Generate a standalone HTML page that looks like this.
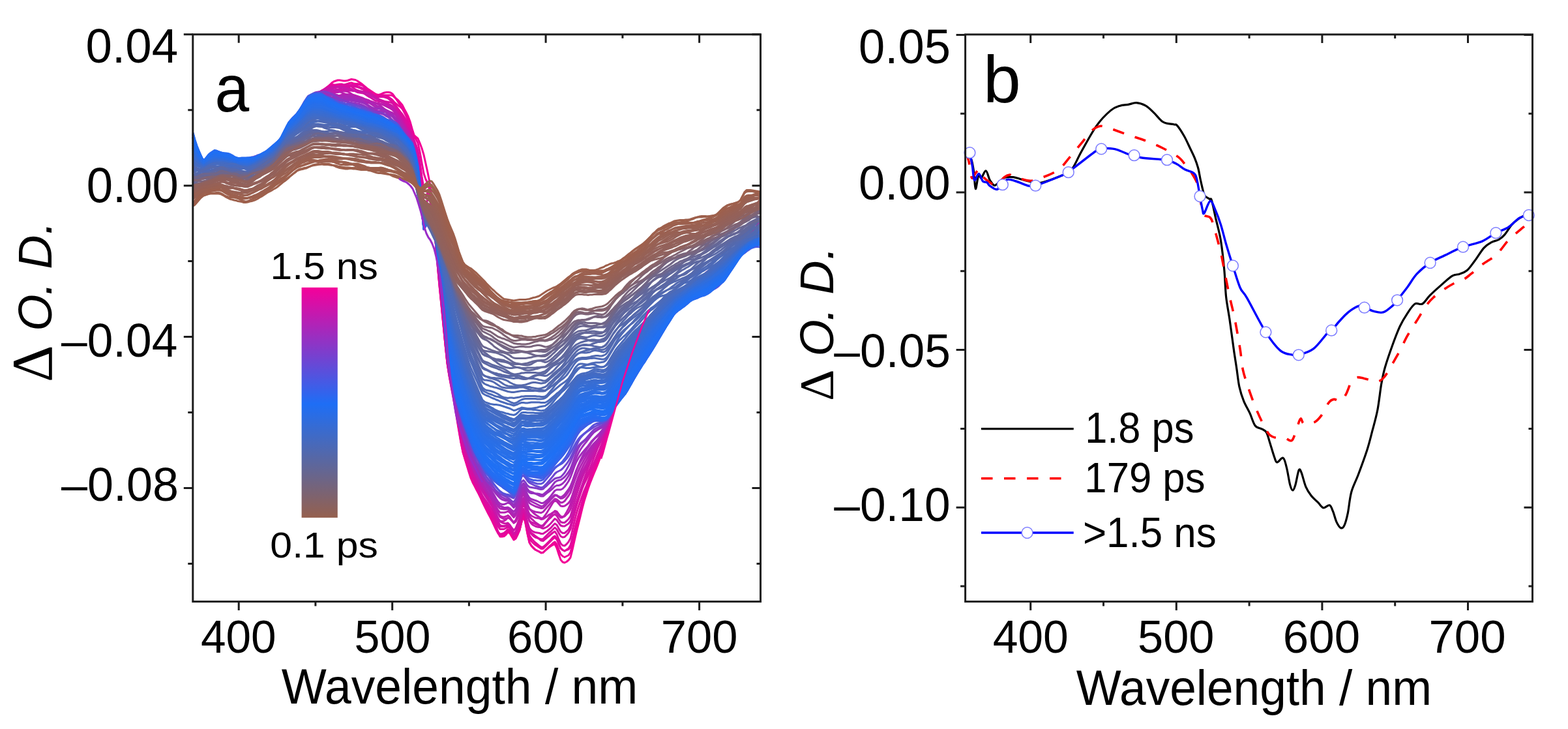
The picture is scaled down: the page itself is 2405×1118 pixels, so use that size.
<!DOCTYPE html><html><head><meta charset="utf-8"><style>html,body{margin:0;padding:0;background:#fff;overflow:hidden}</style></head><body><svg width="2405" height="1118" viewBox="0 0 2405 1118" style="font-family:'Liberation Sans',sans-serif;display:block">
<rect width="100%" height="100%" fill="#fff"/>
<defs><linearGradient id="cb" x1="0" y1="0" x2="0" y2="1"><stop offset="0" stop-color="#f5009a"/><stop offset="0.506" stop-color="#1e6ef5"/><stop offset="1" stop-color="#95604e"/></linearGradient></defs>
<g><g fill="none" stroke-width="3" stroke-linejoin="round"><path d="M476 152l3-1 3-0.5 3-0.5 3-1 3-1.5 3-2.5 3-3 3-3.5 3-4.5 3-4 3-3 3-2 3-1 3-1 3 0 3 0.5 3 0.5 3 0 3-0.5 3-1 3-1 3 0.5 3 0.5 3 1.5 3 2 3 2 3 2.5 3 2.5 3 2.5 3 2 3 2 3 2 3 2 3 1.5 3 0.5 3 0.5 3 0 3 0 3 0 3 0 3 0 3 0.5 3 2.5 3 2.5 3 2.5 3 3.5 3 3.5 3 6 3 5.5 3 6 3 8 3 11 3 9.5 3 3 3 2.5 3 7 3 8 3 10 3 13.5 3 13.5 3 15 3 22 3 28.5 3 36.5 3 38.5 3 33.5 3 30 3 30.5 3 29.5 3 27.5 3 18 3 15.5 3 15.5 3 17 3 19 3 18.5 3 18.5 3 15 3 10 3 9.5 3 9 3 9 3 7 3 5.5 3 6.5 3 6.5 3 6.5 3 7 3 5.5 3 5.5 3 4.5 3 4.5 3 5 3 7.5 3 7.5 3 8 3 5.5 3 0 3-0.5 3-2.5 3-4 3 2 3 5 3 5 3-2 3-6 3-7 3-13 3-10 3 12 3 16.5 3 13.5 3 5 3 3 3 3 3 1.5 3 1.5 3 1.5 3 0 3-3 3-2.5 3-2.5 3-2 3-2 3-1 3 6 3 9.5 3 8.5 3 3.5 3 1 3-1.5 3-2.5 3-4 3-12 3-13.5 3-13 3-12 3-12 3-12.5 3-11.5 3-9.5 3-9.5 3-8.5 3-7.5 3-7.5 3-7 3-7.5 3-8 3-9.5 3-11 3-12.5 3-12.5 3-12 3-10 3-10 3-9 3-9.5 3-8.5 3-9 3-8 3-8 3-8 3-9 3-9 3-9 3-8.5 3-8 3-7.5 3-7 3-7 3-6 3-5.5 3-1.5 3-1 3-2 3-3 3-3 3-3.5 3-3 3-2.5 3-2.5 3-2.5 3-2.5 3-2.5 3-1.5 3-1 3-1 3-1 3-1 3-2 3-2 3-2.5 3-2.5 3-2.5 3-2.5 3-2.5 3-3 3-3.5 3-3 3-3.5 3-3 3-3 3-2.5 3-2 3-1.5 3-1.5 3-1.5 3-1.5 3-2.5 3-3.5 3-3 3-3.5 3-3.5 3-3 3-3 3-4 3-3.5 3-4 3-3.5 3-3.5 3-2 3-1.5 3-1.5 3-1 3-2 3-2 3-2.5 3-3 3-3 3-3 1-0.5" stroke="#f30096"/>
<path d="M476 151.5l3-2.5 3-2 3-2 3-2 3-1.5 3-2 3-2.5 3-2 3-2.5 3-2 3-1 3 0.5 3 0.5 3 1 3 0 3 0 3-1 3-1 3-1 3-1 3-0.5 3 1 3 0.5 3 0 3 0.5 3 1 3 1.5 3 3 3 3 3 3 3 3 3 2 3 1 3 0.5 3-1.5 3-1 3-1.5 3-1 3-0.5 3 0 3 0.5 3 2 3 4 3 4.5 3 4.5 3 4.5 3 4.5 3 5.5 3 5.5 3 5 3 7 3 9.5 3 10 3 5 3 6 3 13.5 3 17 3 16 3 9 3 6 3 10.5 3 19 3 25.5 3 33.5 3 36 3 32 3 29.5 3 30.5 3 30.5 3 29 3 19 3 17 3 16 3 17 3 18 3 18 3 17 3 14.5 3 10 3 10 3 10 3 9.5 3 7 3 5.5 3 6 3 5.5 3 6 3 6.5 3 6.5 3 6 3 6 3 5.5 3 6 3 6.5 3 6.5 3 5.5 3 3 3-1.5 3-1.5 3-2 3-3 3 2.5 3 6 3 5 3-1.5 3-6 3-6.5 3-12.5 3-9.5 3 12 3 16 3 13.5 3 5 3 3.5 3 2.5 3 1.5 3 1.5 3 2 3-0.5 3-3 3-3 3-3 3-2.5 3-3 3-2 3 4 3 8 3 7 3 3 3 1.5 3-1.5 3-1.5 3-4.5 3-11.5 3-13.5 3-13 3-11.5 3-11 3-11.5 3-10 3-9 3-8.5 3-8 3-8.5 3-8 3-8.5 3-8 3-7.5 3-8 3-9 3-10 3-10.5 3-11.5 3-10 3-10.5 3-9.5 3-9.5 3-9.5 3-9 3-8.5 3-8 3-8 3-8.5 3-9 3-8.5 3-8 3-8 3-7 3-7 3-7 3-7.5 3-7 3-3 3-2 3-2 3-1.5 3-1.5 3-2 3-2 3-3 3-2.5 3-3.5 3-2.5 3-3 3-2 3-2.5 3-2.5 3-2.5 3-2 3-2 3-1.5 3-1.5 3-1.5 3-1.5 3-2 3-2 3-1.5 3-2 3-2 3-3 3-3 3-3 3-3 3-2.5 3-2.5 3-2.5 3-2.5 3-3 3-3.5 3-4 3-4 3-3 3-3 3-2.5 3-1.5 3-1.5 3-1.5 3-1.5 3-2 3-2.5 3-3.5 3-4 3-4 3-4 3-3.5 3-3.5 3-3.5 3-3.5 3-4 3-3.5 1-1" stroke="#ed0398"/>
<path d="M476 156.5l3-4 3-3 3-3.5 3-2.5 3-2.5 3-2 3-1.5 3-1.5 3-1.5 3-1.5 3-1 3-1 3-1 3-0.5 3-0.5 3 0 3 1 3 0.5 3 1 3 0 3-0.5 3 0 3-0.5 3-0.5 3 0 3 0.5 3 1 3 2.5 3 2.5 3 3 3 3 3 2.5 3 2 3 0.5 3-0.5 3-0.5 3-0.5 3 0.5 3 0.5 3 2 3 2 3 2.5 3 3.5 3 2.5 3 2.5 3 2 3 3 3 5 3 6 3 6.5 3 8.5 3 10.5 3 11 3 7.5 3 9 3 17.5 3 22 3 18.5 3 4 3-1 3 6.5 3 16 3 23.5 3 31.5 3 35 3 31.5 3 30 3 31 3 31.5 3 29 3 19 3 15.5 3 15.5 3 16.5 3 17.5 3 17 3 17 3 13.5 3 8.5 3 8.5 3 9 3 9 3 7 3 6.5 3 6 3 6 3 6.5 3 6 3 5.5 3 6 3 5.5 3 6 3 6.5 3 8 3 8.5 3 8.5 3 5 3 0 3-0.5 3-3 3-4.5 3 1.5 3 4.5 3 5.5 3-1.5 3-5 3-6 3-12 3-10 3 10 3 14 3 11.5 3 4 3 3 3 2.5 3 2 3 2 3 2 3 0 3-3 3-3 3-3 3-3 3-3 3-2.5 3 3.5 3 7 3 6.5 3 2.5 3 1.5 3-1.5 3-1 3-3.5 3-11 3-12 3-11.5 3-10.5 3-11 3-11 3-11 3-9 3-9.5 3-8.5 3-8 3-8 3-7.5 3-7.5 3-7.5 3-8.5 3-9.5 3-11 3-11 3-11 3-10.5 3-10 3-9.5 3-9.5 3-9.5 3-8.5 3-8 3-6.5 3-7 3-7 3-7.5 3-7.5 3-7.5 3-7 3-7 3-6.5 3-6.5 3-7.5 3-7 3-4 3-3 3-2.5 3-2 3-2 3-2 3-2.5 3-2.5 3-3 3-2.5 3-2 3-1.5 3-1 3-1 3-1 3-1.5 3-2.5 3-3 3-3.5 3-3 3-3.5 3-3 3-2.5 3-1.5 3-1.5 3-2 3-1.5 3-2.5 3-3 3-3 3-2.5 3-2.5 3-2 3-1.5 3-2 3-2 3-2 3-2 3-2 3-2 3-2.5 3-2.5 3-3 3-3.5 3-3.5 3-3.5 3-4 3-4 3-4 3-4 3-3.5 3-3.5 3-3 3-3 3-3 3-3.5 3-4.5 3-5 1-1" stroke="#e8069b"/>
<path d="M476 152.5l3-3 3-2 3-2.5 3-2 3-2.5 3-2 3-1.5 3-2 3-2 3-1.5 3-1 3 0 3 0 3 0.5 3 0.5 3 0.5 3 0.5 3 0.5 3 0 3-0.5 3-0.5 3 0.5 3 0.5 3 0.5 3 1 3 1.5 3 1 3 2 3 1 3 1.5 3 1.5 3 2 3 2 3 1.5 3 0 3-0.5 3 0 3-0.5 3 0.5 3 1.5 3 2 3 3 3 4.5 3 4.5 3 4 3 4 3 3.5 3 4.5 3 4.5 3 4.5 3 6 3 9.5 3 11 3 9 3 12 3 21 3 26 3 20.5 3-0.5 3-8 3 2.5 3 13.5 3 21.5 3 30 3 33.5 3 32 3 31 3 31.5 3 32 3 29.5 3 19.5 3 16 3 15.5 3 16 3 18 3 17.5 3 17.5 3 14.5 3 10 3 9.5 3 9.5 3 9.5 3 8 3 6.5 3 6.5 3 6.5 3 7 3 6.5 3 6.5 3 5.5 3 5 3 5 3 5.5 3 7 3 7.5 3 7.5 3 4 3-1 3-1 3-2.5 3-3.5 3 2 3 5.5 3 4.5 3-2.5 3-6.5 3-7.5 3-12.5 3-9.5 3 10 3 14 3 12 3 4.5 3 3.5 3 3 3 2.5 3 2.5 3 2 3 0 3-2.5 3-3 3-3 3-3 3-3.5 3-2 3 4 3 7.5 3 7 3 3 3 1.5 3-2 3-2 3-5 3-11 3-12.5 3-11.5 3-10.5 3-10.5 3-11 3-10.5 3-9.5 3-9.5 3-9.5 3-9 3-8.5 3-8 3-8 3-7.5 3-7.5 3-8.5 3-9.5 3-9.5 3-10 3-8.5 3-9 3-9 3-8.5 3-8.5 3-8.5 3-8.5 3-8 3-7.5 3-8 3-8 3-7.5 3-8 3-8 3-8 3-7.5 3-7 3-7 3-6.5 3-2.5 3-1.5 3-2 3-2.5 3-2 3-2 3-2 3-1.5 3-1 3-2 3-1.5 3-2.5 3-2 3-2.5 3-2.5 3-2 3-2.5 3-2 3-2 3-2.5 3-2.5 3-2.5 3-2.5 3-3 3-3 3-3.5 3-3 3-3 3-2.5 3-2 3-1.5 3-1.5 3-1.5 3-1.5 3-2.5 3-2.5 3-3 3-2.5 3-3 3-3 3-2.5 3-3.5 3-3 3-3.5 3-3.5 3-3.5 3-3 3-2.5 3-1.5 3-2 3-2.5 3-3 3-3.5 3-4.5 3-5 3-5.5 3-6.5 3-6 1-1.5" stroke="#e2099d"/>
<path d="M476 155.5l3-3 3-2.5 3-2 3-2.5 3-2 3-1.5 3-1.5 3-1.5 3-1 3-0.5 3 0 3 1 3 0.5 3 0.5 3-0.5 3-1 3-1.5 3-2 3-2 3-1.5 3-1 3 0.5 3 1 3 1 3 1 3 1 3 1 3 2 3 2 3 2 3 2 3 2 3 2 3 1 3 0 3 0 3 0 3 0.5 3 1 3 1.5 3 2.5 3 3 3 4 3 3.5 3 4 3 4 3 4 3 5 3 5.5 3 5.5 3 6.5 3 9.5 3 11 3 10 3 12.5 3 23.5 3 29 3 22.5 3-2 3-10.5 3 1.5 3 13 3 21 3 28.5 3 33 3 31 3 30.5 3 31.5 3 32 3 29 3 20 3 15 3 15 3 15.5 3 16 3 16 3 16 3 13.5 3 9.5 3 9.5 3 10 3 10 3 8 3 6.5 3 6.5 3 6 3 6 3 6 3 5.5 3 6 3 5.5 3 5 3 5.5 3 7 3 6.5 3 6 3 4 3 0 3 0 3-1.5 3-2.5 3 2.5 3 5.5 3 4.5 3-2 3-6.5 3-7.5 3-12.5 3-9.5 3 9 3 12.5 3 10.5 3 3.5 3 2 3 2.5 3 2 3 2.5 3 2.5 3 0.5 3-2.5 3-2.5 3-2.5 3-2.5 3-2.5 3-2 3 4.5 3 7.5 3 6.5 3 3 3 0.5 3-2.5 3-3.5 3-5.5 3-12.5 3-13 3-12 3-10 3-9 3-8.5 3-8 3-7 3-7.5 3-7.5 3-7.5 3-7.5 3-7.5 3-7.5 3-7.5 3-7.5 3-9 3-9 3-9.5 3-10 3-9 3-9 3-9.5 3-9.5 3-9.5 3-9 3-9 3-8 3-8.5 3-8 3-7 3-7 3-6 3-6 3-6 3-6.5 3-6 3-7 3-6.5 3-4 3-3 3-3 3-3.5 3-3 3-2.5 3-3 3-2.5 3-2.5 3-2.5 3-3 3-2.5 3-3.5 3-3.5 3-3.5 3-3 3-3 3-2.5 3-2 3-2 3-2 3-1.5 3-1.5 3-0.5 3-1 3-1.5 3-1.5 3-1.5 3-2.5 3-3 3-3 3-3 3-3 3-2.5 3-2 3-1.5 3-2 3-1.5 3-2 3-2 3-3 3-3 3-3 3-3 3-3.5 3-3.5 3-3.5 3-4.5 3-4 3-4 3-3.5 3-3.5 3-2 3-2 3-1 3-1.5 3-1 3-1.5 1 0" stroke="#dd0ca0"/>
<path d="M476 149.5l3-2.5 3-1 3-1 3-0.5 3-1 3-1 3-0.5 3-1.5 3-1.5 3-1.5 3-1.5 3-1 3-0.5 3-1 3-1 3-1 3-1 3-0.5 3 0 3 1 3 1.5 3 2.5 3 2 3 1.5 3 1 3 0.5 3 0.5 3 0.5 3 0.5 3 1 3 1 3 2.5 3 2.5 3 2 3 1.5 3 1.5 3 1 3 1 3 0.5 3 0.5 3 0.5 3 1.5 3 3 3 3.5 3 5 3 5 3 5 3 6.5 3 5.5 3 5.5 3 5.5 3 6.5 3 9 3 9 3 12 3 24.5 3 31.5 3 24.5 3-2.5 3-13 3 0.5 3 11.5 3 19 3 26.5 3 31.5 3 31 3 31 3 32.5 3 32.5 3 30 3 21.5 3 16 3 15.5 3 16 3 16.5 3 16 3 16.5 3 14.5 3 10.5 3 10.5 3 10.5 3 10 3 8 3 6.5 3 5.5 3 6 3 5 3 5 3 4.5 3 4 3 4 3 4.5 3 5 3 7 3 7 3 6.5 3 4.5 3 0 3 0 3-1 3-1.5 3 3 3 5.5 3 4.5 3-2.5 3-6.5 3-7.5 3-11.5 3-8 3 9.5 3 13 3 10.5 3 4 3 3 3 2 3 1 3 1 3 1 3-0.5 3-3 3-3 3-3 3-2.5 3-3 3-3 3 3 3 5.5 3 5 3 1.5 3-0.5 3-3 3-3.5 3-5.5 3-11.5 3-12 3-11.5 3-9.5 3-9 3-8.5 3-7.5 3-6 3-6.5 3-6.5 3-6.5 3-6.5 3-7 3-7.5 3-7 3-7.5 3-8.5 3-9 3-9.5 3-9.5 3-9 3-9.5 3-9 3-9 3-9 3-8 3-7 3-5.5 3-5.5 3-6 3-5.5 3-6.5 3-6.5 3-7 3-7.5 3-8 3-8.5 3-8.5 3-7.5 3-3.5 3-3 3-2 3-2 3-1.5 3-2 3-2.5 3-3 3-3.5 3-3.5 3-3.5 3-3 3-2.5 3-2 3-1.5 3-1.5 3-2.5 3-2.5 3-3 3-3.5 3-3 3-3 3-2.5 3-1.5 3-2 3-2.5 3-2.5 3-3 3-2 3-1.5 3-0.5 3-0.5 3-1 3-1.5 3-1.5 3-2.5 3-2.5 3-2.5 3-2.5 3-3.5 3-3.5 3-4 3-4 3-3.5 3-3.5 3-3 3-3 3-3 3-2.5 3-2.5 3-2.5 3-2.5 3-2.5 3-2.5 3-2.5 3-3.5 3-3 3-3 1-0.5" stroke="#d70ea2"/>
<path d="M476 152.5l3-2 3-2 3-2 3-2 3-2.5 3-2.5 3-1.5 3-2 3-1 3-1.5 3-0.5 3 0 3 0.5 3 0 3 0.5 3 0 3 0 3 0 3 0.5 3 0.5 3 1.5 3 2 3 1.5 3 1.5 3 0.5 3 0.5 3 0.5 3 1.5 3 2 3 2 3 1.5 3 2 3 2 3 1 3 0.5 3 0.5 3 1 3 0.5 3 1 3 1.5 3 1 3 2.5 3 3 3 3.5 3 4 3 4 3 4.5 3 5.5 3 6 3 5.5 3 5.5 3 7 3 9.5 3 10.5 3 13.5 3 26 3 34 3 26.5 3-3.5 3-14 3-1.5 3 10 3 16.5 3 24 3 28.5 3 29.5 3 30.5 3 33 3 34 3 31.5 3 22.5 3 16.5 3 15 3 15 3 15.5 3 14.5 3 14.5 3 13 3 9.5 3 9.5 3 10 3 9.5 3 8.5 3 7 3 6.5 3 6 3 5.5 3 5 3 4.5 3 4 3 3.5 3 4.5 3 5.5 3 7.5 3 8 3 8.5 3 5.5 3 1 3 0 3-0.5 3-1.5 3 3 3 6 3 5.5 3-2 3-6.5 3-8 3-13 3-9 3 8 3 12 3 9.5 3 3.5 3 2 3 1 3 0.5 3 0.5 3 1 3 0 3-2 3-2 3-2.5 3-2.5 3-3.5 3-3 3 2 3 5.5 3 5 3 2 3 0 3-2.5 3-3 3-5.5 3-11 3-12 3-11.5 3-10 3-9.5 3-8 3-7 3-6 3-6.5 3-7 3-8 3-8 3-8 3-7.5 3-6.5 3-6.5 3-7 3-8 3-7.5 3-8.5 3-8 3-7.5 3-8 3-8 3-7.5 3-8 3-7 3-6.5 3-7 3-7 3-7.5 3-7 3-7.5 3-7.5 3-7 3-7 3-7 3-6.5 3-6 3-3 3-2 3-2.5 3-2.5 3-3 3-3 3-3 3-4 3-3.5 3-4 3-3.5 3-3 3-3 3-2.5 3-2 3-2.5 3-2 3-2 3-2 3-1.5 3-1.5 3-1.5 3-1.5 3-1.5 3-1.5 3-1.5 3-1.5 3-1 3-1.5 3-2 3-2 3-3 3-3 3-3 3-2.5 3-2 3-2.5 3-2.5 3-3 3-3 3-4 3-4 3-4 3-3.5 3-3.5 3-3.5 3-3.5 3-4 3-3 3-3 3-3 3-2.5 3-2.5 3-2 3-2.5 3-3 3-3.5 3-3 1-0.5" stroke="#d211a5"/>
<path d="M476 149l3-3 3-2 3-1.5 3-1 3-1 3-0.5 3-0.5 3 0 3-0.5 3-0.5 3-0.5 3 0 3-0.5 3-0.5 3-0.5 3 0 3 1 3 0.5 3 1 3 0 3 0 3 0.5 3 0 3 0.5 3 0 3 0.5 3 0 3 1 3 0.5 3 1 3 2 3 1.5 3 2.5 3 2 3 1 3 1.5 3 1.5 3 1.5 3 1.5 3 1.5 3 1.5 3 1.5 3 3 3 3 3 5 3 5.5 3 6.5 3 7 3 6.5 3 6 3 5.5 3 6.5 3 9.5 3 10 3 13.5 3 26 3 33.5 3 26 3-4 3-15 3 0 3 11.5 3 18 3 24.5 3 28.5 3 28.5 3 30 3 31.5 3 32 3 30 3 21 3 15 3 14.5 3 15 3 15.5 3 15 3 15 3 12.5 3 9.5 3 9.5 3 9 3 10 3 8 3 6.5 3 6 3 5.5 3 5.5 3 5 3 4.5 3 5 3 5 3 5 3 5.5 3 7 3 7 3 7 3 5 3 1.5 3 1 3 0.5 3-1 3 3 3 4.5 3 4 3-3.5 3-7.5 3-8.5 3-12.5 3-8.5 3 7.5 3 10 3 8 3 2.5 3 1 3 1.5 3 1 3 2 3 3 3 1 3-1 3-1.5 3-2.5 3-3 3-3.5 3-3.5 3 2 3 4.5 3 4 3 1 3 0 3-2 3-2 3-4 3-9 3-10 3-9.5 3-9 3-9 3-9 3-9 3-8.5 3-8.5 3-8 3-7.5 3-7 3-6.5 3-5.5 3-6 3-6 3-7 3-7.5 3-7.5 3-8 3-7 3-7 3-7 3-7.5 3-7.5 3-7.5 3-7.5 3-7 3-7 3-8 3-7.5 3-8.5 3-7.5 3-7.5 3-7 3-6 3-6 3-6 3-5.5 3-3.5 3-3 3-3 3-3 3-3.5 3-2.5 3-2.5 3-2.5 3-2.5 3-2.5 3-2.5 3-2.5 3-3 3-3 3-2.5 3-3 3-2.5 3-2.5 3-2.5 3-2 3-2.5 3-2.5 3-2 3-2 3-1.5 3-1.5 3-1.5 3-1.5 3-2.5 3-2.5 3-3 3-4 3-3 3-3 3-2 3-1.5 3-1 3-1.5 3-1.5 3-2.5 3-4 3-4.5 3-4.5 3-4.5 3-4.5 3-3.5 3-3.5 3-3 3-2.5 3-2 3-2.5 3-2 3-2 3-2.5 3-3 3-3 3-3 3-2.5 1-0.5" stroke="#cc14a7"/>
<path d="M476 148.5l3-2 3-1 3-1.5 3-1.5 3-2 3-1.5 3-1 3-1 3-1 3-1 3-0.5 3-0.5 3-0.5 3-0.5 3 0 3 0.5 3 1 3 1 3 1 3 1 3 0.5 3 1 3 0.5 3 0.5 3 0.5 3 0.5 3 1 3 1.5 3 1.5 3 1 3 1.5 3 1 3 2 3 1.5 3 1.5 3 1.5 3 2 3 2 3 1 3 1.5 3 1 3 2.5 3 3.5 3 4 3 4.5 3 5 3 4.5 3 5 3 5 3 5 3 5.5 3 7 3 11 3 12.5 3 15.5 3 27.5 3 34.5 3 26 3-6 3-17.5 3-2.5 3 9.5 3 16 3 22 3 27 3 28 3 29.5 3 32 3 33 3 30 3 22.5 3 16 3 16 3 16.5 3 16.5 3 15 3 15 3 12.5 3 9 3 8.5 3 9.5 3 9.5 3 8.5 3 8 3 7.5 3 7 3 7 3 6.5 3 5.5 3 5 3 4.5 3 4.5 3 4.5 3 6 3 6.5 3 6 3 3.5 3 0.5 3-0.5 3-2 3-3 3 1 3 3.5 3 3.5 3-2.5 3-6 3-7.5 3-10.5 3-6 3 8.5 3 12 3 9 3 4 3 2.5 3 1.5 3 1 3 0.5 3 0 3-1.5 3-4 3-3.5 3-3.5 3-2.5 3-3 3-2 3 2.5 3 5 3 4.5 3 1 3 0 3-2.5 3-3 3-4.5 3-10 3-11 3-10.5 3-9.5 3-9 3-8.5 3-7.5 3-6.5 3-6 3-5.5 3-5 3-5.5 3-6 3-6 3-6.5 3-7 3-8 3-8 3-7.5 3-8 3-7.5 3-6.5 3-7 3-7 3-7 3-7.5 3-7 3-6.5 3-6.5 3-6.5 3-6 3-6.5 3-6 3-6 3-6.5 3-7 3-7 3-8 3-7 3-4 3-3 3-2.5 3-3 3-2.5 3-3 3-3.5 3-3.5 3-4 3-4 3-4 3-3.5 3-3 3-3 3-2 3-1.5 3-1.5 3-2 3-1.5 3-2.5 3-2.5 3-3 3-3.5 3-3 3-2.5 3-1.5 3-1.5 3-0.5 3-0.5 3-1 3-1 3-1.5 3-2 3-2.5 3-3 3-3.5 3-4.5 3-4 3-3 3-3.5 3-3 3-3 3-3 3-3.5 3-3.5 3-3 3-2.5 3-2.5 3-2 3-2 3-2 3-2 3-2.5 3-2.5 3-3 3-3.5 3-4 3-4 1-0.5" stroke="#c717aa"/>
<path d="M476 150l3-2 3-1 3-0.5 3-0.5 3 0 3-0.5 3-0.5 3-1 3-1 3-1.5 3-0.5 3 0.5 3 0 3 0 3-0.5 3-0.5 3-0.5 3 0 3 0.5 3 1.5 3 2 3 2.5 3 3 3 2 3 2 3 1.5 3 0.5 3 0.5 3 0 3 0 3 0 3 0.5 3 1 3 1 3 0 3 1 3 1 3 1.5 3 1.5 3 1.5 3 1.5 3 2 3 3 3 3.5 3 4 3 5 3 5.5 3 5.5 3 5.5 3 5 3 5.5 3 6.5 3 10.5 3 12 3 15.5 3 28 3 35.5 3 28 3-5 3-16.5 3-1.5 3 10 3 15.5 3 21.5 3 25.5 3 27 3 29.5 3 31.5 3 33 3 30.5 3 22.5 3 15.5 3 14.5 3 15 3 15.5 3 15 3 14.5 3 13.5 3 10 3 9 3 8.5 3 8.5 3 7.5 3 6 3 6 3 5.5 3 5.5 3 5.5 3 4.5 3 4 3 4 3 4 3 5 3 6 3 7 3 6.5 3 4.5 3 1 3 0.5 3-1 3-1.5 3 2.5 3 4.5 3 4.5 3-2 3-6 3-7.5 3-12 3-7 3 6.5 3 10 3 8 3 3.5 3 2.5 3 3 3 2 3 2 3 1.5 3-1 3-3.5 3-3.5 3-4 3-4 3-4 3-3 3 1 3 4 3 3.5 3 0.5 3-0.5 3-3 3-3 3-5 3-9.5 3-10.5 3-9.5 3-9 3-8 3-7 3-6 3-5.5 3-5.5 3-6.5 3-6.5 3-6.5 3-6 3-5 3-5 3-4.5 3-6 3-6.5 3-7 3-8.5 3-8 3-8 3-8 3-8.5 3-8 3-8 3-7 3-6.5 3-6 3-6.5 3-6 3-6 3-6 3-6.5 3-7 3-7.5 3-7 3-7 3-6.5 3-3.5 3-3 3-3 3-3 3-3 3-2.5 3-1.5 3-1 3-1 3-2 3-3 3-4 3-4.5 3-5.5 3-4 3-3.5 3-3 3-2.5 3-2 3-2 3-1.5 3-1.5 3-1 3-1.5 3-1.5 3-1.5 3-1.5 3-1.5 3-1.5 3-2 3-2.5 3-3.5 3-3 3-3 3-2.5 3-1.5 3-1.5 3-1.5 3-2 3-3 3-4.5 3-4.5 3-4.5 3-5 3-4.5 3-4.5 3-4.5 3-3.5 3-3 3-3 3-2.5 3-2.5 3-2 3-2 3-1.5 3-1.5 3-1 3-1 1 0" stroke="#c11aac"/>
<path d="M476 153.5l3-3 3-2.5 3-2 3-2.5 3-1.5 3-1 3-1 3 0 3-0.5 3-1 3 0 3-0.5 3 0.5 3 0.5 3 1.5 3 1.5 3 1.5 3 1 3 0.5 3 0 3 0 3 0.5 3 1 3 1 3 1 3 1 3 1 3 1.5 3 1 3 1 3 1.5 3 1 3 1.5 3 0.5 3 0.5 3 0.5 3 0.5 3 1 3 1 3 1.5 3 1 3 2 3 3 3 4 3 4.5 3 5.5 3 6 3 5.5 3 5.5 3 5.5 3 5 3 5.5 3 9.5 3 12.5 3 15 3 27.5 3 36 3 28 3-4.5 3-16.5 3-1 3 10 3 14.5 3 20 3 23.5 3 26 3 29 3 32.5 3 33.5 3 31 3 23 3 15 3 14 3 14.5 3 14.5 3 14.5 3 15 3 14 3 11.5 3 10.5 3 10.5 3 9 3 7.5 3 5.5 3 5 3 5 3 5.5 3 6 3 5.5 3 5.5 3 4.5 3 4.5 3 5 3 6.5 3 6.5 3 6.5 3 5 3 1.5 3 1.5 3-0.5 3-1.5 3 1.5 3 3 3 2.5 3-3.5 3-8 3-8.5 3-11 3-6.5 3 7.5 3 10 3 7.5 3 2.5 3 1.5 3 1.5 3 0.5 3 0.5 3 1.5 3-0.5 3-2 3-2 3-2.5 3-1.5 3-2 3-1.5 3 2.5 3 4 3 3 3-0.5 3-3 3-5 3-5.5 3-6.5 3-10.5 3-10.5 3-9 3-7.5 3-6.5 3-6 3-5.5 3-5.5 3-6 3-6.5 3-6 3-6 3-5.5 3-5.5 3-5.5 3-5.5 3-6.5 3-6 3-6.5 3-7.5 3-6.5 3-6.5 3-7 3-6.5 3-6.5 3-6.5 3-6 3-6 3-6 3-6 3-6 3-6 3-6 3-7 3-7 3-8 3-7.5 3-7 3-6 3-4 3-3 3-3.5 3-4 3-3.5 3-4 3-3.5 3-3.5 3-2.5 3-3 3-2.5 3-3 3-3 3-3.5 3-3 3-2.5 3-2.5 3-1.5 3-2 3-2 3-2 3-3 3-2.5 3-2 3-1.5 3-1 3-1 3-1 3-1 3-1.5 3-1.5 3-2 3-2 3-2.5 3-2.5 3-2.5 3-3 3-2.5 3-3.5 3-3.5 3-4.5 3-4.5 3-4.5 3-4 3-3 3-3 3-2.5 3-2 3-2 3-2.5 3-2.5 3-2.5 3-2 3-2.5 3-2.5 3-2.5 3-3 3-2.5 1-0.5" stroke="#bc1daf"/>
<path d="M476 152l3-1.5 3-1 3 0 3-1 3-1 3-1.5 3-1.5 3-1 3-1 3 0 3 0.5 3 1.5 3 1.5 3 0.5 3 0 3-1 3-0.5 3 0 3 0 3 0 3 0 3 1.5 3 1.5 3 2 3 2 3 2 3 1.5 3 1.5 3 0.5 3 0.5 3-0.5 3 0.5 3 0 3 1 3 1.5 3 2 3 2.5 3 2.5 3 2 3 1.5 3 1 3 1 3 2 3 3 3 4.5 3 6 3 6.5 3 6.5 3 5.5 3 5 3 4 3 4 3 8.5 3 10.5 3 14 3 27.5 3 35.5 3 28 3-4.5 3-17 3-1 3 9.5 3 15 3 19 3 23 3 25.5 3 28.5 3 31.5 3 33 3 30.5 3 24 3 16.5 3 16 3 16.5 3 16.5 3 15.5 3 14.5 3 13 3 10.5 3 9.5 3 10 3 9.5 3 8 3 7 3 6 3 5 3 5.5 3 5 3 4.5 3 4 3 4 3 4 3 4.5 3 5.5 3 5.5 3 5 3 3.5 3 0 3 0 3-0.5 3-1.5 3 2 3 4 3 3.5 3-3.5 3-7.5 3-8.5 3-11.5 3-6 3 7 3 9.5 3 7.5 3 3 3 3 3 2.5 3 2 3 2 3 2 3-0.5 3-4 3-4.5 3-5 3-5 3-5 3-3.5 3 1.5 3 3.5 3 3.5 3 0.5 3-0.5 3-2 3-2.5 3-4 3-8.5 3-9.5 3-9.5 3-8.5 3-7.5 3-6.5 3-6 3-5.5 3-5.5 3-5.5 3-5.5 3-5.5 3-5 3-5 3-4.5 3-4.5 3-5.5 3-6.5 3-7 3-7.5 3-7.5 3-6.5 3-6 3-5 3-5 3-5.5 3-5.5 3-6 3-7 3-7.5 3-7.5 3-7.5 3-7.5 3-7.5 3-7.5 3-7 3-7 3-6 3-5.5 3-3 3-2.5 3-2.5 3-3 3-3 3-3 3-3 3-3 3-2.5 3-3 3-3 3-3.5 3-4 3-4 3-4 3-3 3-2.5 3-2.5 3-2 3-1 3-1.5 3-1.5 3-1.5 3-2.5 3-2 3-2.5 3-1.5 3-1 3-0.5 3-0.5 3-0.5 3-1.5 3-2.5 3-3 3-4 3-4.5 3-4.5 3-4 3-3.5 3-4 3-3.5 3-3.5 3-3 3-2.5 3-3 3-3 3-3.5 3-3.5 3-3.5 3-3.5 3-3.5 3-3.5 3-3 3-3 3-2.5 3-3.5 3-3 3-3 1-1" stroke="#b620b1"/>
<path d="M476 152l3-2.5 3-1.5 3-2 3-1.5 3-1 3-1 3 0 3-0.5 3 0 3-0.5 3 1 3 1 3 1.5 3 1 3 1.5 3 0.5 3 0 3 0.5 3 0 3 0.5 3 0 3 0.5 3 0.5 3 0 3 0.5 3 0.5 3 0.5 3 1.5 3 2 3 2 3 2.5 3 2 3 2 3 1.5 3 0.5 3 0.5 3 1 3 1 3 1.5 3 2 3 2 3 2.5 3 3 3 2.5 3 3.5 3 4 3 4 3 5.5 3 5 3 5.5 3 6 3 6 3 10.5 3 12.5 3 15 3 27.5 3 35 3 27 3-6 3-18.5 3-2 3 8.5 3 14 3 18.5 3 22.5 3 26 3 30 3 33.5 3 35 3 32 3 24 3 16 3 15 3 15 3 15.5 3 14 3 13.5 3 12.5 3 10 3 9 3 9 3 8.5 3 7.5 3 6.5 3 6 3 5.5 3 5.5 3 5.5 3 5.5 3 5 3 4.5 3 4 3 4 3 4.5 3 4.5 3 4.5 3 3 3 0.5 3 0.5 3 0 3-0.5 3 2.5 3 4 3 3.5 3-2.5 3-7 3-8 3-10.5 3-4.5 3 7 3 8.5 3 7 3 2 3 1.5 3 1 3 0.5 3 0.5 3 0.5 3-1.5 3-3.5 3-3.5 3-3.5 3-3.5 3-3 3-3 3 1 3 2.5 3 2.5 3-0.5 3-2 3-4 3-4 3-5 3-8.5 3-9 3-8 3-7.5 3-6.5 3-5.5 3-5.5 3-5 3-5 3-4.5 3-4.5 3-4 3-3.5 3-4 3-4.5 3-5 3-6.5 3-6.5 3-7.5 3-7.5 3-7 3-6.5 3-6.5 3-6.5 3-6 3-6.5 3-5.5 3-5.5 3-5.5 3-6 3-6 3-6.5 3-7 3-7 3-7.5 3-7 3-7 3-6 3-5 3-3 3-2 3-2.5 3-2.5 3-2.5 3-3 3-3.5 3-3.5 3-4 3-4 3-4.5 3-4 3-4 3-3.5 3-2.5 3-2.5 3-2 3-2 3-1.5 3-2 3-1.5 3-1.5 3-1 3-1 3-0.5 3-1.5 3-1 3-2 3-2 3-2.5 3-3 3-4 3-3.5 3-3 3-3 3-2.5 3-2.5 3-2.5 3-2.5 3-2.5 3-3.5 3-3.5 3-3.5 3-4 3-4 3-4.5 3-4.5 3-4 3-3.5 3-3 3-2.5 3-2 3-1 3-1.5 3-1.5 3-2 3-3 3-2.5 1-1" stroke="#b123b3"/>
<path d="M476 148.5l3-0.5 3 0.5 3 1 3 0.5 3 0 3-0.5 3-0.5 3-1.5 3-1 3-1.5 3 0 3 0.5 3 0.5 3 1 3 0.5 3 0 3-0.5 3 0 3 0 3 0 3 0.5 3 1 3 1 3 1 3 1 3 0.5 3 0.5 3 1 3 1 3 1 3 1.5 3 1.5 3 2 3 2 3 1 3 1 3 1.5 3 1.5 3 1.5 3 2 3 2.5 3 3 3 3.5 3 3.5 3 4.5 3 4.5 3 4.5 3 5 3 4 3 4 3 3.5 3 4.5 3 9 3 12 3 15 3 28 3 36.5 3 28 3-5 3-17.5 3-1.5 3 9 3 14 3 18 3 22 3 26 3 30 3 34 3 35.5 3 32.5 3 25 3 16 3 14.5 3 14.5 3 14 3 13 3 12.5 3 11.5 3 9 3 9 3 8 3 8 3 7 3 5.5 3 4.5 3 5 3 5 3 5.5 3 6 3 6 3 5.5 3 5 3 5 3 5.5 3 4.5 3 4.5 3 3 3 1 3 1.5 3 0.5 3 0 3 2.5 3 4 3 3.5 3-3 3-7.5 3-8.5 3-11 3-5.5 3 5.5 3 7 3 5.5 3 2 3 1.5 3 1.5 3 1 3 1 3 1 3-0.5 3-3 3-3.5 3-3 3-3.5 3-3 3-3 3 0 3 2.5 3 2 3-0.5 3-2 3-3.5 3-4.5 3-5.5 3-9 3-9.5 3-8.5 3-7 3-5.5 3-5 3-4.5 3-4 3-4 3-4 3-4 3-3.5 3-3 3-3 3-3.5 3-4.5 3-5.5 3-6 3-6 3-7.5 3-7 3-7 3-6.5 3-6.5 3-6 3-5.5 3-5.5 3-5 3-6.5 3-6.5 3-7.5 3-7 3-6.5 3-6.5 3-5.5 3-5 3-5.5 3-5.5 3-5 3-4 3-4 3-4 3-3.5 3-4 3-3.5 3-3.5 3-3 3-3.5 3-3.5 3-4 3-4 3-4 3-4 3-3 3-2 3-2 3-2.5 3-2.5 3-2.5 3-2.5 3-2.5 3-2 3-1.5 3-1.5 3-1.5 3-2 3-1.5 3-1.5 3-1.5 3-2 3-2 3-2.5 3-2 3-2.5 3-2 3-2.5 3-2.5 3-3.5 3-4 3-5 3-5 3-5 3-5 3-4 3-4 3-3.5 3-2.5 3-1.5 3-2 3-1.5 3-2.5 3-1.5 3-2 3-2.5 3-3 3-3.5 3-3 1-1" stroke="#ab26b6"/>
<path d="M476 152l3-1.5 3-1 3-1.5 3-1 3-1.5 3-1 3 0 3-0.5 3 0 3-0.5 3 0.5 3 1 3 1 3 1.5 3 1 3 0.5 3 0.5 3 0 3 0.5 3 0 3 1 3 0.5 3 1 3 0.5 3 0.5 3 1 3 1.5 3 2 3 2 3 2 3 2 3 2 3 2 3 1.5 3 0.5 3-0.5 3 0 3-0.5 3 0.5 3 1 3 2 3 3 3 4 3 4.5 3 5.5 3 5.5 3 5.5 3 5 3 4 3 4 3 3.5 3 4 3 9.5 3 12.5 3 15.5 3 28.5 3 36.5 3 28.5 3-5 3-17 3-1.5 3 9.5 3 13.5 3 16.5 3 19.5 3 23.5 3 28 3 32.5 3 34.5 3 32 3 25.5 3 16.5 3 15.5 3 15.5 3 14.5 3 13 3 13 3 11 3 9.5 3 9 3 9 3 9 3 7.5 3 6.5 3 5.5 3 5.5 3 5.5 3 6 3 5.5 3 5.5 3 4.5 3 4.5 3 4.5 3 4.5 3 5 3 4 3 3 3 1 3 1 3 0 3-0.5 3 1.5 3 3 3 2.5 3-3.5 3-8 3-8.5 3-10.5 3-4.5 3 5.5 3 6.5 3 5 3 2 3 1.5 3 1.5 3 1.5 3 1.5 3 1.5 3-0.5 3-3 3-3 3-3 3-2.5 3-3 3-2.5 3 0.5 3 2 3 1 3-1.5 3-2.5 3-4 3-4 3-5 3-7.5 3-8.5 3-8.5 3-7.5 3-7 3-6 3-5.5 3-4.5 3-4.5 3-4 3-4.5 3-3.5 3-3 3-2.5 3-3 3-3.5 3-4 3-5 3-6 3-7 3-6.5 3-6.5 3-6.5 3-6 3-6 3-6 3-5 3-5 3-5.5 3-6.5 3-6.5 3-7 3-7 3-7.5 3-7.5 3-7 3-6.5 3-6.5 3-5 3-3 3-2.5 3-3 3-3 3-3 3-3.5 3-3.5 3-4 3-3.5 3-4 3-4 3-3.5 3-4 3-3.5 3-2 3-1.5 3-1.5 3-2 3-2.5 3-2.5 3-3 3-3 3-3 3-2.5 3-2.5 3-2 3-1.5 3-1.5 3-1.5 3-1 3-1 3-1.5 3-1.5 3-2.5 3-2.5 3-2.5 3-3 3-3 3-3 3-3.5 3-4.5 3-4 3-4.5 3-3.5 3-4 3-3 3-3.5 3-3 3-2 3-2.5 3-2.5 3-2 3-2 3-1.5 3-2 3-1.5 3-1 3-0.5 1 0" stroke="#a629b8"/>
<path d="M476 151l3-2 3-0.5 3-0.5 3-0.5 3-0.5 3-1 3-0.5 3-0.5 3 0 3 0 3 1 3 1 3 1.5 3 1 3 1.5 3 0.5 3 0.5 3 0.5 3 0 3 0 3 0 3 0.5 3 0.5 3 0 3 0.5 3 0.5 3 1.5 3 2.5 3 2.5 3 3 3 2.5 3 2.5 3 1.5 3 1 3 0 3 0 3 0 3 0 3 1 3 1.5 3 2.5 3 2.5 3 3.5 3 3 3 4 3 4 3 4.5 3 4 3 4 3 4.5 3 4 3 4.5 3 9.5 3 12 3 14.5 3 27.5 3 35.5 3 27.5 3-5.5 3-17 3 0 3 11 3 15.5 3 18 3 21 3 24 3 29 3 32.5 3 34.5 3 32 3 25.5 3 16 3 14.5 3 14.5 3 14 3 12.5 3 12 3 11 3 8.5 3 8 3 8 3 8.5 3 7.5 3 7 3 6 3 5.5 3 6 3 5.5 3 5 3 5 3 4 3 4.5 3 5 3 5 3 5.5 3 4.5 3 3 3 1 3 0 3-1 3-1.5 3 1 3 3 3 3.5 3-3 3-7 3-8.5 3-10 3-3.5 3 5.5 3 6.5 3 5 3 2 3 1 3 1 3 1 3 1.5 3 1.5 3 0 3-2 3-2.5 3-3 3-3.5 3-4 3-4 3-1.5 3 0 3 0 3-1.5 3-3 3-4 3-4.5 3-6 3-8 3-8.5 3-7 3-5.5 3-4.5 3-4 3-3.5 3-3.5 3-3.5 3-4 3-4 3-3 3-3 3-3 3-3 3-3.5 3-4 3-5 3-5 3-7 3-6.5 3-6.5 3-6 3-5.5 3-5.5 3-5 3-4.5 3-4.5 3-5.5 3-6.5 3-6.5 3-7 3-7 3-6.5 3-6.5 3-6.5 3-6.5 3-6 3-5.5 3-4 3-3.5 3-4 3-3.5 3-3.5 3-3.5 3-3 3-3 3-3.5 3-3.5 3-4 3-4.5 3-4.5 3-4.5 3-4 3-2.5 3-2.5 3-2.5 3-2.5 3-2.5 3-3 3-2.5 3-2 3-1 3-1 3-0.5 3-0.5 3-1 3-1 3-1 3-1 3-2 3-2.5 3-2 3-2.5 3-2.5 3-2 3-2 3-2 3-3 3-4 3-4 3-4 3-4.5 3-4 3-4.5 3-4 3-4 3-3.5 3-3 3-4 3-3 3-2.5 3-1.5 3-1.5 3-1 3-1 3-0.5 1 0" stroke="#a02bbb"/>
<path d="M476 148l3-2.5 3-1 3-0.5 3 0 3 0 3 1 3 1.5 3 1 3 0.5 3 0.5 3 0.5 3 0.5 3 0.5 3 1 3 1.5 3 0.5 3 0.5 3 0.5 3 0 3 0 3 0.5 3 0.5 3 0.5 3 0.5 3 0.5 3 0.5 3 1 3 1.5 3 1.5 3 2 3 1.5 3 1 3 0.5 3 0.5 3 0 3 0 3 1.5 3 2 3 3.5 3 3.5 3 4 3 3.5 3 3.5 3 3 3 4 3 4 3 4.5 3 4 3 4 3 4 3 3 3 3.5 3 8 3 11 3 14 3 27.5 3 35.5 3 28.5 3-5 3-17 3-0.5 3 10.5 3 15 3 17 3 20.5 3 24.5 3 29.5 3 34 3 35 3 32 3 25 3 15 3 13.5 3 13.5 3 13 3 12 3 12 3 11.5 3 10 3 9 3 9 3 9 3 8 3 7 3 5.5 3 5 3 5 3 5 3 5 3 4.5 3 4 3 3 3 3.5 3 3.5 3 4 3 3.5 3 3 3 2 3 1 3 1 3 0 3 2 3 3.5 3 3 3-3.5 3-7.5 3-9.5 3-10.5 3-4.5 3 3.5 3 5.5 3 3.5 3 1 3 1 3 1.5 3 1.5 3 1.5 3 1 3 0 3-2.5 3-2.5 3-2 3-2.5 3-2.5 3-3 3-1.5 3 0 3-1 3-2 3-3 3-4 3-4.5 3-5.5 3-7.5 3-7.5 3-7.5 3-6.5 3-5.5 3-4.5 3-4 3-3.5 3-4 3-4 3-4 3-3.5 3-2 3-2 3-2 3-2 3-2.5 3-3.5 3-4 3-5.5 3-6 3-6 3-6.5 3-6 3-6 3-5.5 3-4.5 3-4.5 3-5.5 3-6 3-5.5 3-6 3-5.5 3-6 3-6 3-6 3-6.5 3-6.5 3-6.5 3-4.5 3-4 3-4 3-3.5 3-3.5 3-3.5 3-3.5 3-4 3-3.5 3-4 3-3 3-3 3-3.5 3-3 3-2.5 3-2.5 3-2 3-2.5 3-2.5 3-2.5 3-2 3-2.5 3-2 3-2 3-2 3-1.5 3-2.5 3-2 3-2 3-2 3-2 3-2 3-2 3-2 3-2 3-2.5 3-3 3-2.5 3-3 3-4 3-4 3-4.5 3-4 3-3.5 3-4 3-3.5 3-4 3-4 3-3 3-3 3-2.5 3-2.5 3-1 3-1.5 3-0.5 3-1 3 0 3 1 1 0.5" stroke="#9b2ebd"/>
<path d="M476 147.5l3-3 3-2 3-1 3-0.5 3 0 3 1 3 2 3 1.5 3 1.5 3 1 3 1.5 3 1.5 3 1.5 3 1 3 0.5 3 0.5 3 0.5 3 0.5 3 0.5 3 1 3 0.5 3 0.5 3 0.5 3 0.5 3 0.5 3 1 3 1 3 1.5 3 2 3 2 3 2 3 1.5 3 1.5 3 1 3 0.5 3 0.5 3 1 3 1.5 3 2 3 1.5 3 2 3 2.5 3 2 3 3 3 4 3 4.5 3 4.5 3 5 3 4.5 3 4 3 4 3 4.5 3 9.5 3 12 3 14.5 3 27.5 3 35 3 28 3-5.5 3-17 3-1.5 3 10 3 14 3 16 3 19 3 23 3 28.5 3 33 3 35.5 3 32 3 26.5 3 16 3 14 3 14.5 3 13.5 3 11.5 3 11 3 10 3 9 3 8.5 3 9 3 8.5 3 8 3 7 3 4.5 3 4 3 4 3 4.5 3 4.5 3 5 3 4 3 4.5 3 4.5 3 4.5 3 4.5 3 4 3 3 3 2 3 1.5 3 1.5 3 0.5 3 2.5 3 3 3 2.5 3-3.5 3-7 3-8.5 3-9.5 3-2.5 3 4.5 3 5 3 3 3 1 3 0 3 0.5 3 0 3 0.5 3 1 3 0 3-2.5 3-2.5 3-3 3-3 3-4 3-4 3-2 3-1 3-0.5 3-2 3-2.5 3-3.5 3-4 3-5 3-8 3-8.5 3-8 3-7 3-5 3-3.5 3-2.5 3-2 3-2.5 3-3 3-3 3-3 3-2 3-2 3-1.5 3-1.5 3-3 3-3.5 3-4.5 3-6.5 3-6 3-6 3-5.5 3-5.5 3-5 3-4.5 3-5 3-4.5 3-5.5 3-6 3-6 3-6 3-6 3-5.5 3-5.5 3-5.5 3-5 3-4.5 3-5 3-4.5 3-4 3-4.5 3-4.5 3-4 3-4.5 3-4 3-4 3-3.5 3-4 3-4 3-3.5 3-3.5 3-3.5 3-2.5 3-2.5 3-3 3-3.5 3-4 3-3.5 3-3 3-2.5 3-2 3-1 3-1 3-1.5 3-1.5 3-1.5 3-1.5 3-1 3-0.5 3-1 3-1 3-1 3-1.5 3-2 3-2 3-3 3-3.5 3-4.5 3-5.5 3-5.5 3-5.5 3-5 3-5 3-4 3-4 3-3.5 3-3 3-3 3-3.5 3-3 3-2 3-1.5 3-1 3-1 3-0.5 3-0.5 1 0.5" stroke="#9531c0"/>
<path d="M476 148l3-2 3-1 3-1 3-1.5 3-1.5 3-0.5 3 0 3 0.5 3 1 3 1 3 1.5 3 2 3 2 3 2 3 1.5 3 1.5 3 1 3 1 3 1 3 1 3 1 3 1 3 1 3 1 3 0.5 3 0.5 3 1 3 1 3 1.5 3 1 3 1.5 3 1 3 1.5 3 0.5 3 0.5 3 0.5 3 1 3 1.5 3 2 3 2.5 3 2.5 3 2.5 3 2.5 3 2 3 3.5 3 4 3 4 3 4 3 3.5 3 3.5 3 3.5 3 4 3 8.5 3 12 3 14.5 3 27.5 3 36 3 28 3-4.5 3-16.5 3-0.5 3 10.5 3 14.5 3 15.5 3 18 3 22.5 3 28 3 33.5 3 35.5 3 32.5 3 26.5 3 15.5 3 14 3 14.5 3 13 3 11.5 3 11.5 3 10.5 3 9 3 8.5 3 8.5 3 8.5 3 8.5 3 8 3 6.5 3 6 3 6 3 5.5 3 5.5 3 4.5 3 3.5 3 3 3 3 3 3 3 3.5 3 2.5 3 2.5 3 1.5 3 1.5 3 1.5 3 1.5 3 2 3 3 3 1.5 3-4.5 3-8 3-9 3-9.5 3-2.5 3 3.5 3 4.5 3 2.5 3 0.5 3 0.5 3 0.5 3 0.5 3 1 3 0.5 3-0.5 3-3 3-2.5 3-3 3-2.5 3-2.5 3-2.5 3-1 3-0.5 3-1 3-3 3-3.5 3-5 3-5.5 3-6 3-7 3-7 3-5.5 3-5 3-3.5 3-2.5 3-2.5 3-3 3-3.5 3-3.5 3-3.5 3-3 3-2 3-1.5 3-1.5 3-1.5 3-2 3-3 3-3 3-5.5 3-5 3-5.5 3-5 3-5.5 3-5 3-5.5 3-4.5 3-4.5 3-5 3-5 3-5 3-5 3-5 3-5.5 3-5.5 3-6 3-6.5 3-6 3-5.5 3-5 3-4.5 3-4.5 3-4 3-4.5 3-4 3-4 3-4.5 3-4.5 3-4.5 3-4 3-4 3-4 3-4 3-3 3-2.5 3-2 3-2 3-2 3-2.5 3-2 3-2.5 3-2.5 3-2 3-1.5 3-2 3-1 3-1.5 3-1.5 3-1.5 3-2 3-2.5 3-3 3-3 3-2.5 3-2.5 3-3 3-2.5 3-2.5 3-3 3-4 3-4 3-4 3-4.5 3-4.5 3-4 3-4.5 3-3.5 3-3.5 3-2.5 3-3 3-2.5 3-1.5 3-1.5 3-1.5 3-2 3-3 3-3 1-1" stroke="#823bc8"/>
<path d="M476 147l3-1 3 0.5 3 0.5 3 0.5 3 0 3-0.5 3 0.5 3 0.5 3 0.5 3 1 3 1.5 3 2 3 2 3 2 3 1.5 3 0.5 3 0.5 3 0 3 0 3 0 3 0.5 3 0.5 3 1 3 1 3 1 3 1 3 1 3 1 3 1.5 3 1.5 3 1.5 3 1.5 3 1.5 3 1 3 1 3 1.5 3 1.5 3 2 3 2 3 3 3 2.5 3 3 3 2.5 3 2 3 2.5 3 3 3 3 3 3.5 3 4 3 4 3 4 3 4 3 9 3 12 3 15 3 28 3 35.5 3 28 3-5 3-17.5 3-1 3 10 3 14.5 3 15.5 3 18 3 22.5 3 28 3 33 3 36 3 32.5 3 27 3 15 3 13 3 13 3 12 3 10.5 3 10.5 3 10 3 9 3 8.5 3 8.5 3 8 3 7.5 3 7 3 5.5 3 5.5 3 5.5 3 6 3 6 3 5.5 3 3.5 3 3 3 3 3 3 3 3 3 3.5 3 3 3 2.5 3 2.5 3 1.5 3 0.5 3 1 3 1.5 3 1 3-5.5 3-8.5 3-9.5 3-9.5 3-2 3 4 3 4.5 3 3 3 1.5 3 1.5 3 1.5 3 1 3 1 3 1 3-1 3-3 3-3 3-3.5 3-3.5 3-3.5 3-4 3-2.5 3-1.5 3-1.5 3-2.5 3-3.5 3-3.5 3-4.5 3-5 3-6 3-6.5 3-6 3-6.5 3-5 3-3.5 3-3 3-2.5 3-2 3-2 3-2 3-2 3-1.5 3-1.5 3-1 3-1.5 3-2.5 3-3 3-4 3-6 3-5.5 3-5.5 3-5 3-4 3-3.5 3-3.5 3-3.5 3-3.5 3-4.5 3-5.5 3-6 3-6 3-5.5 3-6 3-5.5 3-5.5 3-5.5 3-5.5 3-5.5 3-5 3-5.5 3-5 3-5 3-4 3-3.5 3-3.5 3-3 3-3.5 3-4 3-4 3-5 3-4.5 3-5 3-4 3-3 3-3 3-2 3-2.5 3-1.5 3-2 3-1.5 3-1 3-0.5 3-0.5 3-1 3-1 3-2 3-1.5 3-1.5 3-1.5 3-2 3-1.5 3-1 3-1.5 3-2 3-2.5 3-3 3-4 3-4.5 3-6 3-6 3-5 3-5 3-4.5 3-4.5 3-4.5 3-3.5 3-3.5 3-2.5 3-3 3-3 3-1.5 3-1.5 3-1.5 3-1.5 3-1.5 3-2 1-0.5" stroke="#6f46d1"/>
<path d="M296 210l3 9 3 8 3 6 3 6.5 3 6 3 0 3-3.5 3-3.5 3-2 3-1.5 3-1.5 3 1 3 1.5 3 1.5 3 1 3 0.5 3 0.5 3 0.5 3 0.5 3 1.5 3 1 3 1.5 3 0.5 3 0 3 0 3-0.5 3-1 3-0.5 3-1 3-1 3-0.5 3-1 3-1.5 3-0.5 3-1 3-0.5 3-1 3-0.5 3-2 3-2.5 3-2.5 3-3 3-3.5 3-4 3-4.5 3-6.5 3-6 3-5.5 3-5 3-3.5 3-3 3-3 3-3.5 3-5 3-5 3-5.5 3-5.5 3-4.5 3-4 3-1.5 3-1 3 0 3 0.5 3 0.5 3 0.5 3 0.5 3 1.5 3 1 3 1 3 1 3 0.5 3 1 3 1.5 3 1 3 1.5 3 0.5 3 1 3 1 3 0.5 3 1 3 1 3 1.5 3 1 3 1.5 3 1 3 0.5 3 1 3 0.5 3 1.5 3 1 3 1.5 3 2 3 2 3 1.5 3 1.5 3 1.5 3 1 3 0.5 3 1 3 1 3 1 3 2 3 2.5 3 2 3 3.5 3 4 3 3 3 3 3 3 3 3 3 3.5 3 4 3 9 3 12 3 15 3 28 3 36 3 28 3-4.5 3-16.5 3-0.5 3 11 3 14.5 3 16.5 3 18 3 22 3 28 3 33 3 35 3 32.5 3 26.5 3 15 3 13.5 3 14 3 12.5 3 11 3 10.5 3 9 3 8 3 7 3 7 3 7 3 6.5 3 7 3 5.5 3 5.5 3 5.5 3 6 3 6 3 5.5 3 5 3 4.5 3 4.5 3 4.5 3 4 3 3.5 3 3 3 2 3 1.5 3 1 3 0.5 3 1 3 1.5 3 1.5 3-5 3-8.5 3-9.5 3-9 3-1.5 3 3 3 3.5 3 2.5 3 1 3 1 3 1 3 1 3 0 3 0 3-1.5 3-3.5 3-3.5 3-3.5 3-3.5 3-4.5 3-4 3-2.5 3-2 3-1.5 3-2 3-3 3-3.5 3-4 3-5 3-5.5 3-5.5 3-5.5 3-4.5 3-3.5 3-2.5 3-2.5 3-2.5 3-2.5 3-3 3-3 3-2.5 3-1.5 3-1 3-0.5 3-0.5 3-1 3-1.5 3-3 3-4.5 3-5.5 3-5.5 3-5.5 3-5 3-4.5 3-4.5 3-4 3-4 3-5 3-5.5 3-5 3-5.5 3-5.5 3-6 3-6 3-5.5 3-5.5 3-5.5 3-5 3-4 3-4.5 3-4.5 3-4.5 3-4 3-4 3-4 3-4 3-4.5 3-4.5 3-4.5 3-5 3-4.5 3-4.5 3-3 3-3 3-2.5 3-3 3-2.5 3-3 3-3 3-2.5 3-2 3-1.5 3-0.5 3-1 3-1 3-0.5 3-1 3-0.5 3-0.5 3-1 3-2 3-1.5 3-2 3-2 3-2.5 3-3 3-3 3-4.5 3-5 3-5 3-4.5 3-4.5 3-4.5 3-4.5 3-4 3-4 3-3.5 3-3.5 3-3.5 3-3.5 3-2 3-2 3-2.5 3-2.5 3-3.5 3-3.5 1-1" stroke="#5b50da"/>
<path d="M296 205.5l3 11 3 9.5 3 7 3 7.5 3 6.5 3 0.5 3-3.5 3-3.5 3-2.5 3-2 3-2 3 0.5 3 1.5 3 1 3 1 3 0.5 3 0.5 3 0 3 0.5 3 1 3 1 3 1.5 3 0.5 3 0 3 0 3 0 3 0 3-0.5 3-0.5 3-0.5 3-0.5 3-1 3-1.5 3-1.5 3-1 3-1.5 3-1.5 3-1.5 3-3 3-2.5 3-3 3-2.5 3-2 3-2.5 3-3 3-5 3-5.5 3-5.5 3-5.5 3-4 3-3 3-3 3-3.5 3-4 3-5.5 3-5.5 3-5 3-5.5 3-4.5 3-2.5 3-2 3-1 3-0.5 3 0 3 0.5 3 1 3 2 3 2 3 1.5 3 1.5 3 2 3 1.5 3 1.5 3 1.5 3 1.5 3 0.5 3 1 3 1 3 1 3 1 3 0.5 3 1 3 1 3 1 3 1.5 3 1 3 0.5 3 0.5 3 1 3 0.5 3 1.5 3 1.5 3 1.5 3 1.5 3 1.5 3 1 3 1 3 1 3 1 3 0.5 3 1 3 0.5 3 1.5 3 2 3 3 3 4.5 3 4 3 4.5 3 4 3 4 3 4 3 4 3 10 3 13 3 15.5 3 28 3 36 3 28 3-5 3-17.5 3-0.5 3 10 3 14.5 3 15.5 3 17.5 3 21.5 3 27 3 33 3 35.5 3 32.5 3 28 3 15.5 3 13.5 3 13.5 3 11.5 3 9.5 3 9.5 3 9 3 8 3 8 3 8 3 8 3 8 3 7.5 3 6 3 5.5 3 6 3 5.5 3 5.5 3 4.5 3 3.5 3 2.5 3 2.5 3 3 3 2.5 3 2.5 3 2 3 2 3 2.5 3 2 3 2 3 2.5 3 2.5 3 2 3-5 3-9 3-9.5 3-9.5 3-1.5 3 3.5 3 3.5 3 2 3 1 3 1 3 0 3 0.5 3 0 3 0 3-1.5 3-3.5 3-3 3-3 3-2.5 3-3 3-3 3-2.5 3-2 3-2.5 3-3 3-4 3-4.5 3-5 3-6 3-6.5 3-6 3-6 3-5 3-4 3-2.5 3-2.5 3-2.5 3-3 3-2.5 3-2.5 3-1.5 3 0 3 0.5 3 0.5 3 0.5 3-0.5 3-1 3-2 3-5 3-5 3-5 3-5 3-4.5 3-4.5 3-4 3-4.5 3-4 3-5 3-5.5 3-5.5 3-5.5 3-5.5 3-6 3-6 3-6 3-5 3-4.5 3-4.5 3-4.5 3-4.5 3-4.5 3-5 3-5 3-4.5 3-4.5 3-3.5 3-3.5 3-3.5 3-3.5 3-4 3-4.5 3-4 3-3 3-2.5 3-2 3-2.5 3-2 3-2.5 3-2.5 3-3.5 3-2.5 3-2.5 3-2 3-2 3-1.5 3-1 3-1 3-1.5 3-1 3-2.5 3-2.5 3-2 3-2.5 3-1.5 3-1.5 3-2 3-1.5 3-3 3-4.5 3-5 3-5 3-5 3-4.5 3-4.5 3-4 3-3 3-2 3-2 3-2.5 3-2 3-2 3-1.5 3-1 3-0.5 3 0 3 0.5 1 1" stroke="#485ae2"/>
<path d="M296 206l3 10.5 3 8.5 3 7 3 7 3 6 3 0 3-3.5 3-3.5 3-2.5 3-2.5 3-1.5 3 0 3 1 3 1.5 3 1.5 3 0.5 3 1 3 1 3 1 3 1 3 1.5 3 1.5 3 0.5 3 0.5 3 0 3-0.5 3 0 3-0.5 3-0.5 3-0.5 3 0 3-1 3-1.5 3-1.5 3-1.5 3-1.5 3-1.5 3-2 3-2.5 3-3 3-2.5 3-3 3-2.5 3-3 3-3.5 3-5.5 3-6 3-5.5 3-5.5 3-4 3-3 3-3 3-3 3-4 3-4.5 3-4.5 3-4.5 3-4.5 3-3.5 3-2 3-1.5 3-1 3 0 3 0 3 0 3 1 3 1.5 3 1.5 3 2 3 1.5 3 1.5 3 1.5 3 1.5 3 1.5 3 1 3 1 3 0.5 3 0.5 3 0.5 3 1 3 1 3 1 3 1 3 0.5 3 1 3 0.5 3 0.5 3 1 3 1 3 1 3 1 3 1.5 3 1 3 1.5 3 1 3 1.5 3 1.5 3 2 3 1.5 3 2 3 2 3 2 3 2 3 2 3 3 3 3.5 3 3.5 3 3.5 3 3.5 3 3 3 3.5 3 3.5 3 9 3 12 3 15 3 28 3 35.5 3 28 3-5 3-17.5 3-1 3 10 3 14 3 15.5 3 17 3 21.5 3 27 3 33.5 3 35.5 3 33 3 28 3 15.5 3 13.5 3 13.5 3 12 3 9.5 3 10 3 9 3 9 3 8 3 8 3 8 3 8 3 7.5 3 5.5 3 5 3 5 3 5.5 3 5 3 5 3 3.5 3 3 3 2.5 3 3.5 3 2.5 3 2.5 3 2.5 3 2 3 2.5 3 2 3 1.5 3 1.5 3 2 3 1.5 3-4.5 3-8.5 3-9 3-9 3-1 3 2.5 3 2.5 3 1 3 0.5 3 0.5 3 0.5 3 0.5 3 0.5 3 0.5 3-1 3-3 3-3 3-3 3-3.5 3-3.5 3-4 3-3.5 3-3.5 3-3.5 3-3.5 3-4 3-4.5 3-4.5 3-4.5 3-5.5 3-5 3-5 3-4.5 3-3.5 3-2 3-1.5 3-1 3-2 3-1.5 3-2 3-1.5 3-0.5 3 0 3 0 3-0.5 3-1 3-1.5 3-2.5 3-5 3-5 3-5 3-4.5 3-4 3-4 3-4 3-3.5 3-3 3-4.5 3-5 3-5.5 3-5 3-5.5 3-5.5 3-5.5 3-5.5 3-5.5 3-4.5 3-5 3-4.5 3-4 3-4.5 3-4.5 3-4.5 3-5 3-5 3-5 3-4.5 3-5 3-4.5 3-4 3-4.5 3-4 3-3 3-2.5 3-2.5 3-2 3-2.5 3-2.5 3-2.5 3-2.5 3-2.5 3-1.5 3-1 3-1.5 3-1 3-1 3-1 3-1 3-1 3-2.5 3-2.5 3-2.5 3-2.5 3-2.5 3-2.5 3-2.5 3-2.5 3-3.5 3-4.5 3-4.5 3-4.5 3-4.5 3-4.5 3-4.5 3-4.5 3-4 3-3 3-3 3-3 3-3 3-1.5 3-1 3-0.5 3-1.5 3-1 3-1 1 0" stroke="#3d60e7"/>
<path d="M296 209.5l3 9.5 3 8 3 6 3 6 3 6 3 0 3-3.5 3-3.5 3-2 3-2.5 3-2 3 0.5 3 1 3 1 3 1 3 1 3 1 3 0.5 3 1.5 3 1.5 3 2 3 1.5 3 0.5 3 0 3 0 3 0 3-0.5 3 0 3-0.5 3-0.5 3-0.5 3-1 3-1.5 3-2 3-1.5 3-1.5 3-1.5 3-1.5 3-2.5 3-3 3-2.5 3-3 3-3 3-3 3-4 3-6 3-6 3-6 3-5.5 3-3.5 3-3.5 3-3 3-3 3-4 3-4.5 3-4.5 3-4.5 3-4 3-3.5 3-1.5 3-1 3-0.5 3 0.5 3 0 3 0.5 3 0 3 1.5 3 1 3 1.5 3 1.5 3 1.5 3 1.5 3 2 3 1.5 3 1.5 3 1 3 0.5 3 0.5 3 1 3 0.5 3 0.5 3 1 3 1 3 1 3 0.5 3 1 3 1 3 1 3 1 3 1 3 1 3 1 3 1 3 1 3 1 3 1 3 1 3 1.5 3 1.5 3 2 3 1.5 3 2 3 2 3 2.5 3 3 3 4 3 3.5 3 3.5 3 3 3 3.5 3 3 3 3.5 3 8.5 3 12 3 15 3 28 3 36 3 28 3-4.5 3-17.5 3-0.5 3 10.5 3 14.5 3 15.5 3 17 3 21.5 3 27 3 33 3 35.5 3 33 3 28 3 15.5 3 13.5 3 13.5 3 12 3 9.5 3 9.5 3 9.5 3 8.5 3 8.5 3 8 3 8 3 8 3 7.5 3 5.5 3 5 3 5 3 5 3 5.5 3 4.5 3 3.5 3 3 3 3.5 3 3 3 3 3 2.5 3 2.5 3 2 3 2.5 3 1.5 3 1.5 3 1.5 3 1.5 3 1.5 3-4.5 3-8 3-9 3-9 3-1 3 2.5 3 2 3 1 3 0 3 0 3 0 3 0 3 0.5 3 0 3-0.5 3-3 3-3 3-3 3-3.5 3-3.5 3-3.5 3-3 3-3 3-2.5 3-3.5 3-4 3-4 3-4.5 3-5 3-5.5 3-5 3-5.5 3-5 3-3.5 3-2 3-1.5 3-1.5 3-1.5 3-2 3-1.5 3-1 3-0.5 3 0 3 0.5 3 0 3-1 3-1 3-2.5 3-5 3-5 3-5 3-5 3-4 3-4 3-3 3-3.5 3-3.5 3-4.5 3-5 3-5 3-5 3-5.5 3-5 3-5.5 3-5.5 3-5.5 3-5 3-5 3-4.5 3-5 3-4.5 3-4.5 3-4.5 3-4.5 3-5 3-4.5 3-5 3-4.5 3-4.5 3-5 3-4.5 3-5 3-3.5 3-2.5 3-2.5 3-2.5 3-2.5 3-2.5 3-2.5 3-2 3-2 3-1 3-1 3-0.5 3-1 3-1 3-1.5 3-1.5 3-1.5 3-2 3-2.5 3-2.5 3-2.5 3-2.5 3-2.5 3-2.5 3-2 3-3.5 3-4.5 3-4 3-4.5 3-4.5 3-4.5 3-4.5 3-4.5 3-4 3-3 3-3 3-2.5 3-3 3-1.5 3-1.5 3-1.5 3-1.5 3-1 3-1.5 1 0" stroke="#3962e9"/>
<path d="M296 210.5l3 9 3 8 3 6 3 6.5 3 6 3 0 3-4 3-3.5 3-2.5 3-2.5 3-1.5 3 0.5 3 1 3 1.5 3 1 3 0.5 3 0.5 3 0.5 3 0.5 3 1.5 3 1.5 3 1.5 3 0.5 3 0 3 0 3 0 3-0.5 3-0.5 3 0 3-0.5 3 0 3-0.5 3-1 3-1.5 3-1.5 3-2 3-1.5 3-2 3-2.5 3-2.5 3-2 3-2.5 3-2.5 3-2 3-4 3-6 3-5.5 3-6 3-6 3-3.5 3-3 3-3 3-3.5 3-4 3-4.5 3-4.5 3-4.5 3-4.5 3-4 3-2 3-2 3-0.5 3-0.5 3 0 3-0.5 3 0.5 3 1.5 3 1 3 1.5 3 1.5 3 1.5 3 2 3 2 3 2 3 2 3 1 3 1 3 1 3 0.5 3 1 3 0.5 3 1 3 1 3 1 3 1 3 1 3 1 3 1 3 1 3 0.5 3 1 3 1 3 1 3 1 3 1 3 1 3 1.5 3 1.5 3 2 3 2 3 1.5 3 1.5 3 1.5 3 1.5 3 2.5 3 3.5 3 3.5 3 4 3 3.5 3 4 3 3.5 3 4 3 9 3 11.5 3 15 3 27.5 3 36 3 28 3-4.5 3-17 3-1 3 10.5 3 14 3 15.5 3 17.5 3 21 3 27 3 32.5 3 35.5 3 32.5 3 28 3 15 3 13.5 3 13 3 12 3 9.5 3 9.5 3 9.5 3 8.5 3 8.5 3 8 3 8.5 3 8.5 3 7.5 3 5.5 3 5 3 5 3 4.5 3 5 3 4 3 3.5 3 3 3 3 3 3 3 3 3 2 3 2.5 3 2 3 1.5 3 2 3 2 3 2 3 3 3 2 3-3.5 3-8 3-9.5 3-8.5 3-1.5 3 2 3 2 3 0.5 3 0.5 3 0 3 0 3 0 3-0.5 3 0 3-1.5 3-3 3-3 3-2.5 3-2.5 3-3.5 3-3 3-3 3-3 3-3.5 3-3.5 3-4.5 3-4.5 3-5 3-5.5 3-5.5 3-5.5 3-5 3-5 3-3 3-2 3-1 3-1.5 3-1.5 3-1.5 3-1.5 3-1 3 0 3 0 3 0 3 0 3 0 3-1 3-2 3-4 3-5 3-4.5 3-4.5 3-4 3-4 3-3.5 3-3.5 3-3.5 3-5 3-5 3-5.5 3-6 3-5.5 3-5.5 3-5 3-5 3-5 3-5 3-5 3-4.5 3-5 3-4.5 3-4.5 3-4.5 3-4.5 3-4.5 3-4.5 3-5 3-5 3-4.5 3-5 3-4.5 3-4.5 3-3 3-2.5 3-2.5 3-2.5 3-2.5 3-2 3-2.5 3-2 3-2 3-1 3-1 3-1 3-1.5 3-1.5 3-1 3-1.5 3-1.5 3-2 3-3 3-2.5 3-3 3-2.5 3-3 3-2.5 3-2 3-3.5 3-4 3-4.5 3-4 3-4.5 3-4.5 3-4.5 3-4.5 3-4 3-3 3-3 3-3 3-2.5 3-1.5 3-1.5 3-1 3-1 3-1 3-0.5 1 0" stroke="#3564eb"/>
<path d="M296 206.5l3 10.5 3 9 3 7 3 6.5 3 6.5 3 0 3-3.5 3-3.5 3-2.5 3-2.5 3-2 3 0 3 1 3 1 3 1.5 3 1 3 1 3 1 3 1 3 1.5 3 1 3 1.5 3 0 3 0 3-0.5 3 0 3 0 3 0 3 0 3 0 3-0.5 3-1 3-2 3-1.5 3-2 3-1.5 3-1.5 3-1.5 3-2.5 3-2.5 3-2.5 3-3 3-2.5 3-3 3-4 3-6 3-6 3-6 3-5.5 3-3.5 3-3 3-3 3-3 3-4.5 3-4.5 3-4.5 3-4.5 3-4.5 3-4 3-1.5 3-1.5 3-1 3 0 3 0 3-0.5 3 1 3 1.5 3 2 3 2 3 2 3 1.5 3 2 3 1.5 3 2 3 1 3 1 3 1 3 0.5 3 0.5 3 0.5 3 1 3 0.5 3 1 3 1 3 1 3 1 3 1.5 3 1 3 1.5 3 1 3 1.5 3 1 3 1 3 1 3 1 3 1 3 1.5 3 1.5 3 2 3 1 3 1.5 3 1 3 1.5 3 1.5 3 2.5 3 3.5 3 3.5 3 4 3 3.5 3 4 3 4 3 4 3 9.5 3 12 3 15 3 27.5 3 36 3 28 3-5 3-17 3-1 3 10.5 3 14 3 15 3 17 3 21 3 27 3 32.5 3 35.5 3 32.5 3 27.5 3 15.5 3 13 3 13.5 3 12.5 3 10 3 9.5 3 9.5 3 8.5 3 8 3 8 3 8.5 3 8 3 7.5 3 5.5 3 5 3 5.5 3 4.5 3 5 3 4.5 3 3 3 3 3 3 3 3 3 3.5 3 2.5 3 3 3 2.5 3 2.5 3 2 3 1.5 3 2 3 2 3 2 3-4.5 3-8.5 3-9.5 3-9 3-1 3 2 3 1.5 3 0.5 3 0 3-0.5 3 0 3 0 3-0.5 3 0 3-1.5 3-3 3-3 3-3 3-3 3-3 3-3.5 3-3.5 3-3 3-3 3-3.5 3-4 3-4.5 3-4.5 3-5 3-5.5 3-5 3-5 3-4.5 3-3.5 3-2 3-1.5 3-1.5 3-1.5 3-1.5 3-1 3-0.5 3 0.5 3 0.5 3 0.5 3 0 3-0.5 3-1 3-2.5 3-4 3-4.5 3-4.5 3-5 3-4 3-4.5 3-4 3-4 3-3.5 3-4.5 3-5.5 3-5 3-5 3-4.5 3-5 3-5 3-5 3-5 3-4.5 3-5 3-4.5 3-5 3-5.5 3-5 3-5 3-4.5 3-5 3-5 3-4.5 3-5 3-4.5 3-4.5 3-5 3-4.5 3-3.5 3-2.5 3-2.5 3-2.5 3-3 3-2 3-2 3-2 3-2 3-1 3-1 3-1.5 3-1.5 3-1.5 3-1 3-1.5 3-1.5 3-2 3-2 3-2.5 3-2 3-2.5 3-2.5 3-2 3-2.5 3-4 3-4.5 3-4.5 3-5 3-4.5 3-5 3-4.5 3-4.5 3-4 3-3 3-3 3-3 3-2.5 3-2 3-1.5 3-1 3-1.5 3-1.5 3-1 1-0.5" stroke="#3166ec"/>
<path d="M296 203.5l3 11 3 9 3 7.5 3 7.5 3 6.5 3 0.5 3-3 3-3.5 3-2.5 3-2 3-2 3 0 3 1.5 3 1 3 1 3 1 3 0.5 3 0.5 3 0.5 3 1.5 3 1 3 1 3 0.5 3 0 3 0 3 0 3 0 3 0 3 0 3 0 3 0 3-1.5 3-1.5 3-2 3-1.5 3-2 3-1.5 3-2 3-2.5 3-2.5 3-2.5 3-2.5 3-2.5 3-3 3-3.5 3-6 3-5.5 3-6 3-5.5 3-3.5 3-3 3-3 3-3 3-4 3-5 3-5 3-5 3-4.5 3-3.5 3-2 3-1 3-0.5 3 0 3 0 3 0.5 3 0.5 3 2 3 1.5 3 1.5 3 2 3 1.5 3 1.5 3 1.5 3 1.5 3 1 3 1.5 3 1 3 1 3 1 3 1 3 1 3 0.5 3 0.5 3 0.5 3 0.5 3 1 3 0.5 3 1 3 1 3 0.5 3 1 3 1 3 0.5 3 1 3 1 3 1 3 1.5 3 2 3 2 3 2.5 3 2 3 1.5 3 2 3 1.5 3 3 3 3 3 3.5 3 3.5 3 3 3 3.5 3 4 3 3.5 3 9.5 3 12 3 14.5 3 28 3 35.5 3 28.5 3-5 3-17 3-0.5 3 10.5 3 14.5 3 15.5 3 17 3 21 3 27.5 3 32.5 3 35.5 3 32.5 3 28 3 15 3 13.5 3 13 3 11.5 3 9.5 3 9.5 3 9.5 3 8.5 3 8 3 8.5 3 8 3 8 3 7.5 3 5.5 3 5 3 5 3 5 3 5 3 4.5 3 3.5 3 3 3 3 3 3.5 3 3 3 2.5 3 2.5 3 2.5 3 2.5 3 2.5 3 1.5 3 2 3 2 3 1.5 3-5 3-8.5 3-9.5 3-9 3-1 3 2.5 3 1.5 3 0.5 3 0 3 0 3 0 3 0 3 0.5 3 0 3-1 3-2.5 3-3 3-2.5 3-3 3-3 3-4 3-3.5 3-3.5 3-3.5 3-4.5 3-4 3-5 3-4.5 3-5.5 3-5.5 3-5 3-5.5 3-4.5 3-3 3-1.5 3-1.5 3-1.5 3-1.5 3-2 3-1.5 3-1 3 0 3 0.5 3 0.5 3 1 3 0 3-0.5 3-2 3-4 3-4.5 3-5 3-4 3-4.5 3-4 3-3.5 3-3.5 3-3.5 3-4.5 3-5.5 3-5 3-5.5 3-5.5 3-5 3-5 3-5 3-5 3-4 3-4.5 3-4.5 3-4.5 3-4.5 3-5 3-5 3-5.5 3-5 3-5.5 3-5 3-5 3-5 3-4.5 3-5 3-4.5 3-3 3-2.5 3-2.5 3-2 3-2.5 3-2.5 3-2.5 3-2.5 3-2 3-1.5 3-1 3-1 3-1 3-1 3-0.5 3-1.5 3-1.5 3-2.5 3-2.5 3-3 3-2.5 3-2.5 3-2.5 3-2 3-2.5 3-3 3-4 3-4 3-4 3-4 3-4.5 3-4.5 3-4.5 3-4 3-3.5 3-3 3-3 3-3 3-1.5 3-1.5 3-2 3-2 3-2 3-1.5 1 0" stroke="#2e68ee"/>
<path d="M296 207.5l3 10 3 8.5 3 6.5 3 6.5 3 6 3-0.5 3-3.5 3-4 3-2.5 3-2 3-2 3 0.5 3 1.5 3 1 3 1 3 0.5 3 0.5 3 1 3 1 3 2 3 1.5 3 1.5 3 0.5 3-0.5 3-0.5 3 0 3 0 3 0 3 0.5 3 0.5 3 0.5 3-1 3-1.5 3-1.5 3-2 3-2 3-1.5 3-2 3-2.5 3-2.5 3-3 3-2.5 3-3 3-2.5 3-4 3-5.5 3-6 3-5.5 3-5.5 3-3.5 3-3.5 3-3 3-3.5 3-4 3-5 3-4.5 3-4.5 3-4.5 3-3.5 3-1.5 3-1.5 3-0.5 3-0.5 3 0 3 0 3 0.5 3 1.5 3 2 3 2 3 2 3 2 3 2 3 1.5 3 1.5 3 1.5 3 1 3 0.5 3 1 3 1 3 0.5 3 1 3 1 3 1 3 1 3 1 3 0.5 3 1 3 0.5 3 0.5 3 0.5 3 0.5 3 1 3 0.5 3 1 3 0.5 3 1 3 2 3 2 3 2 3 2.5 3 1.5 3 2 3 1.5 3 1 3 3 3 3 3 3.5 3 3.5 3 4 3 4 3 3.5 3 4.5 3 9 3 11.5 3 15 3 28 3 36 3 28.5 3-4.5 3-17 3-1 3 10 3 13.5 3 15 3 17 3 20.5 3 27 3 32.5 3 35.5 3 33 3 27.5 3 15.5 3 13 3 13 3 11.5 3 9.5 3 9 3 9.5 3 8.5 3 8 3 8.5 3 8.5 3 8.5 3 8 3 6 3 5.5 3 5 3 4.5 3 4.5 3 4 3 2.5 3 3 3 3 3 3 3 3.5 3 2.5 3 2.5 3 2.5 3 3 3 2 3 2 3 2 3 2 3 1.5 3-5 3-9 3-10 3-9 3-0.5 3 2 3 2 3 0.5 3 0.5 3 0 3 0 3 0 3 0 3 0 3-1.5 3-3 3-3 3-3 3-2.5 3-2.5 3-3.5 3-3 3-4 3-3.5 3-4.5 3-4 3-4.5 3-5 3-4.5 3-5.5 3-5 3-5 3-4.5 3-3.5 3-1.5 3-1 3-1.5 3-1 3-1.5 3-1 3-1 3 0 3 0.5 3 0 3 0.5 3-0.5 3-1 3-2 3-4.5 3-4.5 3-4.5 3-4.5 3-4 3-3.5 3-3.5 3-3.5 3-3.5 3-4.5 3-5.5 3-5.5 3-5.5 3-5.5 3-5.5 3-5 3-4.5 3-5 3-4.5 3-4.5 3-4 3-4.5 3-5 3-4.5 3-5 3-5 3-5 3-5 3-5 3-5 3-5 3-5 3-5 3-4.5 3-3.5 3-2 3-2 3-2.5 3-2 3-2 3-2.5 3-2.5 3-2 3-1.5 3-1 3-1 3-1.5 3-1 3-0.5 3-1 3-1.5 3-2 3-2.5 3-2.5 3-2.5 3-2.5 3-2 3-2.5 3-2 3-3.5 3-4.5 3-5 3-4.5 3-5 3-5 3-5 3-4.5 3-4.5 3-3 3-2.5 3-2.5 3-2 3-1.5 3-1 3-1.5 3-1.5 3-1.5 3-1 1 0" stroke="#2a6af0"/>
<path d="M296 205l3 10.5 3 9.5 3 7 3 6.5 3 6.5 3 0 3-3 3-3.5 3-2 3-2.5 3-2 3 0.5 3 0.5 3 1 3 0.5 3 0.5 3 0 3 0.5 3 1 3 1.5 3 2 3 1.5 3 1 3 0.5 3 0 3 0.5 3 0 3 0 3 0 3 0 3 0 3-1 3-2 3-2 3-2 3-1.5 3-1.5 3-2 3-2.5 3-2.5 3-3 3-2.5 3-2.5 3-2.5 3-3.5 3-6 3-6 3-6 3-6 3-3.5 3-3.5 3-3 3-3 3-4 3-4.5 3-4.5 3-4.5 3-5 3-3.5 3-2 3-1.5 3-0.5 3-0.5 3 0 3 0 3 1 3 2 3 2 3 2 3 2 3 2 3 1.5 3 1.5 3 1.5 3 1.5 3 1 3 1 3 1 3 1 3 1 3 0.5 3 0.5 3 1 3 0.5 3 0.5 3 1 3 1 3 1 3 1 3 1 3 1.5 3 1 3 1 3 1 3 1 3 0.5 3 1 3 1.5 3 1 3 1.5 3 1.5 3 2 3 1.5 3 2 3 3.5 3 3.5 3 3.5 3 3.5 3 3.5 3 3.5 3 3.5 3 4 3 9 3 12 3 14.5 3 27.5 3 36 3 28 3-4.5 3-17 3-0.5 3 10.5 3 14.5 3 15 3 17 3 21 3 27 3 32.5 3 35 3 32.5 3 28 3 15 3 13.5 3 13 3 12 3 9.5 3 9 3 9 3 8.5 3 8 3 7.5 3 8 3 8 3 7.5 3 5.5 3 5 3 5 3 5 3 5.5 3 5 3 4 3 3.5 3 3.5 3 3.5 3 2.5 3 2 3 2 3 2 3 2.5 3 2 3 2 3 2 3 1.5 3 1.5 3-4.5 3-8.5 3-9.5 3-8.5 3-1 3 2 3 1.5 3 0 3 0 3 0 3 0 3 0 3 0 3-0.5 3-1 3-3 3-3 3-3 3-3 3-3 3-4 3-3.5 3-3.5 3-3.5 3-4 3-4 3-4.5 3-4.5 3-5 3-4.5 3-5 3-5 3-4.5 3-3.5 3-1.5 3-2 3-1.5 3-1.5 3-1.5 3-1.5 3-1 3 0.5 3 0 3 1 3 0.5 3 0.5 3 0 3-1 3-3.5 3-4.5 3-4.5 3-4.5 3-4 3-4 3-4 3-4 3-3.5 3-5 3-5.5 3-5 3-5.5 3-5 3-5 3-4.5 3-4.5 3-5 3-4 3-5 3-4.5 3-5 3-5 3-5 3-5 3-5 3-5 3-5 3-5 3-5.5 3-5 3-5 3-4.5 3-4.5 3-3 3-2 3-2 3-2.5 3-2 3-2.5 3-2.5 3-2.5 3-2 3-1 3-1.5 3-1.5 3-1 3-1.5 3-1 3-1 3-1.5 3-2.5 3-2.5 3-2.5 3-2 3-2.5 3-2 3-2 3-2 3-3.5 3-4.5 3-4 3-4.5 3-4.5 3-4.5 3-4.5 3-5 3-4.5 3-3 3-3 3-3 3-2 3-1.5 3-1 3-2 3-1.5 3-2.5 3-2 1-0.5" stroke="#266cf1"/>
<path d="M296 211l3 9.5 3 8.5 3 6.5 3 6.5 3 5.5 3-0.5 3-4 3-4 3-3 3-2.5 3-1.5 3 0 3 1.5 3 1 3 0.5 3 0.5 3 0.5 3 0.5 3 1 3 1.5 3 1.5 3 2 3 0.5 3 0 3-0.5 3 0 3 0 3 0 3-0.5 3 0 3 0 3-1 3-1.5 3-1.5 3-1.5 3-1.5 3-1 3-2 3-2.5 3-3 3-2.5 3-3 3-2.5 3-3 3-3.5 3-6 3-6 3-5.5 3-6 3-3.5 3-3.5 3-2.5 3-3 3-4 3-4.5 3-4.5 3-4.5 3-4.5 3-3.5 3-1.5 3-1.5 3-0.5 3 0.5 3 0 3 0 3 0.5 3 2 3 1.5 3 1.5 3 1.5 3 1.5 3 1 3 1 3 1.5 3 1 3 1 3 1 3 1 3 1.5 3 1.5 3 1 3 1 3 1 3 1 3 1 3 1 3 1 3 1 3 0.5 3 1 3 0.5 3 1 3 1 3 1 3 1 3 1 3 1.5 3 2 3 1.5 3 1.5 3 1.5 3 1.5 3 1.5 3 2 3 3 3 3.5 3 3.5 3 3.5 3 3.5 3 3.5 3 3.5 3 3.5 3 9 3 12 3 14.5 3 27.5 3 36 3 27.5 3-4.5 3-16.5 3-0.5 3 10.5 3 14 3 15.5 3 17 3 21 3 26.5 3 32.5 3 35 3 32.5 3 27.5 3 15.5 3 13 3 13 3 11 3 9 3 9 3 8.5 3 8.5 3 8.5 3 8 3 8.5 3 8 3 8 3 5.5 3 5 3 5 3 5.5 3 5 3 4.5 3 3 3 3 3 3 3 3 3 2.5 3 2 3 2.5 3 2.5 3 2 3 2 3 2 3 2 3 2 3 1.5 3-5 3-8.5 3-9.5 3-8.5 3-0.5 3 2 3 2 3 0.5 3 0.5 3 0 3 0 3 0 3-0.5 3 0 3-1.5 3-3 3-3 3-3.5 3-3 3-3.5 3-4 3-3.5 3-3.5 3-3.5 3-3.5 3-4 3-4 3-4.5 3-4.5 3-5.5 3-5 3-5 3-4.5 3-3 3-1 3-1 3-1 3-1.5 3-2 3-2 3-1 3 0 3 0.5 3 0.5 3 1 3 0.5 3-1 3-1.5 3-4 3-5 3-5 3-4.5 3-4 3-4 3-3.5 3-3.5 3-3.5 3-4.5 3-5 3-5 3-5 3-5.5 3-5 3-5 3-5.5 3-4.5 3-4.5 3-4.5 3-4.5 3-5 3-5 3-5 3-4.5 3-5 3-4.5 3-5 3-4.5 3-4.5 3-4 3-4.5 3-5 3-5 3-3.5 3-2.5 3-3 3-2.5 3-2 3-2.5 3-2.5 3-2 3-2 3-1.5 3-1 3-1 3-1 3-1 3-1 3-1 3-1.5 3-2 3-2.5 3-2.5 3-2.5 3-2.5 3-2.5 3-2.5 3-2.5 3-3.5 3-4.5 3-4.5 3-4.5 3-4.5 3-4.5 3-4.5 3-4.5 3-4 3-3 3-3 3-3 3-3 3-1.5 3-1.5 3-2 3-1.5 3-2.5 3-2.5 1-0.5" stroke="#256cf2"/>
<path d="M296 211.5l3 9 3 8 3 6 3 6 3 6 3 0 3-4 3-3.5 3-2.5 3-2 3-2 3 0.5 3 1.5 3 1 3 1 3 1 3 0.5 3 0.5 3 1 3 1.5 3 1 3 1.5 3 0 3 0 3-0.5 3 0 3-0.5 3 0 3 0 3-0.5 3 0 3-1 3-2 3-1.5 3-1.5 3-1 3-1.5 3-1 3-2.5 3-2.5 3-2.5 3-3 3-2.5 3-2.5 3-3.5 3-5.5 3-5.5 3-6 3-6 3-3.5 3-3 3-3 3-3 3-4 3-4.5 3-4.5 3-5 3-4.5 3-3.5 3-2 3-1.5 3-0.5 3 0 3-0.5 3 0 3 0.5 3 1 3 1.5 3 1.5 3 2 3 1.5 3 2 3 1.5 3 2 3 1.5 3 1 3 0.5 3 1 3 1 3 0.5 3 1 3 1 3 1 3 0.5 3 0.5 3 1 3 1 3 1 3 1.5 3 1 3 1.5 3 1 3 1 3 1 3 1 3 1 3 1 3 1.5 3 1.5 3 1.5 3 1.5 3 1.5 3 1.5 3 2 3 2.5 3 4 3 3.5 3 3.5 3 4 3 4 3 4 3 4 3 9.5 3 12 3 15 3 27 3 34.5 3 27.5 3-5 3-16.5 3-1 3 10 3 13.5 3 15 3 16.5 3 20.5 3 26.5 3 32 3 35 3 32 3 27 3 15 3 13 3 13 3 11.5 3 9.5 3 9.5 3 9 3 9 3 8 3 8 3 8.5 3 8 3 8 3 6 3 5 3 5.5 3 5 3 5 3 4.5 3 3 3 3 3 3 3 2.5 3 3 3 2 3 2 3 2.5 3 2 3 2 3 2 3 2 3 1.5 3 1.5 3-4.5 3-8.5 3-9 3-8.5 3-0.5 3 2 3 2 3 0 3 0 3-0.5 3 0.5 3 0 3 0 3 0 3-1 3-2.5 3-3 3-3 3-2.5 3-3.5 3-3.5 3-3.5 3-3.5 3-4 3-4.5 3-4.5 3-4.5 3-5 3-4.5 3-5 3-4.5 3-4.5 3-4.5 3-3 3-1.5 3-1 3-1 3-1.5 3-1 3-1 3-1 3 0.5 3 1 3 0.5 3 0.5 3-0.5 3-0.5 3-2 3-4.5 3-5 3-4.5 3-4.5 3-4.5 3-4 3-4 3-3.5 3-3.5 3-4.5 3-5 3-5 3-5 3-5 3-5.5 3-5 3-5 3-5 3-5 3-5 3-4.5 3-5 3-4.5 3-4.5 3-4 3-4.5 3-4.5 3-4.5 3-4.5 3-5 3-4.5 3-5 3-4.5 3-4.5 3-3 3-2 3-2 3-2 3-2 3-2.5 3-2.5 3-2.5 3-2 3-2 3-1.5 3-1.5 3-1.5 3-1.5 3-1 3-1.5 3-1 3-2 3-2.5 3-2.5 3-2.5 3-2 3-2.5 3-2 3-2.5 3-4 3-4.5 3-5 3-5 3-4.5 3-5 3-4.5 3-4 3-4 3-3 3-2.5 3-2.5 3-2.5 3-1 3-1 3-1 3-0.5 3-1 3-1 1 0" stroke="#246df2"/>
<path d="M296 209.5l3 10 3 9 3 6.5 3 6.5 3 6 3-0.5 3-3.5 3-3.5 3-2.5 3-2.5 3-2 3 0 3 1.5 3 1 3 1.5 3 1 3 1 3 0.5 3 1.5 3 1.5 3 1 3 1.5 3 0 3 0 3-0.5 3 0 3 0 3 0 3-0.5 3 0 3-0.5 3-1.5 3-1.5 3-1.5 3-1.5 3-1.5 3-1.5 3-1.5 3-2.5 3-3 3-3 3-2.5 3-3 3-3 3-4 3-6 3-6 3-5.5 3-5.5 3-3 3-2.5 3-3 3-2.5 3-4 3-4.5 3-4.5 3-4.5 3-4.5 3-3 3-1.5 3-1.5 3-0.5 3 0 3 0 3 0 3 0.5 3 1.5 3 1.5 3 1.5 3 1.5 3 1.5 3 1.5 3 1.5 3 1.5 3 1.5 3 1 3 1 3 1 3 0.5 3 1 3 0.5 3 1 3 0.5 3 1 3 1 3 1 3 1 3 1 3 1 3 1 3 1.5 3 1 3 1 3 1.5 3 1 3 0.5 3 1 3 1.5 3 1.5 3 1.5 3 1.5 3 1.5 3 1.5 3 1.5 3 3 3 3.5 3 4 3 3.5 3 4 3 3 3 3.5 3 4 3 8.5 3 12 3 14.5 3 27 3 34.5 3 27 3-4.5 3-15.5 3-0.5 3 10 3 14 3 15.5 3 16.5 3 20.5 3 26 3 31.5 3 33.5 3 31.5 3 26.5 3 14.5 3 13.5 3 13 3 12 3 10 3 9.5 3 9.5 3 8.5 3 8 3 8.5 3 8 3 8 3 7.5 3 5.5 3 5.5 3 5 3 5 3 5 3 5 3 3.5 3 3.5 3 3.5 3 3 3 3 3 2 3 1.5 3 2 3 1.5 3 1.5 3 1.5 3 1.5 3 1.5 3 1.5 3-4.5 3-8 3-9.5 3-8 3-0.5 3 2 3 2 3 0 3 0.5 3 0 3 0 3 0 3 0.5 3 0 3-1 3-2 3-2.5 3-3 3-3 3-3 3-4 3-3.5 3-3.5 3-4 3-3.5 3-4 3-4.5 3-4.5 3-5 3-5.5 3-5 3-5.5 3-4.5 3-3.5 3-1.5 3-1 3-1 3-1 3-1.5 3-1 3-1 3 0 3 0 3 0.5 3 0.5 3 0 3-1 3-1.5 3-4 3-5 3-4.5 3-4 3-4 3-3.5 3-3.5 3-3.5 3-3.5 3-4.5 3-5 3-4.5 3-5 3-5 3-5 3-5 3-5 3-5 3-5 3-5 3-5 3-5 3-5 3-4.5 3-5 3-4.5 3-5 3-4.5 3-4.5 3-4.5 3-4.5 3-4.5 3-4.5 3-4 3-3 3-2.5 3-2 3-3 3-2.5 3-2.5 3-2.5 3-2 3-1.5 3-1 3-1 3-1.5 3-1 3-1 3-1 3-1 3-1.5 3-2.5 3-2.5 3-2.5 3-3 3-3 3-2.5 3-2.5 3-2.5 3-3 3-4 3-4 3-4.5 3-4 3-4 3-4.5 3-4.5 3-4.5 3-3.5 3-3.5 3-3 3-3 3-1.5 3-1 3-1 3-1 3-1 3-0.5 1 0" stroke="#236ef3"/>
<path d="M296 212l3 9.5 3 8 3 6.5 3 6 3 5.5 3 0 3-3.5 3-3.5 3-2.5 3-2.5 3-2 3 0 3 1 3 1.5 3 1 3 0.5 3 1 3 0.5 3 1 3 1.5 3 1.5 3 1 3 0.5 3 0 3-0.5 3-0.5 3 0 3-0.5 3 0 3-0.5 3-0.5 3-0.5 3-1.5 3-1.5 3-1.5 3-1.5 3-2 3-1.5 3-3 3-2.5 3-2.5 3-3 3-2.5 3-2.5 3-3.5 3-5.5 3-5.5 3-5.5 3-5.5 3-3.5 3-3.5 3-3.5 3-3 3-4.5 3-4.5 3-4.5 3-4 3-4 3-3 3-1.5 3-1 3-0.5 3 0 3 0 3 0 3 0.5 3 2 3 2 3 2 3 2 3 1.5 3 2 3 1.5 3 1.5 3 1 3 0 3 0.5 3 0.5 3 0.5 3 1 3 1 3 1 3 1 3 1 3 1 3 1 3 1.5 3 1 3 1 3 1 3 0.5 3 1 3 0.5 3 1 3 0.5 3 1 3 1 3 1.5 3 1.5 3 2 3 1.5 3 1.5 3 1.5 3 1.5 3 3 3 3 3 3.5 3 3.5 3 3.5 3 4 3 4 3 4.5 3 9 3 12 3 14.5 3 26.5 3 34 3 27 3-4 3-15 3 0 3 10.5 3 14 3 14.5 3 16.5 3 20 3 25 3 31 3 33 3 31 3 26.5 3 14.5 3 13.5 3 13 3 12 3 10 3 9.5 3 10 3 9 3 8 3 8 3 7.5 3 7.5 3 6.5 3 5.5 3 4.5 3 5 3 5 3 5 3 4.5 3 4 3 3.5 3 3.5 3 3.5 3 3.5 3 2.5 3 2 3 2.5 3 2 3 1.5 3 1 3 1.5 3 1.5 3 1.5 3-4.5 3-8 3-8.5 3-8 3-0.5 3 2 3 1.5 3 0.5 3 0 3 0.5 3 0 3 0 3 0 3 0 3-1.5 3-3 3-3 3-3.5 3-3 3-3.5 3-4 3-3.5 3-3 3-4 3-4 3-4 3-4.5 3-5 3-5 3-5 3-5 3-4.5 3-4.5 3-3 3-1.5 3-1 3-1 3-1 3-1 3-1 3-0.5 3 0.5 3 0.5 3 1 3 0.5 3 0 3-1 3-2 3-4 3-5 3-4.5 3-4.5 3-4 3-3.5 3-3.5 3-3.5 3-3.5 3-4.5 3-5 3-5 3-4.5 3-5 3-5.5 3-5 3-5 3-5 3-4.5 3-5 3-4.5 3-5 3-4.5 3-4.5 3-4.5 3-4.5 3-4.5 3-5 3-4.5 3-5 3-4.5 3-5 3-4.5 3-4 3-3 3-2 3-2 3-2.5 3-2.5 3-2.5 3-2.5 3-3 3-2 3-1.5 3-1.5 3-1 3-1 3-1 3-1.5 3-1 3-2 3-2.5 3-2.5 3-2 3-2.5 3-2 3-2 3-2 3-2 3-3.5 3-4.5 3-4.5 3-5 3-4.5 3-4.5 3-4 3-4.5 3-3.5 3-3 3-3 3-2.5 3-2.5 3-1.5 3-1 3-1 3-0.5 3 0 3 0 1 0" stroke="#216ef3"/>
<path d="M296 214.5l3 8.5 3 7.5 3 5.5 3 6 3 5.5 3 0 3-3.5 3-3 3-2.5 3-2.5 3-2 3 0 3 1 3 1 3 1 3 0.5 3 1 3 0.5 3 0.5 3 1.5 3 1 3 1.5 3 0.5 3 0 3 0 3 0 3 0 3 0 3 0 3 0 3 0 3-1 3-1.5 3-1.5 3-1.5 3-1.5 3-1.5 3-2.5 3-2.5 3-3 3-3 3-2.5 3-3 3-3 3-4 3-6 3-5.5 3-6 3-5 3-3.5 3-3 3-2.5 3-3 3-4 3-4.5 3-4 3-4.5 3-4 3-3 3-2 3-1 3-0.5 3 0 3 0 3 0 3 0.5 3 1.5 3 1.5 3 1.5 3 1.5 3 2 3 1.5 3 2 3 1.5 3 1.5 3 1 3 0.5 3 1 3 0.5 3 0.5 3 0.5 3 1 3 1 3 1 3 1 3 1 3 1 3 1 3 0.5 3 1 3 1 3 0.5 3 1 3 1 3 1 3 1 3 1.5 3 2 3 2 3 1.5 3 2 3 2 3 1.5 3 2 3 2.5 3 3.5 3 3.5 3 3 3 3.5 3 3.5 3 3.5 3 4.5 3 9.5 3 12.5 3 15 3 26 3 34 3 26 3-4 3-15.5 3 0 3 10 3 13.5 3 15 3 16 3 20 3 26 3 30.5 3 33.5 3 30.5 3 26 3 14.5 3 13 3 12.5 3 11.5 3 9.5 3 9.5 3 9.5 3 8.5 3 8.5 3 8 3 8 3 8 3 7.5 3 5.5 3 5 3 5.5 3 5 3 5 3 4.5 3 3 3 3 3 3 3 3.5 3 2.5 3 2.5 3 2 3 2.5 3 2 3 2 3 1.5 3 2 3 1.5 3 1.5 3-4.5 3-8 3-8.5 3-8 3-0.5 3 1.5 3 1.5 3 0.5 3 0 3 0 3 0.5 3 0 3 0.5 3 0 3-0.5 3-2.5 3-3 3-3 3-3 3-3.5 3-4 3-3.5 3-4 3-4 3-4 3-4.5 3-4.5 3-5 3-5 3-5.5 3-5.5 3-5 3-4.5 3-3.5 3-1 3-1 3-0.5 3-1 3-0.5 3-1 3 0 3 0.5 3 0.5 3 0.5 3 0.5 3 0 3-0.5 3-2 3-4 3-5 3-4.5 3-4.5 3-4 3-3.5 3-3.5 3-3.5 3-4 3-5 3-5 3-5.5 3-5 3-5 3-5 3-4.5 3-5 3-4.5 3-4 3-4.5 3-4.5 3-4.5 3-4.5 3-5 3-4.5 3-4.5 3-4.5 3-4.5 3-4.5 3-4.5 3-4.5 3-4.5 3-5 3-4.5 3-3.5 3-2.5 3-2.5 3-2.5 3-2 3-2 3-2.5 3-2.5 3-2.5 3-1.5 3-1.5 3-1 3-1.5 3-1 3-1.5 3-1.5 3-1.5 3-2 3-2.5 3-2 3-2 3-2 3-2 3-2.5 3-2.5 3-3.5 3-4 3-4 3-4 3-4 3-4 3-4 3-4 3-4 3-3.5 3-3 3-3.5 3-3 3-2 3-1.5 3-1 3-0.5 3-0.5 3 0.5 1 0" stroke="#206ff4"/>
<path d="M296 210l3 10 3 8.5 3 7 3 6 3 6 3 0 3-3.5 3-3.5 3-2.5 3-2 3-1.5 3 0 3 1 3 1 3 0.5 3 1 3 0.5 3 1 3 1 3 1.5 3 1 3 1.5 3 0.5 3 0 3-0.5 3 0 3 0.5 3-0.5 3 0 3-0.5 3-0.5 3-1.5 3-1.5 3-2 3-1.5 3-2 3-1.5 3-1.5 3-2.5 3-2.5 3-2.5 3-2.5 3-2.5 3-2.5 3-3.5 3-6 3-5.5 3-6 3-5 3-3.5 3-3 3-2.5 3-3 3-3.5 3-4.5 3-4.5 3-4.5 3-4 3-3 3-1.5 3-1.5 3 0 3 0 3 0.5 3 0 3 0.5 3 1 3 1.5 3 1 3 1 3 1 3 1.5 3 1.5 3 1.5 3 2 3 1 3 1 3 1.5 3 0.5 3 1 3 1 3 1 3 1 3 1 3 1 3 0.5 3 1 3 1 3 0.5 3 1 3 1 3 1 3 1 3 1 3 0.5 3 1 3 1 3 1.5 3 1.5 3 1.5 3 1.5 3 1.5 3 1.5 3 2 3 2.5 3 3.5 3 4 3 3.5 3 4 3 3.5 3 4.5 3 4.5 3 9.5 3 12.5 3 15 3 26 3 33 3 26 3-3.5 3-15 3-0.5 3 10 3 13.5 3 14.5 3 16 3 20 3 25 3 30.5 3 32.5 3 30 3 25.5 3 14 3 13 3 12.5 3 12 3 9.5 3 9.5 3 10 3 8.5 3 8.5 3 7.5 3 8 3 7.5 3 7.5 3 5.5 3 5.5 3 5.5 3 5 3 5 3 4 3 3 3 3 3 2.5 3 3 3 3 3 2.5 3 2 3 2.5 3 2 3 2 3 1.5 3 1.5 3 1.5 3 1 3-4 3-7.5 3-8 3-7.5 3-0.5 3 2 3 1.5 3 0 3 0 3-0.5 3 0 3 0 3 0 3 0 3-1 3-3 3-2.5 3-3 3-3 3-3.5 3-4 3-3.5 3-3.5 3-3.5 3-4 3-4 3-4 3-5 3-5 3-5 3-5.5 3-4.5 3-4.5 3-2.5 3-1 3-1 3-0.5 3-1 3-1 3-1.5 3-0.5 3 0 3 0.5 3 0.5 3 0.5 3 0 3-0.5 3-2 3-4 3-4.5 3-4.5 3-4 3-4 3-3.5 3-4 3-3.5 3-3.5 3-5 3-5 3-5 3-5 3-4.5 3-5 3-4.5 3-5.5 3-5 3-4.5 3-5 3-4.5 3-4.5 3-4.5 3-4.5 3-4.5 3-4.5 3-4 3-4.5 3-4.5 3-4.5 3-5 3-5 3-4.5 3-4.5 3-3.5 3-2.5 3-2.5 3-2.5 3-2 3-2.5 3-2.5 3-2 3-1.5 3-1 3-0.5 3-1 3-1 3-1.5 3-1.5 3-1 3-1.5 3-2 3-2 3-2 3-2.5 3-2.5 3-2.5 3-3 3-2.5 3-4 3-4.5 3-4.5 3-4 3-4.5 3-4.5 3-4 3-4.5 3-4 3-3 3-2.5 3-2.5 3-2.5 3-1.5 3-1 3-1.5 3-1.5 3-1.5 3-1 1-0.5" stroke="#1f70f5"/>
<path d="M296 216l3 8.5 3 7 3 5.5 3 5 3 5 3-0.5 3-3.5 3-3 3-2 3-2 3-1.5 3 0 3 1 3 1 3 0.5 3 1 3 1 3 0.5 3 1.5 3 1.5 3 2 3 1.5 3 0.5 3 0 3 0 3 0 3 0 3 0 3-0.5 3-0.5 3-0.5 3-1.5 3-2 3-2 3-2 3-2 3-2 3-2 3-2 3-3 3-2 3-2.5 3-3 3-2.5 3-3.5 3-5.5 3-5.5 3-5.5 3-5.5 3-3.5 3-3.5 3-3 3-3.5 3-4 3-4 3-4 3-3.5 3-3.5 3-2.5 3-1 3-1.5 3-0.5 3-0.5 3-0.5 3-0.5 3 0.5 3 1 3 1.5 3 1.5 3 1.5 3 2 3 1.5 3 2 3 1.5 3 1.5 3 1 3 1 3 1 3 1 3 1 3 0.5 3 1 3 0.5 3 1 3 0.5 3 1 3 1 3 0.5 3 1 3 0.5 3 1 3 0.5 3 1 3 0.5 3 1 3 1 3 1 3 1 3 1.5 3 1.5 3 2 3 1.5 3 2 3 2 3 3.5 3 3.5 3 3.5 3 3.5 3 3.5 3 3.5 3 3.5 3 4.5 3 9 3 13 3 14.5 3 26 3 32.5 3 25.5 3-3.5 3-14.5 3 0 3 10 3 13.5 3 14.5 3 16 3 19.5 3 25.5 3 30 3 32.5 3 30 3 25.5 3 15 3 13 3 13 3 11.5 3 9.5 3 9.5 3 9 3 8.5 3 8 3 8.5 3 8 3 8 3 8 3 5.5 3 5.5 3 5.5 3 5 3 4.5 3 4 3 3 3 3 3 3.5 3 3 3 3 3 2.5 3 2 3 2 3 2 3 2 3 1 3 1.5 3 1.5 3 1 3-4 3-8 3-8.5 3-8 3 0 3 2 3 1.5 3 0.5 3 0 3 0 3 0 3 0 3 0 3 0 3-1 3-2.5 3-2.5 3-2.5 3-3 3-3 3-3.5 3-4 3-4 3-3.5 3-4.5 3-4 3-4.5 3-5 3-5 3-5 3-5 3-4.5 3-3.5 3-3 3-1 3-0.5 3-1 3-1 3-1 3-1.5 3-1.5 3 0 3 0.5 3 0 3 0.5 3 0 3-1 3-2 3-4 3-4.5 3-4.5 3-4 3-4 3-3.5 3-3.5 3-3.5 3-3.5 3-4.5 3-5.5 3-5.5 3-5.5 3-5.5 3-5 3-5 3-4.5 3-4.5 3-4.5 3-4.5 3-4 3-4.5 3-4 3-4 3-4.5 3-4 3-4.5 3-4.5 3-4.5 3-4.5 3-4.5 3-4.5 3-4.5 3-4.5 3-3.5 3-2 3-2.5 3-2 3-2.5 3-2.5 3-2.5 3-2.5 3-1.5 3-1.5 3-1 3-1.5 3-1 3-1.5 3-1.5 3-1 3-1.5 3-2 3-2.5 3-2 3-2.5 3-2.5 3-2.5 3-2.5 3-2.5 3-3.5 3-4 3-4.5 3-4 3-4 3-4.5 3-4 3-4 3-3.5 3-3 3-2.5 3-3 3-3 3-2 3-2 3-2 3-2 3-1.5 3-1.5 1 0" stroke="#1e70f5"/>
<path d="M296 212.5l3 9 3 7.5 3 6.5 3 6 3 6 3 0.5 3-3 3-3 3-2.5 3-2 3-1.5 3 0 3 0.5 3 1 3 0.5 3 0 3 0.5 3 0.5 3 0.5 3 1.5 3 1.5 3 1 3 1 3 0 3 0 3 0 3 0 3 0 3-0.5 3-0.5 3 0 3-1.5 3-1.5 3-1 3-1.5 3-1 3-1.5 3-1.5 3-2.5 3-3 3-3 3-2.5 3-3 3-2.5 3-3.5 3-5.5 3-5 3-5.5 3-5 3-3.5 3-3 3-3 3-3 3-4 3-4.5 3-4 3-4.5 3-4 3-3.5 3-1.5 3-1 3-0.5 3 0 3 0 3 0 3 0.5 3 1 3 1 3 1.5 3 1.5 3 1 3 1.5 3 1.5 3 1 3 1.5 3 1 3 1 3 1 3 1.5 3 1 3 1 3 1.5 3 1 3 1 3 0.5 3 1 3 0.5 3 1 3 1 3 1 3 1 3 1 3 1 3 0.5 3 0.5 3 0.5 3 1.5 3 1.5 3 1.5 3 1 3 1.5 3 1.5 3 1.5 3 1.5 3 3 3 3.5 3 4 3 3.5 3 3.5 3 3.5 3 4 3 4.5 3 9.5 3 12.5 3 15 3 26 3 32 3 25.5 3-3 3-14 3 0 3 10 3 13 3 14 3 15.5 3 19 3 24 3 29.5 3 31.5 3 30 3 25.5 3 14.5 3 13 3 13 3 12 3 9.5 3 9 3 9.5 3 8.5 3 8.5 3 8 3 8 3 8 3 7.5 3 6 3 5.5 3 6 3 5.5 3 5 3 4.5 3 3.5 3 3 3 2.5 3 3 3 2.5 3 2 3 2 3 2 3 2 3 1.5 3 1.5 3 1.5 3 1.5 3 1 3-4 3-7 3-8.5 3-7 3-0.5 3 2 3 2 3 0.5 3 0 3 0.5 3 0 3-0.5 3 0 3-0.5 3-1 3-2.5 3-3 3-3 3-3 3-3 3-3.5 3-3.5 3-4 3-3.5 3-4.5 3-4 3-4.5 3-5 3-4.5 3-4.5 3-5 3-4 3-4.5 3-3 3-2 3-1.5 3-1 3-1.5 3-1 3-0.5 3-0.5 3 1 3 0.5 3 1 3 0 3 0 3-1.5 3-2 3-4.5 3-5.5 3-4.5 3-4.5 3-4 3-3 3-3 3-3 3-3 3-4.5 3-5 3-5.5 3-5 3-5.5 3-5.5 3-5 3-4.5 3-4.5 3-4.5 3-4 3-4.5 3-4 3-4 3-4.5 3-4.5 3-4.5 3-4.5 3-4.5 3-4 3-4.5 3-3.5 3-4 3-4 3-4.5 3-3.5 3-2.5 3-2.5 3-2.5 3-2.5 3-3 3-2.5 3-2.5 3-2.5 3-2 3-1.5 3-1.5 3-1 3-1 3-1 3-0.5 3-1 3-2 3-2.5 3-2.5 3-2.5 3-2.5 3-3 3-2.5 3-2.5 3-3 3-4 3-4 3-4 3-3.5 3-4.5 3-4 3-4.5 3-4 3-3.5 3-3.5 3-3 3-3 3-1.5 3-1.5 3-1 3-1 3-1.5 3-1.5 1 0" stroke="#1f70f4"/>
<path d="M296 219l3 8 3 6.5 3 5 3 5 3 5.5 3 0 3-3 3-3 3-2 3-2 3-2 3-0.5 3 0.5 3 0.5 3 0.5 3 0.5 3 0.5 3 1 3 1 3 1 3 1.5 3 1.5 3 0.5 3 0 3 0 3 0 3-0.5 3 0 3-0.5 3-0.5 3-0.5 3-1.5 3-1.5 3-1.5 3-1.5 3-1.5 3-1.5 3-1.5 3-2.5 3-2.5 3-2.5 3-2.5 3-3 3-2.5 3-4 3-5.5 3-6 3-5.5 3-5 3-3.5 3-3 3-2.5 3-3 3-3.5 3-4.5 3-4 3-4.5 3-4 3-3 3-1 3-1.5 3 0 3 0.5 3 0 3 0.5 3 0.5 3 1.5 3 1 3 1.5 3 1 3 1.5 3 1 3 1.5 3 1.5 3 1 3 1 3 1 3 1 3 1 3 1 3 1 3 1.5 3 1 3 1 3 0.5 3 1 3 0.5 3 1 3 0.5 3 1 3 0.5 3 1 3 1 3 1 3 1 3 1 3 1.5 3 1.5 3 1.5 3 1 3 1.5 3 1.5 3 1.5 3 2 3 3.5 3 3.5 3 3.5 3 3.5 3 3.5 3 4 3 4 3 4.5 3 9.5 3 12.5 3 14 3 24.5 3 31.5 3 25 3-3 3-13.5 3 1 3 10 3 13 3 14.5 3 15.5 3 18.5 3 24 3 29 3 31 3 29 3 24.5 3 14 3 12.5 3 13 3 12 3 9.5 3 10 3 10 3 9 3 9 3 8.5 3 8 3 8 3 8 3 5.5 3 5.5 3 5 3 5.5 3 4.5 3 4 3 3 3 3 3 2.5 3 3 3 2.5 3 2 3 2.5 3 2.5 3 2 3 2 3 1.5 3 2 3 1.5 3 1 3-4 3-7 3-8.5 3-7.5 3-0.5 3 1 3 1 3 0 3 0 3 0 3 0 3 0 3 0.5 3 0 3-1 3-2 3-3 3-3 3-3 3-3 3-3 3-3.5 3-3 3-4 3-4 3-4.5 3-4.5 3-5 3-5 3-5 3-4.5 3-4.5 3-4 3-3 3-1 3-1 3-1.5 3-1 3-1.5 3-1.5 3-1 3 0 3 0.5 3 0.5 3 0.5 3 0 3-1 3-2.5 3-4 3-4.5 3-4.5 3-4.5 3-3.5 3-3.5 3-3.5 3-3 3-3.5 3-4 3-4.5 3-4.5 3-5 3-4.5 3-5 3-5 3-5 3-4.5 3-4.5 3-4.5 3-4.5 3-4.5 3-4 3-4.5 3-5 3-4.5 3-5 3-5 3-4.5 3-4.5 3-4.5 3-4 3-4.5 3-4 3-3 3-2 3-2.5 3-2 3-2.5 3-2 3-2.5 3-2 3-1.5 3-1 3-1 3-1.5 3-1 3-1 3-1.5 3-1 3-1.5 3-2 3-2.5 3-2.5 3-2.5 3-2.5 3-3 3-2 3-2.5 3-3.5 3-4 3-4 3-4.5 3-4 3-4.5 3-4 3-4.5 3-4 3-3.5 3-2.5 3-3 3-2.5 3-1.5 3-1.5 3-1.5 3-1 3-1.5 3-1 1 0" stroke="#2070f3"/>
<path d="M296 218.5l3 8 3 6.5 3 5 3 5 3 5 3-0.5 3-3 3-3 3-2 3-2 3-1.5 3 0 3 1 3 1 3 0.5 3 0.5 3 0.5 3 1 3 1 3 1.5 3 1.5 3 1.5 3 0.5 3 0 3 0 3 0 3-0.5 3 0 3-0.5 3-0.5 3-0.5 3-1 3-1 3-1 3-1.5 3-1 3-1.5 3-2 3-2.5 3-3 3-2.5 3-3.5 3-3 3-3 3-4.5 3-5.5 3-5.5 3-5.5 3-5.5 3-3 3-3 3-2.5 3-3 3-3.5 3-4 3-4 3-4 3-3.5 3-3 3-1.5 3-2 3-0.5 3 0 3 0 3-0.5 3 0.5 3 1.5 3 1.5 3 1.5 3 1.5 3 1.5 3 1.5 3 1.5 3 1.5 3 1.5 3 1.5 3 1.5 3 1 3 1.5 3 1 3 0.5 3 1 3 0 3 0.5 3 0.5 3 0.5 3 0.5 3 1 3 1 3 0.5 3 1 3 0.5 3 1 3 1 3 0.5 3 1 3 1 3 1.5 3 1.5 3 1.5 3 2 3 1.5 3 2 3 2 3 3 3 3.5 3 4 3 3.5 3 3.5 3 3.5 3 4.5 3 4 3 10 3 12.5 3 15 3 25 3 32 3 25 3-2.5 3-13.5 3 0.5 3 9.5 3 12.5 3 14 3 15 3 19 3 23.5 3 28.5 3 31 3 28.5 3 24.5 3 14 3 12.5 3 12.5 3 11.5 3 9.5 3 9.5 3 9.5 3 9 3 8.5 3 8.5 3 8 3 8 3 7.5 3 5.5 3 5.5 3 5.5 3 5 3 4.5 3 4 3 3 3 2.5 3 3 3 3 3 3 3 2.5 3 2.5 3 2 3 2 3 2 3 1.5 3 1.5 3 1.5 3 1 3-3.5 3-7.5 3-8 3-7.5 3-0.5 3 1.5 3 1.5 3 1 3 0.5 3 0.5 3 0.5 3 0 3 0 3 0 3-1.5 3-2.5 3-3 3-2.5 3-3 3-3.5 3-3.5 3-4 3-3.5 3-3.5 3-4 3-4 3-4.5 3-4.5 3-5 3-5 3-5 3-4.5 3-4 3-2.5 3-1.5 3-1 3-0.5 3-1.5 3-1 3-1 3-1 3 0.5 3 0 3 1 3 0 3-0.5 3-1 3-2 3-4.5 3-4.5 3-5 3-4 3-3.5 3-3.5 3-3.5 3-3 3-3 3-4 3-5 3-4.5 3-5 3-4.5 3-5 3-5 3-4.5 3-5 3-4.5 3-5 3-4.5 3-4.5 3-4.5 3-4.5 3-4.5 3-4 3-4.5 3-4.5 3-4.5 3-4.5 3-4.5 3-4 3-4.5 3-4.5 3-3 3-2 3-2.5 3-2 3-2 3-2 3-2.5 3-2.5 3-2 3-1.5 3-1.5 3-1 3-1.5 3-1.5 3-1 3-1.5 3-1.5 3-2.5 3-3 3-2.5 3-2.5 3-2.5 3-2.5 3-2 3-2 3-3 3-3.5 3-4 3-3.5 3-3.5 3-4 3-4 3-4 3-4 3-3 3-3.5 3-3 3-2.5 3-2 3-1.5 3-1 3-1.5 3-1 3-0.5 1 0" stroke="#2070f2"/>
<path d="M296 218.5l3 8.5 3 7 3 5.5 3 5.5 3 4.5 3-0.5 3-3.5 3-3 3-2.5 3-1.5 3-1.5 3 0 3 1 3 1.5 3 0.5 3 1 3 0 3 0.5 3 0.5 3 0.5 3 1 3 1 3 0.5 3 0 3 0 3 0.5 3 0 3 0 3 0 3-0.5 3-0.5 3-1.5 3-1.5 3-2 3-1.5 3-1.5 3-1.5 3-1.5 3-2 3-2 3-1.5 3-2.5 3-2.5 3-3 3-4 3-6 3-6 3-6 3-5 3-3.5 3-3 3-2.5 3-3 3-3.5 3-4 3-4 3-4 3-4 3-3.5 3-1.5 3-1.5 3-0.5 3 0 3 0 3 0 3 0.5 3 1.5 3 1.5 3 2 3 1.5 3 2 3 1.5 3 1.5 3 1.5 3 1.5 3 0.5 3 1 3 0.5 3 1 3 0.5 3 1 3 0.5 3 0.5 3 0 3 1 3 0.5 3 1 3 1 3 1 3 1.5 3 1 3 1 3 0.5 3 1 3 1 3 0.5 3 1.5 3 1.5 3 1.5 3 2 3 1.5 3 1.5 3 1.5 3 1.5 3 2.5 3 3 3 3.5 3 3.5 3 3.5 3 3.5 3 4.5 3 5 3 10 3 13 3 15.5 3 24.5 3 31.5 3 24.5 3-3 3-13 3 0.5 3 9 3 12.5 3 14 3 15 3 18.5 3 23 3 28 3 30.5 3 28 3 24.5 3 14 3 12.5 3 13 3 11.5 3 9.5 3 10 3 10 3 9 3 9 3 9.5 3 8.5 3 8.5 3 7.5 3 5.5 3 5 3 4.5 3 4.5 3 4 3 4 3 2.5 3 2.5 3 3 3 3 3 2.5 3 2.5 3 2 3 2.5 3 2 3 2.5 3 1.5 3 2 3 2 3 1.5 3-3.5 3-6.5 3-7.5 3-7 3-1 3 1.5 3 1 3 0 3-0.5 3 0 3-0.5 3-0.5 3 0 3-0.5 3-1 3-2.5 3-2.5 3-2.5 3-2.5 3-3 3-3.5 3-3 3-4 3-4 3-4.5 3-4.5 3-4.5 3-5 3-4.5 3-5 3-4.5 3-4 3-4 3-2.5 3-1 3-1 3-1 3-1 3-1 3-1 3-0.5 3 0.5 3 1 3 0.5 3 0.5 3-0.5 3-1.5 3-2.5 3-4.5 3-5.5 3-4.5 3-4.5 3-4 3-4 3-3 3-3 3-3.5 3-4 3-5 3-5 3-5 3-4.5 3-5 3-4.5 3-4.5 3-4.5 3-4.5 3-4.5 3-4.5 3-4.5 3-4.5 3-4.5 3-4 3-4.5 3-4 3-4 3-4 3-4 3-4 3-4 3-4.5 3-4 3-3 3-2.5 3-2 3-2.5 3-2 3-2.5 3-2.5 3-3 3-2 3-2 3-1.5 3-1.5 3-1.5 3-1.5 3-1 3-1 3-1 3-2 3-2.5 3-2.5 3-2 3-2.5 3-2.5 3-2 3-2.5 3-3 3-3.5 3-4 3-3.5 3-4 3-4 3-4.5 3-4.5 3-4 3-3 3-3 3-2.5 3-2.5 3-1.5 3-1 3-1.5 3-1 3-1.5 3-1 1 0" stroke="#2170f1"/>
<path d="M296 218.5l3 9 3 7 3 5.5 3 5 3 4.5 3-0.5 3-3.5 3-3 3-2 3-2 3-2 3 0 3 0.5 3 1 3 0.5 3 1 3 0.5 3 1 3 1 3 1.5 3 1.5 3 1.5 3 0.5 3 0 3 0 3 0 3 0 3 0 3 0 3 0 3-0.5 3-1 3-2 3-1.5 3-2 3-2 3-2 3-2 3-2.5 3-2.5 3-2.5 3-2.5 3-2.5 3-2.5 3-4 3-5.5 3-6 3-5.5 3-5 3-3.5 3-2.5 3-2 3-2.5 3-3.5 3-3.5 3-3.5 3-4 3-4 3-3 3-2 3-2 3-1 3 0.5 3 0 3 0.5 3 0.5 3 1.5 3 1 3 1.5 3 1 3 0.5 3 1 3 1.5 3 1 3 1 3 1 3 0.5 3 1 3 1 3 1 3 1.5 3 1.5 3 1.5 3 1 3 1 3 1 3 0.5 3 0.5 3 0.5 3 0.5 3 1 3 0.5 3 1 3 1 3 1 3 1 3 1 3 1.5 3 1.5 3 1 3 1.5 3 1.5 3 1.5 3 1.5 3 2.5 3 4 3 3.5 3 4 3 4 3 4 3 4.5 3 5 3 9.5 3 12.5 3 15 3 24 3 30 3 24 3-3 3-13 3 0 3 9.5 3 12.5 3 14 3 15 3 19 3 23 3 28 3 30 3 28 3 24 3 14.5 3 13 3 13 3 12 3 9.5 3 10 3 9.5 3 9 3 8.5 3 8.5 3 7.5 3 7.5 3 7.5 3 5.5 3 6 3 5.5 3 6 3 4.5 3 4 3 3.5 3 2.5 3 2.5 3 3 3 2.5 3 2 3 2 3 2 3 2 3 1.5 3 1.5 3 1 3 2 3 1 3-3.5 3-6.5 3-7.5 3-6.5 3-0.5 3 1.5 3 1 3 0 3 0 3 0 3 0 3 0 3 0 3 0 3-1.5 3-2.5 3-3.5 3-3 3-3 3-3 3-3.5 3-3 3-3.5 3-3.5 3-4 3-4.5 3-4 3-4.5 3-4.5 3-4.5 3-4.5 3-4.5 3-3.5 3-2.5 3-1.5 3-0.5 3-1 3-0.5 3-1.5 3-1 3-1 3 0 3 0 3 0.5 3 0.5 3-0.5 3-1 3-2.5 3-4.5 3-5.5 3-5 3-4.5 3-4 3-4 3-3.5 3-3 3-3 3-4 3-4.5 3-4.5 3-4 3-4.5 3-4.5 3-5 3-4.5 3-5 3-4 3-4.5 3-4 3-4.5 3-4 3-4 3-4.5 3-4 3-4.5 3-4.5 3-4.5 3-4.5 3-4 3-4 3-4 3-4 3-3 3-3 3-2.5 3-2.5 3-2.5 3-2 3-2.5 3-2 3-2 3-1.5 3-2 3-1.5 3-1.5 3-1.5 3-1.5 3-1.5 3-1 3-2 3-2 3-2.5 3-2.5 3-2.5 3-2.5 3-2 3-2 3-3 3-3.5 3-4 3-3.5 3-4 3-4.5 3-4 3-4.5 3-4 3-3 3-3 3-3 3-2.5 3-1.5 3-1 3-1 3-1 3-1 3-1 1-0.5" stroke="#2270f0"/>
<path d="M296 222l3 7.5 3 6 3 4.5 3 4.5 3 4.5 3 0 3-3 3-3 3-2 3-2 3-1 3 0 3 1 3 1 3 1 3 0.5 3 0.5 3 1 3 0.5 3 1.5 3 1 3 1 3 0 3 0 3 0 3 0 3 0.5 3 0 3 0 3-0.5 3 0 3-1.5 3-1.5 3-1.5 3-2 3-1.5 3-2 3-2 3-2.5 3-2.5 3-2.5 3-2.5 3-3 3-3 3-3.5 3-5.5 3-5.5 3-5.5 3-4.5 3-3.5 3-2.5 3-3 3-3 3-3.5 3-4 3-4 3-4 3-4 3-3 3-1.5 3-1 3-0.5 3 0 3 0 3 0 3 0.5 3 1.5 3 1.5 3 1.5 3 1.5 3 1.5 3 1 3 1.5 3 1 3 1.5 3 0.5 3 1 3 0.5 3 1 3 1 3 1 3 0.5 3 1 3 1 3 1 3 1 3 1 3 1 3 1 3 1 3 0.5 3 1 3 0.5 3 1 3 1 3 1 3 1.5 3 2 3 1.5 3 1.5 3 1.5 3 1 3 1.5 3 1.5 3 2.5 3 3.5 3 3 3 3.5 3 3.5 3 4 3 4.5 3 5 3 10 3 13 3 15 3 24 3 30.5 3 24 3-2.5 3-12.5 3 1 3 9 3 12.5 3 13.5 3 15 3 18 3 22.5 3 27 3 29.5 3 27 3 23.5 3 14.5 3 12.5 3 13 3 11.5 3 9.5 3 9.5 3 9.5 3 9.5 3 8.5 3 8.5 3 8.5 3 8 3 7.5 3 5.5 3 5.5 3 5.5 3 5.5 3 4 3 4.5 3 3 3 2.5 3 2.5 3 2.5 3 2 3 1.5 3 2 3 2 3 1.5 3 2 3 2 3 2 3 2 3 1.5 3-3.5 3-6.5 3-7.5 3-7 3-1 3 1.5 3 1 3 0 3 0 3 0 3 0.5 3 0 3 0.5 3 0 3-0.5 3-2.5 3-3 3-3 3-3 3-3.5 3-3.5 3-3.5 3-3.5 3-3.5 3-4 3-4 3-4 3-4.5 3-4.5 3-4.5 3-4.5 3-4 3-3.5 3-2.5 3-1.5 3-1 3-1.5 3-1 3-1.5 3-1.5 3-1 3 0.5 3 0.5 3 0.5 3 0.5 3 0 3-0.5 3-2.5 3-4.5 3-5 3-5 3-5 3-4.5 3-4 3-4 3-3.5 3-3.5 3-4.5 3-4.5 3-5 3-4 3-4.5 3-4 3-4.5 3-4 3-4.5 3-4 3-4.5 3-4.5 3-4.5 3-4.5 3-4.5 3-4.5 3-4 3-4.5 3-4 3-4 3-4 3-4 3-4 3-4 3-4 3-3 3-2.5 3-2 3-2.5 3-2 3-2 3-2.5 3-2 3-2 3-1.5 3-1.5 3-1.5 3-2 3-2 3-1.5 3-1.5 3-1.5 3-2 3-2 3-2 3-2 3-2 3-2 3-2 3-2.5 3-3 3-4 3-4.5 3-4 3-4 3-4 3-4 3-4 3-4 3-2.5 3-3 3-3 3-2.5 3-1 3-1 3-1 3-0.5 3-0.5 3-0.5 1 0.5" stroke="#236fef"/>
<path d="M296 222l3 7.5 3 6 3 4.5 3 4.5 3 4.5 3-0.5 3-3 3-3 3-2 3-2 3-2 3 0.5 3 1 3 1.5 3 1 3 1.5 3 1 3 0.5 3 1 3 1.5 3 1 3 0.5 3 0 3-0.5 3 0 3-0.5 3 0 3 0 3 0 3-0.5 3-0.5 3-1.5 3-1.5 3-2 3-2 3-2 3-2 3-1.5 3-2.5 3-2 3-2.5 3-2 3-2.5 3-2.5 3-3.5 3-5 3-5.5 3-5 3-5 3-3 3-2.5 3-2 3-3 3-3.5 3-4 3-4 3-4.5 3-4 3-3.5 3-1.5 3-1.5 3-0.5 3 0 3 0 3 0 3 0.5 3 1 3 1.5 3 1.5 3 1.5 3 1.5 3 1 3 1 3 1 3 1 3 1 3 1 3 1 3 1.5 3 1 3 1 3 1 3 1 3 1 3 1 3 0.5 3 0.5 3 0.5 3 0.5 3 0.5 3 1 3 0.5 3 1.5 3 1 3 1 3 1 3 1.5 3 1.5 3 1.5 3 1.5 3 1.5 3 1.5 3 1.5 3 1.5 3 2.5 3 3.5 3 3.5 3 3.5 3 3.5 3 4 3 4.5 3 5 3 10 3 12.5 3 14.5 3 23.5 3 29.5 3 24 3-2 3-11.5 3 1.5 3 9.5 3 12.5 3 13.5 3 14.5 3 17.5 3 22 3 27 3 28.5 3 27 3 23 3 14.5 3 13 3 13 3 12 3 10 3 9.5 3 9.5 3 9 3 8.5 3 8.5 3 7.5 3 8 3 7.5 3 6 3 5.5 3 6 3 5 3 4.5 3 3.5 3 2.5 3 2.5 3 2 3 3 3 2.5 3 2 3 2.5 3 2 3 2 3 1.5 3 1.5 3 1.5 3 1.5 3 1 3-3.5 3-6 3-7 3-6.5 3 0 3 1.5 3 1.5 3 0.5 3 0 3 0.5 3 0 3 0.5 3 0 3 0 3-1 3-3 3-3 3-3 3-3.5 3-3.5 3-3.5 3-4 3-3 3-3.5 3-3.5 3-4 3-4 3-4 3-4.5 3-4.5 3-5 3-4 3-3.5 3-2.5 3-1.5 3-1 3-1 3-1.5 3-1.5 3-1.5 3-1.5 3 0 3 0 3 0.5 3 0.5 3 0.5 3-0.5 3-2 3-4 3-5 3-5 3-4.5 3-4.5 3-3.5 3-3.5 3-3 3-3.5 3-4 3-4.5 3-5 3-5 3-4.5 3-5 3-4.5 3-5 3-4.5 3-4 3-4.5 3-4.5 3-4 3-4.5 3-4 3-3.5 3-4 3-4 3-3.5 3-4 3-4.5 3-4.5 3-4.5 3-4.5 3-4.5 3-3 3-2 3-2 3-2.5 3-2 3-2.5 3-2 3-2.5 3-2 3-1 3-1.5 3-1.5 3-1.5 3-1.5 3-1.5 3-1.5 3-2 3-2 3-2 3-2 3-1.5 3-2 3-2 3-2.5 3-2 3-3.5 3-4 3-4.5 3-4 3-4 3-4 3-4 3-4 3-3.5 3-3 3-2.5 3-2.5 3-2.5 3-1.5 3-1.5 3-1 3-1 3-1 3-0.5 1 0" stroke="#236fee"/>
<path d="M296 227l3 6 3 4.5 3 3.5 3 4 3 3.5 3-0.5 3-3 3-2.5 3-1.5 3-1.5 3-1 3 0.5 3 1 3 1 3 1 3 0.5 3 1 3 0.5 3 0.5 3 1.5 3 1 3 1 3 0 3 0 3 0 3 0 3 0 3 0.5 3-0.5 3 0 3-0.5 3-1.5 3-1.5 3-2 3-2 3-2 3-2 3-2 3-2.5 3-2.5 3-2.5 3-2.5 3-3 3-2.5 3-3.5 3-5 3-5.5 3-5 3-5 3-3.5 3-2.5 3-2.5 3-2.5 3-3.5 3-3.5 3-3.5 3-4 3-4 3-3.5 3-1.5 3-1.5 3-0.5 3 0.5 3 0.5 3 0 3 1 3 1 3 1 3 1.5 3 1 3 1 3 1 3 1.5 3 1 3 1.5 3 1 3 1 3 0.5 3 0.5 3 0.5 3 0.5 3 1 3 1 3 1 3 1 3 1 3 1 3 0.5 3 0.5 3 0.5 3 0.5 3 0.5 3 1 3 1 3 1 3 1.5 3 1.5 3 1.5 3 1.5 3 1.5 3 1 3 1 3 1.5 3 1 3 3 3 3 3 4 3 3.5 3 4 3 4 3 4.5 3 5 3 10 3 13 3 15 3 23.5 3 29.5 3 24 3-2 3-11 3 1 3 9 3 12 3 13 3 14.5 3 17.5 3 22 3 26.5 3 28.5 3 26.5 3 23 3 14 3 12.5 3 13 3 11 3 9.5 3 9.5 3 9.5 3 9.5 3 8.5 3 9 3 8.5 3 8.5 3 7.5 3 6.5 3 5.5 3 6 3 5 3 4.5 3 3.5 3 2.5 3 2.5 3 2.5 3 2.5 3 2.5 3 2 3 2 3 2 3 2 3 2.5 3 2 3 1.5 3 2 3 1.5 3-3.5 3-6.5 3-7.5 3-6.5 3-1 3 1 3 0.5 3 0 3-0.5 3 0 3 0.5 3 0.5 3 0 3 0.5 3-0.5 3-2 3-2.5 3-3 3-3 3-3.5 3-4 3-3.5 3-3.5 3-3.5 3-4 3-4 3-4 3-4.5 3-5 3-4.5 3-5 3-4 3-3.5 3-2.5 3-1 3-1 3-1 3-1.5 3-1.5 3-1.5 3-1 3 0 3 0 3 0.5 3 0.5 3 0 3-0.5 3-2 3-4 3-5 3-4.5 3-4.5 3-4 3-4 3-3.5 3-3 3-3.5 3-4 3-5 3-4.5 3-4.5 3-4.5 3-4.5 3-4.5 3-5 3-5 3-5 3-4.5 3-4.5 3-4.5 3-4 3-4 3-3.5 3-3.5 3-4 3-4 3-4 3-4 3-4 3-4 3-4 3-3.5 3-2.5 3-2.5 3-2 3-2.5 3-2.5 3-2.5 3-2.5 3-2.5 3-2 3-1.5 3-1.5 3-1 3-1.5 3-1 3-1.5 3-1.5 3-1.5 3-2.5 3-2 3-2.5 3-2.5 3-2.5 3-2 3-2.5 3-2 3-3 3-4 3-4 3-4 3-4 3-4 3-4 3-4 3-3.5 3-2.5 3-3 3-2.5 3-2.5 3-1.5 3-1.5 3-1.5 3-1.5 3-1.5 3-1.5 1 0" stroke="#246fed"/>
<path d="M296 223.5l3 7 3 5.5 3 4.5 3 4.5 3 4.5 3 0 3-3 3-2 3-2 3-1.5 3-1.5 3 0 3 1 3 0.5 3 0.5 3 0.5 3 0.5 3 0.5 3 1 3 1 3 1 3 1 3 0.5 3 0.5 3 0.5 3 0.5 3 0 3 0 3-0.5 3-0.5 3-0.5 3-1.5 3-1.5 3-1.5 3-1.5 3-2 3-2 3-2.5 3-2.5 3-2.5 3-2.5 3-2.5 3-3 3-2.5 3-4 3-5 3-5.5 3-5 3-4.5 3-3 3-2.5 3-2 3-3 3-3 3-4 3-3.5 3-4 3-4 3-3 3-1.5 3-1.5 3-1 3 0 3 0 3 0 3 0.5 3 1 3 1.5 3 1.5 3 1.5 3 1.5 3 1 3 1.5 3 1 3 1 3 1 3 0.5 3 1 3 0.5 3 1 3 0.5 3 1 3 1 3 1.5 3 1 3 0.5 3 1 3 1 3 0.5 3 0.5 3 0.5 3 0.5 3 1 3 1 3 1 3 1 3 2 3 1.5 3 2 3 1.5 3 1.5 3 1 3 1.5 3 1.5 3 3 3 3.5 3 3.5 3 3.5 3 3.5 3 4 3 5 3 5.5 3 10.5 3 13 3 15 3 23 3 29 3 22.5 3-2.5 3-11 3 0.5 3 9 3 12 3 13 3 14 3 17.5 3 22 3 26 3 28.5 3 26.5 3 22.5 3 14 3 13 3 13 3 11.5 3 10 3 9.5 3 9 3 9 3 8.5 3 8.5 3 8 3 7.5 3 7 3 5.5 3 5.5 3 5.5 3 5 3 4.5 3 3.5 3 3 3 3 3 2.5 3 3 3 3 3 2.5 3 2 3 2.5 3 2 3 2 3 1.5 3 2 3 1.5 3 1 3-3.5 3-6.5 3-7.5 3-7 3-0.5 3 1 3 1 3 0 3 0 3 0.5 3 0.5 3 0 3 0 3 0 3-1 3-2 3-3 3-2.5 3-3 3-3.5 3-3.5 3-3.5 3-3 3-3.5 3-3.5 3-4 3-4 3-4 3-5 3-4.5 3-5 3-4.5 3-4 3-2.5 3-1.5 3-1 3-1 3-1 3-1 3-1 3-1 3 0 3 0 3 0.5 3 0 3-0.5 3-1 3-2.5 3-4 3-5 3-4.5 3-4.5 3-4 3-3.5 3-3 3-3 3-3 3-4 3-4.5 3-5 3-4.5 3-4.5 3-4.5 3-4.5 3-4 3-4.5 3-4.5 3-4.5 3-4 3-4.5 3-4 3-4 3-4 3-4 3-4 3-4 3-4 3-4 3-4.5 3-4.5 3-4.5 3-4 3-3 3-2 3-2 3-2 3-2 3-2 3-2 3-2.5 3-2 3-1.5 3-1.5 3-2 3-1.5 3-1.5 3-1.5 3-1.5 3-1.5 3-2 3-2.5 3-2.5 3-2.5 3-2.5 3-2 3-2 3-2.5 3-3 3-4 3-4 3-4 3-4 3-4 3-3.5 3-3.5 3-3.5 3-2.5 3-2.5 3-2.5 3-2.5 3-1.5 3-2 3-1.5 3-2 3-2 3-1.5 1-0.5" stroke="#256fec"/>
<path d="M296 226.5l3 6.5 3 5.5 3 4.5 3 4 3 4 3-0.5 3-2.5 3-3 3-1.5 3-2 3-1.5 3 0 3 0.5 3 1 3 0.5 3 0.5 3 0.5 3 0.5 3 1 3 1 3 1 3 1 3 0.5 3 0 3 0 3-0.5 3 0 3 0 3-0.5 3-0.5 3-1 3-1 3-2 3-1.5 3-2 3-1.5 3-2 3-1.5 3-2 3-2.5 3-2 3-2 3-3 3-2.5 3-3.5 3-5.5 3-5 3-5.5 3-4.5 3-3.5 3-2.5 3-2.5 3-2.5 3-3.5 3-3.5 3-3.5 3-3.5 3-3.5 3-3.5 3-1.5 3-2 3-0.5 3 0 3 0.5 3 0 3 1 3 1 3 1.5 3 1 3 1.5 3 1 3 1 3 1 3 1.5 3 1 3 1 3 0.5 3 1 3 1 3 0.5 3 0.5 3 1 3 0.5 3 1 3 1.5 3 1 3 1 3 1 3 0.5 3 1 3 1 3 0.5 3 1 3 1 3 1 3 1 3 1 3 1.5 3 1 3 1.5 3 1 3 1.5 3 1.5 3 1.5 3 3 3 3.5 3 4 3 3.5 3 3.5 3 4.5 3 4.5 3 5 3 10 3 12.5 3 15 3 22.5 3 28.5 3 23 3-1.5 3-10.5 3 1 3 9.5 3 12 3 13 3 14 3 17.5 3 21.5 3 26 3 28 3 26 3 22.5 3 13.5 3 12.5 3 12 3 11.5 3 9.5 3 9.5 3 10 3 9 3 9 3 9 3 8 3 8 3 7.5 3 6 3 5.5 3 6 3 5 3 4 3 3 3 2.5 3 2 3 2.5 3 2 3 2.5 3 2 3 2 3 2 3 2 3 2 3 1.5 3 2 3 1.5 3 1.5 3-3 3-6.5 3-7 3-6.5 3-1 3 1 3 1 3 0 3 0 3 0 3 0 3 0 3 0 3 0 3-0.5 3-1.5 3-2.5 3-2.5 3-3 3-3 3-3.5 3-3.5 3-3 3-3.5 3-3.5 3-4 3-4.5 3-4.5 3-5 3-5 3-5 3-4 3-3.5 3-2 3-1 3-0.5 3-1 3-1 3-1.5 3-1.5 3-1.5 3 0 3 0.5 3 0.5 3 0.5 3 0.5 3-1 3-2 3-4 3-4.5 3-5 3-4.5 3-4.5 3-3.5 3-4 3-3 3-3.5 3-4 3-4.5 3-5 3-4.5 3-4.5 3-5 3-4.5 3-4.5 3-4.5 3-4 3-4 3-4 3-4.5 3-3.5 3-4 3-3.5 3-4 3-4 3-4 3-4 3-4.5 3-4 3-4 3-4 3-4 3-3 3-2.5 3-2.5 3-2 3-2 3-2.5 3-2.5 3-2.5 3-2 3-2 3-1.5 3-1 3-1.5 3-1 3-1 3-1.5 3-1 3-2.5 3-2.5 3-2 3-2.5 3-2 3-2 3-2 3-2 3-3 3-4 3-3.5 3-4 3-4 3-3.5 3-4 3-3.5 3-3.5 3-3 3-3 3-2.5 3-3 3-1.5 3-2 3-1.5 3-1.5 3-1.5 3-1.5 1 0" stroke="#266feb"/>
<path d="M296 226l3 6.5 3 6 3 4.5 3 4.5 3 4 3 0 3-3 3-2.5 3-2 3-1.5 3-1.5 3 0 3 0.5 3 1 3 0.5 3 0.5 3 0.5 3 0.5 3 0.5 3 1 3 1 3 1 3 0.5 3 0 3 0 3 0 3 0 3 0.5 3-0.5 3 0 3-0.5 3-1 3-1.5 3-1.5 3-2 3-1.5 3-2 3-1.5 3-2.5 3-2 3-2.5 3-2.5 3-3 3-3 3-4 3-5.5 3-5 3-5.5 3-4.5 3-3 3-3 3-2.5 3-2.5 3-3.5 3-3.5 3-4 3-3.5 3-3.5 3-3 3-2 3-2 3-1 3 0.5 3 0 3 0.5 3 0.5 3 1.5 3 1 3 1.5 3 1.5 3 1.5 3 1.5 3 1 3 1.5 3 1 3 0.5 3 0.5 3 1 3 0.5 3 1 3 0.5 3 0.5 3 1 3 0.5 3 0.5 3 1 3 1 3 1.5 3 1 3 1 3 1 3 0.5 3 1 3 0 3 0.5 3 1 3 1 3 1.5 3 1.5 3 1.5 3 2 3 1.5 3 1.5 3 1.5 3 3 3 3 3 3.5 3 3 3 3.5 3 4 3 4.5 3 5.5 3 10.5 3 13.5 3 15 3 22.5 3 28 3 22.5 3-1.5 3-10 3 1 3 9 3 12 3 12.5 3 14 3 17 3 21 3 25.5 3 27.5 3 25.5 3 22 3 13.5 3 12 3 12.5 3 11 3 9.5 3 10 3 9.5 3 9.5 3 9 3 8.5 3 8.5 3 7.5 3 7.5 3 6 3 5.5 3 6 3 5.5 3 4 3 4 3 2.5 3 3 3 2.5 3 3 3 2 3 2 3 2 3 2 3 1.5 3 1.5 3 1 3 1.5 3 1 3 1 3-3.5 3-6 3-6.5 3-6 3-0.5 3 2 3 1 3 0.5 3 0.5 3 0 3 0 3 0 3 0 3 0 3-0.5 3-2 3-3 3-2.5 3-3 3-3 3-3.5 3-3 3-3.5 3-3.5 3-3.5 3-4.5 3-4 3-5 3-5 3-5 3-5 3-4 3-4 3-2 3-1 3-0.5 3-0.5 3-0.5 3-1 3-1.5 3-0.5 3 0 3 0.5 3 0 3 0.5 3 0 3-1.5 3-2 3-4 3-5 3-4.5 3-4.5 3-4 3-4 3-4 3-3.5 3-3.5 3-4 3-4.5 3-4 3-4 3-4.5 3-4.5 3-4.5 3-4.5 3-4.5 3-4 3-4 3-4 3-4 3-4.5 3-3.5 3-4 3-4 3-4 3-4 3-4 3-4 3-4.5 3-4 3-4 3-4.5 3-2.5 3-2.5 3-2 3-2 3-2 3-2.5 3-2 3-2.5 3-1.5 3-1.5 3-1 3-1 3-1 3-1.5 3-1.5 3-1.5 3-1.5 3-2.5 3-2.5 3-2.5 3-2.5 3-2 3-2.5 3-2 3-2.5 3-2.5 3-4 3-3.5 3-3.5 3-4 3-3.5 3-4 3-3.5 3-3.5 3-3 3-3 3-3 3-2.5 3-2 3-1.5 3-1.5 3-1.5 3-1.5 3-1 1-0.5" stroke="#276fea"/>
<path d="M296 223l3 7.5 3 6.5 3 5 3 5 3 4.5 3 0.5 3-2.5 3-2.5 3-2 3-2 3-2 3 0 3 0 3 0.5 3 0.5 3 0.5 3 0.5 3 0.5 3 1.5 3 1 3 2 3 1.5 3 0.5 3 0 3 0 3 0 3 0 3-0.5 3-1 3-1 3-1 3-1.5 3-2 3-1.5 3-2 3-1 3-1.5 3-1.5 3-2 3-2 3-2.5 3-2.5 3-3 3-3.5 3-3.5 3-5.5 3-5 3-5 3-4 3-3 3-2.5 3-3 3-2.5 3-3.5 3-3.5 3-4 3-3.5 3-3.5 3-2.5 3-1.5 3-1.5 3-0.5 3 0.5 3 0.5 3 0 3 1 3 1 3 1.5 3 1 3 1.5 3 1 3 1.5 3 1 3 1 3 1 3 0 3 0 3 0.5 3 0.5 3 1 3 1 3 1 3 1.5 3 1 3 1 3 1 3 0.5 3 1 3 0.5 3 1 3 1 3 1 3 1 3 1 3 1 3 0.5 3 1 3 1.5 3 1.5 3 1.5 3 1.5 3 2 3 1.5 3 2 3 2.5 3 3.5 3 3.5 3 3.5 3 3.5 3 3.5 3 4.5 3 4.5 3 9.5 3 13 3 14.5 3 22 3 28 3 22 3-1 3-9.5 3 2 3 9 3 12 3 13 3 14 3 16.5 3 21 3 25 3 27 3 25 3 21.5 3 13.5 3 12.5 3 12 3 11.5 3 9.5 3 10 3 9.5 3 9.5 3 8.5 3 9 3 8 3 8 3 8 3 6 3 5.5 3 5.5 3 5 3 3.5 3 3.5 3 2.5 3 2.5 3 2.5 3 3 3 2.5 3 2 3 1.5 3 2 3 1.5 3 1.5 3 1.5 3 1.5 3 2 3 1 3-3 3-6 3-6.5 3-5.5 3-0.5 3 1.5 3 1.5 3 0.5 3 0 3 0 3 0 3 0 3-0.5 3 0 3-1 3-2 3-2.5 3-2.5 3-2.5 3-3 3-3 3-3.5 3-3.5 3-4 3-3.5 3-4 3-4 3-4.5 3-4.5 3-5 3-5 3-4 3-4 3-3 3-1.5 3-1.5 3-0.5 3-1 3-0.5 3-0.5 3-0.5 3 0.5 3 0.5 3 0.5 3 0 3 0 3-1.5 3-2.5 3-5 3-5 3-5 3-4.5 3-4 3-4 3-3 3-3.5 3-3.5 3-4.5 3-4.5 3-4.5 3-4.5 3-4.5 3-4 3-4 3-4 3-3.5 3-4 3-4 3-4 3-4.5 3-4 3-4.5 3-3.5 3-4 3-4 3-3.5 3-4 3-3.5 3-4 3-4 3-3.5 3-4 3-3 3-2.5 3-2.5 3-3 3-2 3-2.5 3-2 3-2 3-1.5 3-1 3-1 3-1.5 3-2 3-1.5 3-1.5 3-2 3-1.5 3-2.5 3-2 3-2.5 3-2 3-2 3-2.5 3-2.5 3-2.5 3-3 3-4 3-4 3-3.5 3-4 3-4 3-3.5 3-3.5 3-3.5 3-2.5 3-2.5 3-3 3-2.5 3-2 3-2 3-2 3-2 3-1.5 3-1.5 1 0" stroke="#276fe9"/>
<path d="M296 227.5l3 6 3 5 3 3.5 3 4 3 4 3 0 3-2.5 3-2 3-1.5 3-1.5 3-1 3 0 3 1 3 0.5 3 0.5 3 0.5 3 1 3 0.5 3 1 3 1 3 1.5 3 1.5 3 0.5 3 0.5 3 0 3 0 3-0.5 3-0.5 3-1 3-0.5 3-1 3-1.5 3-1 3-1.5 3-1.5 3-1.5 3-2 3-2 3-2.5 3-2.5 3-2.5 3-3 3-3 3-3.5 3-3.5 3-5 3-5 3-5 3-4.5 3-3 3-2.5 3-3 3-3 3-3.5 3-4 3-4 3-4 3-3.5 3-2.5 3-1.5 3-1 3 0.5 3 0.5 3 0.5 3 0.5 3 1 3 1 3 1.5 3 1 3 1.5 3 1 3 1.5 3 1 3 1 3 1 3 0.5 3 0.5 3 0 3 0.5 3 0.5 3 0.5 3 0.5 3 1 3 1 3 1 3 1.5 3 1 3 1 3 1 3 1 3 1 3 1 3 1 3 1 3 1 3 1 3 1 3 1 3 1.5 3 1 3 1.5 3 1 3 2 3 1.5 3 3 3 4 3 3.5 3 3.5 3 3 3 4 3 4.5 3 5.5 3 10 3 13.5 3 14.5 3 22 3 27 3 21.5 3-1 3-9 3 1.5 3 9 3 12 3 12 3 14 3 16.5 3 21 3 24 3 26.5 3 24.5 3 21 3 13 3 12.5 3 12.5 3 11.5 3 10 3 10 3 10 3 9.5 3 8.5 3 9 3 8 3 7.5 3 7.5 3 6 3 6 3 5.5 3 5.5 3 4 3 3.5 3 2 3 2 3 2 3 2.5 3 2 3 2 3 2 3 2.5 3 2.5 3 2 3 2 3 1.5 3 1.5 3 1 3-3 3-5.5 3-6.5 3-5.5 3-0.5 3 1 3 1 3-0.5 3 0 3 0 3 0 3 0 3 0 3 0 3-0.5 3-2 3-2.5 3-2.5 3-2.5 3-3 3-3.5 3-3 3-3.5 3-3.5 3-4 3-4 3-4 3-4.5 3-5 3-4.5 3-4.5 3-4 3-3.5 3-3 3-1 3-1.5 3-1 3-1 3-1 3-1 3-0.5 3 0 3 1 3 0.5 3 0.5 3-0.5 3-1 3-2.5 3-4 3-5 3-5 3-4.5 3-4 3-3.5 3-4 3-3 3-3.5 3-4 3-4.5 3-5 3-4.5 3-4.5 3-4.5 3-5 3-4 3-4 3-3.5 3-4 3-3.5 3-4 3-3.5 3-4 3-4 3-4 3-4 3-4 3-3.5 3-4 3-3.5 3-4 3-3.5 3-4 3-3 3-2.5 3-2.5 3-2.5 3-2.5 3-2.5 3-2.5 3-2 3-2 3-1.5 3-1 3-2 3-1.5 3-1.5 3-1.5 3-1.5 3-1.5 3-2 3-2.5 3-2 3-2.5 3-2 3-2.5 3-2.5 3-2.5 3-3 3-3.5 3-3.5 3-3.5 3-3.5 3-3.5 3-3.5 3-3.5 3-3.5 3-2.5 3-3 3-2.5 3-2.5 3-1.5 3-1.5 3-2 3-2.5 3-2 3-2 1 0" stroke="#286fe8"/>
<path d="M296 225.5l3 7 3 6 3 4.5 3 4.5 3 4 3 0 3-2.5 3-2.5 3-1.5 3-1.5 3-1.5 3 0.5 3 0.5 3 0.5 3 0.5 3 0.5 3 0.5 3 0 3 0.5 3 1 3 1 3 1 3 1 3 0 3 0.5 3 0.5 3 0 3 0 3-0.5 3-1 3-1 3-1.5 3-2 3-2 3-2 3-2 3-1.5 3-2 3-2 3-2.5 3-2 3-3 3-2.5 3-3 3-3.5 3-5 3-5 3-5 3-4.5 3-3 3-2.5 3-2.5 3-2.5 3-3 3-3.5 3-3.5 3-3.5 3-3.5 3-2.5 3-1.5 3-1.5 3-1 3 0 3 0 3 0 3 0.5 3 1 3 1.5 3 1 3 1 3 1.5 3 1 3 0.5 3 1.5 3 1 3 1 3 1 3 1 3 1 3 0.5 3 0.5 3 1 3 0.5 3 0.5 3 1 3 1 3 1 3 1 3 1.5 3 1.5 3 1 3 1 3 1 3 1 3 0.5 3 1 3 1.5 3 1.5 3 1.5 3 1 3 1.5 3 1 3 1 3 1.5 3 2.5 3 3 3 3 3 3 3 3.5 3 4 3 4.5 3 5.5 3 10.5 3 13 3 15 3 22 3 27 3 21.5 3-1 3-8.5 3 1.5 3 9 3 11.5 3 12 3 13.5 3 16.5 3 20.5 3 24 3 26.5 3 24.5 3 21 3 13.5 3 12.5 3 12.5 3 11 3 10 3 9.5 3 10 3 9.5 3 9 3 9 3 8 3 8 3 7 3 6 3 6 3 5.5 3 6 3 3.5 3 3.5 3 2.5 3 2 3 2.5 3 2.5 3 2.5 3 2.5 3 2 3 1.5 3 2 3 1.5 3 1.5 3 1 3 1.5 3 1 3-3 3-6 3-6 3-6 3 0 3 1.5 3 1.5 3 0.5 3 0.5 3 0 3-0.5 3-0.5 3 0 3 0 3-1 3-2 3-2.5 3-2.5 3-3 3-3.5 3-3.5 3-3.5 3-3 3-3.5 3-3.5 3-3.5 3-4 3-4 3-5 3-5 3-4.5 3-4.5 3-4 3-2.5 3-1 3-0.5 3-0.5 3-1 3-1 3-1 3-0.5 3 0 3 0.5 3 0.5 3 0 3 0 3-1 3-2.5 3-4.5 3-5 3-5 3-4.5 3-4 3-4 3-3.5 3-3.5 3-3.5 3-4 3-4.5 3-4 3-4 3-4 3-4.5 3-4 3-4.5 3-4.5 3-4.5 3-4 3-4.5 3-4 3-4 3-3.5 3-3.5 3-3.5 3-3 3-3.5 3-3.5 3-4 3-3.5 3-4 3-4 3-4 3-3 3-2.5 3-2.5 3-2.5 3-2.5 3-2.5 3-2 3-2.5 3-1.5 3-1.5 3-1.5 3-1.5 3-1.5 3-1.5 3-1.5 3-1.5 3-1.5 3-2 3-2.5 3-2.5 3-2.5 3-2.5 3-2 3-2.5 3-2.5 3-3 3-4 3-3.5 3-4 3-3.5 3-4 3-3.5 3-3.5 3-3 3-2.5 3-2 3-2 3-2.5 3-1.5 3-1.5 3-1 3-1 3-1 3-0.5 1 0" stroke="#296fe7"/>
<path d="M296 229.5l3 6 3 4.5 3 3.5 3 4 3 3.5 3-0.5 3-2.5 3-2.5 3-1.5 3-1.5 3-1 3 0.5 3 0.5 3 0.5 3 0.5 3 0.5 3 0.5 3 0.5 3 1 3 1 3 1 3 1 3 0.5 3-0.5 3 0 3 0 3 0 3 0.5 3-0.5 3-0.5 3 0 3-1.5 3-1 3-1.5 3-1.5 3-2 3-1.5 3-2 3-2.5 3-2.5 3-2.5 3-3 3-3 3-3 3-3.5 3-5 3-5 3-4.5 3-4.5 3-3.5 3-2.5 3-3 3-3 3-3 3-3 3-3.5 3-3 3-3 3-2.5 3-1.5 3-2 3-0.5 3 0 3-0.5 3 0 3 0 3 0.5 3 1 3 1 3 1.5 3 1 3 1.5 3 1.5 3 1 3 1.5 3 1 3 1 3 1 3 0.5 3 1 3 1 3 0.5 3 1 3 1 3 1 3 0.5 3 1 3 0.5 3 1 3 0.5 3 1 3 1 3 1 3 1 3 1 3 0.5 3 1.5 3 1 3 1.5 3 2 3 1.5 3 1.5 3 2 3 1.5 3 2.5 3 3 3 3 3 3.5 3 3 3 4 3 5 3 5.5 3 10.5 3 13.5 3 14.5 3 21.5 3 26 3 21.5 3-0.5 3-8.5 3 2.5 3 9 3 11.5 3 12 3 13.5 3 16 3 19.5 3 23.5 3 25 3 23.5 3 20.5 3 13 3 12.5 3 12 3 11.5 3 10 3 10 3 10 3 9 3 9 3 9 3 8.5 3 8 3 7.5 3 6.5 3 6 3 6 3 5.5 3 3.5 3 3 3 2 3 2 3 2.5 3 2.5 3 2 3 2.5 3 2 3 2 3 2 3 2 3 1.5 3 1 3 1.5 3 1 3-3 3-5.5 3-6 3-5.5 3 0 3 1 3 1 3 0.5 3 0 3 0 3 0.5 3 0 3 0.5 3 0 3-0.5 3-2 3-2.5 3-3 3-3 3-3.5 3-3 3-3.5 3-3 3-3.5 3-4 3-4 3-4 3-5 3-4.5 3-5.5 3-4.5 3-4.5 3-3.5 3-2 3-1 3-1 3-0.5 3-1.5 3-1.5 3-1.5 3-1 3-0.5 3 0.5 3 0.5 3 0.5 3 0 3-1 3-2 3-4 3-4.5 3-4.5 3-4 3-4 3-4 3-3.5 3-3.5 3-3 3-4 3-4.5 3-4 3-4 3-4.5 3-4.5 3-4.5 3-4.5 3-4.5 3-4 3-4 3-4 3-4 3-4 3-3.5 3-4 3-4 3-4.5 3-4 3-4.5 3-4 3-3.5 3-4 3-3.5 3-3.5 3-2.5 3-2 3-1.5 3-2 3-2.5 3-2 3-2.5 3-2 3-2 3-1.5 3-1 3-1.5 3-1.5 3-1.5 3-1 3-1.5 3-1.5 3-2 3-2.5 3-2.5 3-2.5 3-2.5 3-2.5 3-2.5 3-2.5 3-3.5 3-3.5 3-3.5 3-3.5 3-3.5 3-4 3-3.5 3-3.5 3-3.5 3-2.5 3-2.5 3-2.5 3-2 3-2 3-1.5 3-1.5 3-2 3-2 3-1.5 1-0.5" stroke="#2a6fe6"/>
<path d="M296 230.5l3 6 3 5 3 4 3 3.5 3 4 3 0 3-2.5 3-2.5 3-2 3-1.5 3-2 3 0 3 0 3 0.5 3 0.5 3 0 3 0.5 3 0.5 3 1 3 1.5 3 1 3 1.5 3 1 3 0 3 0 3 0.5 3-0.5 3 0 3-0.5 3-1 3-1 3-1 3-1.5 3-1.5 3-1 3-1.5 3-1.5 3-1.5 3-2.5 3-2.5 3-2.5 3-3 3-3.5 3-3 3-4 3-5 3-4.5 3-5 3-4 3-3 3-2 3-2.5 3-2.5 3-3 3-3 3-3.5 3-3.5 3-3.5 3-2.5 3-2 3-1.5 3-1 3 0 3 0 3 0 3 0.5 3 1 3 1 3 1.5 3 1 3 1 3 0.5 3 1 3 1 3 0.5 3 1 3 1 3 1 3 1 3 1.5 3 1.5 3 1 3 1 3 1 3 0.5 3 0.5 3 1 3 0.5 3 0.5 3 1 3 0.5 3 0.5 3 1 3 1 3 0.5 3 1.5 3 1 3 1.5 3 2 3 1.5 3 1.5 3 1.5 3 2 3 1.5 3 2.5 3 3 3 3 3 3.5 3 3 3 4 3 5 3 5.5 3 10.5 3 14 3 15 3 21 3 26 3 21 3-0.5 3-8 3 1.5 3 8.5 3 11 3 11.5 3 13 3 16 3 19.5 3 23 3 25 3 23.5 3 20.5 3 13 3 12.5 3 12 3 11.5 3 10 3 10 3 10 3 9.5 3 9 3 9 3 8 3 8 3 7.5 3 6 3 6 3 6 3 5.5 3 4 3 3 3 2 3 2.5 3 2 3 2 3 2.5 3 2 3 2 3 2 3 2 3 2 3 1.5 3 1.5 3 1.5 3 1.5 3-3 3-5.5 3-6 3-6 3-0.5 3 0.5 3 0.5 3 0 3 0 3 0 3 0.5 3 0.5 3 0.5 3 0 3-0.5 3-1.5 3-2.5 3-3 3-3 3-3.5 3-4 3-3.5 3-3.5 3-3.5 3-3.5 3-4 3-4 3-4 3-4.5 3-5 3-4.5 3-4 3-3 3-2.5 3-1 3-0.5 3-0.5 3-1 3-1 3-1 3-1 3 0 3 0.5 3 0 3 0.5 3-0.5 3-1 3-2 3-4.5 3-4.5 3-5 3-4.5 3-4 3-4 3-3 3-3.5 3-3.5 3-4 3-4.5 3-4.5 3-4 3-4.5 3-4 3-4.5 3-4 3-4 3-4 3-4 3-4 3-4.5 3-3.5 3-4 3-3.5 3-3.5 3-4 3-4 3-3.5 3-4 3-3.5 3-3.5 3-3.5 3-3.5 3-2.5 3-2.5 3-2 3-2.5 3-2.5 3-2 3-2.5 3-2 3-2 3-1.5 3-1.5 3-1.5 3-1.5 3-1.5 3-1.5 3-1.5 3-1.5 3-2 3-2.5 3-2 3-2 3-2.5 3-2.5 3-2.5 3-2.5 3-3 3-3.5 3-3.5 3-3.5 3-3 3-3.5 3-3 3-3.5 3-3 3-2.5 3-3 3-2.5 3-3 3-1.5 3-1.5 3-1.5 3-1 3-0.5 3 0 1 0" stroke="#2a6ee5"/>
<path d="M296 232l3 5 3 5 3 3.5 3 3.5 3 3.5 3-0.5 3-2 3-2.5 3-1.5 3-1.5 3-1.5 3 0 3 0.5 3 0.5 3 1 3 0.5 3 1 3 1 3 1 3 1 3 1.5 3 0.5 3 0.5 3 0 3 0 3 0 3 0 3 0 3-0.5 3-1 3-0.5 3-1.5 3-1.5 3-1.5 3-2 3-1.5 3-2 3-1.5 3-2.5 3-2.5 3-2.5 3-3 3-3 3-3 3-4 3-5.5 3-5 3-5 3-4.5 3-2.5 3-2.5 3-2.5 3-2.5 3-2.5 3-3.5 3-3 3-3 3-3 3-2.5 3-1.5 3-1.5 3-0.5 3 0 3 0 3 0 3 0.5 3 1 3 1 3 1 3 1.5 3 1 3 1 3 1 3 1 3 1 3 1 3 0.5 3 1 3 1 3 1.5 3 1 3 1 3 0.5 3 0.5 3 1 3 0.5 3 0.5 3 0.5 3 1 3 0.5 3 0.5 3 0.5 3 0.5 3 0.5 3 1 3 0.5 3 1.5 3 1.5 3 1.5 3 1.5 3 1.5 3 2 3 1.5 3 2 3 2.5 3 3.5 3 3.5 3 3.5 3 3.5 3 4 3 5 3 5.5 3 10.5 3 13.5 3 14 3 21 3 25 3 20.5 3-0.5 3-7.5 3 1.5 3 8.5 3 11 3 11.5 3 13 3 16 3 19.5 3 23 3 24.5 3 23 3 20 3 13 3 12.5 3 12 3 11.5 3 10 3 10 3 9.5 3 9.5 3 9 3 9 3 8.5 3 8 3 8 3 6.5 3 6 3 6 3 5.5 3 4 3 3.5 3 2.5 3 2 3 2.5 3 2 3 1.5 3 1.5 3 1.5 3 1 3 2 3 1.5 3 2 3 1.5 3 1.5 3 1.5 3-3 3-5.5 3-5.5 3-5.5 3 0 3 1 3 1.5 3 0 3 0.5 3 0 3 0 3 0.5 3 0 3 0 3-0.5 3-1.5 3-2.5 3-3 3-3 3-3.5 3-3.5 3-3.5 3-3.5 3-3.5 3-3.5 3-4 3-4.5 3-4.5 3-4.5 3-5 3-4.5 3-3.5 3-3.5 3-2 3-1 3-0.5 3-1 3-1 3-1 3-1 3-0.5 3 0 3 0.5 3 1 3 0 3 0 3-1 3-2.5 3-4.5 3-5.5 3-5 3-4.5 3-4.5 3-4 3-3.5 3-3 3-3.5 3-4 3-4 3-4.5 3-4.5 3-4.5 3-4 3-4.5 3-4 3-4.5 3-4 3-3.5 3-4 3-4 3-3.5 3-3.5 3-3.5 3-3.5 3-3.5 3-3.5 3-3 3-3.5 3-3.5 3-3.5 3-4 3-3.5 3-3 3-2.5 3-2.5 3-2 3-2.5 3-2 3-2.5 3-2 3-2 3-1 3-1.5 3-1.5 3-1 3-1.5 3-2 3-1.5 3-1.5 3-2.5 3-2.5 3-2.5 3-2 3-2 3-2.5 3-2 3-2.5 3-3 3-3.5 3-3.5 3-4 3-4 3-3.5 3-3.5 3-4 3-3 3-2.5 3-2.5 3-2.5 3-2.5 3-1.5 3-1.5 3-1.5 3-1 3-1.5 3-1 1 0" stroke="#2b6ee4"/>
<path d="M296 236l3 4.5 3 3.5 3 3.5 3 3.5 3 3 3 0 3-2 3-2.5 3-2 3-2 3-1.5 3 0 3 0.5 3 0.5 3 0.5 3 1 3 0.5 3 0.5 3 0.5 3 1 3 0.5 3 1 3 0.5 3 0 3 0 3 0 3 0.5 3 0 3-0.5 3-0.5 3-0.5 3-1 3-1.5 3-2 3-2 3-2.5 3-2 3-2 3-2 3-2 3-2 3-2.5 3-2.5 3-3 3-4 3-4.5 3-5 3-4.5 3-3.5 3-2.5 3-2.5 3-2 3-2.5 3-3 3-3.5 3-4 3-4 3-4 3-3 3-2.5 3-1.5 3-0.5 3 0.5 3 0.5 3 0 3 1 3 1 3 1 3 1 3 1.5 3 1 3 1 3 1 3 0.5 3 0.5 3 0.5 3 1 3 0.5 3 1 3 1 3 0.5 3 1 3 0.5 3 1 3 1 3 1 3 1 3 1 3 1 3 0.5 3 0.5 3 0.5 3 1 3 1 3 1 3 1 3 1.5 3 1.5 3 2 3 1.5 3 2 3 1.5 3 1.5 3 1.5 3 2.5 3 3 3 3 3 3 3 2.5 3 4 3 5 3 6 3 10.5 3 14 3 15 3 20.5 3 25 3 20 3 0 3-7 3 1.5 3 8.5 3 11 3 11.5 3 13 3 15.5 3 19 3 22.5 3 24.5 3 22.5 3 20 3 13 3 12 3 12 3 11.5 3 10 3 10 3 9.5 3 9.5 3 9.5 3 9 3 8.5 3 8 3 7.5 3 6.5 3 6.5 3 6.5 3 5.5 3 4 3 3 3 2 3 2 3 2 3 1.5 3 2 3 1 3 1.5 3 1.5 3 1.5 3 1.5 3 1.5 3 2 3 1.5 3 1 3-2.5 3-5 3-5.5 3-5 3-0.5 3 1 3 0.5 3 0 3 0 3 0 3 0 3 0 3 0.5 3 0.5 3-0.5 3-1.5 3-2 3-3 3-3 3-3.5 3-3.5 3-3.5 3-3 3-3.5 3-3 3-4 3-4 3-4.5 3-5 3-5 3-4.5 3-3.5 3-3 3-2 3-1 3-0.5 3-1 3-0.5 3-1 3-1 3-1 3 0 3 0.5 3 0.5 3 1 3-0.5 3-1 3-2.5 3-5 3-5.5 3-5.5 3-5 3-4.5 3-3.5 3-3.5 3-3 3-3 3-4 3-4 3-4.5 3-4 3-4 3-4 3-4 3-4 3-4 3-3.5 3-4 3-4 3-4 3-4 3-3.5 3-3.5 3-3.5 3-4 3-4 3-3.5 3-3.5 3-4 3-3.5 3-3.5 3-3.5 3-2.5 3-2 3-2 3-2.5 3-2 3-2.5 3-2 3-2.5 3-2 3-2 3-1.5 3-1.5 3-1.5 3-1.5 3-1.5 3-1.5 3-1.5 3-2 3-2.5 3-2 3-2 3-2 3-2 3-2 3-2.5 3-3 3-4 3-3.5 3-4 3-3.5 3-3.5 3-3.5 3-3.5 3-3 3-3 3-2.5 3-3 3-2.5 3-1.5 3-2 3-1.5 3-2 3-1.5 3-1 1 0" stroke="#2d6ee2"/>
<path d="M296 236l3 5 3 4 3 2.5 3 3 3 3 3-1 3-2.5 3-2 3-2 3-1.5 3-1 3 0 3 0.5 3 1 3 0.5 3 1 3 0.5 3 0.5 3 0.5 3 1 3 0.5 3 1 3 0 3 0.5 3 0 3 0.5 3 1 3 0 3 0 3-0.5 3-0.5 3-1.5 3-1.5 3-2 3-1.5 3-2 3-2 3-1.5 3-2.5 3-2 3-2.5 3-2.5 3-3 3-3 3-4 3-5 3-5.5 3-5 3-4.5 3-3 3-2.5 3-2 3-2 3-3 3-3 3-3.5 3-3 3-3 3-3 3-1.5 3-2 3-0.5 3 0 3 0 3 0 3 0.5 3 1 3 1 3 1 3 1 3 1 3 1 3 1 3 1.5 3 1 3 1.5 3 1 3 0.5 3 1 3 0.5 3 1 3 0.5 3 1 3 0.5 3 1 3 0.5 3 1 3 1 3 1 3 1 3 1 3 1 3 1 3 1 3 1 3 1 3 1 3 1 3 1.5 3 1 3 1 3 1 3 1.5 3 1 3 2.5 3 3 3 3 3 3 3 3.5 3 3.5 3 5.5 3 5.5 3 10.5 3 14 3 15 3 20.5 3 24.5 3 20 3 0.5 3-6.5 3 2 3 9 3 11 3 11.5 3 13 3 15 3 18.5 3 22 3 23.5 3 22.5 3 19 3 13 3 12 3 12 3 11 3 10 3 10 3 10 3 9.5 3 9 3 9 3 8.5 3 7.5 3 7.5 3 6.5 3 6 3 6.5 3 6 3 4 3 3 3 3 3 2.5 3 2 3 2.5 3 1.5 3 1.5 3 1.5 3 1 3 2 3 1.5 3 1.5 3 1.5 3 2 3 1 3-2.5 3-5.5 3-5.5 3-5.5 3-0.5 3 0.5 3 1 3 0 3 0 3 0 3 0 3 0 3 0.5 3 0 3-0.5 3-1.5 3-2 3-3 3-3 3-3 3-3 3-3 3-3.5 3-3 3-3 3-4 3-3.5 3-4.5 3-4.5 3-4.5 3-5 3-4 3-3.5 3-2.5 3-1 3-1 3-1 3-0.5 3-1 3-1.5 3-0.5 3-0.5 3 0 3 0 3 0 3 0 3-1 3-2.5 3-4 3-4.5 3-4.5 3-4.5 3-4 3-3.5 3-3.5 3-3 3-3.5 3-4 3-4 3-4.5 3-4.5 3-4.5 3-4.5 3-4.5 3-4.5 3-4 3-4 3-3.5 3-4 3-3.5 3-4 3-3.5 3-3 3-3.5 3-4 3-3.5 3-3.5 3-3 3-3.5 3-3.5 3-3.5 3-3 3-2.5 3-2.5 3-2 3-2.5 3-2.5 3-2.5 3-2 3-2.5 3-2 3-1.5 3-1.5 3-1.5 3-1 3-1.5 3-1.5 3-1.5 3-2 3-2.5 3-2.5 3-2.5 3-2 3-2 3-2.5 3-2 3-2 3-2.5 3-3.5 3-3.5 3-4 3-4 3-3.5 3-4 3-3.5 3-3 3-2.5 3-2.5 3-2 3-2.5 3-2 3-1.5 3-1.5 3-1.5 3-1.5 3-1 1 0" stroke="#2e6ee0"/>
<path d="M296 234l3 5 3 4 3 3.5 3 3.5 3 3 3 0 3-2.5 3-2 3-1.5 3-1 3-1.5 3-0.5 3 0.5 3 0 3 0 3 1 3 0.5 3 1 3 0.5 3 1.5 3 1 3 1 3 0.5 3 0 3 0.5 3 0.5 3 0 3 0 3-0.5 3-1 3-1.5 3-1.5 3-2 3-1.5 3-1.5 3-1.5 3-1.5 3-1 3-2 3-1.5 3-2.5 3-2.5 3-3.5 3-3 3-4 3-5 3-5 3-5 3-4.5 3-3 3-2.5 3-2.5 3-2 3-3 3-3 3-3 3-3.5 3-3 3-3 3-1.5 3-1.5 3-0.5 3 0 3 0 3 0.5 3 0 3 1 3 1 3 1 3 1 3 1 3 1 3 0.5 3 1 3 1 3 0.5 3 0.5 3 1 3 1 3 1 3 1.5 3 1 3 1 3 1 3 1 3 0.5 3 1 3 1 3 0.5 3 0.5 3 0.5 3 1 3 0.5 3 1 3 1 3 1 3 1.5 3 1 3 1.5 3 1 3 1.5 3 1.5 3 1.5 3 1.5 3 3 3 3.5 3 3 3 3.5 3 3 3 4 3 5.5 3 5.5 3 11 3 13.5 3 15 3 20.5 3 24 3 19.5 3 0 3-6.5 3 2 3 8.5 3 11 3 11.5 3 13 3 15 3 18 3 21 3 23 3 21.5 3 19 3 13 3 12.5 3 12.5 3 11.5 3 10.5 3 10 3 9.5 3 9.5 3 8.5 3 9 3 8 3 8 3 7.5 3 7 3 6 3 6.5 3 5.5 3 4 3 2.5 3 2.5 3 2 3 2 3 2 3 2.5 3 1.5 3 2 3 1.5 3 2 3 1.5 3 1.5 3 1.5 3 1.5 3 0.5 3-2.5 3-5 3-5.5 3-5.5 3-0.5 3 0.5 3 1 3 0 3 0 3 0 3 0.5 3 0.5 3 0 3 0.5 3-1 3-1.5 3-2.5 3-3 3-3 3-3 3-3 3-3 3-3 3-3 3-3.5 3-4 3-4 3-4.5 3-5 3-5.5 3-4.5 3-4.5 3-3.5 3-2.5 3-1 3-0.5 3-0.5 3-0.5 3-1 3-1 3-0.5 3 0 3 0.5 3 1 3 0.5 3-0.5 3-1 3-2 3-4.5 3-5 3-4.5 3-4.5 3-4 3-3.5 3-3.5 3-3.5 3-3 3-4 3-4 3-4 3-4 3-4.5 3-4.5 3-4 3-4.5 3-4 3-4 3-3.5 3-3.5 3-3.5 3-3.5 3-3 3-3.5 3-3.5 3-4 3-3.5 3-4 3-3.5 3-3.5 3-3.5 3-3.5 3-3.5 3-2.5 3-2.5 3-2.5 3-2 3-2.5 3-3 3-2.5 3-2.5 3-2 3-1.5 3-1.5 3-1 3-1.5 3-1.5 3-1 3-1.5 3-1.5 3-1.5 3-2 3-2 3-2 3-2 3-2.5 3-2.5 3-2.5 3-3 3-3.5 3-3.5 3-4 3-3.5 3-3.5 3-3.5 3-3.5 3-3.5 3-2.5 3-2.5 3-2.5 3-2.5 3-2 3-2 3-2.5 3-2.5 3-2.5 3-2.5 1-0.5" stroke="#2f6ede"/>
<path d="M296 232.5l3 6 3 5 3 4 3 3.5 3 3 3 0 3-2.5 3-2 3-1.5 3-1.5 3-1.5 3-0.5 3 0.5 3 0 3 0.5 3 0.5 3 0.5 3 1 3 1 3 1 3 1 3 1 3 0.5 3 0 3-0.5 3 0 3 0 3 0 3-0.5 3-1 3-0.5 3-1.5 3-1.5 3-1.5 3-1.5 3-1.5 3-2 3-2 3-2 3-2 3-2 3-2.5 3-2.5 3-3 3-3.5 3-5 3-5 3-5 3-4 3-3 3-2.5 3-2.5 3-2 3-2.5 3-3 3-3 3-3 3-3.5 3-2.5 3-2 3-2 3-0.5 3-0.5 3 0 3 0 3 0.5 3 1 3 1 3 1 3 1 3 1 3 1 3 1.5 3 1 3 1 3 1 3 0.5 3 1 3 0.5 3 1 3 0.5 3 0.5 3 0.5 3 1 3 0.5 3 1 3 1.5 3 1 3 1 3 1 3 0.5 3 0.5 3 0.5 3 0.5 3 1 3 0.5 3 1 3 1.5 3 1 3 1.5 3 1.5 3 1.5 3 1.5 3 1.5 3 3 3 3.5 3 3.5 3 3.5 3 3.5 3 4 3 5.5 3 5.5 3 11 3 13.5 3 15 3 20 3 24 3 19.5 3 1 3-6 3 2 3 8.5 3 10 3 11 3 11.5 3 14.5 3 17 3 21 3 22.5 3 21.5 3 19 3 13 3 12.5 3 12.5 3 11.5 3 10.5 3 10.5 3 10.5 3 10 3 9.5 3 9 3 8 3 7.5 3 7.5 3 6 3 6 3 6 3 6 3 4 3 3 3 2 3 2 3 1.5 3 2 3 1.5 3 1 3 1.5 3 1.5 3 1.5 3 1.5 3 2 3 2 3 1.5 3 2 3-2.5 3-4 3-5 3-4.5 3-0.5 3 1 3 0.5 3 0 3-0.5 3 0 3-0.5 3 0 3 0.5 3 0 3-1 3-1.5 3-2.5 3-3 3-3 3-3.5 3-3 3-3 3-3 3-3 3-3.5 3-3.5 3-4 3-4 3-4.5 3-5 3-4.5 3-4 3-3.5 3-2.5 3-1 3-0.5 3-0.5 3-1 3-1 3-1 3-1 3 0 3 0.5 3 0.5 3 0.5 3-0.5 3-1 3-2.5 3-4.5 3-5 3-5 3-5 3-4.5 3-3.5 3-4 3-3.5 3-3 3-3.5 3-4 3-4 3-3.5 3-4 3-4 3-4 3-4 3-4 3-4 3-4 3-3.5 3-4 3-3.5 3-3 3-3 3-3.5 3-3.5 3-4 3-4 3-3.5 3-4 3-3.5 3-3.5 3-3.5 3-3 3-2 3-2 3-1.5 3-1.5 3-2 3-1.5 3-2.5 3-2 3-2 3-1.5 3-2 3-1.5 3-2 3-1 3-1.5 3-1.5 3-2 3-2 3-2.5 3-2 3-2.5 3-2 3-2 3-2 3-3 3-3 3-3.5 3-3.5 3-3.5 3-4 3-4 3-4 3-4 3-3 3-2.5 3-2.5 3-2 3-1 3-1.5 3-1.5 3-2 3-2 3-2 1 0" stroke="#316edc"/>
<path d="M296 238l3 4.5 3 3.5 3 2.5 3 3 3 2.5 3-0.5 3-2 3-2 3-1.5 3-1.5 3-1 3-0.5 3 0.5 3 0 3 0.5 3 0 3 0.5 3 1 3 0.5 3 1 3 1.5 3 1 3 0.5 3 0.5 3 0 3 0 3 0.5 3 0 3-0.5 3-0.5 3-1 3-1.5 3-2 3-2 3-2 3-2 3-1.5 3-2 3-2 3-2 3-2 3-2.5 3-3 3-3 3-3.5 3-5 3-5 3-4.5 3-4.5 3-3 3-2.5 3-2.5 3-2 3-3 3-2.5 3-3 3-3 3-3 3-2 3-1.5 3-1.5 3-0.5 3 0 3 0 3 0 3 0.5 3 1 3 1 3 1 3 0.5 3 1 3 0.5 3 1 3 1 3 1 3 1 3 1 3 0.5 3 0.5 3 0.5 3 0.5 3 0.5 3 0.5 3 0.5 3 0.5 3 1 3 1 3 1 3 1 3 0.5 3 0.5 3 1 3 0.5 3 1 3 1 3 1 3 2 3 1.5 3 1.5 3 1.5 3 1 3 1 3 1 3 1 3 2.5 3 3.5 3 3 3 3.5 3 3.5 3 4.5 3 6 3 6 3 11 3 14 3 15 3 19.5 3 23.5 3 18.5 3 1 3-6 3 3 3 8 3 10.5 3 11 3 12 3 14 3 17.5 3 20.5 3 22.5 3 21.5 3 18.5 3 13.5 3 12 3 12.5 3 11.5 3 10 3 10 3 10 3 9.5 3 9.5 3 9 3 8.5 3 7.5 3 7.5 3 6.5 3 6 3 6 3 5.5 3 3.5 3 3 3 2 3 2 3 2 3 2 3 2 3 1.5 3 1.5 3 2 3 1.5 3 2 3 1 3 1.5 3 1 3 1 3-2 3-4.5 3-5 3-4.5 3 0 3 1 3 1 3 0.5 3 0 3 0 3 0 3 0 3 0 3-0.5 3-1 3-1.5 3-2.5 3-2.5 3-3 3-3 3-3 3-3 3-3 3-3 3-3.5 3-3.5 3-4.5 3-4.5 3-5 3-5 3-5 3-4 3-3 3-2.5 3-0.5 3-0.5 3-0.5 3-1 3-0.5 3-1 3 0 3 0.5 3 0.5 3 0.5 3 0.5 3-0.5 3-1.5 3-3 3-4.5 3-5.5 3-5 3-4.5 3-4 3-3.5 3-3 3-3 3-3 3-3.5 3-4 3-4 3-4.5 3-4 3-4.5 3-4.5 3-4 3-4 3-4 3-4 3-3.5 3-4 3-3.5 3-3 3-3.5 3-3 3-3.5 3-3 3-3.5 3-3.5 3-4 3-3.5 3-4 3-3.5 3-2.5 3-2.5 3-2 3-2 3-2 3-2 3-2 3-2 3-2 3-2 3-1.5 3-2 3-2 3-2 3-2 3-1.5 3-1.5 3-2 3-2 3-2.5 3-2 3-2.5 3-2 3-2.5 3-2.5 3-2.5 3-3.5 3-3.5 3-3.5 3-3 3-3.5 3-3 3-3.5 3-3 3-2.5 3-2.5 3-3 3-3 3-2 3-2 3-2 3-1.5 3-2 3-1.5 1-0.5" stroke="#326edb"/>
<path d="M296 235l3 5 3 4.5 3 3 3 3.5 3 3 3-0.5 3-1.5 3-2 3-1.5 3-1.5 3-1 3-0.5 3 0.5 3 0 3 0.5 3 1 3 0.5 3 0.5 3 1 3 0.5 3 1 3 1 3 0.5 3 0.5 3 0 3 0.5 3 0 3 0.5 3-0.5 3-1 3-1 3-1.5 3-2 3-2 3-2 3-2 3-1.5 3-2 3-2 3-2.5 3-2 3-3 3-3 3-3 3-3.5 3-4.5 3-4.5 3-4.5 3-3.5 3-2.5 3-2 3-2.5 3-2.5 3-3 3-3.5 3-3.5 3-3.5 3-3 3-2.5 3-1.5 3-1.5 3-0.5 3 0.5 3 0 3 0 3 0.5 3 1 3 0.5 3 1 3 1 3 1 3 1 3 1.5 3 1 3 1 3 0.5 3 0.5 3 0.5 3 0.5 3 0.5 3 1 3 1 3 1 3 1 3 1.5 3 1 3 1 3 0.5 3 1 3 1 3 1.5 3 1 3 1 3 1 3 0.5 3 1 3 0.5 3 1.5 3 1 3 1 3 1 3 1.5 3 1 3 1.5 3 2 3 3.5 3 3.5 3 3.5 3 3.5 3 4.5 3 5.5 3 5.5 3 10.5 3 13.5 3 14.5 3 19 3 23 3 19 3 1 3-5 3 2.5 3 8.5 3 10.5 3 11.5 3 12 3 14.5 3 17 3 20 3 21.5 3 20.5 3 18 3 12.5 3 12 3 12.5 3 11.5 3 10 3 10 3 9.5 3 9.5 3 9.5 3 9 3 8 3 7.5 3 8 3 6.5 3 6.5 3 6.5 3 6 3 3.5 3 3 3 2.5 3 2 3 2.5 3 2 3 1.5 3 1 3 1.5 3 1.5 3 1.5 3 1.5 3 1 3 1 3 1 3 1 3-2 3-4 3-4.5 3-4 3 0 3 1 3 1 3 0 3 0 3 0 3-0.5 3 0 3 0 3 0 3-0.5 3-1.5 3-2 3-3 3-3 3-3 3-3 3-3.5 3-3.5 3-3 3-3.5 3-3.5 3-3.5 3-4.5 3-4.5 3-5 3-5 3-4 3-3.5 3-2 3-1 3-0.5 3 0 3-0.5 3-0.5 3-0.5 3 0 3 0 3 0.5 3 0.5 3 0 3-0.5 3-2 3-3 3-4.5 3-5.5 3-5 3-5 3-4 3-4 3-3 3-3.5 3-3 3-3.5 3-4 3-4 3-3.5 3-4 3-4 3-4 3-4 3-4 3-4 3-4 3-4 3-3.5 3-3.5 3-3 3-3 3-3 3-3.5 3-3 3-3 3-3 3-3.5 3-3.5 3-3.5 3-3.5 3-3 3-2.5 3-2 3-2.5 3-2 3-2 3-2.5 3-3 3-2.5 3-2 3-2 3-2 3-1.5 3-1.5 3-1.5 3-1.5 3-1.5 3-2 3-2.5 3-2 3-2.5 3-2 3-2.5 3-2 3-2 3-3 3-3.5 3-3.5 3-3.5 3-3.5 3-3 3-3.5 3-3 3-3 3-2.5 3-2 3-2 3-2.5 3-1.5 3-2 3-2 3-2 3-2.5 3-2.5 1-0.5" stroke="#336dd9"/>
<path d="M296 238.5l3 4.5 3 3.5 3 2.5 3 2.5 3 2.5 3-0.5 3-2.5 3-2 3-1 3-1 3-1 3 0.5 3 0.5 3 0.5 3 0.5 3 0.5 3 0.5 3 0.5 3 0.5 3 0.5 3 1 3 1 3 0.5 3 1 3 1 3 0.5 3 0 3 0 3-1 3-1 3-1 3-1 3-2 3-1.5 3-2 3-2 3-2.5 3-2 3-2 3-2.5 3-2 3-2.5 3-3.5 3-3 3-3.5 3-4.5 3-4.5 3-4.5 3-3.5 3-2.5 3-2 3-2.5 3-2 3-3 3-3 3-3.5 3-3 3-3.5 3-3 3-1.5 3-2 3-0.5 3 0 3 0 3 0 3 0.5 3 0.5 3 1 3 1 3 1 3 1 3 1.5 3 1.5 3 1 3 1 3 0.5 3 0.5 3 0.5 3 0.5 3 1 3 0.5 3 1 3 0.5 3 1 3 0.5 3 1 3 0.5 3 1 3 0.5 3 0.5 3 0.5 3 1 3 1 3 1.5 3 1 3 1.5 3 1.5 3 1 3 1.5 3 1 3 1 3 1 3 1 3 1.5 3 2.5 3 3.5 3 3.5 3 3.5 3 3.5 3 4.5 3 6 3 6.5 3 11.5 3 14 3 14.5 3 18.5 3 22 3 18 3 0.5 3-5 3 3 3 8.5 3 10.5 3 11 3 12.5 3 14 3 17 3 19.5 3 21.5 3 20 3 17.5 3 12.5 3 12 3 12 3 11.5 3 9.5 3 10 3 9.5 3 9.5 3 9 3 9.5 3 8.5 3 7.5 3 7.5 3 6.5 3 6 3 6.5 3 5.5 3 3.5 3 2.5 3 2 3 2 3 2.5 3 2 3 2.5 3 2 3 2 3 2 3 2 3 2 3 1.5 3 1.5 3 1 3 1 3-2 3-4.5 3-5 3-4.5 3-0.5 3 1 3 0.5 3-0.5 3 0 3 0 3 0 3 0 3-0.5 3 0 3-1 3-1.5 3-2.5 3-3 3-3 3-3 3-2.5 3-3 3-2 3-3 3-3 3-3.5 3-4 3-4.5 3-4.5 3-5 3-4 3-4 3-3 3-2.5 3-1 3-0.5 3-1 3-1 3-1 3-1 3-0.5 3 0 3 0.5 3 1 3 0 3-0.5 3-1.5 3-3 3-4.5 3-5 3-5 3-4.5 3-4 3-3.5 3-3.5 3-3.5 3-4 3-4 3-4 3-3.5 3-3 3-3.5 3-3 3-4 3-4 3-4.5 3-4 3-4.5 3-4 3-4 3-3.5 3-3.5 3-3 3-3 3-3 3-3 3-3 3-3.5 3-3.5 3-3.5 3-3.5 3-3.5 3-2.5 3-2 3-2 3-2.5 3-2.5 3-2.5 3-2.5 3-2.5 3-2 3-1.5 3-1.5 3-1.5 3-1 3-2 3-1.5 3-2 3-2 3-2 3-2.5 3-2.5 3-2 3-2.5 3-1.5 3-2 3-2 3-2.5 3-3.5 3-3 3-3.5 3-3 3-3.5 3-3 3-3.5 3-3.5 3-3 3-2.5 3-3 3-2 3-2 3-1 3-1.5 3-1.5 3-1.5 3-1.5 1 0" stroke="#356dd7"/>
<path d="M296 236l3 5.5 3 5 3 3.5 3 3 3 3 3-0.5 3-2 3-2 3-2 3-1.5 3-1.5 3 0 3 0 3 0 3 0 3 1 3 0.5 3 0.5 3 1 3 1 3 1.5 3 1 3 0.5 3 0.5 3 0 3 0 3 0 3 0 3-0.5 3-1 3-1 3-1.5 3-2 3-1.5 3-1.5 3-1.5 3-1.5 3-1.5 3-2 3-2.5 3-2 3-3 3-3 3-3 3-4 3-4.5 3-5 3-5 3-4 3-2.5 3-2.5 3-2.5 3-2.5 3-2.5 3-3 3-2.5 3-3 3-3 3-2.5 3-2 3-1.5 3-1 3 0 3-0.5 3 0.5 3 0.5 3 1 3 1 3 1.5 3 1 3 1 3 1 3 1 3 1 3 1 3 1 3 0.5 3 1 3 1.5 3 1 3 1 3 1 3 0.5 3 0.5 3 0.5 3 0.5 3 0.5 3 1 3 0.5 3 0.5 3 1 3 0.5 3 1 3 1 3 0.5 3 1 3 1 3 1 3 1 3 1 3 1 3 1.5 3 1.5 3 2 3 3 3 3.5 3 3.5 3 3.5 3 3.5 3 4 3 6 3 6 3 11 3 14 3 14.5 3 19 3 21.5 3 18.5 3 1 3-4.5 3 3 3 8 3 9.5 3 10.5 3 11.5 3 13.5 3 16 3 19.5 3 20.5 3 20 3 18 3 12.5 3 12.5 3 12 3 11.5 3 10 3 10 3 10 3 9.5 3 9.5 3 9 3 8.5 3 8 3 7.5 3 6 3 6.5 3 6.5 3 5.5 3 4 3 3 3 2.5 3 2.5 3 2 3 2 3 2 3 1.5 3 1 3 1.5 3 1.5 3 1 3 1.5 3 2 3 1.5 3 1.5 3-2 3-4 3-4.5 3-4 3-0.5 3 1 3 0.5 3-0.5 3 0 3-0.5 3 0 3-0.5 3 0 3 0 3-0.5 3-1.5 3-2 3-3 3-2.5 3-3 3-2.5 3-3.5 3-3 3-3 3-4 3-3.5 3-4.5 3-4.5 3-5 3-5 3-4.5 3-4 3-3 3-2 3-0.5 3-0.5 3 0 3-0.5 3-0.5 3-1 3-1 3-0.5 3 0 3-0.5 3 0 3-0.5 3-1 3-2 3-4 3-4 3-4.5 3-4 3-4 3-4 3-3.5 3-3 3-3.5 3-3.5 3-4 3-4 3-4 3-4 3-4 3-4 3-4 3-4 3-4 3-3.5 3-4 3-3.5 3-3.5 3-3 3-3.5 3-3 3-3.5 3-3.5 3-4 3-3.5 3-3.5 3-3 3-3 3-3 3-2.5 3-2 3-2 3-2 3-2.5 3-2 3-2 3-2 3-1.5 3-1.5 3-2 3-1.5 3-2 3-2 3-2 3-2.5 3-2 3-2 3-2.5 3-2 3-2.5 3-2 3-2.5 3-2.5 3-2.5 3-3 3-3 3-3 3-3 3-3 3-3 3-3 3-3.5 3-3 3-2.5 3-3 3-2.5 3-2 3-1.5 3-1 3-1.5 3-1.5 3-2 3-1.5 1-0.5" stroke="#366dd5"/>
<path d="M296 240l3 4 3 3 3 2.5 3 2.5 3 2 3 0 3-2 3-2 3-1 3-1 3-0.5 3 0 3 0.5 3 0.5 3 0 3 0.5 3 0.5 3 0.5 3 0.5 3 1 3 1 3 1 3 0.5 3 0 3 0 3 0.5 3 0 3 0 3-1 3-1 3-1 3-1 3-1.5 3-1.5 3-1 3-1.5 3-1.5 3-1.5 3-2 3-2.5 3-2.5 3-3 3-3.5 3-3 3-4 3-4.5 3-4.5 3-4.5 3-4 3-2.5 3-2.5 3-2.5 3-2.5 3-2.5 3-3 3-3 3-3 3-2.5 3-2.5 3-1.5 3-1.5 3-0.5 3 0 3-0.5 3 0 3 0 3 1 3 0.5 3 1 3 1 3 1 3 1.5 3 1 3 1.5 3 1 3 1 3 0.5 3 0.5 3 0 3 0.5 3 0 3 1 3 1 3 1 3 1 3 1 3 1 3 1.5 3 1 3 0.5 3 1 3 1 3 0.5 3 1 3 0.5 3 1 3 1 3 1 3 1 3 1 3 1.5 3 1 3 1.5 3 2 3 3 3 3.5 3 3 3 3.5 3 3 3 4 3 6 3 6 3 11.5 3 14 3 15 3 18.5 3 21 3 17 3 1.5 3-4.5 3 2.5 3 8.5 3 10 3 10.5 3 11.5 3 13.5 3 16 3 19 3 21 3 19.5 3 17 3 12.5 3 11.5 3 12 3 11.5 3 10 3 10.5 3 10 3 10 3 9.5 3 9.5 3 8.5 3 8 3 7.5 3 6.5 3 6 3 6 3 5.5 3 3 3 2 3 2 3 1.5 3 2 3 2 3 2 3 2 3 2 3 2 3 2 3 2 3 1.5 3 1.5 3 1 3 0.5 3-2.5 3-4.5 3-5 3-4 3-0.5 3 0.5 3 1 3 0 3 0 3 0 3-0.5 3 0 3 0 3 0 3-0.5 3-1.5 3-2 3-2.5 3-3 3-2.5 3-3 3-2.5 3-2.5 3-3 3-3 3-3.5 3-4 3-4 3-4.5 3-5 3-4.5 3-4 3-3 3-2 3-1 3-0.5 3-0.5 3-1 3-1 3-1.5 3-1.5 3 0 3 0 3 0.5 3 0.5 3 0 3-1.5 3-2.5 3-4 3-4.5 3-4.5 3-4.5 3-3.5 3-3.5 3-3.5 3-3.5 3-3.5 3-4 3-4 3-4.5 3-4 3-3.5 3-4 3-4 3-4 3-3.5 3-4 3-3.5 3-3.5 3-4 3-3 3-3 3-3.5 3-3 3-3.5 3-3.5 3-3.5 3-3.5 3-3.5 3-3 3-2.5 3-3 3-2.5 3-2 3-2 3-2.5 3-2 3-2 3-2 3-2 3-2 3-1.5 3-2 3-2 3-1.5 3-2 3-2 3-1.5 3-1.5 3-2 3-2 3-2.5 3-2 3-2.5 3-2 3-2 3-2.5 3-2.5 3-3 3-3.5 3-3 3-3.5 3-3 3-3 3-3.5 3-3 3-2.5 3-2.5 3-3 3-2.5 3-1.5 3-2 3-2 3-1.5 3-2 3-1.5 1 0" stroke="#376dd3"/>
<path d="M296 236.5l3 5.5 3 4.5 3 3.5 3 3 3 2.5 3 0 3-2 3-2 3-1.5 3-1 3-0.5 3 0 3 0 3 0.5 3 0 3 0.5 3 0.5 3 0.5 3 0.5 3 1 3 0.5 3 1 3 0.5 3 0 3 0 3 0 3 0.5 3 0 3-1 3-0.5 3-1 3-1.5 3-2 3-1.5 3-2 3-1.5 3-1.5 3-1.5 3-2 3-1.5 3-2 3-3 3-3 3-3.5 3-3.5 3-5 3-5 3-4.5 3-3.5 3-2.5 3-2.5 3-2 3-2.5 3-3 3-3 3-3 3-3 3-3 3-2 3-1.5 3-1.5 3 0 3 0.5 3 0 3 0.5 3 0 3 1 3 1 3 0.5 3 1 3 0.5 3 1 3 0.5 3 1 3 1 3 0.5 3 1 3 1 3 1 3 1 3 1 3 0.5 3 1 3 0.5 3 0.5 3 0.5 3 0.5 3 1 3 0.5 3 1 3 1 3 0.5 3 1 3 0.5 3 1 3 0.5 3 1 3 1.5 3 1.5 3 1.5 3 1.5 3 1 3 1.5 3 1 3 2.5 3 3 3 3 3 3.5 3 3 3 4.5 3 5.5 3 6 3 11 3 14 3 15 3 18 3 21 3 17.5 3 2 3-4 3 3 3 8 3 9.5 3 10 3 11 3 13 3 16 3 18.5 3 20.5 3 19.5 3 17.5 3 12.5 3 12 3 12.5 3 11.5 3 10 3 10 3 10 3 9.5 3 9.5 3 9.5 3 8.5 3 8 3 7.5 3 7 3 6 3 6 3 5.5 3 3 3 2.5 3 2 3 2 3 2 3 2 3 2 3 2 3 1.5 3 2 3 1.5 3 1 3 1.5 3 1 3 1.5 3 1 3-2 3-3.5 3-4 3-3.5 3 0 3 1 3 0.5 3-0.5 3 0 3-0.5 3-0.5 3 0 3-0.5 3 0 3-0.5 3-1.5 3-2 3-3 3-3 3-3 3-3 3-3 3-3 3-3.5 3-3 3-3.5 3-4 3-4 3-4.5 3-4.5 3-4.5 3-3.5 3-3 3-2.5 3-0.5 3-1 3-0.5 3-0.5 3-1 3-1 3-0.5 3 0.5 3 0 3 1 3 0 3-0.5 3-1.5 3-2.5 3-4.5 3-5 3-4.5 3-4.5 3-4 3-3.5 3-3.5 3-3.5 3-3.5 3-3.5 3-4 3-4 3-3.5 3-4 3-3.5 3-4 3-3.5 3-4 3-4 3-3.5 3-4 3-3.5 3-3.5 3-3 3-3 3-2.5 3-3 3-2.5 3-3.5 3-3 3-3.5 3-3 3-3.5 3-3.5 3-2.5 3-2.5 3-1.5 3-2 3-2 3-2 3-2.5 3-2 3-2.5 3-1.5 3-2 3-2 3-1.5 3-2 3-1.5 3-2 3-1.5 3-2 3-2 3-2.5 3-2 3-2.5 3-3 3-2.5 3-2.5 3-3 3-3.5 3-3 3-3 3-3 3-3 3-2.5 3-3 3-2.5 3-2.5 3-2.5 3-2.5 3-2 3-2 3-2 3-2 3-2 3-2 3-2 1-0.5" stroke="#396dd2"/>
<path d="M296 243.5l3 3.5 3 3 3 2 3 2 3 2.5 3-0.5 3-2 3-1.5 3-1.5 3-1.5 3-1 3-0.5 3 0.5 3 0.5 3 0.5 3 0.5 3 1 3 0.5 3 1 3 1 3 0.5 3 1 3 0.5 3 0 3 0.5 3 0 3 0.5 3 0 3-1 3-1 3-1 3-1.5 3-1.5 3-2 3-1.5 3-2 3-2 3-1.5 3-2.5 3-2 3-2 3-2.5 3-3.5 3-3 3-3.5 3-4.5 3-5 3-4.5 3-4 3-3 3-2 3-2.5 3-2 3-2.5 3-3 3-2.5 3-3 3-2.5 3-2 3-2 3-1.5 3-0.5 3 0 3 0 3 0 3 0 3 0.5 3 0.5 3 1 3 1 3 1 3 1.5 3 1 3 1 3 1 3 1 3 1 3 0.5 3 0.5 3 0.5 3 0.5 3 0.5 3 1 3 0.5 3 1 3 1 3 0.5 3 1 3 0.5 3 1 3 0.5 3 0.5 3 0.5 3 1 3 0.5 3 0.5 3 1 3 1 3 1.5 3 1.5 3 1.5 3 1.5 3 1.5 3 2 3 2.5 3 3.5 3 3 3 3.5 3 3 3 4.5 3 6 3 6.5 3 11.5 3 14 3 15 3 18 3 20.5 3 17 3 2 3-4 3 3 3 8 3 9.5 3 10 3 11 3 13 3 15.5 3 18 3 19.5 3 19 3 16.5 3 12.5 3 12 3 11.5 3 11.5 3 10 3 10 3 10.5 3 10 3 9.5 3 9.5 3 8.5 3 7.5 3 7.5 3 6.5 3 6 3 6.5 3 5.5 3 3.5 3 2.5 3 2 3 2.5 3 2 3 2.5 3 2 3 1.5 3 1.5 3 1.5 3 1 3 1.5 3 0.5 3 1 3 1 3 1 3-2.5 3-3.5 3-3.5 3-3.5 3 0 3 1 3 1 3 0 3 0 3-0.5 3 0 3-0.5 3 0 3 0 3-0.5 3-1.5 3-2 3-2.5 3-2.5 3-2.5 3-2.5 3-2.5 3-3 3-3.5 3-3.5 3-4 3-4.5 3-4.5 3-4.5 3-5 3-4.5 3-4 3-3 3-2 3-1 3-0.5 3-0.5 3-0.5 3-0.5 3-1 3-0.5 3 0 3 0.5 3 0.5 3 1 3 0 3-1 3-3 3-4.5 3-5 3-5 3-4.5 3-4 3-4 3-3 3-3 3-3 3-3.5 3-3.5 3-4 3-4 3-4.5 3-4 3-4 3-4 3-3.5 3-4 3-3.5 3-4 3-4.5 3-3.5 3-3.5 3-3 3-3 3-3 3-3 3-3 3-3 3-3 3-3.5 3-3.5 3-3.5 3-3 3-2 3-2.5 3-2 3-2 3-1.5 3-2 3-2 3-2 3-1.5 3-2 3-1.5 3-2 3-1.5 3-1.5 3-1 3-1.5 3-2 3-2.5 3-2 3-2.5 3-2.5 3-2.5 3-2.5 3-2 3-3 3-3 3-3 3-3 3-3 3-3 3-3 3-3 3-3 3-2.5 3-2.5 3-3 3-2.5 3-2 3-2 3-1.5 3-1.5 3-1.5 3-1.5 1 0" stroke="#3a6cd0"/>
<path d="M296 243l3 3.5 3 3 3 2 3 2 3 2 3 0 3-2 3-1.5 3-1 3-1 3-0.5 3 0 3 0 3 0 3 0 3 0.5 3 0 3 0 3 0.5 3 1.5 3 1 3 1.5 3 0.5 3 1 3 0.5 3 0.5 3 0.5 3 0 3-1.5 3-1.5 3-1.5 3-2 3-2 3-2 3-2 3-2 3-1.5 3-1.5 3-2 3-2 3-1.5 3-3 3-3 3-3 3-4 3-4.5 3-4.5 3-4 3-3.5 3-3 3-2.5 3-2.5 3-2.5 3-3 3-3 3-2.5 3-3 3-2.5 3-2.5 3-1.5 3-1 3-0.5 3 0.5 3 0 3 0.5 3 0 3 0.5 3 1 3 0.5 3 1 3 1 3 1 3 1 3 1 3 1 3 0.5 3 0.5 3 1 3 0.5 3 0.5 3 1 3 0.5 3 1 3 1 3 0.5 3 0.5 3 1 3 0.5 3 0.5 3 0.5 3 0.5 3 0.5 3 1 3 0.5 3 1 3 0.5 3 1.5 3 1.5 3 1.5 3 1.5 3 1.5 3 2 3 1.5 3 1.5 3 2.5 3 3.5 3 3.5 3 3 3 3.5 3 4 3 6 3 6 3 11 3 14 3 15 3 17.5 3 20.5 3 17 3 2.5 3-3 3 3.5 3 8 3 9 3 9.5 3 10.5 3 12.5 3 15 3 17.5 3 19 3 18.5 3 16.5 3 12.5 3 12.5 3 12 3 11.5 3 10.5 3 10.5 3 10 3 10 3 9.5 3 9.5 3 8 3 8 3 7.5 3 6.5 3 7 3 6.5 3 6 3 3 3 2 3 1.5 3 1.5 3 1.5 3 1.5 3 2 3 1.5 3 1.5 3 1.5 3 2 3 1.5 3 1.5 3 1 3 1.5 3 1 3-1.5 3-3.5 3-3.5 3-3.5 3-0.5 3 1 3 0.5 3 0 3 0 3 0 3 0 3-0.5 3 0 3-0.5 3-0.5 3-1.5 3-2 3-3 3-3 3-3 3-3 3-3 3-3 3-3.5 3-3 3-4 3-3.5 3-4.5 3-5 3-4.5 3-4.5 3-3.5 3-3 3-1.5 3-0.5 3 0 3 0 3-0.5 3-0.5 3-1 3-0.5 3 0 3 0.5 3 0 3 0 3-0.5 3-1.5 3-3.5 3-4.5 3-5 3-5 3-4.5 3-4 3-3.5 3-3.5 3-3.5 3-3 3-4 3-3.5 3-4 3-4.5 3-4 3-4 3-4 3-3.5 3-3 3-3 3-3.5 3-3 3-3.5 3-3.5 3-3.5 3-3 3-3.5 3-3 3-3 3-3.5 3-3 3-2.5 3-3 3-2.5 3-3 3-2.5 3-2.5 3-2.5 3-2.5 3-2 3-2.5 3-2 3-2 3-1.5 3-2 3-1.5 3-2 3-2 3-2 3-2 3-1.5 3-1.5 3-2 3-2 3-2 3-2 3-2 3-2.5 3-2 3-2 3-2.5 3-3 3-3 3-3 3-3 3-3 3-3 3-3 3-3.5 3-2.5 3-3 3-2.5 3-2.5 3-2 3-1.5 3-2 3-2 3-2.5 3-2 1-0.5" stroke="#3b6cce"/>
<path d="M296 245.5l3 3 3 2.5 3 2 3 2 3 2 3-0.5 3-2 3-1.5 3-1.5 3-1 3-1.5 3-0.5 3 0 3 0 3 0 3 0.5 3 0.5 3 1 3 0.5 3 1 3 1 3 1 3 1 3 0.5 3 0 3 0.5 3 0 3-0.5 3-1 3-1.5 3-1 3-1.5 3-1.5 3-1.5 3-1.5 3-1.5 3-1.5 3-1.5 3-2 3-2 3-2.5 3-2.5 3-3.5 3-3 3-3.5 3-4.5 3-4.5 3-4.5 3-3 3-2.5 3-2 3-2 3-2.5 3-2.5 3-3 3-3.5 3-3 3-2.5 3-2.5 3-1.5 3-1.5 3-0.5 3 0 3 0.5 3 0.5 3 0.5 3 1 3 0.5 3 0.5 3 1 3 0.5 3 1 3 1 3 1 3 1 3 1 3 0.5 3 0.5 3 0.5 3 0.5 3 0.5 3 0.5 3 0.5 3 0.5 3 1 3 0.5 3 1.5 3 1 3 1.5 3 1 3 1 3 0.5 3 0.5 3 0.5 3 0.5 3 0.5 3 1 3 1.5 3 1 3 1.5 3 2 3 1.5 3 2 3 2 3 2.5 3 2.5 3 3 3 2.5 3 2.5 3 4 3 5.5 3 6.5 3 11 3 14.5 3 14.5 3 17 3 20 3 16.5 3 2.5 3-2.5 3 4 3 8 3 10 3 10 3 10.5 3 12.5 3 14.5 3 17 3 18.5 3 17.5 3 16.5 3 12 3 12.5 3 12.5 3 11.5 3 10.5 3 10.5 3 10.5 3 10 3 9.5 3 9.5 3 8 3 7.5 3 7 3 6.5 3 6 3 6.5 3 6 3 3 3 2.5 3 2 3 2 3 1.5 3 2 3 1.5 3 1.5 3 1.5 3 1.5 3 2 3 1.5 3 1 3 1.5 3 1.5 3 1 3-2 3-3 3-3.5 3-3.5 3-0.5 3 0.5 3 0.5 3 0 3-0.5 3-0.5 3-0.5 3 0 3-0.5 3 0 3-0.5 3-1 3-2 3-3 3-2.5 3-3 3-2.5 3-3 3-2.5 3-3 3-3 3-3 3-4 3-4 3-4 3-5 3-4 3-4 3-3.5 3-2.5 3-1 3-1 3-1 3-1 3-0.5 3-1 3-0.5 3 0 3 0.5 3 0.5 3 0.5 3-0.5 3-1.5 3-3 3-4 3-5 3-5 3-5 3-4.5 3-4 3-3.5 3-3.5 3-3 3-3.5 3-3.5 3-4 3-3.5 3-3.5 3-4 3-3.5 3-3.5 3-3.5 3-3.5 3-3.5 3-3.5 3-3.5 3-3 3-3.5 3-3 3-3 3-3 3-3 3-2.5 3-3 3-2.5 3-3 3-2.5 3-3 3-3 3-2 3-2.5 3-2 3-2.5 3-2 3-2 3-2 3-2 3-1.5 3-2 3-1.5 3-1.5 3-1.5 3-2 3-1.5 3-2 3-2 3-2 3-2 3-2.5 3-2.5 3-2.5 3-2.5 3-2.5 3-3 3-3 3-3 3-3 3-3 3-3 3-3 3-3 3-3 3-2.5 3-2.5 3-2 3-2.5 3-2 3-2 3-2 3-1.5 3-1.5 3-1 1 0" stroke="#3d6ccc"/>
<path d="M296 245.5l3 2.5 3 2.5 3 2 3 1.5 3 2 3 0 3-1.5 3-1.5 3-1 3-1 3-1 3 0 3 0.5 3 0 3 0.5 3 0 3 0.5 3 0.5 3 0.5 3 0.5 3 1 3 0.5 3 0.5 3 0.5 3 0.5 3 0.5 3 0 3 0 3-0.5 3-1.5 3-1 3-1.5 3-1.5 3-2 3-1.5 3-1.5 3-1.5 3-2 3-2 3-2 3-2 3-3.5 3-3.5 3-3.5 3-3.5 3-4 3-4.5 3-4 3-3 3-2.5 3-2 3-2 3-2.5 3-2.5 3-3 3-2.5 3-3 3-3 3-2.5 3-1.5 3-1.5 3-0.5 3 0.5 3 0.5 3 0 3 0.5 3 1 3 0.5 3 0.5 3 0.5 3 0.5 3 0.5 3 0.5 3 1 3 0.5 3 0.5 3 0.5 3 0.5 3 0.5 3 0.5 3 0.5 3 1 3 1 3 1 3 1 3 1 3 1.5 3 1 3 1 3 1 3 1 3 0.5 3 0.5 3 0.5 3 0 3 0.5 3 1 3 1 3 1.5 3 1.5 3 2 3 1.5 3 1.5 3 1.5 3 2.5 3 3 3 3.5 3 3 3 3.5 3 4.5 3 6.5 3 6.5 3 12 3 14.5 3 15 3 17 3 19.5 3 16 3 2.5 3-2.5 3 3.5 3 8 3 9 3 10 3 10.5 3 12.5 3 14.5 3 16.5 3 18 3 17 3 15.5 3 11.5 3 12 3 12 3 11.5 3 10.5 3 10.5 3 10.5 3 10 3 9 3 9.5 3 8.5 3 7.5 3 7.5 3 7 3 7 3 6.5 3 6 3 2.5 3 2 3 2 3 1.5 3 1.5 3 1.5 3 1.5 3 1.5 3 1 3 1.5 3 1 3 1 3 1.5 3 1 3 1.5 3 1 3-2 3-3 3-3.5 3-3 3 0 3 1 3 0.5 3 0.5 3 0 3 0 3 0 3 0.5 3 0 3 0.5 3-0.5 3-1 3-2 3-3 3-3 3-3 3-3 3-3 3-3 3-3 3-3.5 3-3.5 3-4 3-4.5 3-4.5 3-5 3-4.5 3-3.5 3-3 3-2 3-0.5 3-1 3-0.5 3-1 3-1 3-1 3-1 3 0 3 0.5 3 0.5 3 1 3 0 3-1 3-3 3-4.5 3-5 3-5 3-4.5 3-4.5 3-3.5 3-3.5 3-3.5 3-3 3-3.5 3-4 3-3.5 3-3.5 3-4 3-3.5 3-4 3-3.5 3-3.5 3-3.5 3-3.5 3-3 3-4 3-3.5 3-3 3-3 3-3 3-3 3-2.5 3-3 3-3 3-2.5 3-3 3-3 3-3 3-2.5 3-2 3-2.5 3-2 3-1.5 3-2 3-2 3-2 3-1.5 3-2 3-2.5 3-2 3-2.5 3-2 3-2.5 3-1.5 3-2 3-2 3-1.5 3-2 3-2 3-2 3-2.5 3-2 3-2.5 3-3 3-3 3-3 3-3 3-3.5 3-3 3-3 3-3 3-3 3-2.5 3-2 3-2.5 3-2 3-1.5 3-1.5 3-2 3-2.5 3-2.5 3-3 1-0.5" stroke="#3e6ccb"/>
<path d="M296 244.5l3 3 3 3 3 2 3 2 3 2 3 0 3-1.5 3-1.5 3-1 3-1 3-1 3 0 3 0 3 0 3 0.5 3 0.5 3 0.5 3 0.5 3 0 3 0.5 3 0.5 3 1 3 0.5 3 1 3 0.5 3 0.5 3 0.5 3 0 3-1 3-1.5 3-1 3-2 3-1.5 3-2 3-2 3-1.5 3-2 3-2 3-2 3-2 3-2 3-2.5 3-3 3-3 3-3.5 3-4 3-4.5 3-4.5 3-3 3-2.5 3-2 3-2 3-2 3-2 3-3 3-3 3-2.5 3-3 3-2.5 3-1.5 3-1.5 3-0.5 3 0.5 3 0.5 3 0 3 0.5 3 1 3 0.5 3 1 3 0.5 3 1 3 0.5 3 1 3 0.5 3 0.5 3 0 3 0 3 0.5 3 0 3 0.5 3 0.5 3 0.5 3 1 3 1 3 1.5 3 1 3 1 3 0.5 3 0.5 3 0.5 3 1 3 0.5 3 1 3 0.5 3 1 3 1 3 1.5 3 1.5 3 1.5 3 1.5 3 1.5 3 1 3 1.5 3 1.5 3 2.5 3 3.5 3 3 3 3.5 3 3.5 3 4 3 6.5 3 6.5 3 11.5 3 14.5 3 14.5 3 17 3 18.5 3 16 3 2.5 3-2 3 3.5 3 8 3 9 3 9 3 10.5 3 11.5 3 14 3 16 3 17.5 3 17 3 15.5 3 12 3 12.5 3 12 3 12 3 10.5 3 10.5 3 10 3 10 3 9.5 3 9.5 3 8 3 7.5 3 7 3 6.5 3 6.5 3 6.5 3 6.5 3 3 3 3 3 2 3 2 3 1.5 3 1.5 3 1.5 3 1 3 1.5 3 1.5 3 1.5 3 1.5 3 1.5 3 1 3 1.5 3 1 3-1.5 3-3 3-3.5 3-3.5 3-0.5 3 0.5 3 0.5 3-0.5 3 0 3 0 3 0 3 0.5 3 0 3 0 3-0.5 3-1 3-2.5 3-3 3-3 3-2.5 3-3 3-3 3-3 3-3 3-3 3-4 3-3.5 3-4.5 3-4 3-4.5 3-4.5 3-3.5 3-3 3-2 3-0.5 3-0.5 3-0.5 3-1 3-1 3-1 3-1 3 0 3 0.5 3 0.5 3 0.5 3 0 3-1 3-3 3-4.5 3-5.5 3-5 3-5 3-4 3-4 3-3.5 3-3 3-3.5 3-3.5 3-3.5 3-3.5 3-3.5 3-3 3-3.5 3-3.5 3-3.5 3-3 3-3.5 3-3.5 3-4 3-3.5 3-3 3-3 3-3 3-2.5 3-3 3-2.5 3-3 3-3.5 3-3 3-3.5 3-3 3-3.5 3-3 3-2.5 3-2 3-2.5 3-2.5 3-2 3-2 3-2 3-2 3-1.5 3-1.5 3-1.5 3-1.5 3-1.5 3-1.5 3-1 3-2 3-2 3-2.5 3-2.5 3-2.5 3-2 3-2.5 3-2 3-2.5 3-2.5 3-3 3-3.5 3-3 3-3 3-3 3-2.5 3-2.5 3-2.5 3-2 3-2 3-2.5 3-2 3-2.5 3-1.5 3-2 3-2 3-1.5 3-1.5 1 0" stroke="#406cc9"/>
<path d="M296 245l3 3.5 3 2.5 3 2.5 3 2 3 2 3 0 3-1.5 3-1 3-1 3-1 3-1 3-0.5 3-0.5 3 0 3 0 3 0.5 3 0.5 3 0.5 3 0.5 3 1 3 1 3 1 3 0.5 3 0.5 3 0 3 0 3 0 3-0.5 3-1 3-1.5 3-1 3-1.5 3-1.5 3-2 3-1.5 3-1.5 3-1.5 3-1.5 3-1.5 3-2 3-2 3-3 3-3.5 3-3.5 3-3.5 3-4.5 3-4.5 3-4 3-3 3-2 3-2 3-2 3-2 3-2.5 3-3 3-2.5 3-3 3-3 3-2 3-2 3-1.5 3-0.5 3 0 3 0 3 0 3 0.5 3 0.5 3 1 3 0.5 3 0.5 3 0.5 3 0.5 3 0.5 3 0.5 3 1 3 0.5 3 1 3 1 3 0.5 3 1 3 1 3 0.5 3 1 3 0.5 3 1 3 0.5 3 1 3 1 3 1 3 0.5 3 1 3 1 3 0.5 3 0.5 3 0.5 3 1 3 0.5 3 1.5 3 1 3 1.5 3 1.5 3 1.5 3 1.5 3 1.5 3 2.5 3 3 3 3.5 3 3 3 3 3 4.5 3 6 3 6.5 3 11.5 3 14.5 3 15 3 16.5 3 18.5 3 15.5 3 3 3-1.5 3 3.5 3 8 3 9 3 9.5 3 10 3 12 3 14 3 16 3 17.5 3 16.5 3 15.5 3 12 3 12 3 11.5 3 11 3 10 3 10.5 3 10 3 9.5 3 10 3 9.5 3 8 3 7.5 3 7.5 3 7 3 7 3 6.5 3 6.5 3 3 3 2.5 3 2 3 2 3 1.5 3 2 3 1.5 3 1.5 3 1.5 3 1.5 3 1.5 3 1.5 3 1.5 3 1 3 1 3 0.5 3-2 3-3 3-3 3-3.5 3-0.5 3 0.5 3 0.5 3 0 3-0.5 3 0.5 3 0 3 0 3 0 3 0 3-0.5 3-1 3-2 3-3 3-2.5 3-3 3-2.5 3-3 3-3 3-3 3-3.5 3-3.5 3-3.5 3-4.5 3-4.5 3-4.5 3-4.5 3-4 3-3 3-1.5 3-0.5 3-0.5 3 0 3-0.5 3-0.5 3-0.5 3-0.5 3 0.5 3 0.5 3 1 3 0 3-0.5 3-1.5 3-3 3-5 3-5 3-5 3-5 3-4 3-3.5 3-3.5 3-3.5 3-3.5 3-3.5 3-4 3-4 3-4 3-4.5 3-4 3-4 3-3.5 3-3.5 3-3 3-3 3-2.5 3-3 3-3 3-2.5 3-2.5 3-3 3-3 3-3 3-3 3-3 3-3 3-3 3-3 3-3 3-2.5 3-2 3-2.5 3-2 3-2 3-2 3-2 3-2.5 3-2 3-2 3-2 3-2 3-1.5 3-1.5 3-1.5 3-1.5 3-2 3-2.5 3-2.5 3-2.5 3-2 3-2.5 3-2.5 3-2.5 3-2.5 3-2.5 3-2.5 3-3 3-2.5 3-2.5 3-2.5 3-2.5 3-2.5 3-3 3-2 3-2.5 3-2 3-2 3-2 3-2 3-2 3-2 3-2.5 3-1.5 1-0.5" stroke="#416cc7"/>
<path d="M296 248.5l3 2.5 3 2.5 3 1.5 3 1.5 3 1.5 3-0.5 3-2 3-1.5 3-1 3-1.5 3-1 3-0.5 3-0.5 3 0 3 0 3 0.5 3 0.5 3 1 3 0.5 3 1 3 0.5 3 1 3 0 3 0 3 0.5 3 0.5 3 0.5 3 0.5 3-0.5 3-1 3-1 3-1.5 3-1.5 3-2 3-1.5 3-2 3-1.5 3-1.5 3-1.5 3-2 3-1.5 3-3 3-3 3-3.5 3-4 3-4 3-4 3-4 3-3.5 3-2.5 3-2 3-2.5 3-2.5 3-2.5 3-3 3-3 3-2.5 3-2 3-2 3-1.5 3-1 3-0.5 3 0 3 0 3-0.5 3 0.5 3 0.5 3 1 3 1 3 0.5 3 0.5 3 0.5 3 1 3 0.5 3 0.5 3 1 3 0.5 3 0.5 3 0.5 3 0.5 3 1 3 0.5 3 1 3 0.5 3 0.5 3 1 3 0.5 3 1 3 1 3 1 3 1 3 1 3 1 3 1 3 1 3 1 3 1 3 1.5 3 1 3 1 3 1 3 1 3 0.5 3 1.5 3 2 3 3.5 3 3 3 3.5 3 3.5 3 4 3 6.5 3 6.5 3 11.5 3 14.5 3 15 3 16 3 18.5 3 15.5 3 3.5 3-1 3 4.5 3 7.5 3 8.5 3 9.5 3 10 3 11.5 3 13.5 3 15.5 3 17 3 16 3 14.5 3 12 3 11.5 3 11.5 3 11 3 10 3 10 3 10 3 10 3 9.5 3 10 3 8 3 8 3 7.5 3 6.5 3 6.5 3 7 3 6 3 3 3 2.5 3 1.5 3 1.5 3 2 3 1.5 3 2 3 1.5 3 1.5 3 2 3 1.5 3 1 3 1.5 3 1 3 1.5 3 1.5 3-1.5 3-2.5 3-3 3-3 3-0.5 3 0 3 0 3 0 3-0.5 3 0 3 0 3 0 3 0 3 0 3 0 3-1 3-2 3-3 3-2.5 3-2.5 3-3 3-3 3-3 3-3.5 3-3.5 3-3.5 3-3.5 3-4 3-4.5 3-4.5 3-4.5 3-3.5 3-3 3-1.5 3-1 3-0.5 3 0 3-1 3-0.5 3-1 3-0.5 3 0 3 0.5 3 1 3 0.5 3-0.5 3-1.5 3-3 3-5 3-5 3-5 3-4.5 3-4.5 3-4 3-3.5 3-3.5 3-3 3-3.5 3-3.5 3-3 3-3.5 3-3 3-3.5 3-3.5 3-3.5 3-4 3-3.5 3-3.5 3-3 3-3.5 3-2.5 3-2.5 3-3 3-2.5 3-3 3-3 3-3.5 3-3 3-3.5 3-3 3-3 3-2.5 3-2.5 3-2 3-2 3-2 3-2 3-2.5 3-2.5 3-2.5 3-2.5 3-2 3-2 3-1.5 3-2 3-1.5 3-1.5 3-1.5 3-1.5 3-1.5 3-2.5 3-2.5 3-2.5 3-2.5 3-2.5 3-2.5 3-2.5 3-2.5 3-2.5 3-2.5 3-2.5 3-2.5 3-2.5 3-2.5 3-3 3-3 3-2.5 3-2.5 3-2.5 3-2 3-2 3-1.5 3-2.5 3-2 3-2.5 3-2.5 1-0.5" stroke="#426bc5"/>
<path d="M296 249l3 2.5 3 2.5 3 1.5 3 1 3 1.5 3-0.5 3-1.5 3-1 3-1 3-0.5 3-1 3-0.5 3 0 3-0.5 3 0 3 0 3 0.5 3 0.5 3 0.5 3 0.5 3 1 3 1 3 0.5 3 1 3 0.5 3 0.5 3 0.5 3 0.5 3-1 3-1.5 3-1 3-2 3-2 3-1.5 3-2 3-2 3-1.5 3-1.5 3-1.5 3-1.5 3-2 3-2.5 3-3.5 3-3 3-4 3-4.5 3-4.5 3-4 3-3.5 3-2.5 3-2 3-2.5 3-2.5 3-2.5 3-3 3-2 3-2.5 3-2.5 3-1.5 3-1.5 3-1.5 3-0.5 3 0 3 0 3 0 3 0 3 0.5 3 0.5 3 0.5 3 0.5 3 1 3 0.5 3 0.5 3 0.5 3 0.5 3 1 3 1 3 1.5 3 1 3 1 3 1 3 0.5 3 0.5 3 0.5 3 0 3 0.5 3 0.5 3 0.5 3 1 3 0.5 3 1 3 1 3 1 3 1 3 1 3 1.5 3 1 3 1.5 3 1 3 1 3 1 3 1 3 1.5 3 1 3 2 3 3 3 3 3 3 3 3.5 3 4.5 3 6 3 7 3 12 3 14.5 3 15 3 16 3 17.5 3 15 3 3 3-0.5 3 4 3 7.5 3 9 3 9 3 10.5 3 11.5 3 13.5 3 15.5 3 16.5 3 16 3 14.5 3 12 3 11.5 3 11.5 3 11 3 9.5 3 10 3 9.5 3 10 3 9.5 3 10 3 9 3 8 3 8 3 7.5 3 7 3 7 3 6 3 3 3 1.5 3 1.5 3 1.5 3 1 3 1 3 1.5 3 1.5 3 1.5 3 2 3 1.5 3 1.5 3 1 3 1 3 1 3 1 3-1.5 3-2.5 3-2.5 3-2 3 0 3 0.5 3 0.5 3 0 3-0.5 3 0 3 0 3 0 3-0.5 3-0.5 3-1 3-1.5 3-2.5 3-3 3-3 3-2.5 3-3 3-2.5 3-2.5 3-3 3-2.5 3-3.5 3-3.5 3-4 3-4.5 3-4.5 3-4.5 3-3.5 3-3 3-1.5 3-0.5 3-0.5 3-0.5 3-0.5 3-1 3-0.5 3-0.5 3 0 3 0.5 3 0.5 3 0.5 3 0 3-1 3-3 3-4.5 3-5.5 3-5 3-5 3-4.5 3-4 3-3.5 3-3.5 3-3.5 3-4 3-3.5 3-3.5 3-3.5 3-3.5 3-3.5 3-3.5 3-3.5 3-3.5 3-3.5 3-3.5 3-3 3-3 3-3 3-2.5 3-3 3-3 3-3 3-3 3-3 3-3 3-2.5 3-2.5 3-2.5 3-2 3-2 3-2 3-2 3-2 3-2.5 3-2.5 3-2.5 3-2.5 3-2 3-2 3-2 3-2 3-1.5 3-2 3-1.5 3-1.5 3-2 3-1.5 3-2 3-1.5 3-2.5 3-2 3-2.5 3-2.5 3-2 3-3 3-2.5 3-3 3-3 3-3 3-3 3-3 3-3 3-2.5 3-2.5 3-2 3-2.5 3-2.5 3-2 3-2 3-2 3-2 3-2 3-1.5 1-0.5" stroke="#446bc3"/>
<path d="M296 252.5l3 1 3 1 3 0.5 3 1 3 1.5 3-0.5 3-1 3-1 3-0.5 3-1 3-1 3-0.5 3-0.5 3 0 3 0 3 1 3 1 3 1 3 0.5 3 1 3 0.5 3 0.5 3 0.5 3 0 3-0.5 3 0 3 0 3 0 3-1 3-1 3-1 3-1 3-1.5 3-1.5 3-2 3-1.5 3-1.5 3-1.5 3-2 3-2 3-1.5 3-3 3-3.5 3-3.5 3-3.5 3-4.5 3-4 3-4 3-3 3-2.5 3-2 3-2.5 3-2 3-2 3-2.5 3-2.5 3-2.5 3-2.5 3-2.5 3-1.5 3-2 3-0.5 3 0.5 3 0 3 0.5 3 0.5 3 0.5 3 0.5 3 0.5 3 0 3 0.5 3 1 3 0.5 3 0.5 3 1 3 0.5 3 1 3 0.5 3 0.5 3 0.5 3 0.5 3 1 3 0.5 3 1 3 0.5 3 1 3 1 3 1 3 1 3 1 3 0.5 3 1 3 1 3 1 3 1 3 1 3 1.5 3 1 3 1 3 1 3 0.5 3 0.5 3 1 3 1.5 3 2.5 3 3 3 3.5 3 3 3 3 3 4.5 3 6 3 7 3 11.5 3 15 3 15 3 15.5 3 17 3 14.5 3 3.5 3-0.5 3 4 3 7.5 3 8.5 3 9 3 10 3 11.5 3 13.5 3 15 3 16.5 3 15.5 3 14.5 3 12 3 12 3 11.5 3 11 3 10 3 10 3 10 3 10 3 10 3 10 3 8.5 3 7.5 3 8 3 7 3 6.5 3 6.5 3 6 3 2.5 3 1.5 3 1.5 3 1.5 3 1.5 3 2 3 1.5 3 1.5 3 1.5 3 1.5 3 1.5 3 1 3 1.5 3 1.5 3 1 3 1 3-1.5 3-2.5 3-3 3-3 3-0.5 3 0 3 0.5 3 0 3 0 3 0 3 0.5 3 0 3 0 3 0 3-0.5 3-1 3-2 3-2.5 3-2.5 3-3 3-2.5 3-2.5 3-2.5 3-3 3-3 3-3.5 3-4 3-4 3-4.5 3-4 3-4.5 3-3.5 3-2.5 3-1.5 3-0.5 3-0.5 3-0.5 3-1 3-1.5 3-1.5 3-1.5 3-0.5 3 0.5 3 0.5 3 0.5 3 0 3-1.5 3-3 3-4.5 3-5 3-5 3-5 3-4 3-4 3-3.5 3-3.5 3-3 3-3.5 3-4 3-3.5 3-3.5 3-3.5 3-3.5 3-3.5 3-3 3-3.5 3-3.5 3-3.5 3-3.5 3-3.5 3-3 3-2.5 3-2.5 3-2.5 3-2.5 3-2.5 3-3 3-3 3-3 3-3 3-3 3-2.5 3-2.5 3-2 3-2 3-1.5 3-2 3-2 3-2 3-2.5 3-2.5 3-2 3-2 3-1.5 3-2 3-1.5 3-1.5 3-1.5 3-1.5 3-2 3-1.5 3-2 3-2 3-2.5 3-2.5 3-2.5 3-2.5 3-2.5 3-3 3-2.5 3-2 3-2.5 3-3 3-2.5 3-2.5 3-3 3-2.5 3-2.5 3-2.5 3-2 3-2 3-1.5 3-2 3-1.5 3-1.5 3-1.5 1 0" stroke="#456bc2"/>
<path d="M296 257l3 1.5 3 0.5 3 0.5 3 0 3-0.5 3-1.5 3-2 3-2 3-1.5 3-1 3-0.5 3 0.5 3 0.5 3 1 3 0.5 3 0 3-0.5 3-0.5 3-0.5 3-0.5 3 0.5 3 0.5 3 1.5 3 1 3 1.5 3 1.5 3 1.5 3 1 3-0.5 3-1.5 3-1 3-1.5 3-1.5 3-1.5 3-2 3-2 3-2 3-2.5 3-2.5 3-2.5 3-2.5 3-2.5 3-2.5 3-3 3-3 3-3.5 3-4 3-4 3-3 3-2 3-2 3-1.5 3-2 3-1.5 3-2 3-2 3-2 3-2.5 3-2.5 3-2 3-2.5 3-0.5 3-0.5 3 0 3 0 3-0.5 3 0 3 0 3 0 3 1 3 1 3 1 3 1.5 3 1 3 1 3 0.5 3 0 3-0.5 3-0.5 3 0 3 0.5 3 1 3 1.5 3 1.5 3 1.5 3 1.5 3 1.5 3 0.5 3 0.5 3 0.5 3 0.5 3 0.5 3 0.5 3 0.5 3 0.5 3 0.5 3 1.5 3 1.5 3 1.5 3 1.5 3 1.5 3 1 3 1.5 3 1.5 3 2.5 3 3.5 3 4 3 3.5 3 3.5 3 4.5 3 5.5 3 6 3 11 3 14 3 14.5 3 14.5 3 16.5 3 14 3 3.5 3 0 3 4 3 7 3 8.5 3 9 3 9.5 3 11.5 3 13 3 14.5 3 16 3 15.5 3 14 3 11.5 3 11.5 3 11.5 3 11 3 10 3 10 3 10 3 10 3 10 3 10 3 9 3 8.5 3 8 3 7.5 3 7 3 6.5 3 5.5 3 2.5 3 1.5 3 1 3 2 3 1.5 3 2 3 1.5 3 1.5 3 1 3 0.5 3 1 3 1 3 0.5 3 1 3 0.5 3 0.5 3-1 3-2.5 3-3 3-2.5 3-0.5 3 0.5 3 0.5 3 0 3 0 3 0.5 3 0 3 0.5 3 0.5 3 0.5 3-0.5 3-0.5 3-2.5 3-3 3-3 3-3.5 3-4 3-3.5 3-3 3-3.5 3-3 3-2.5 3-3 3-3 3-3 3-3.5 3-3.5 3-3.5 3-2.5 3-1.5 3-1 3-0.5 3-0.5 3-1 3-1.5 3-1.5 3-1.5 3-0.5 3 0.5 3 0.5 3 0.5 3 0 3-1 3-2.5 3-4 3-4.5 3-4.5 3-4.5 3-4 3-4 3-3.5 3-4 3-4 3-3.5 3-4 3-3.5 3-4 3-3.5 3-3.5 3-3.5 3-3 3-3 3-3 3-2.5 3-3 3-3.5 3-3.5 3-3.5 3-3 3-3 3-3 3-2.5 3-2.5 3-2.5 3-2.5 3-2 3-2.5 3-2 3-1.5 3-2 3-1.5 3-2 3-1.5 3-2 3-2 3-2 3-2.5 3-2.5 3-2.5 3-2.5 3-2 3-1.5 3-2 3-2 3-2.5 3-2.5 3-2.5 3-2.5 3-2 3-2.5 3-2 3-2 3-2 3-2 3-2.5 3-2.5 3-2.5 3-2.5 3-3 3-3 3-3 3-2.5 3-2 3-1.5 3-1.5 3-1.5 3-1.5 3-1 3-1.5 3-1 3-1 3-0.5 1 0" stroke="#476bbf"/>
<path d="M296 254.5l3 1.5 3 1.5 3 1 3 1.5 3 1.5 3-0.5 3-0.5 3-1 3-1.5 3-1 3-1 3-0.5 3-0.5 3-0.5 3-0.5 3 0.5 3 0.5 3 1 3 1 3 1 3 0.5 3 1 3 0 3 0 3-0.5 3-0.5 3 0 3-0.5 3-1 3-1.5 3-1 3-0.5 3-1 3-1 3-1.5 3-1.5 3-2 3-2 3-2 3-2 3-1 3-2.5 3-3 3-3 3-4 3-4.5 3-4.5 3-4.5 3-3 3-3 3-2.5 3-2.5 3-2 3-2 3-1.5 3-1.5 3-1.5 3-1.5 3-1.5 3-1.5 3-2 3-1 3-0.5 3-1 3-0.5 3 0 3 0.5 3 0.5 3 1.5 3 1.5 3 1 3 1.5 3 1 3 1 3 1 3 0.5 3 1 3 0.5 3 0.5 3 0.5 3 1 3 1 3 0.5 3 1 3 0.5 3 0.5 3 0 3-0.5 3 0 3 0 3 0.5 3 0.5 3 1.5 3 1.5 3 1 3 1 3 1.5 3 1 3 1 3 0.5 3 0.5 3 1 3 0.5 3 1 3 2 3 3.5 3 3 3 4 3 3.5 3 5 3 6.5 3 7 3 12 3 14.5 3 14.5 3 14.5 3 15 3 13.5 3 4 3 1.5 3 4.5 3 7.5 3 8.5 3 8.5 3 9.5 3 10 3 12 3 12.5 3 14 3 14 3 12.5 3 11.5 3 12 3 12 3 11.5 3 11 3 11 3 10.5 3 10.5 3 10.5 3 10 3 8.5 3 7.5 3 7 3 7 3 7 3 7.5 3 6.5 3 2.5 3 1.5 3 1 3 1 3 0.5 3 0.5 3 0 3 0.5 3 0.5 3 1 3 1 3 1 3 1 3 1 3 1.5 3 1.5 3-0.5 3-1.5 3-1 3-1.5 3 0.5 3 0.5 3 0.5 3 0 3 0 3-0.5 3-0.5 3-0.5 3-1 3-0.5 3-0.5 3-0.5 3-2 3-2.5 3-2.5 3-3.5 3-3 3-3.5 3-3 3-3.5 3-3.5 3-3.5 3-4 3-4 3-5 3-4.5 3-4 3-3.5 3-2.5 3-1 3 0 3 0.5 3 0.5 3 0 3 0 3-0.5 3-0.5 3-0.5 3 0 3 0 3 0 3-0.5 3-1.5 3-2 3-3.5 3-4.5 3-4.5 3-4.5 3-4 3-4 3-3.5 3-3.5 3-3 3-3.5 3-3.5 3-3.5 3-3.5 3-3 3-2.5 3-2 3-2.5 3-3 3-3 3-3.5 3-3.5 3-4 3-3 3-3.5 3-3 3-3.5 3-3.5 3-3 3-3.5 3-3 3-2.5 3-2.5 3-2.5 3-2 3-2 3-1.5 3-1.5 3-1.5 3-1.5 3-2 3-2 3-2 3-2.5 3-2 3-2 3-1.5 3-1.5 3-1 3-1.5 3-2 3-2 3-3 3-3 3-2.5 3-3 3-2.5 3-2.5 3-3 3-3 3-2.5 3-3 3-2 3-2.5 3-2 3-2 3-2.5 3-2.5 3-2 3-2.5 3-2 3-2.5 3-2.5 3-2.5 3-2 3-2 3-2 3-1.5 3-1.5 1 0" stroke="#496bbc"/>
<path d="M296 258l3 1.5 3 1 3 1 3 1 3 1 3 0 3-1 3-0.5 3-0.5 3-0.5 3-0.5 3 0 3-0.5 3-0.5 3 0 3 0 3 0 3-0.5 3-1 3-1 3-0.5 3-0.5 3 0 3 0.5 3 0.5 3 1.5 3 1 3 1 3-1 3-0.5 3-0.5 3-1 3-0.5 3-1 3-1.5 3-1.5 3-2 3-2.5 3-3 3-3 3-3 3-3.5 3-3.5 3-3 3-3.5 3-3.5 3-3.5 3-3.5 3-2.5 3-2 3-2 3-1.5 3-2 3-2 3-2 3-2 3-2 3-2.5 3-2 3-1.5 3-1.5 3 0 3 1 3 0.5 3 0 3 0 3 0 3 0 3 0 3 0.5 3 0.5 3 0.5 3 0 3 0.5 3 0 3 0 3 0.5 3 0.5 3 0 3 0 3 0 3 0 3 0 3 0.5 3 0.5 3 0.5 3 1 3 1.5 3 1.5 3 1.5 3 2 3 2 3 1.5 3 1.5 3 1 3 1 3 1 3 1 3 0.5 3 1 3 0.5 3 0.5 3 0.5 3 1 3 2 3 3 3 3 3 3.5 3 3.5 3 4.5 3 6.5 3 7 3 11.5 3 14.5 3 14.5 3 13.5 3 14 3 12 3 5 3 2.5 3 5.5 3 8 3 8.5 3 8.5 3 9.5 3 10 3 11 3 11.5 3 12.5 3 12.5 3 12 3 11.5 3 11.5 3 12 3 11.5 3 10.5 3 11 3 10.5 3 10.5 3 10 3 10 3 8 3 7 3 6.5 3 6.5 3 7 3 6.5 3 6 3 2 3 1.5 3 1 3 1.5 3 1.5 3 1 3 1.5 3 1 3 1.5 3 1 3 1 3 1 3 1 3 0.5 3 1 3 1 3-1 3-1 3-1.5 3-1 3 0 3 0.5 3 0 3-0.5 3-0.5 3 0 3 0 3 0 3 0 3 0.5 3 0 3 0 3-1.5 3-2 3-2.5 3-2.5 3-2.5 3-3 3-2 3-2.5 3-2.5 3-2.5 3-3.5 3-3.5 3-4.5 3-4.5 3-5 3-3.5 3-3.5 3-2.5 3-1.5 3-1 3-1 3-0.5 3-0.5 3-0.5 3 0.5 3 1 3 1.5 3 1 3 0.5 3-0.5 3-2 3-3.5 3-5 3-5 3-5 3-5 3-4 3-3.5 3-3.5 3-3.5 3-3.5 3-4 3-3.5 3-3.5 3-3 3-3 3-3 3-3 3-3.5 3-3.5 3-3.5 3-3.5 3-3 3-3 3-2 3-2.5 3-2.5 3-2.5 3-3 3-3 3-3 3-2 3-2.5 3-2 3-3 3-3 3-3 3-3 3-2 3-1.5 3-1.5 3-0.5 3-1 3-1.5 3-2 3-2.5 3-2.5 3-2.5 3-2 3-2.5 3-1.5 3-2 3-1.5 3-1.5 3-2 3-1.5 3-1.5 3-2 3-2 3-2 3-2 3-2.5 3-2.5 3-2 3-2.5 3-3 3-3 3-3 3-3.5 3-2.5 3-3 3-2 3-2 3-2 3-1.5 3-2 3-2.5 3-3 3-2.5 3-3 1-0.5" stroke="#4b6aba"/>
<path d="M296 260.5l3 0.5 3 0 3-0.5 3-0.5 3-1 3-1 3-2 3-1 3-0.5 3 0 3 0 3 1 3 1 3 0.5 3 0 3 0.5 3 0 3 0 3 0.5 3 0.5 3 0.5 3 1 3 0.5 3 1 3 1 3 1 3 1 3 1 3-1 3-2 3-1.5 3-2.5 3-2 3-2 3-2 3-1.5 3-2 3-1.5 3-2 3-2.5 3-3 3-3.5 3-4 3-4.5 3-3.5 3-4.5 3-3.5 3-4 3-2 3-2 3-1 3-1.5 3-1.5 3-2 3-3 3-3 3-3 3-3 3-2.5 3-2 3-1.5 3-0.5 3 1 3 1 3 0.5 3 0.5 3 0.5 3 0.5 3 0.5 3 0.5 3 0.5 3 0.5 3 1 3 0.5 3 1.5 3 1.5 3 1.5 3 1 3 1.5 3 0.5 3 0.5 3 0 3 1 3 1 3 1 3 2 3 1 3 1.5 3 0.5 3 0.5 3 0.5 3 0 3 0.5 3 0.5 3 0.5 3 1 3 1 3 1.5 3 1 3 0.5 3 1 3 0.5 3 1.5 3 1.5 3 3 3 3.5 3 3.5 3 3.5 3 3.5 3 4.5 3 6 3 7 3 11 3 15 3 14 3 12.5 3 12.5 3 11.5 3 5.5 3 4 3 5 3 7 3 6.5 3 7 3 7 3 8.5 3 9.5 3 11 3 12 3 12.5 3 11.5 3 11 3 11.5 3 11 3 11 3 10.5 3 10.5 3 11.5 3 10.5 3 11 3 10 3 8.5 3 7 3 7.5 3 7 3 7.5 3 7.5 3 7 3 2.5 3 1.5 3 1.5 3 1 3 1 3 1.5 3 1 3 0.5 3 1 3 1 3 1 3 1.5 3 1.5 3 1.5 3 1.5 3 1 3-0.5 3-1.5 3-2 3-1.5 3-1 3-0.5 3 0 3 0 3 0 3 0 3 0 3 0.5 3 0 3 0 3-0.5 3-1 3-2 3-3 3-3 3-2.5 3-2.5 3-2.5 3-2.5 3-2.5 3-2 3-2 3-2.5 3-3 3-4.5 3-4.5 3-5.5 3-4 3-3 3-1 3 0 3 0.5 3 0.5 3 0 3-1 3-1 3-0.5 3-0.5 3 0 3 0 3-0.5 3-0.5 3-2 3-4 3-5 3-5 3-5 3-4.5 3-4 3-3.5 3-2.5 3-3 3-2.5 3-3 3-3 3-3 3-3.5 3-3.5 3-3.5 3-3 3-3.5 3-3.5 3-3 3-3 3-2.5 3-3 3-2 3-2 3-2.5 3-2.5 3-2.5 3-3 3-3.5 3-2.5 3-2.5 3-2.5 3-1.5 3-2 3-1.5 3-2 3-2 3-2 3-2.5 3-2 3-3 3-2.5 3-2 3-2 3-2 3-1.5 3-1.5 3-1.5 3-1.5 3-1.5 3-2 3-2.5 3-2.5 3-2.5 3-2.5 3-3 3-2.5 3-2.5 3-3 3-2.5 3-2.5 3-2 3-1.5 3-1.5 3-1.5 3-2 3-2.5 3-2 3-2 3-2 3-2 3-2 3-1 3-1.5 3-1 3-1 3-0.5 3-1 1 0" stroke="#4d6ab7"/>
<path d="M296 264.5l3-1 3-1.5 3-0.5 3-0.5 3 0.5 3 0 3 0 3 0 3-0.5 3-1 3-0.5 3-1 3 0 3 0 3 0 3 1 3 0.5 3 1 3 0.5 3 0.5 3 0 3 0.5 3 0.5 3 0 3 0 3 0 3 0 3-0.5 3-1.5 3-2 3-2 3-2 3-2 3-2 3-1.5 3-2 3-2 3-1.5 3-2 3-1.5 3-1 3-2.5 3-2.5 3-3 3-3.5 3-3.5 3-3.5 3-3.5 3-2.5 3-2.5 3-2.5 3-2.5 3-2.5 3-2 3-2 3-1.5 3-1 3-1.5 3-2 3-1.5 3-2.5 3-1 3 0 3 0 3 0.5 3 0.5 3 0.5 3 0.5 3-0.5 3-0.5 3-1 3 0 3-0.5 3 0.5 3 0.5 3 1 3 1 3 1.5 3 1.5 3 2 3 1.5 3 1.5 3 1 3 0.5 3 0.5 3 0 3 0.5 3 1 3 0 3 0.5 3-0.5 3 0 3 0 3 0.5 3 1 3 1.5 3 2 3 1.5 3 2 3 1.5 3 1.5 3 1.5 3 2 3 2 3 2.5 3 3 3 3 3 2 3 2 3 3 3 6 3 7.5 3 12.5 3 16.5 3 16 3 12.5 3 12 3 10 3 5 3 4 3 5 3 6 3 7 3 7.5 3 8 3 9.5 3 10 3 10.5 3 11 3 11 3 10 3 10.5 3 10.5 3 11 3 11 3 10.5 3 10.5 3 10.5 3 10.5 3 10.5 3 10 3 8.5 3 7.5 3 8 3 7.5 3 8 3 8.5 3 7 3 2.5 3 1.5 3 0.5 3 0.5 3 1 3 1 3 1.5 3 1.5 3 2 3 2 3 1 3 0.5 3 0.5 3-0.5 3 0 3 0.5 3-0.5 3-0.5 3-0.5 3-1 3 0 3-0.5 3 0 3 0 3 0 3 0 3 0 3 0.5 3 0 3 0.5 3 0 3-0.5 3-2 3-3.5 3-3.5 3-3.5 3-4 3-3 3-3 3-2.5 3-2 3-2.5 3-3 3-4 3-4.5 3-4.5 3-4.5 3-3.5 3-2.5 3-1 3-0.5 3 0 3 0 3-0.5 3-0.5 3 0 3-0.5 3 0.5 3 0.5 3 0.5 3 0.5 3 0 3-1.5 3-3 3-4.5 3-5 3-5 3-5.5 3-5 3-4.5 3-4 3-3.5 3-3.5 3-3 3-3.5 3-3 3-3 3-3.5 3-3 3-3 3-3 3-3 3-2.5 3-3 3-3 3-3 3-3 3-3 3-2.5 3-2 3-1.5 3-1 3-0.5 3-1 3-1 3-2 3-2 3-2 3-2.5 3-3 3-2.5 3-2.5 3-2.5 3-2 3-2 3-2 3-1.5 3-2 3-2.5 3-2 3-2.5 3-2 3-2 3-2 3-2 3-2.5 3-2 3-2.5 3-2 3-2.5 3-1.5 3-1.5 3-1.5 3-1.5 3-1.5 3-2.5 3-2.5 3-2.5 3-3 3-2.5 3-3 3-2.5 3-2.5 3-2.5 3-2 3-1.5 3-2 3-2 3-2.5 3-3.5 3-4 3-3.5 1-1" stroke="#4f6ab5"/>
<path d="M296 272.5l3-2 3-2.5 3-2 3-1.5 3-1 3-0.5 3-0.5 3 0 3-0.5 3-1 3-1 3-1.5 3-1 3-1 3 0 3 0.5 3 1 3 0.5 3 1 3 0.5 3 0.5 3 0.5 3 0.5 3 0 3 0.5 3 1 3 1 3 0.5 3-1 3-1.5 3-2 3-2.5 3-2 3-1.5 3-1.5 3-0.5 3-0.5 3-1 3-1.5 3-2.5 3-3 3-4.5 3-5 3-4.5 3-4 3-3.5 3-3 3-2.5 3-1 3-1 3-1.5 3-1 3-1.5 3-1.5 3-2 3-2 3-2 3-2 3-2.5 3-2 3-2 3-1 3 0 3 0.5 3 0 3 0 3 0 3 0.5 3 0 3 0.5 3 0.5 3 0 3 0 3 0 3 0 3 1 3 1 3 1 3 1 3 1 3 1 3 1 3 1.5 3 1 3 1.5 3 0.5 3 0.5 3 0 3-0.5 3-0.5 3-0.5 3-0.5 3 0.5 3 0.5 3 1.5 3 1.5 3 1.5 3 1.5 3 2 3 1.5 3 2 3 1.5 3 1.5 3 1.5 3 2.5 3 2.5 3 3 3 3 3 2.5 3 4.5 3 7 3 7.5 3 13 3 16 3 16 3 12.5 3 11.5 3 10 3 6.5 3 5.5 3 5.5 3 6 3 6.5 3 6 3 6.5 3 7 3 7.5 3 7.5 3 8.5 3 9 3 9 3 10 3 10.5 3 11 3 11 3 10.5 3 11.5 3 11 3 11.5 3 11 3 11 3 9 3 7.5 3 7 3 7.5 3 7 3 7.5 3 6.5 3 2.5 3 1.5 3 1 3 1.5 3 0.5 3 1 3 0.5 3 1 3 1 3 1 3 1 3 1 3 1 3 0.5 3 0.5 3 0 3-0.5 3-0.5 3-0.5 3-0.5 3 0 3 0 3 0 3 0 3 0 3 0 3-0.5 3 0 3-0.5 3 0 3 0 3 0.5 3-1.5 3-2 3-2.5 3-2 3-2.5 3-2.5 3-3 3-3 3-3.5 3-3.5 3-4 3-4 3-4.5 3-4 3-3 3-2.5 3-1.5 3-0.5 3-0.5 3 0 3 0 3-0.5 3-0.5 3-1 3-0.5 3-0.5 3 0 3 0.5 3 0 3-1 3-1.5 3-3.5 3-5 3-5 3-5.5 3-4.5 3-3.5 3-3.5 3-3 3-3 3-2.5 3-2.5 3-2.5 3-2.5 3-2 3-3 3-2.5 3-3 3-3.5 3-3.5 3-3.5 3-4 3-3.5 3-3.5 3-3 3-3 3-2.5 3-2.5 3-2.5 3-2 3-2 3-2 3-1.5 3-1 3-1 3-1 3-1.5 3-2.5 3-2 3-2.5 3-2.5 3-2 3-2 3-2 3-2.5 3-2 3-2 3-2.5 3-2.5 3-2.5 3-2.5 3-2.5 3-2 3-2 3-1.5 3-1.5 3-2 3-2 3-2.5 3-2 3-2 3-2 3-2 3-2 3-3 3-2.5 3-3.5 3-3 3-2.5 3-1.5 3-1 3-0.5 3 0 3-0.5 3-1 3-1 3-2.5 3-3 3-3.5 3-3.5 1-0.5" stroke="#516ab2"/>
<path d="M296 254l3 2.5 3 2 3 2 3 1.5 3 1 3 1 3 0 3-0.5 3-0.5 3-1 3-1 3-0.5 3-0.5 3-0.5 3-0.5 3 0.5 3 0 3 0 3 0 3 0.5 3 1 3 0.5 3 1 3 0.5 3 0 3 0.5 3 0.5 3 0 3-1 3-1.5 3-1.5 3-1.5 3-1.5 3-1.5 3-1.5 3-1.5 3-1.5 3-1.5 3-1.5 3-2 3-1.5 3-3 3-4 3-3.5 3-4 3-3.5 3-4 3-3 3-2 3-1.5 3-1.5 3-2 3-2.5 3-2 3-2.5 3-2.5 3-2 3-1.5 3-2 3-1.5 3-2 3-1 3 0 3-0.5 3 0.5 3 0.5 3 0.5 3 0.5 3 0.5 3 0.5 3 0 3 0 3 0 3 0.5 3 0.5 3 1.5 3 1.5 3 1 3 1 3 0 3 0.5 3 0 3 0.5 3 1 3 0.5 3 1 3 0.5 3 1 3 1 3 2 3 2 3 2 3 1.5 3 2 3 1 3 1 3 1 3 1 3 0.5 3 0.5 3 0.5 3 0 3 0.5 3 1 3 2 3 3 3 2.5 3 2.5 3 2.5 3 4 3 7 3 8 3 12.5 3 16 3 15.5 3 11 3 9.5 3 9 3 5.5 3 5 3 5.5 3 6.5 3 7.5 3 7.5 3 8 3 9 3 8.5 3 8 3 8.5 3 9 3 8.5 3 10 3 11 3 11.5 3 10.5 3 10.5 3 10 3 9.5 3 9 3 9 3 9.5 3 8 3 7.5 3 8 3 8 3 8.5 3 8 3 6.5 3 2 3 0 3 0.5 3 0.5 3 1 3 1.5 3 2 3 2 3 2 3 1.5 3 0.5 3 0.5 3 0 3 0 3 0 3 0 3 0 3-0.5 3-0.5 3 0 3 0 3 1 3 1 3 1 3 1 3 0.5 3 0.5 3 0.5 3 0.5 3 0 3 0 3-0.5 3-2.5 3-4 3-3.5 3-3 3-3.5 3-3 3-2.5 3-3 3-3 3-3 3-3.5 3-4 3-4.5 3-4.5 3-4.5 3-3.5 3-2 3-1 3-0.5 3 0.5 3 0 3-0.5 3-0.5 3-1.5 3-1 3 0 3 0.5 3 0.5 3 1 3 0.5 3-1.5 3-3 3-5 3-5.5 3-5.5 3-4.5 3-4.5 3-3.5 3-3 3-3 3-2.5 3-3 3-3 3-2.5 3-2.5 3-2 3-2.5 3-2 3-2.5 3-3 3-3.5 3-3.5 3-3.5 3-3.5 3-3 3-2.5 3-2 3-2 3-1.5 3-2 3-1.5 3-1.5 3-1.5 3-2 3-2.5 3-2 3-2.5 3-2 3-1.5 3-1.5 3-1.5 3-1.5 3-2 3-2.5 3-2.5 3-2.5 3-2.5 3-2.5 3-2 3-2 3-2.5 3-2.5 3-2 3-2 3-2 3-2 3-2 3-2 3-2 3-2 3-2 3-1.5 3-1.5 3-2 3-2 3-2 3-2 3-2 3-2 3-2 3-2 3-2 3-2 3-2 3-2 3-2 3-2 3-2.5 3-3 3-3.5 1-1" stroke="#5369b0"/>
<path d="M296 268.5l3-1.5 3-1.5 3-1.5 3-1.5 3-1 3-1.5 3-1 3-1 3-1 3 0 3 0 3 0.5 3 1 3 1 3 0.5 3 1 3 0 3 0 3-0.5 3-0.5 3 0 3 0 3 1 3 1 3 1 3 1.5 3 1.5 3 1 3-0.5 3-1.5 3-1.5 3-1.5 3-2 3-2 3-2 3-2 3-2 3-2 3-2 3-1.5 3-1.5 3-3 3-3.5 3-3.5 3-4 3-4 3-4.5 3-4 3-2.5 3-2 3-2 3-1 3-0.5 3-1 3-1 3-1.5 3-1.5 3-2 3-2.5 3-2.5 3-2.5 3-1.5 3-1 3 0 3 0.5 3 0.5 3 1.5 3 1 3 1 3 1 3 0.5 3 0.5 3 1 3 0.5 3 1 3 0.5 3 0.5 3 0 3 0 3 0 3 0 3 0 3 0.5 3 1 3 0.5 3 1 3 0.5 3 1 3 0.5 3 0.5 3 0 3 0.5 3 0 3 0.5 3 1 3 0.5 3 1 3 1.5 3 2 3 1.5 3 1.5 3 1 3 1 3 1.5 3 2.5 3 3 3 3.5 3 3.5 3 4 3 4.5 3 7 3 7.5 3 11 3 14 3 13 3 10 3 9 3 9.5 3 7 3 6.5 3 7.5 3 7 3 7.5 3 7 3 6.5 3 7 3 7 3 7.5 3 9 3 9 3 10 3 11.5 3 11.5 3 12 3 11 3 10 3 10 3 10 3 9.5 3 9 3 9.5 3 7.5 3 6 3 6.5 3 6.5 3 7 3 7 3 6.5 3 2.5 3 1 3 1.5 3 1 3 0.5 3 1 3 1 3 1 3 2 3 2 3 2 3 1.5 3 1 3 0.5 3 0 3 0.5 3-0.5 3 0 3 0 3 0 3 0.5 3 0 3 0.5 3 0 3 1 3 0.5 3 0.5 3 0.5 3 0 3-0.5 3-1 3-1 3-2 3-3.5 3-2.5 3-3 3-3 3-2.5 3-3 3-3 3-3 3-2.5 3-3 3-3.5 3-4 3-4 3-4 3-2.5 3-2.5 3-1.5 3-1 3-1 3-1 3-0.5 3-1 3-1 3-0.5 3 0 3 0.5 3 1 3 0.5 3-0.5 3-1.5 3-3 3-3.5 3-4 3-4 3-4 3-4 3-4 3-4 3-4 3-4 3-3.5 3-3.5 3-2.5 3-3 3-2.5 3-2.5 3-2.5 3-2.5 3-2 3-2.5 3-2 3-2.5 3-2.5 3-3 3-2.5 3-3 3-3.5 3-3 3-3 3-3 3-2.5 3-2 3-1.5 3-1.5 3-1.5 3-1 3-1.5 3-1 3-1.5 3-1 3-1.5 3-1.5 3-2 3-2 3-3 3-3 3-3 3-2.5 3-2 3-1.5 3-1.5 3-1.5 3-1.5 3-1.5 3-2 3-2 3-1.5 3-2 3-2 3-1.5 3-2.5 3-2 3-2.5 3-3 3-2.5 3-3 3-3 3-2.5 3-3 3-2.5 3-2.5 3-2 3-2.5 3-2 3-2 3-1 3 0 3 1.5 3 2.5 1 1" stroke="#5469ad"/>
<path d="M296 262.5l3 2.5 3 2.5 3 2 3 0.5 3 0 3-1 3-1.5 3-2 3-1.5 3-2 3-1.5 3-1 3-1 3-1 3 0 3 1.5 3 1.5 3 1.5 3 2 3 1.5 3 1.5 3 1 3 0.5 3 0 3 0 3-1 3 0 3-0.5 3-1.5 3-1 3-1.5 3-1 3-1.5 3-2 3-1.5 3-2 3-2.5 3-2 3-2.5 3-2.5 3-2.5 3-3 3-4 3-3.5 3-3 3-2.5 3-2.5 3-2 3-1.5 3-1.5 3-1.5 3-2 3-2 3-2 3-2 3-1.5 3-1.5 3-1.5 3-1 3-1 3-1 3-1 3 0 3-0.5 3 0 3 0.5 3 0.5 3 1.5 3 1.5 3 1 3 1 3 1 3 0.5 3 0 3-0.5 3 0 3 0 3 0 3 0.5 3 0.5 3 0 3 0 3 0 3 0 3 0 3 0.5 3 0 3 0.5 3 0 3 0.5 3 0 3 1 3 1 3 1 3 1.5 3 1.5 3 1 3 1.5 3 1 3 1 3 1.5 3 1 3 1.5 3 1 3 2 3 3 3 2.5 3 3 3 3 3 4.5 3 7 3 7 3 11.5 3 14.5 3 14 3 11 3 10.5 3 9.5 3 7 3 7 3 6.5 3 6 3 6.5 3 6 3 6.5 3 7 3 7.5 3 7.5 3 8.5 3 8.5 3 9 3 9.5 3 10 3 10.5 3 10 3 9.5 3 9.5 3 10 3 9.5 3 10 3 10.5 3 8.5 3 7.5 3 8 3 7.5 3 7.5 3 7 3 6.5 3 2 3 1.5 3 0.5 3 1 3 0.5 3 0 3 0.5 3 0 3 0.5 3 0.5 3 1 3 1 3 1.5 3 2 3 1.5 3 1.5 3 1 3 0.5 3 0 3 0 3-0.5 3-0.5 3-1 3-1 3-1 3-0.5 3 0 3 0.5 3 0.5 3 0.5 3-0.5 3-0.5 3-2 3-2.5 3-3 3-2.5 3-2.5 3-2.5 3-3 3-2.5 3-3 3-3 3-3.5 3-3 3-4 3-4 3-3.5 3-3.5 3-2.5 3-1.5 3-1 3 0 3 0.5 3 0.5 3 0.5 3 0 3-0.5 3-0.5 3-0.5 3-1 3-0.5 3-1.5 3-2 3-3.5 3-4.5 3-5 3-5 3-4 3-3.5 3-3 3-2 3-2 3-2.5 3-2.5 3-2.5 3-2.5 3-2.5 3-2.5 3-2.5 3-2.5 3-2.5 3-3 3-3 3-3 3-3.5 3-3 3-3 3-2 3-2 3-2.5 3-2.5 3-2 3-3 3-2.5 3-2.5 3-2.5 3-2 3-2.5 3-2 3-2.5 3-2 3-2 3-1.5 3-2 3-2 3-1.5 3-1.5 3-1 3-0.5 3-0.5 3-0.5 3-1 3-2 3-2 3-2.5 3-2.5 3-2 3-2 3-1.5 3-1.5 3-2 3-2.5 3-3 3-3 3-3 3-3 3-2 3-2 3-2 3-2 3-1.5 3-2 3-2 3-2 3-2.5 3-2 3-2.5 3-2 3-2 3-2 3-2.5 3-2.5 1-0.5" stroke="#5669ab"/>
<path d="M296 270.5l3-1 3-1 3-0.5 3-1 3-0.5 3-0.5 3-1 3-1 3-1 3-0.5 3-1 3-1 3-1 3-1 3 0 3 0.5 3 0.5 3 1.5 3 1.5 3 1.5 3 1.5 3 1 3 1 3 1 3 1.5 3 1 3 1.5 3 0.5 3-1.5 3-2 3-3 3-3 3-3 3-3 3-2.5 3-1.5 3-1.5 3-1 3-1.5 3-2 3-2.5 3-3 3-4 3-3 3-3.5 3-3 3-3 3-3.5 3-2 3-2 3-2.5 3-1.5 3-2 3-1.5 3-2 3-1.5 3-1.5 3-1.5 3-1.5 3-1.5 3-1.5 3 0 3 0.5 3 0.5 3 1 3 0.5 3 0 3-0.5 3 0 3-0.5 3 0 3 0 3 0.5 3 0.5 3 0.5 3 1 3 0.5 3 1 3 0.5 3 0.5 3 0.5 3 0.5 3 0 3 0.5 3 0.5 3 0.5 3 1 3 1.5 3 1.5 3 1.5 3 1 3 1 3 1 3 0.5 3 0.5 3 0.5 3 0.5 3 1 3 1 3 1 3 1 3 1 3 1 3 1.5 3 2.5 3 3 3 3.5 3 3 3 3 3 4.5 3 6.5 3 7 3 11.5 3 14 3 13 3 10 3 9.5 3 8.5 3 6.5 3 6.5 3 6.5 3 6.5 3 6.5 3 6.5 3 7 3 7 3 7 3 7.5 3 8.5 3 9 3 9 3 10.5 3 10.5 3 10.5 3 10 3 9.5 3 9 3 10 3 10 3 10 3 10 3 8 3 6.5 3 6.5 3 5.5 3 6 3 6 3 6 3 2 3 1 3 1.5 3 1.5 3 1.5 3 1.5 3 1.5 3 1 3 1 3 0.5 3 0.5 3 0.5 3 0.5 3 0.5 3 0.5 3 0.5 3-0.5 3 0 3 0 3 0 3 0.5 3 0 3 0 3 0 3 0 3 0 3 0.5 3 0.5 3 1 3 0.5 3 1 3 0 3-1.5 3-2.5 3-3 3-3 3-2.5 3-2.5 3-2.5 3-2.5 3-3.5 3-4 3-4.5 3-4 3-4 3-4 3-3.5 3-2.5 3-2 3-1.5 3-1.5 3-0.5 3 0 3 0.5 3 0.5 3 0.5 3 1 3 0.5 3 0.5 3 0.5 3 0 3-1 3-2 3-4 3-4.5 3-5 3-4.5 3-4 3-4 3-4 3-4 3-3.5 3-3 3-3.5 3-3 3-2.5 3-3 3-2.5 3-2 3-1.5 3-1.5 3-2 3-2.5 3-3 3-4 3-4.5 3-4 3-3 3-3 3-2 3-2 3-2 3-2 3-1.5 3-1.5 3-1.5 3-1.5 3-1.5 3-1.5 3-1.5 3-1.5 3-1.5 3-1.5 3-2 3-1.5 3-2 3-1.5 3-1.5 3-2 3-2 3-2 3-2.5 3-3 3-2.5 3-3 3-3 3-2.5 3-2 3-2.5 3-1.5 3-2.5 3-2 3-2 3-2 3-2 3-1.5 3-1 3-1 3-0.5 3-0.5 3-1 3-1 3-1.5 3-2.5 3-2.5 3-2.5 3-2.5 3-2.5 3-2 3-1.5 3-2 3-1.5 1 0" stroke="#5869a8"/>
<path d="M296 269l3-0.5 3-0.5 3 0 3 0 3 0.5 3 0 3 0 3-1 3-1.5 3-2 3-2 3-2.5 3-1.5 3-1.5 3 0 3 1 3 1.5 3 2 3 2 3 2 3 1.5 3 1 3 0.5 3 0 3-0.5 3 0 3 0 3-0.5 3-1.5 3-2 3-2 3-2 3-2 3-2 3-2 3-2 3-2 3-2 3-2 3-1.5 3-2 3-3 3-3.5 3-3 3-3.5 3-3 3-3 3-2.5 3-1.5 3-2 3-2 3-2 3-2.5 3-2 3-2 3-1.5 3-1.5 3-1 3-0.5 3-0.5 3-0.5 3 0.5 3 0.5 3 0.5 3 0.5 3 0.5 3 1 3 0.5 3 0 3 0 3-0.5 3 0 3 0 3 0 3 0.5 3 0.5 3 0.5 3 0 3 0.5 3 0.5 3 0.5 3 0.5 3 1 3 1 3 0.5 3 1 3 0.5 3 0.5 3 0.5 3 0 3 0 3 0 3 0.5 3 0.5 3 1.5 3 1.5 3 1 3 1.5 3 1 3 0.5 3 0.5 3 0.5 3 0.5 3 1 3 2.5 3 3 3 3 3 3 3 3.5 3 4.5 3 7 3 7.5 3 12 3 15 3 14 3 11 3 10.5 3 9 3 7 3 6 3 6 3 6 3 6 3 6 3 6.5 3 6.5 3 6.5 3 7 3 8 3 9 3 8.5 3 10.5 3 10.5 3 10.5 3 10 3 9 3 9 3 9.5 3 9.5 3 10 3 10 3 8.5 3 7 3 6 3 6.5 3 6 3 6.5 3 6 3 2 3 1.5 3 1.5 3 1.5 3 1.5 3 1 3 0.5 3 1 3 0.5 3 1 3 0.5 3 0.5 3 0.5 3 0 3 0 3 0 3-0.5 3 0 3 0.5 3 1 3 1 3 1 3 0.5 3 0 3-1 3-1 3-1.5 3-1 3-0.5 3 0.5 3 0.5 3 0.5 3-0.5 3-2 3-2 3-2.5 3-3 3-3.5 3-3 3-3 3-2.5 3-2.5 3-2.5 3-3 3-3.5 3-4 3-3.5 3-2.5 3-2 3-1 3-0.5 3 0 3 0 3 0 3-0.5 3-1.5 3-1 3-1 3-1 3 0 3-0.5 3-0.5 3-2 3-3.5 3-4.5 3-5 3-4.5 3-4.5 3-3.5 3-3 3-2.5 3-3 3-3 3-3 3-3.5 3-2.5 3-2.5 3-2 3-2 3-2 3-2 3-2.5 3-2.5 3-2.5 3-2.5 3-3 3-3 3-2.5 3-2 3-1.5 3-2 3-2.5 3-2.5 3-3 3-2.5 3-2.5 3-1.5 3-2 3-1 3-0.5 3-0.5 3-0.5 3-0.5 3-1.5 3-2.5 3-2.5 3-3 3-3 3-3 3-2.5 3-2.5 3-1.5 3-2 3-1 3-1.5 3-1 3-1.5 3-1.5 3-1.5 3-2 3-2 3-2 3-2.5 3-2.5 3-2.5 3-2.5 3-2 3-2 3-1.5 3-2 3-2 3-2.5 3-2 3-2.5 3-2 3-2.5 3-2 3-2.5 3-2 3-2.5 3-3 3-2.5 1-0.5" stroke="#5a68a6"/>
<path d="M296 272.5l3-1 3-0.5 3-1 3-1 3-0.5 3-0.5 3-0.5 3-0.5 3-0.5 3-0.5 3-0.5 3-1 3-1 3-1 3-1 3 0.5 3 0 3 0.5 3 0.5 3 0.5 3 0 3 0.5 3-0.5 3 0 3 0.5 3 0 3 1 3 1 3-1 3-1 3-1 3-1.5 3-1.5 3-2.5 3-2.5 3-2.5 3-2.5 3-2.5 3-2 3-1 3-1 3-2 3-2.5 3-3 3-3 3-3 3-2.5 3-2.5 3-1.5 3-1 3-2 3-1.5 3-2.5 3-2.5 3-2.5 3-2 3-2.5 3-2 3-2 3-1.5 3-1.5 3-0.5 3 0 3 0.5 3 1 3 1 3 1.5 3 0.5 3 0.5 3 0 3-0.5 3-0.5 3-0.5 3 0 3-0.5 3 0.5 3 0.5 3 0.5 3 1 3 0.5 3 0.5 3 0.5 3 0 3 0 3 0 3 0 3 0.5 3 0 3 0.5 3 0.5 3 1 3 1.5 3 1.5 3 1.5 3 1 3 1.5 3 1 3 1.5 3 1.5 3 1.5 3 1.5 3 1 3 1 3 1 3 2 3 2.5 3 3 3 3 3 3 3 5.5 3 7.5 3 8.5 3 12 3 14 3 13 3 10 3 9 3 8 3 5.5 3 6 3 6 3 7 3 7 3 7.5 3 7.5 3 8 3 7.5 3 7.5 3 8.5 3 8 3 8.5 3 9.5 3 10 3 10.5 3 10 3 9 3 9 3 9 3 8.5 3 8.5 3 8.5 3 6.5 3 6 3 5.5 3 5.5 3 5.5 3 6.5 3 5.5 3 2 3 1.5 3 1.5 3 1.5 3 1 3 1 3 1 3 1.5 3 1 3 1.5 3 1.5 3 1 3 1 3 1 3 1.5 3 1.5 3 1.5 3 1 3 1.5 3 1 3 0.5 3 0 3-0.5 3-1.5 3-1.5 3-1.5 3-1 3-0.5 3-0.5 3-0.5 3-0.5 3-1 3-2.5 3-3 3-3 3-2.5 3-1.5 3-1.5 3-1.5 3-1.5 3-2.5 3-3 3-4 3-4 3-4 3-4 3-3 3-2.5 3-1.5 3-1.5 3-1 3-1 3-0.5 3-1 3-0.5 3-0.5 3 0 3 0.5 3 0.5 3 0.5 3 0 3-1 3-2 3-3.5 3-4.5 3-4.5 3-4 3-4 3-3.5 3-3 3-2.5 3-2.5 3-2.5 3-3 3-2.5 3-3 3-3 3-3 3-2.5 3-3 3-2.5 3-3 3-2.5 3-2.5 3-2.5 3-3 3-2 3-1.5 3-1.5 3-1 3-1 3-1.5 3-1.5 3-2.5 3-2.5 3-2.5 3-3.5 3-3.5 3-3 3-3 3-2 3-2 3-1.5 3-2 3-1.5 3-2 3-2 3-2 3-1.5 3-1 3-0.5 3-1 3-1 3-1.5 3-2.5 3-2.5 3-2.5 3-3 3-3 3-3 3-2.5 3-2.5 3-1.5 3-1.5 3-1.5 3-1 3-1 3-1.5 3-1.5 3-1.5 3-2 3-2 3-2 3-2.5 3-2 3-2.5 3-2.5 3-2.5 3-2.5 3-2 3-1.5 3-0.5 1 0" stroke="#5c68a3"/>
<path d="M296 273l3 0.5 3 0.5 3-0.5 3-0.5 3-1 3-1.5 3-1.5 3-1.5 3-2 3-1.5 3-1.5 3-0.5 3-0.5 3-0.5 3 0.5 3 1 3 1 3 1 3 0.5 3 0 3 0 3 0.5 3 0.5 3 1 3 1 3 1 3 1 3 0 3-1.5 3-2 3-1.5 3-1 3-1 3-0.5 3-0.5 3-1 3-1 3-1 3-2 3-2.5 3-2.5 3-4 3-4 3-4 3-3.5 3-4 3-4.5 3-4 3-3 3-2 3-2 3-1.5 3-1 3-1.5 3-1 3-1.5 3-1.5 3-1.5 3-1.5 3-1 3-1 3 0 3 0.5 3 0.5 3 0.5 3 0.5 3 0.5 3 0.5 3 0.5 3 0.5 3 0.5 3 0 3 0 3-0.5 3 0 3 0.5 3 0 3 0 3 0.5 3 0.5 3 1 3 1 3 1 3 1 3 0.5 3 0 3-0.5 3-0.5 3-0.5 3-0.5 3 0 3 0.5 3 1 3 2 3 2 3 2.5 3 2 3 2 3 1.5 3 1 3 0 3 0 3 0.5 3 0 3 2 3 2.5 3 3 3 2.5 3 3 3 4 3 6 3 6.5 3 11.5 3 14 3 13.5 3 11 3 10 3 8.5 3 6 3 6 3 6 3 6.5 3 7.5 3 8 3 8.5 3 8.5 3 8 3 8 3 8 3 7.5 3 7.5 3 8 3 8.5 3 9 3 9.5 3 9 3 9 3 8.5 3 8.5 3 8.5 3 8 3 6.5 3 6.5 3 6.5 3 6.5 3 7 3 6.5 3 5.5 3 2 3 1 3 1 3 1.5 3 1.5 3 1 3 1 3 1 3 1 3 1 3 1.5 3 1.5 3 2 3 2 3 1.5 3 1 3 0 3-0.5 3-0.5 3-1 3 0 3-0.5 3 0 3 0 3 0 3 0 3 0 3 0.5 3 0 3-0.5 3-1 3-1 3-2.5 3-2.5 3-2.5 3-2.5 3-2 3-2 3-2.5 3-2.5 3-2.5 3-2.5 3-3.5 3-4.5 3-4.5 3-5 3-4 3-3 3-1.5 3-1 3 0.5 3 0.5 3 1 3 1 3 1 3 0.5 3 0 3-0.5 3-0.5 3-0.5 3-1 3-1 3-2 3-3.5 3-4 3-4.5 3-4.5 3-4.5 3-4 3-4 3-3.5 3-3.5 3-3 3-2.5 3-2.5 3-2 3-2.5 3-3 3-2.5 3-3 3-2.5 3-2.5 3-2.5 3-2 3-2 3-2.5 3-3 3-2 3-3 3-2 3-2.5 3-1.5 3-2 3-1.5 3-1.5 3-1.5 3-2 3-2.5 3-2.5 3-3 3-3 3-3 3-2 3-1.5 3-1.5 3-1 3-0.5 3-0.5 3-0.5 3-0.5 3-1 3-2 3-2 3-2.5 3-2 3-2.5 3-2 3-2 3-2 3-2.5 3-2 3-1.5 3-2 3-2 3-2 3-2 3-2 3-2 3-2 3-1.5 3-2 3-2 3-2.5 3-2.5 3-3 3-2.5 3-3 3-2.5 3-2.5 3-2.5 3-2 3-2.5 1 0" stroke="#5e68a0"/>
<path d="M296 280l3-2.5 3-2.5 3-2.5 3-2 3-1.5 3-1.5 3-1 3-0.5 3-1 3 0 3 0 3 0.5 3 0 3 0.5 3 0.5 3 0.5 3 0.5 3 0.5 3 0 3 0.5 3 0 3 0 3-0.5 3-1 3-0.5 3 0 3 0 3 0.5 3-1 3-1.5 3-2 3-1 3-1.5 3-1 3-1.5 3-1 3-1 3-1 3-1 3-1 3-1.5 3-2.5 3-3 3-4 3-3.5 3-4 3-4 3-3.5 3-2.5 3-2.5 3-2.5 3-2 3-1.5 3-1.5 3-1 3-1 3-1.5 3-2 3-2 3-2 3-2 3 0 3 0.5 3 0.5 3 1 3 0 3 0 3 0 3 0 3 0 3 0 3 0 3 0 3 0.5 3 0.5 3 0.5 3 0.5 3 0.5 3 0 3-0.5 3 0 3 0 3 0.5 3 1.5 3 2 3 2 3 2 3 1.5 3 1 3 0.5 3 0.5 3 0 3 0 3 0.5 3 1 3 0.5 3 1 3 0.5 3 0.5 3 0.5 3 1.5 3 1.5 3 2 3 2.5 3 3.5 3 3.5 3 2.5 3 2.5 3 1.5 3 3 3 4.5 3 5.5 3 11 3 14 3 14 3 12 3 11 3 9.5 3 6.5 3 6.5 3 6 3 6.5 3 6.5 3 6.5 3 7 3 7.5 3 7 3 7 3 7.5 3 7.5 3 7.5 3 9 3 9 3 9.5 3 9 3 8 3 7.5 3 8.5 3 8.5 3 9 3 8.5 3 7.5 3 5.5 3 5.5 3 5.5 3 5 3 5 3 4.5 3 1.5 3 1.5 3 1.5 3 1.5 3 2 3 2.5 3 2 3 2.5 3 2 3 1.5 3 1.5 3 1 3 0.5 3 0.5 3 0 3-0.5 3-0.5 3 0 3 0.5 3 1 3 1.5 3 1 3 0.5 3 0 3-0.5 3-0.5 3-1 3-0.5 3-1 3-1 3-0.5 3 0 3-1 3-1.5 3-2 3-1.5 3-1.5 3-2 3-2 3-2.5 3-3 3-3.5 3-4 3-4 3-5 3-5 3-4 3-2.5 3-1.5 3-0.5 3 0.5 3 0.5 3 0.5 3-0.5 3-1 3-1 3-0.5 3 0 3 0.5 3 0.5 3 0 3-1 3-2 3-3.5 3-4.5 3-5 3-4.5 3-3.5 3-3.5 3-3 3-3 3-3 3-3.5 3-3 3-3 3-2.5 3-1.5 3-2 3-1.5 3-2.5 3-2.5 3-3 3-3.5 3-3 3-3 3-2.5 3-2 3-1 3-1.5 3-1.5 3-2.5 3-2.5 3-3.5 3-3 3-2.5 3-2 3-2 3-2 3-2 3-1.5 3-1.5 3-1.5 3-1 3-1.5 3-1.5 3-1.5 3-2 3-2 3-1.5 3-1.5 3-1 3-1 3-1.5 3-1 3-2 3-1.5 3-2.5 3-2.5 3-2 3-2.5 3-2 3-1.5 3-2 3-2 3-2 3-2 3-2 3-1.5 3-1.5 3-1 3-1.5 3-1.5 3-1.5 3-2 3-2.5 3-2.5 3-2.5 3-3 3-2.5 3-2 3-2 3-1.5 1 0" stroke="#60689e"/>
<path d="M296 270.5l3 0.5 3 0.5 3 0.5 3 0 3-0.5 3 0 3-1 3-0.5 3-1 3-0.5 3-1 3-0.5 3-0.5 3-0.5 3 0 3 1 3 0.5 3 0 3-0.5 3-1 3-0.5 3-1 3 0 3 0 3 0.5 3 0.5 3 0 3 0.5 3-1.5 3-1.5 3-1.5 3-1 3-1 3-1 3-1 3-1 3-0.5 3-1 3-1 3-1.5 3-2 3-2.5 3-3.5 3-3.5 3-3 3-3.5 3-3.5 3-3 3-2 3-1.5 3-1.5 3-2 3-2 3-2 3-2 3-1.5 3-1.5 3-1.5 3-1 3-1.5 3-0.5 3 1 3 1 3 1 3 0 3 0 3-1 3-0.5 3-0.5 3-0.5 3 0 3 0 3 0.5 3 0 3 1 3 1 3 0.5 3 1 3 0 3 0.5 3 0 3 0.5 3 0.5 3 0.5 3 0.5 3 0 3 0.5 3 0 3 0 3-0.5 3 0 3 0 3 0.5 3 1 3 1 3 1 3 1.5 3 1.5 3 1.5 3 1 3 1 3 1 3 0.5 3 1 3 2 3 2.5 3 2.5 3 3 3 3 3 5 3 7 3 7 3 11 3 13.5 3 12.5 3 10.5 3 10.5 3 9.5 3 6.5 3 6.5 3 6 3 5.5 3 6 3 7 3 7.5 3 8 3 8 3 8 3 8.5 3 8.5 3 8.5 3 8.5 3 9.5 3 9 3 8.5 3 7 3 7.5 3 7.5 3 8 3 7.5 3 8 3 6.5 3 6 3 6 3 6 3 6 3 5.5 3 5 3 2 3 1 3 1 3 1 3 1.5 3 1 3 1.5 3 1 3 1 3 0.5 3 0.5 3 0.5 3 1 3 1.5 3 2 3 2 3 1 3 0.5 3 0.5 3 0.5 3 0 3 0 3-0.5 3 0 3 0 3 0 3 0 3-0.5 3 0 3-0.5 3 0 3-0.5 3-2 3-2.5 3-2.5 3-2.5 3-2.5 3-3 3-3 3-3 3-3 3-3.5 3-3.5 3-3 3-3.5 3-3.5 3-3 3-2 3-2 3-1.5 3-1.5 3-1 3-1 3-0.5 3-0.5 3-0.5 3 0 3 0.5 3 0.5 3 0.5 3 0 3 0 3-1.5 3-2.5 3-4.5 3-4 3-4.5 3-4 3-4 3-3.5 3-3 3-3.5 3-3 3-3 3-2.5 3-3 3-2.5 3-2.5 3-2 3-2.5 3-2 3-2 3-2 3-2 3-2 3-1.5 3-2 3-2 3-2 3-2.5 3-3 3-3 3-3 3-2.5 3-2 3-1.5 3-2 3-1.5 3-2 3-2 3-2 3-1.5 3-1 3-1.5 3-1 3-1.5 3-2 3-2 3-2 3-2 3-2 3-2 3-1.5 3-1.5 3-2 3-2 3-2 3-2 3-1.5 3-2 3-2 3-2.5 3-2.5 3-2.5 3-2 3-2.5 3-1.5 3-1 3-1 3-1 3-1 3-1 3-1.5 3-2 3-2.5 3-2 3-2 3-2 3-1.5 3-1.5 3-1.5 3-1.5 1 0" stroke="#62689b"/>
<path d="M296 283l3-5 3-4 3-3.5 3-2 3-1 3-0.5 3 0 3-0.5 3 0 3-0.5 3 0 3-0.5 3-0.5 3-0.5 3 0.5 3 1 3 1.5 3 1 3 0.5 3 0 3 0 3 0 3-0.5 3 0 3 0 3 0 3 0.5 3-0.5 3-2 3-2 3-2 3-1.5 3-1 3-1 3-1 3-1 3-2 3-2 3-1.5 3-1.5 3-1 3-2 3-2 3-3 3-3 3-3 3-4 3-3.5 3-3 3-2.5 3-2.5 3-2 3-1.5 3-1.5 3-1.5 3-2 3-2 3-1.5 3-2 3-1 3-1 3 0.5 3 1 3 1 3 0.5 3 0.5 3 0 3-0.5 3-0.5 3-0.5 3-1.5 3-1 3-1 3-0.5 3 0.5 3 0.5 3 1.5 3 1 3 1.5 3 1 3 1.5 3 0.5 3 1 3 1 3 0.5 3 1 3 1 3 1 3 0.5 3 0.5 3 0 3 0 3 0 3 0 3 0 3 1 3 1 3 1 3 1 3 0.5 3 0.5 3 0.5 3 1 3 1.5 3 3 3 4 3 4 3 4 3 3.5 3 4.5 3 6 3 6 3 10.5 3 13 3 13 3 11 3 10 3 8 3 6 3 5.5 3 5 3 6 3 5.5 3 6.5 3 7 3 7.5 3 7.5 3 8 3 9.5 3 9.5 3 9.5 3 10 3 9.5 3 9 3 8.5 3 7 3 7 3 7.5 3 7.5 3 8 3 7.5 3 6 3 5 3 5 3 5 3 5.5 3 5.5 3 5.5 3 3 3 2 3 2.5 3 2 3 2 3 1 3 1 3 0 3 0.5 3 0.5 3 0.5 3 1.5 3 1 3 1.5 3 1 3 1 3 0 3 0 3 0 3 0.5 3 0.5 3 0.5 3 0 3-0.5 3-1 3-2 3-1.5 3-1.5 3-0.5 3 0.5 3 1 3 1 3-0.5 3-1.5 3-2 3-2.5 3-3 3-2.5 3-3 3-3 3-2.5 3-3 3-3.5 3-3.5 3-3.5 3-3.5 3-3 3-1.5 3-1.5 3-1 3-0.5 3 0 3 0 3 0 3 0 3 0.5 3 0 3 0.5 3 0 3 0 3-0.5 3-2 3-3 3-4.5 3-5 3-5 3-3.5 3-3 3-3 3-2.5 3-2.5 3-2.5 3-2.5 3-2 3-2.5 3-3 3-3 3-3 3-3 3-2.5 3-2.5 3-2.5 3-3 3-3 3-4 3-4 3-3.5 3-2.5 3-2 3-1 3-0.5 3-1 3-2 3-2 3-2.5 3-2.5 3-2.5 3-1.5 3-2 3-1 3-2 3-1.5 3-2 3-1.5 3-1.5 3-1 3 0 3-0.5 3-0.5 3-1.5 3-2 3-3 3-3 3-2.5 3-2.5 3-2.5 3-1.5 3-1.5 3-1.5 3-1.5 3-2 3-2 3-2.5 3-2 3-2 3-1 3-1 3-1.5 3-1 3-2 3-2 3-2 3-2.5 3-2.5 3-2 3-2 3-1.5 3-1.5 3-1 3-0.5 3-0.5 3 0.5 1 0" stroke="#646799"/>
<path d="M296 273l3 0.5 3 0 3-1 3-1 3-1 3-1.5 3-0.5 3-0.5 3 0 3 0 3-0.5 3-0.5 3-1 3-1 3-1 3 0 3 0.5 3 0.5 3 1 3 1.5 3 1 3 1.5 3 1 3 0.5 3 0.5 3 0.5 3 0 3-0.5 3-2 3-2 3-1.5 3-1.5 3-1.5 3-1.5 3-1.5 3-2 3-2 3-2 3-2 3-2.5 3-3 3-4 3-4 3-4 3-3.5 3-3.5 3-2.5 3-2.5 3-0.5 3 0 3 0 3-0.5 3-0.5 3-0.5 3-1 3-1 3-1 3-1 3-1 3-1 3-1 3 0 3 0 3-0.5 3-0.5 3-1 3-1 3-0.5 3-1 3-0.5 3 0 3 0 3-0.5 3-0.5 3 0 3 0.5 3 0.5 3 1 3 0.5 3 1 3 1 3 0.5 3 1 3 1 3 1 3 1 3 0.5 3 0.5 3 0.5 3 0.5 3 0.5 3 0.5 3 0 3 0.5 3 0 3 0 3 0.5 3 1 3 0.5 3 1 3 1.5 3 2 3 2 3 2 3 2.5 3 3 3 2.5 3 2.5 3 3 3 3.5 3 5.5 3 6 3 10 3 12.5 3 13 3 10.5 3 11 3 9 3 7 3 6.5 3 7 3 6.5 3 6.5 3 7 3 7 3 7 3 6.5 3 6.5 3 7.5 3 7.5 3 8 3 8.5 3 9 3 9.5 3 9 3 7.5 3 8 3 7.5 3 7.5 3 7.5 3 7 3 6.5 3 5 3 5.5 3 5.5 3 6 3 6 3 5 3 1.5 3 0.5 3 0.5 3 0.5 3 0.5 3 0.5 3 0.5 3 1 3 1.5 3 1 3 1.5 3 2 3 2 3 2 3 2 3 2 3 1 3 0.5 3 0.5 3 0.5 3-0.5 3-0.5 3-0.5 3-1 3-1 3-1 3-0.5 3-0.5 3 0 3-0.5 3 0 3-0.5 3-1.5 3-2.5 3-2.5 3-3 3-2.5 3-3 3-3 3-2.5 3-2.5 3-2.5 3-3 3-3 3-3 3-3.5 3-2.5 3-2 3-1.5 3-0.5 3-0.5 3 0 3-0.5 3-1 3-1 3-1 3-1 3-0.5 3 0 3 0 3 0 3 0 3-1 3-2 3-3.5 3-3.5 3-4.5 3-4 3-3.5 3-3.5 3-3 3-2.5 3-2.5 3-2 3-2.5 3-3 3-3 3-3 3-3 3-2.5 3-2.5 3-2.5 3-3 3-2.5 3-2.5 3-3 3-3 3-2 3-2.5 3-2 3-2 3-2 3-2 3-1 3-1 3-1 3-1 3-1.5 3-1.5 3-2 3-2.5 3-2.5 3-2.5 3-2 3-2 3-1.5 3-1 3-1 3-1 3-1.5 3-1 3-1.5 3-2 3-1.5 3-2 3-2 3-2 3-2.5 3-2 3-2 3-2.5 3-2 3-2 3-2 3-2 3-1 3-1.5 3-1 3-1 3-1 3-2 3-2.5 3-2.5 3-2.5 3-2.5 3-2.5 3-2 3-1.5 3-1.5 3-1.5 3-2.5 3-2 1-0.5" stroke="#666796"/>
<path d="M296 284.5l3-2.5 3-3 3-2 3-2 3-1.5 3-1.5 3-0.5 3-0.5 3-0.5 3 0 3-0.5 3-0.5 3-0.5 3-1 3 0 3 0 3 0.5 3 0.5 3 0.5 3 0 3 0.5 3 0.5 3 0.5 3 0.5 3 1 3 1 3 1 3 0.5 3-1.5 3-1.5 3-2 3-2 3-2 3-2 3-2.5 3-2 3-2.5 3-2.5 3-2.5 3-2 3-2.5 3-2.5 3-3 3-3 3-3 3-3 3-3.5 3-3 3-2 3-1.5 3-1 3-1.5 3-1 3-1 3-1.5 3-1 3-1.5 3-1.5 3-1.5 3-1.5 3-1 3-0.5 3 0.5 3 0 3 0.5 3 0 3-0.5 3-1 3-1 3-1 3-1 3 0 3 0 3 0.5 3 1 3 1.5 3 1.5 3 1 3 1.5 3 1 3 1 3 1 3 1 3 0.5 3 0.5 3 0.5 3 0.5 3 1 3 1 3 0.5 3 0.5 3 0 3 0 3 0 3 0 3 0.5 3 1 3 2 3 1.5 3 1.5 3 1 3 1 3 0.5 3 0.5 3 1.5 3 2 3 2.5 3 2.5 3 2.5 3 4 3 5.5 3 6.5 3 10.5 3 13 3 12.5 3 10.5 3 10 3 8 3 6.5 3 6.5 3 6.5 3 7 3 6.5 3 6.5 3 6.5 3 6.5 3 7 3 7 3 8.5 3 8 3 8.5 3 9 3 9 3 9.5 3 8 3 7.5 3 7 3 6.5 3 7 3 7 3 7 3 6.5 3 5.5 3 6 3 6 3 5.5 3 5.5 3 4.5 3 2 3 1 3 1.5 3 1 3 1.5 3 1 3 1 3 0.5 3 0 3 0.5 3 0.5 3 1 3 1.5 3 1.5 3 2.5 3 1.5 3 0.5 3 0 3 0 3 0 3 0 3 0 3-0.5 3-0.5 3-0.5 3-1 3-0.5 3-0.5 3-0.5 3 0 3-0.5 3-0.5 3-1.5 3-2 3-2 3-1.5 3-1.5 3-1.5 3-1.5 3-2 3-2.5 3-3 3-3.5 3-4 3-4.5 3-4 3-3.5 3-2.5 3-2 3-1 3-0.5 3 0 3 0.5 3 0.5 3 0 3 0.5 3 0 3 0 3 0.5 3-0.5 3 0 3-1 3-2 3-3 3-4 3-4 3-4.5 3-4 3-4 3-3 3-2.5 3-2 3-2 3-2 3-1.5 3-2.5 3-2.5 3-3.5 3-3 3-3.5 3-3 3-3 3-2 3-2 3-2 3-2 3-2 3-2 3-2 3-2 3-2 3-2 3-2 3-1.5 3-2 3-2 3-2 3-2 3-2 3-1.5 3-1.5 3-1.5 3-1.5 3-2 3-2.5 3-2.5 3-2.5 3-2 3-2 3-1.5 3-1 3-1.5 3-1 3-1.5 3-2 3-1.5 3-2.5 3-2 3-2.5 3-2.5 3-2.5 3-2.5 3-1.5 3-1.5 3-1 3-1.5 3-1 3-1.5 3-2 3-1.5 3-2 3-1 3-1.5 3-1 3-1 3-1.5 3-1.5 3-1.5 3-1.5 3-0.5 3-0.5 3 0 1 0.5" stroke="#6a6791"/>
<path d="M296 277.5l3-3 3-3 3-2 3-1.5 3-1 3-0.5 3 0 3 0 3 0 3 0 3-0.5 3 0 3-0.5 3-0.5 3 0 3 0.5 3 1 3 0.5 3 1 3 1 3 0.5 3 0 3 0 3-0.5 3-1 3 0 3 0 3 0 3-1 3-1 3-1 3-0.5 3-1 3-0.5 3-1.5 3-1 3-1.5 3-2 3-2 3-3 3-2.5 3-4 3-4.5 3-4 3-3.5 3-3 3-3 3-2 3-1.5 3-0.5 3-1 3-0.5 3-0.5 3-0.5 3-0.5 3-1 3-1 3-2 3-2.5 3-3 3-3 3-2 3-1 3-0.5 3 0.5 3 0.5 3 1 3 1 3 0.5 3 0.5 3 0 3 0 3 0 3 0 3 0.5 3 1 3 0.5 3 0.5 3 0.5 3 0 3 0.5 3 1 3 1 3 0.5 3 1 3 0 3 0.5 3 0 3 0.5 3 0.5 3 1 3 0.5 3 1 3 0.5 3 0.5 3 0 3 1 3 1 3 1.5 3 1.5 3 1.5 3 1.5 3 0.5 3 0.5 3 2 3 2.5 3 3 3 3.5 3 4 3 4.5 3 6 3 6 3 10 3 12 3 11.5 3 10 3 10 3 7.5 3 6.5 3 5.5 3 6 3 6 3 6.5 3 6.5 3 7 3 7.5 3 8 3 7.5 3 9 3 8.5 3 8.5 3 9.5 3 9 3 9.5 3 8.5 3 6.5 3 6 3 6.5 3 6.5 3 7 3 6.5 3 5.5 3 4.5 3 4 3 4 3 3.5 3 4 3 3 3 1.5 3 1 3 2 3 2.5 3 2.5 3 3 3 2 3 2 3 2 3 1 3 1 3 1 3 0.5 3 0 3 0.5 3-0.5 3-0.5 3-0.5 3-0.5 3 0 3 0.5 3 0.5 3 0.5 3 1 3 1 3 1 3 1 3 0.5 3 0.5 3 0.5 3 0 3 0 3-1.5 3-2.5 3-2.5 3-3 3-2.5 3-3 3-2.5 3-3 3-2.5 3-2 3-3 3-3 3-4 3-4.5 3-4 3-3 3-2.5 3-1 3 0 3 1 3 1 3 1 3 0.5 3 0 3-0.5 3-0.5 3-1 3-0.5 3-1 3-1.5 3-1.5 3-3 3-4 3-4 3-4 3-4 3-3.5 3-3 3-3 3-2.5 3-2.5 3-2 3-2 3-2.5 3-2 3-2.5 3-2 3-2 3-2 3-2.5 3-3 3-3.5 3-3.5 3-3 3-2.5 3-1.5 3-1 3-1 3-1 3-1.5 3-2.5 3-2.5 3-2 3-2 3-2 3-1.5 3-2 3-1.5 3-2 3-1 3-1.5 3-1 3-1.5 3-1.5 3-1.5 3-2 3-2 3-2.5 3-2 3-2 3-2 3-1.5 3-1.5 3-2 3-2 3-2 3-2 3-2.5 3-2 3-2 3-1.5 3-1.5 3-1.5 3-2 3-2 3-2.5 3-2.5 3-2.5 3-1.5 3-1.5 3-1.5 3-1.5 3-2 3-1.5 3-2 3-1.5 3-1 3-0.5 3 0 3 0.5 1 0.5" stroke="#6e668c"/>
<path d="M296 271l3 0.5 3 0 3 0 3 0.5 3 0 3-0.5 3 0 3-0.5 3-1 3-1.5 3-1.5 3-1.5 3-1.5 3-1.5 3-0.5 3 1 3 0.5 3 1 3 1 3 1 3 1 3 1 3 0.5 3 1 3 1 3 1 3 1 3 1 3-0.5 3-1 3-2 3-1.5 3-2 3-2.5 3-2 3-2.5 3-2 3-2 3-1.5 3-2 3-2 3-3.5 3-4.5 3-4 3-3.5 3-3 3-3 3-2 3-1.5 3-1 3-1.5 3-1.5 3-1 3-1 3-1 3-1 3-0.5 3-0.5 3-1 3-1.5 3-1.5 3-1 3-0.5 3-0.5 3-0.5 3 0.5 3 0 3 0 3-0.5 3-0.5 3-1 3-0.5 3 0 3 0 3 1 3 1 3 1 3 1 3 0.5 3 0.5 3 0 3 0 3 0 3-0.5 3 0.5 3 0.5 3 1.5 3 1.5 3 1.5 3 1.5 3 1 3 0.5 3 1 3 0.5 3 0.5 3 0.5 3 1 3 0.5 3 0.5 3 0.5 3 0.5 3 1 3 1 3 1.5 3 2 3 3 3 3.5 3 3 3 3 3 3.5 3 5 3 5 3 9.5 3 12 3 11.5 3 11 3 10.5 3 8.5 3 6 3 6 3 6 3 6 3 6 3 6.5 3 6.5 3 7.5 3 7 3 8 3 9 3 8.5 3 9 3 9 3 9.5 3 9.5 3 8.5 3 7 3 6.5 3 6.5 3 6.5 3 6 3 5.5 3 4.5 3 4 3 4 3 4.5 3 4 3 4.5 3 3.5 3 1.5 3 0 3 1 3 0.5 3 1.5 3 2 3 2 3 2.5 3 2 3 2 3 2 3 1.5 3 1.5 3 1.5 3 1.5 3 1.5 3 0 3-0.5 3-0.5 3-0.5 3 0 3 0 3 0 3-0.5 3 0 3-0.5 3 0 3 0 3 0.5 3 0 3 0.5 3 0 3-1 3-2 3-2 3-2 3-2 3-2.5 3-2.5 3-3 3-3 3-3.5 3-3.5 3-3.5 3-3.5 3-3.5 3-3 3-2.5 3-1.5 3-1 3 0 3 0 3 1 3 0.5 3 0 3 0 3 0 3 0 3 0.5 3 0.5 3 0.5 3 0 3-1.5 3-3 3-4 3-4.5 3-4.5 3-4 3-4 3-3.5 3-3 3-2.5 3-2 3-2 3-2.5 3-2.5 3-2 3-2.5 3-2.5 3-2.5 3-2.5 3-3 3-3 3-3 3-3.5 3-3 3-2.5 3-2 3-2 3-2 3-2 3-2 3-2 3-2 3-2 3-2 3-2.5 3-2.5 3-2 3-1.5 3-1.5 3-1 3-1 3-1 3-1.5 3-1 3-1.5 3-1.5 3-2 3-2 3-2.5 3-2.5 3-2 3-1.5 3-1.5 3-2 3-1.5 3-1.5 3-1.5 3-1.5 3-1 3-1 3-1 3-1 3-2 3-2 3-2.5 3-2.5 3-2.5 3-2 3-2 3-2 3-2 3-2 3-2.5 3-3 3-2 3-1.5 3 0 3 0.5 3 1 3 1.5 1 1" stroke="#716687"/>
<path d="M296 277.5l3-0.5 3-0.5 3-1 3-0.5 3-0.5 3-0.5 3-0.5 3-0.5 3-1 3-0.5 3-0.5 3-0.5 3 0 3-0.5 3-0.5 3 0 3-0.5 3-1 3-1 3-0.5 3-0.5 3 0.5 3 1 3 1.5 3 1 3 1.5 3 1.5 3 1.5 3-0.5 3-1 3-0.5 3-1.5 3-1.5 3-1.5 3-1.5 3-2 3-2.5 3-2 3-2.5 3-2 3-2 3-2.5 3-3 3-2.5 3-3 3-3 3-3.5 3-3.5 3-2.5 3-2 3-2 3-1.5 3-1.5 3-1 3-1 3-1 3-1 3-1.5 3-1.5 3-1.5 3-1.5 3-0.5 3 0.5 3 0 3 0 3-0.5 3-0.5 3-1 3-0.5 3 0 3 0.5 3 0.5 3 0.5 3 1 3 1.5 3 1 3 1.5 3 1 3 1 3 0.5 3 0.5 3-0.5 3 0 3-0.5 3-0.5 3 0 3 0.5 3 1 3 0.5 3 1 3 0 3 0 3-0.5 3-0.5 3 0 3 0.5 3 1.5 3 1.5 3 2 3 1.5 3 1.5 3 0.5 3 0.5 3 1 3 1.5 3 2.5 3 2.5 3 3 3 2.5 3 3.5 3 5 3 5 3 9.5 3 11.5 3 11 3 10.5 3 11 3 8.5 3 7.5 3 7 3 6.5 3 6.5 3 6 3 6 3 7 3 7 3 7.5 3 8 3 9 3 9.5 3 9 3 9 3 8.5 3 8.5 3 7.5 3 6 3 5.5 3 5.5 3 6 3 5.5 3 6 3 5 3 4.5 3 4.5 3 4.5 3 4.5 3 4 3 4 3 2 3 1 3 2 3 1.5 3 1.5 3 1.5 3 1.5 3 1.5 3 1.5 3 1.5 3 1.5 3 1.5 3 1.5 3 1.5 3 1 3 0.5 3 0.5 3 0 3 0.5 3 0.5 3 0.5 3 0.5 3 0 3 0 3-0.5 3-0.5 3-0.5 3-0.5 3-0.5 3-0.5 3 0 3 0 3-1 3-2 3-2.5 3-3 3-3 3-3 3-2.5 3-2 3-1.5 3-2.5 3-2.5 3-3.5 3-3.5 3-4 3-3 3-2.5 3-2 3-1 3-0.5 3 0 3-0.5 3-0.5 3-1 3-1.5 3-1.5 3-1 3-0.5 3 0.5 3 0.5 3 0.5 3 0 3-1.5 3-2.5 3-3.5 3-3.5 3-3.5 3-3.5 3-3.5 3-3 3-2.5 3-2.5 3-2.5 3-2.5 3-2.5 3-3 3-3 3-3 3-3 3-2.5 3-2.5 3-2.5 3-2 3-2 3-2.5 3-2 3-2 3-2 3-2.5 3-3 3-3 3-3 3-2.5 3-2 3-1.5 3-1.5 3-1.5 3-1 3-1.5 3-1 3-1 3-1 3-0.5 3-0.5 3-0.5 3 0 3-1 3-1 3-1 3-1.5 3-2.5 3-2 3-3 3-2.5 3-3 3-2.5 3-2 3-2 3-1.5 3-2 3-2 3-2 3-1.5 3-1.5 3-1.5 3-2 3-1.5 3-2 3-2 3-1.5 3-1.5 3-1 3-1.5 3-1 3-1.5 3-2.5 3-2.5 3-2.5 3-3 3-3 3-3 1-1" stroke="#756582"/>
<path d="M296 275l3 1 3 1 3 1 3 0 3 0 3-0.5 3-0.5 3-1 3-0.5 3-1 3-0.5 3-1 3-0.5 3-0.5 3 0.5 3 1 3 1 3 0.5 3 0.5 3 0 3 0 3-0.5 3-0.5 3-1 3 0 3-0.5 3 0.5 3 1 3-0.5 3-1 3-0.5 3-1 3-1.5 3-2 3-2.5 3-2 3-2.5 3-2 3-1 3-1 3-1.5 3-2 3-3 3-3 3-3.5 3-3.5 3-3.5 3-3 3-2.5 3-2 3-2 3-1.5 3-1.5 3-0.5 3-1 3-0.5 3-1 3-1.5 3-1.5 3-1.5 3-1.5 3-0.5 3 0.5 3 0.5 3 0 3 0 3-0.5 3-0.5 3-0.5 3-0.5 3 0 3-0.5 3-0.5 3 0 3-0.5 3 0 3 0.5 3 0.5 3 1.5 3 1.5 3 1 3 1.5 3 1 3 0.5 3 0 3 0 3 0 3 0 3 0.5 3 0.5 3 1 3 1 3 1 3 1 3 0.5 3 0.5 3 0.5 3 0.5 3 0 3 0.5 3 1 3 1 3 1.5 3 2 3 2 3 2.5 3 2.5 3 2.5 3 2.5 3 4 3 5.5 3 6 3 10.5 3 12.5 3 12 3 11 3 10.5 3 8 3 6 3 6 3 5 3 5.5 3 6 3 6.5 3 6.5 3 7 3 6.5 3 7 3 8.5 3 8 3 8 3 8.5 3 9 3 8.5 3 8 3 6 3 6.5 3 6 3 6 3 5.5 3 5 3 4 3 3.5 3 4 3 3.5 3 4 3 4 3 4 3 1.5 3 1.5 3 1.5 3 1.5 3 2 3 2.5 3 2 3 2 3 1.5 3 1 3 1.5 3 1.5 3 1.5 3 1.5 3 1 3 1 3-0.5 3-0.5 3-0.5 3 0 3 0 3 0.5 3 0 3 0 3-0.5 3-1 3-0.5 3-0.5 3 0 3 0.5 3 1 3 1 3 0 3-1 3-1.5 3-1.5 3-2.5 3-2.5 3-3.5 3-3 3-4 3-3.5 3-3.5 3-3.5 3-3.5 3-3 3-2.5 3-1 3-1 3 0 3-0.5 3 0 3-0.5 3-1 3-1 3-1 3-1 3 0 3 0.5 3 0 3 0.5 3-0.5 3-1.5 3-2.5 3-3 3-3.5 3-3 3-3.5 3-3 3-3.5 3-3.5 3-4 3-3.5 3-3.5 3-3 3-2.5 3-2 3-2 3-2 3-2.5 3-2 3-2.5 3-2.5 3-2 3-2 3-2 3-1.5 3-2 3-2.5 3-3 3-3.5 3-3 3-3 3-2.5 3-1 3-1 3-1.5 3-1.5 3-1.5 3-2 3-1 3-1 3-1 3-0.5 3-0.5 3-0.5 3-1 3-1 3-1.5 3-1.5 3-2.5 3-2.5 3-3 3-3 3-3 3-3 3-2.5 3-2 3-0.5 3-0.5 3-0.5 3-0.5 3-1 3-1.5 3-1.5 3-2 3-2 3-1.5 3-2 3-2 3-3 3-2.5 3-3 3-2.5 3-2 3-1 3-1 3-0.5 3-1 3-1 3-1.5 3-1.5 1-0.5" stroke="#79657d"/>
<path d="M296 284.5l3-1.5 3-1 3-1 3-0.5 3-1 3-1.5 3-1.5 3-1.5 3-1 3-1.5 3-1 3-1 3-1 3-1 3-0.5 3 0 3 0.5 3 0 3 0 3 0.5 3 0.5 3 0.5 3 1.5 3 1.5 3 2 3 2 3 1.5 3 0.5 3-2 3-2 3-3 3-2 3-2.5 3-2 3-2 3-2 3-2 3-2 3-1.5 3-2 3-2 3-2.5 3-3.5 3-3.5 3-3.5 3-3.5 3-3.5 3-2.5 3-1.5 3-1 3-0.5 3-1 3-0.5 3-1.5 3-1.5 3-1.5 3-2 3-1.5 3-1.5 3-1 3-1.5 3-0.5 3-0.5 3 0 3 0 3 0.5 3 0.5 3 1 3 1 3 0.5 3 0.5 3 0 3 0 3 0 3 0 3 0 3 0 3-0.5 3-0.5 3 0 3 0 3 0.5 3 0.5 3 1 3 1 3 0.5 3 1 3 1 3 1 3 1 3 0.5 3 1 3 1 3 0.5 3 1 3 0.5 3 1 3 0.5 3 1 3 0.5 3 0.5 3 1 3 0.5 3 1 3 2 3 2.5 3 2.5 3 2.5 3 3 3 4 3 5.5 3 6 3 9.5 3 12 3 12 3 11 3 11 3 8.5 3 7 3 6 3 5.5 3 5.5 3 5.5 3 5.5 3 6.5 3 7 3 6.5 3 7.5 3 7.5 3 8 3 7.5 3 8 3 8.5 3 8.5 3 8 3 6 3 6 3 6 3 5 3 5.5 3 5 3 4.5 3 4 3 4 3 3.5 3 4 3 3.5 3 3 3 1.5 3 1 3 1.5 3 1 3 2 3 2 3 2 3 2 3 1 3 1.5 3 0.5 3 1.5 3 1 3 1.5 3 1.5 3 1.5 3 0.5 3 0.5 3 0 3 0.5 3 0 3 0 3-0.5 3-0.5 3-1 3-1 3-1 3-0.5 3-1 3 0 3 0 3 0.5 3-0.5 3-1 3-0.5 3-1 3-1.5 3-2 3-2 3-3 3-3 3-3.5 3-3.5 3-4.5 3-4 3-4.5 3-3.5 3-2.5 3-1 3-0.5 3 0 3 0.5 3 0.5 3 0 3-0.5 3-0.5 3-0.5 3 0.5 3 0.5 3 0.5 3 0.5 3-0.5 3-2 3-3.5 3-4 3-5 3-4 3-4 3-3 3-3 3-2.5 3-2 3-3 3-2.5 3-3 3-2.5 3-2 3-1.5 3-1.5 3-1 3-1.5 3-1.5 3-2 3-2.5 3-2.5 3-3 3-2.5 3-2 3-2 3-2.5 3-2 3-2.5 3-3 3-2.5 3-1.5 3-1.5 3-1 3-0.5 3-0.5 3-1 3-0.5 3-1 3-1.5 3-1.5 3-2.5 3-2.5 3-2 3-2.5 3-1.5 3-1.5 3-1.5 3-1 3-1.5 3-1.5 3-1.5 3-1.5 3-1.5 3-1.5 3-1 3-1 3-1.5 3-1.5 3-1.5 3-2 3-1.5 3-1.5 3-1.5 3-1 3-1.5 3-1.5 3-1.5 3-2 3-2.5 3-2.5 3-2.5 3-2 3-2 3-1.5 3-1.5 3-1.5 3-1.5 3-1 1-0.5" stroke="#7d6478"/>
<path d="M296 275l3 1 3 0 3-0.5 3-0.5 3-1 3-1 3-1 3-0.5 3 0 3-0.5 3 0 3 0 3-0.5 3-0.5 3 0 3 0.5 3 1 3 0.5 3 0.5 3 1 3 0 3 0 3 0 3-1 3-0.5 3-1 3-0.5 3-0.5 3-2 3-1.5 3-1 3-0.5 3-1 3-1 3-1 3-1 3-1.5 3-1.5 3-1.5 3-1.5 3-2 3-3 3-4 3-3.5 3-4 3-3.5 3-3.5 3-3 3-1.5 3-1 3-1 3-0.5 3-1 3-0.5 3-1 3-0.5 3-1.5 3-1.5 3-1.5 3-2 3-1.5 3-1 3 0 3 0 3 0 3 0 3-0.5 3 0 3 0 3 0.5 3 0.5 3 1 3 0.5 3 0.5 3 0.5 3 0 3 0.5 3 0.5 3 0.5 3 0.5 3 0.5 3 0.5 3 0.5 3 0.5 3 0.5 3 0.5 3 0.5 3 0.5 3 0.5 3 0 3-0.5 3-0.5 3-0.5 3-0.5 3 0.5 3 0.5 3 1.5 3 1.5 3 1.5 3 2 3 1 3 1 3 1.5 3 1 3 1.5 3 2.5 3 3 3 3 3 3.5 3 4.5 3 6 3 6.5 3 9.5 3 12 3 11.5 3 10.5 3 10 3 7.5 3 5.5 3 6 3 6 3 6.5 3 6.5 3 7 3 8 3 7.5 3 7.5 3 8 3 8.5 3 8 3 8 3 7.5 3 7.5 3 7.5 3 6 3 5 3 4.5 3 5 3 4.5 3 5 3 5 3 4.5 3 3.5 3 3.5 3 4 3 3.5 3 3.5 3 3 3 1.5 3 0.5 3 0.5 3 0.5 3 0.5 3 1.5 3 1.5 3 1.5 3 2 3 2 3 2.5 3 2 3 2 3 2 3 1.5 3 1 3 0 3-0.5 3-0.5 3-0.5 3 0 3 0 3 0.5 3 0 3 0 3 0 3-0.5 3 0 3 0 3 0 3 0.5 3 0.5 3-1 3-1.5 3-1.5 3-2 3-2 3-2.5 3-2.5 3-3 3-2.5 3-3 3-3.5 3-4 3-4 3-4.5 3-3 3-2 3-1 3 0 3 0.5 3 1 3 0 3 0 3-1 3-1 3-1 3-1 3-1 3-0.5 3 0 3-0.5 3-1 3-2 3-3 3-3 3-3.5 3-3.5 3-3 3-3.5 3-3 3-3 3-2 3-2 3-2 3-1.5 3-2 3-3 3-2.5 3-3 3-3 3-3 3-2.5 3-2 3-2.5 3-2 3-2.5 3-1.5 3-1.5 3-2 3-1.5 3-2 3-2.5 3-2 3-1.5 3-1 3-1.5 3-1.5 3-1.5 3-2 3-1.5 3-1.5 3-1.5 3-1.5 3-1.5 3-1 3-1 3-1 3-0.5 3-1 3-1.5 3-1.5 3-2 3-2 3-1.5 3-1.5 3-2 3-2 3-2 3-2.5 3-2 3-1.5 3-1 3-1 3-1.5 3-1 3-1.5 3-2 3-1.5 3-1 3-1.5 3-1 3-2 3-2 3-2 3-2 3-2 3-2 3-2 3-2.5 3-3 3-2.5 1-1" stroke="#816473"/>
<path d="M296 289.5l3-2 3-2 3-1 3-1 3-1 3-0.5 3-1.5 3-1.5 3-2 3-2 3-1.5 3-1.5 3-1 3-1 3 0 3 0.5 3 1 3 0.5 3 1 3 0.5 3 0.5 3 1 3 0.5 3 1 3 0.5 3 1 3 0.5 3 0 3-2 3-2.5 3-2.5 3-2 3-2 3-1.5 3-1.5 3-1 3-1.5 3-2 3-1.5 3-2 3-2 3-3 3-3.5 3-4 3-4 3-3.5 3-3 3-2 3-0.5 3-0.5 3-0.5 3-0.5 3-1 3-1 3-1 3-1.5 3-1.5 3-1.5 3-2 3-1.5 3-1.5 3-0.5 3 0 3-0.5 3-0.5 3 0 3 0 3 0 3 0.5 3 0.5 3 0.5 3 0.5 3 0 3 0.5 3 0 3 0.5 3 0 3 0 3 0.5 3 0.5 3 0.5 3 0.5 3 0.5 3 0.5 3 0.5 3 0.5 3 0.5 3 1 3 0.5 3 0.5 3 0 3-0.5 3 0 3 0 3 0.5 3 0.5 3 1.5 3 1.5 3 1.5 3 1.5 3 1.5 3 1 3 1.5 3 1.5 3 2 3 3 3 2.5 3 2.5 3 2.5 3 3 3 4 3 4.5 3 8.5 3 10.5 3 11 3 10.5 3 11 3 8.5 3 7 3 6.5 3 6.5 3 6 3 6 3 6.5 3 6 3 7 3 6.5 3 7 3 8 3 8 3 8 3 8 3 8 3 8 3 7.5 3 5.5 3 5.5 3 5 3 5.5 3 5 3 4.5 3 4 3 3 3 2.5 3 3 3 2 3 2.5 3 1.5 3 0.5 3 0.5 3 1 3 1.5 3 1.5 3 2 3 2.5 3 2.5 3 2 3 2 3 2 3 1.5 3 1 3 1.5 3 1.5 3 1.5 3 1 3 0.5 3 1 3 0.5 3 0.5 3 0 3 0.5 3 0.5 3 0 3 0.5 3 0 3-0.5 3-1 3-1 3-0.5 3-1 3-1.5 3-1.5 3-2 3-1.5 3-2 3-2 3-2.5 3-2 3-2 3-2.5 3-3 3-3.5 3-4 3-4 3-4 3-2.5 3-2 3-1 3-0.5 3 0.5 3 1 3 1 3 0.5 3 0 3 0.5 3 0 3 0 3 0 3 0 3-0.5 3-1 3-2.5 3-3.5 3-3.5 3-4 3-3.5 3-3 3-4 3-3.5 3-4 3-4 3-3.5 3-3 3-2.5 3-2 3-2 3-2 3-1.5 3-2 3-1.5 3-2 3-2 3-2.5 3-2 3-2 3-2 3-1.5 3-2.5 3-2.5 3-3 3-3 3-2.5 3-2 3-2 3-1.5 3-1.5 3-1 3-1 3-0.5 3-1 3-0.5 3-0.5 3-0.5 3-0.5 3-0.5 3-1 3-1.5 3-1.5 3-2 3-2 3-2 3-1.5 3-1.5 3-1 3-1.5 3-1.5 3-1.5 3-2 3-1.5 3-2 3-1.5 3-2 3-2 3-2.5 3-2.5 3-2.5 3-2.5 3-1.5 3-1.5 3-1 3-1.5 3-1 3-2 3-2 3-2 3-2 3-1.5 3-2 3-1.5 3-2 1-0.5" stroke="#85636d"/>
<path d="M296 284l3-0.5 3 0 3-0.5 3-0.5 3-0.5 3-0.5 3-1.5 3-1.5 3-1.5 3-1.5 3-2 3-1.5 3-1.5 3-1 3-0.5 3 0.5 3 0 3 0 3 0.5 3 0 3 1 3 1 3 1.5 3 1 3 1 3 1 3 0.5 3 0.5 3-1 3-0.5 3-1 3-1 3-1 3-1.5 3-2.5 3-2 3-2.5 3-2.5 3-2 3-1.5 3-1 3-2 3-3 3-2.5 3-3.5 3-3.5 3-3.5 3-3.5 3-2 3-2 3-2 3-1.5 3-2 3-1.5 3-1 3-1 3-1 3-1 3-1 3-1.5 3-1.5 3-1 3-0.5 3-0.5 3-0.5 3 0.5 3 0 3 0.5 3 0 3 0.5 3 0 3 0.5 3 0 3 0 3 0 3 0 3 0 3 0 3 0.5 3 0.5 3 0.5 3 1 3 1 3 1 3 1 3 1.5 3 1 3 1.5 3 1 3 1 3 0.5 3 0.5 3 0.5 3 0 3 0.5 3 0.5 3 1 3 1 3 1 3 0.5 3 0 3 0.5 3 0 3 1 3 2 3 2.5 3 3 3 2.5 3 3 3 3.5 3 4.5 3 5 3 8.5 3 11.5 3 11 3 11.5 3 10.5 3 8 3 6.5 3 6 3 6.5 3 6 3 6.5 3 6.5 3 7.5 3 7 3 7 3 7.5 3 8 3 7.5 3 7 3 7 3 7 3 7 3 6 3 4.5 3 4.5 3 4.5 3 5 3 4.5 3 4.5 3 3.5 3 3.5 3 3.5 3 3.5 3 3.5 3 3.5 3 3.5 3 2 3 1.5 3 1.5 3 1.5 3 1 3 1 3 1 3 1 3 2 3 1.5 3 2.5 3 2 3 1.5 3 1.5 3 1.5 3 0.5 3 0 3 0 3 0.5 3 0 3 1 3 0.5 3 0.5 3 0 3 0 3-0.5 3 0 3-1 3-0.5 3-0.5 3-0.5 3-0.5 3-1 3-2 3-2 3-1.5 3-2.5 3-2.5 3-2.5 3-2 3-2.5 3-2.5 3-3 3-3 3-3 3-4 3-3 3-1.5 3-1 3 0 3 0.5 3 0.5 3 0.5 3-0.5 3-1 3-0.5 3-1 3-1 3-0.5 3-0.5 3-0.5 3-1 3-1.5 3-2 3-3 3-3 3-3 3-3 3-2.5 3-2.5 3-2 3-2 3-2.5 3-2.5 3-3 3-3.5 3-3 3-3 3-2.5 3-2.5 3-2.5 3-2.5 3-2 3-2.5 3-2 3-2.5 3-2 3-1.5 3-2 3-2 3-2 3-2.5 3-3 3-2.5 3-1.5 3-2 3-1.5 3-1.5 3-1 3-1 3-0.5 3-0.5 3-0.5 3-0.5 3-1 3-1 3-1 3-1.5 3-1.5 3-2 3-2 3-2 3-2.5 3-2.5 3-2 3-1.5 3-2 3-1.5 3-1.5 3-1.5 3-2 3-2 3-1.5 3-1.5 3-1.5 3-1 3-1.5 3-2 3-1.5 3-2 3-2 3-2 3-1.5 3-1 3-1.5 3-1.5 3-2 3-2 3-3 3-3.5 3-4 3-4 1-1" stroke="#886368"/>
<path d="M296 292l3-2.5 3-3 3-2 3-2 3-2 3-1 3-1 3-1 3-1 3-1 3-1 3-1 3-1 3-1 3 0 3 0.5 3 1 3 0.5 3 0 3 0.5 3 0.5 3 0.5 3 1 3 0.5 3 1 3 0.5 3 1 3 0 3-1.5 3-1.5 3-2.5 3-2 3-2 3-2 3-2 3-1.5 3-2 3-2 3-2 3-2.5 3-2.5 3-3 3-3 3-3 3-2.5 3-2.5 3-2.5 3-2.5 3-1 3-1.5 3-1.5 3-1.5 3-1.5 3-1 3-1.5 3-1 3-1.5 3-1 3-1.5 3-2 3-1.5 3-1 3 0 3 0.5 3 0 3 0.5 3 0 3 0 3 0 3 0.5 3 0.5 3 0.5 3 0 3 0.5 3 0 3 0.5 3 0 3 0.5 3 0 3 0.5 3 0 3 1 3 0.5 3 0.5 3 1 3 0 3 0.5 3 0 3 0.5 3 0.5 3 0.5 3 0.5 3 1 3 1 3 1 3 1 3 1 3 1 3 1 3 1 3 0.5 3 0.5 3 0.5 3 0.5 3 1.5 3 2 3 2.5 3 3 3 3 3 3.5 3 5 3 5 3 9 3 10.5 3 11 3 11 3 10.5 3 8.5 3 6.5 3 6 3 5.5 3 5.5 3 5.5 3 6.5 3 7 3 7 3 7 3 7 3 7.5 3 7.5 3 7 3 7 3 7 3 7 3 5.5 3 3.5 3 3.5 3 3.5 3 3.5 3 3.5 3 4 3 3 3 2.5 3 3 3 3 3 3 3 3.5 3 3 3 1.5 3 1 3 1 3 1 3 1 3 1.5 3 2 3 2 3 1.5 3 1.5 3 1 3 0.5 3 0.5 3 0.5 3 0.5 3 1 3 0 3 0 3 0.5 3 0 3-0.5 3-0.5 3-0.5 3-1.5 3-1 3-1 3-1 3-0.5 3 0 3 0.5 3 0 3 0.5 3-1.5 3-2 3-2.5 3-2 3-2.5 3-2.5 3-2 3-2 3-2.5 3-2 3-2.5 3-2.5 3-3 3-3 3-2.5 3-1.5 3-0.5 3 0 3 0 3 0.5 3 0 3 0.5 3-0.5 3 0 3-0.5 3 0 3 0 3 0 3 0 3-0.5 3-0.5 3-2 3-3 3-2.5 3-3 3-3 3-2.5 3-2.5 3-2.5 3-2 3-2 3-2 3-2 3-1.5 3-2 3-1.5 3-2 3-2 3-2 3-2.5 3-2 3-2 3-2 3-2 3-1 3-1 3-0.5 3-1 3-0.5 3-1 3-1 3-1.5 3-2 3-2 3-2.5 3-2 3-2 3-1.5 3-1.5 3-1 3-1 3-1 3-0.5 3-1 3-1.5 3-1.5 3-1.5 3-2.5 3-2 3-2 3-2 3-1 3-1.5 3-1 3-1.5 3-1.5 3-1.5 3-1.5 3-1.5 3-1.5 3-1.5 3-1.5 3-2 3-1.5 3-1.5 3-1 3-1 3-1 3-1 3-1.5 3-1.5 3-2 3-2 3-1.5 3-1.5 3-1.5 3-2 3-2.5 3-2.5 3-3.5 1-0.5" stroke="#8f6260"/>
<path d="M296 287l3-1.5 3-1 3-1.5 3-1 3-0.5 3-0.5 3 0 3-0.5 3-0.5 3-0.5 3-1 3-1 3-1 3-1 3-0.5 3 0 3 0 3 0 3 0 3 0 3 0 3 0.5 3 0.5 3 0.5 3 1 3 1.5 3 1 3 0.5 3-1.5 3-1.5 3-2 3-1.5 3-2 3-1.5 3-1.5 3-2 3-1.5 3-2 3-2 3-1.5 3-2 3-2 3-3 3-2.5 3-2.5 3-3 3-2.5 3-2.5 3-1.5 3-1.5 3-1 3-1 3-1.5 3-1 3-1.5 3-2 3-1.5 3-1.5 3-1.5 3-1.5 3-1.5 3-0.5 3 0 3 0 3 0.5 3 0.5 3 0 3 0.5 3 0 3 0 3 0 3 0 3 0 3 0 3 0.5 3 0 3 0.5 3 0 3 0 3 0 3 0 3 0.5 3 0 3 0.5 3 1 3 0.5 3 0.5 3 0 3 0 3 0.5 3 0 3 0.5 3 1 3 1 3 1 3 1.5 3 1 3 1.5 3 1 3 0.5 3 1 3 0.5 3 1 3 1 3 2 3 2 3 3 3 2.5 3 2.5 3 3 3 4 3 3.5 3 7 3 9.5 3 10 3 10 3 10.5 3 7.5 3 6.5 3 6.5 3 6 3 6 3 6 3 6.5 3 7 3 6.5 3 7 3 7 3 7 3 7 3 7 3 7 3 6.5 3 7 3 5.5 3 4.5 3 4.5 3 4.5 3 4.5 3 4 3 3.5 3 3.5 3 2.5 3 3 3 2.5 3 3 3 2.5 3 2.5 3 1.5 3 1 3 1 3 0.5 3 1 3 1 3 1 3 1 3 1 3 1 3 1.5 3 1.5 3 1.5 3 1.5 3 1.5 3 1.5 3 0 3 0 3 0 3-0.5 3 0 3-0.5 3-0.5 3-1 3-1 3-0.5 3-1 3-0.5 3-0.5 3 0 3-0.5 3-0.5 3-1.5 3-2.5 3-2 3-2 3-2 3-2 3-2 3-2 3-2.5 3-2 3-2.5 3-2.5 3-3 3-3.5 3-3 3-1.5 3-1 3-0.5 3 0 3 0 3 0 3 0 3 0 3 0 3 0 3 0.5 3 0.5 3 0 3 0 3-0.5 3-1.5 3-2 3-3 3-2.5 3-2.5 3-2 3-1.5 3-2 3-1.5 3-2 3-2.5 3-2 3-2.5 3-2 3-2.5 3-2.5 3-2 3-2 3-2 3-1.5 3-2 3-1.5 3-1.5 3-2 3-2 3-1.5 3-1.5 3-1.5 3-1 3-1 3-1 3-0.5 3-1 3-0.5 3-1 3-1 3-1 3-1.5 3-1.5 3-1.5 3-1.5 3-1.5 3-2 3-1.5 3-1.5 3-1.5 3-1.5 3-1.5 3-1 3-1.5 3-1 3-1 3-1.5 3-1 3-1 3-1.5 3-1 3-1.5 3-1.5 3-2 3-2 3-2.5 3-2 3-2 3-1.5 3-2 3-2.5 3-2.5 3-2.5 3-2.5 3-2 3-1.5 3-1 3-1 3-0.5 3-1 3-0.5 3-0.5 3-1 3 0 1 0" stroke="#8f625f"/>
<path d="M296 290.5l3-1 3-1.5 3-1 3-0.5 3-1 3-1 3-1.5 3-1.5 3-2 3-1.5 3-0.5 3-1 3 0 3-0.5 3-0.5 3 0.5 3 0 3 0 3 0.5 3 0.5 3 0.5 3 0.5 3 1 3 1 3 1 3 1 3 1 3-0.5 3-2 3-2.5 3-2.5 3-2.5 3-2 3-1.5 3-1.5 3-1.5 3-1.5 3-1 3-1.5 3-1.5 3-1.5 3-2.5 3-3.5 3-3.5 3-3.5 3-3.5 3-2.5 3-1.5 3-0.5 3 0 3 0 3-0.5 3-1.5 3-1.5 3-2 3-2 3-2.5 3-2 3-1.5 3-2 3-1.5 3-1 3 0 3 0 3 0 3 0.5 3 0.5 3 0 3 0.5 3 0 3-0.5 3 0 3 0 3 0 3 0 3 0.5 3 0 3 0.5 3 0.5 3 0 3 0.5 3 0.5 3 0 3 0.5 3 0.5 3 0.5 3 1 3 0.5 3 1 3 1 3 1 3 1 3 1 3 0.5 3 0.5 3 0.5 3 0.5 3 0.5 3 0.5 3 0 3 0.5 3 0.5 3 1 3 1.5 3 2.5 3 3 3 3 3 2.5 3 2 3 3 3 4.5 3 4 3 8 3 9 3 9.5 3 9.5 3 9 3 7 3 5 3 6 3 5 3 6 3 6 3 6.5 3 7 3 7.5 3 8 3 8 3 8 3 8 3 6.5 3 6.5 3 6 3 6 3 6 3 4.5 3 4.5 3 4.5 3 4 3 3.5 3 3.5 3 3 3 3 3 2.5 3 3 3 3 3 2.5 3 2.5 3 1.5 3 1 3 1.5 3 1.5 3 1.5 3 1.5 3 1.5 3 1.5 3 1 3 1 3 1 3 0.5 3 1 3 0.5 3 1 3 1 3 0 3 0 3-0.5 3-0.5 3-0.5 3-0.5 3 0 3 0 3 0 3 0.5 3 0 3 0 3 0.5 3 0 3-0.5 3-0.5 3-2 3-2 3-2.5 3-2.5 3-2 3-2 3-2.5 3-2 3-2 3-2.5 3-3 3-3 3-3.5 3-4 3-2.5 3-1.5 3-0.5 3 0 3 0.5 3 0.5 3 0 3-0.5 3-0.5 3-1 3-0.5 3 0.5 3 0.5 3 1 3 1 3 0 3-0.5 3-2.5 3-3 3-3.5 3-3.5 3-3.5 3-2.5 3-2.5 3-2.5 3-2 3-1.5 3-1.5 3-1 3-0.5 3-1 3-1.5 3-2 3-2 3-2 3-2.5 3-2 3-2 3-2.5 3-2.5 3-2.5 3-2.5 3-2 3-2 3-1 3-1 3-0.5 3 0 3-0.5 3-1 3-1 3-1 3-1.5 3-1 3-1.5 3-1 3-1.5 3-1 3-1.5 3-1.5 3-2 3-1.5 3-2 3-1.5 3-2 3-1.5 3-1 3-1 3-1 3-1.5 3-2 3-2 3-2 3-2.5 3-2 3-1.5 3-1.5 3-1 3-1.5 3-1 3-1.5 3-2 3-1.5 3-1.5 3-2 3-2 3-2 3-2 3-2 3-1 3-1 3-1.5 3-1.5 3-2 3-2.5 3-2.5 1-0.5" stroke="#90625e"/>
<path d="M296 285l3 0.5 3 0.5 3 0 3 0 3-0.5 3-1 3-1 3-1 3-2 3-1.5 3-2 3-1.5 3-1.5 3-1 3-0.5 3 1 3 1.5 3 1.5 3 1 3 0.5 3 0.5 3 1 3 0.5 3 1 3 1 3 0.5 3 0.5 3 0 3-1.5 3-2 3-2.5 3-2.5 3-2 3-2 3-1.5 3-1.5 3-1.5 3-1.5 3-1.5 3-2 3-2 3-3 3-3 3-3.5 3-2.5 3-3 3-2.5 3-2.5 3-1 3-1 3-1 3-1 3-1 3-1.5 3-1.5 3-2 3-1.5 3-1.5 3-1.5 3-1.5 3-1 3-0.5 3 0 3 0 3 0 3 0 3-0.5 3 0 3 0 3 0 3 0.5 3 0.5 3 0.5 3 0.5 3 0.5 3 0 3 0.5 3 0 3 0 3 0 3 0.5 3 0 3 0.5 3 0.5 3 0.5 3 0.5 3 0.5 3 0.5 3 0 3 0 3 0.5 3 0.5 3 1 3 1 3 1.5 3 1 3 1.5 3 0.5 3 1 3 0.5 3 0.5 3 1 3 1 3 1.5 3 2 3 3 3 2.5 3 2 3 2.5 3 3 3 4 3 4.5 3 7.5 3 9 3 9 3 9 3 8.5 3 6 3 4 3 4.5 3 4.5 3 4.5 3 6 3 6.5 3 7.5 3 7.5 3 8.5 3 8 3 7.5 3 7.5 3 7.5 3 7 3 7 3 7.5 3 6.5 3 5 3 4.5 3 4 3 3 3 3.5 3 3 3 3 3 2.5 3 3 3 3 3 2.5 3 3 3 2.5 3 2 3 1 3 1.5 3 1.5 3 1 3 1 3 1.5 3 1.5 3 1.5 3 1.5 3 2 3 2 3 1.5 3 2 3 1.5 3 0.5 3-0.5 3-1.5 3-1 3-1 3-0.5 3-0.5 3-0.5 3 0 3 0 3 0 3 0.5 3 0.5 3 0 3 0 3 0 3-0.5 3-1.5 3-3 3-2.5 3-3 3-3 3-3 3-2.5 3-2.5 3-2.5 3-2.5 3-3 3-3 3-3 3-3.5 3-2 3-1 3 0 3 0 3 0.5 3 0.5 3 0.5 3 0.5 3 0 3 0 3 0 3 0 3 0 3 0 3 0 3-0.5 3-1 3-1.5 3-2.5 3-3 3-2.5 3-2.5 3-2.5 3-2.5 3-2.5 3-2 3-2 3-2 3-2 3-2 3-2 3-2 3-2 3-1.5 3-1.5 3-1.5 3-2 3-2 3-2 3-2.5 3-2 3-2.5 3-2 3-2.5 3-2 3-1.5 3-1.5 3-1 3-1.5 3-1.5 3-2 3-1.5 3-1.5 3-1 3-1 3-0.5 3-0.5 3-0.5 3-1 3-1 3-1 3-1.5 3-0.5 3-1 3-1 3-1 3-1 3-1.5 3-1.5 3-1.5 3-1.5 3-1.5 3-1.5 3-1.5 3-2 3-2 3-1.5 3-2 3-1.5 3-1.5 3-2 3-1 3-1.5 3-1.5 3-1.5 3-2 3-2 3-2.5 3-1.5 3-1 3-1 3-1 3-1.5 3-1 3-1 3-1 1 0" stroke="#91625d"/>
<path d="M296 285.5l3-0.5 3-1 3-0.5 3-0.5 3-0.5 3 0 3-1 3-0.5 3-1.5 3-1 3-1 3-1 3-1 3-0.5 3-0.5 3 0 3 0 3 0.5 3 0 3 0 3 0.5 3 0.5 3 0.5 3 0.5 3 1 3 0.5 3 0.5 3 0 3-1.5 3-2 3-2 3-2 3-2 3-1.5 3-1.5 3-1 3-1 3-1.5 3-1 3-1.5 3-1.5 3-2 3-3 3-3 3-3 3-3 3-3.5 3-3 3-1.5 3-1.5 3-1 3-1 3-1 3-0.5 3-1 3-1.5 3-1.5 3-2 3-1.5 3-2 3-1.5 3-1 3 0 3 0 3 0.5 3 0 3 0.5 3 0.5 3 0.5 3 0.5 3 1 3 0 3 0.5 3-0.5 3 0 3 0 3 0 3 0 3 0 3 0.5 3 0.5 3 0 3 1 3 0.5 3 0.5 3 1 3 0.5 3 0.5 3 0.5 3 0.5 3 0.5 3 0.5 3 1 3 0.5 3 0.5 3 0 3 0 3 0.5 3 1 3 0.5 3 1.5 3 1.5 3 1 3 1.5 3 1.5 3 2.5 3 2 3 2.5 3 3 3 3.5 3 4.5 3 5 3 7.5 3 9 3 8.5 3 9 3 8 3 6 3 5 3 5 3 5 3 5.5 3 5.5 3 6.5 3 7 3 6.5 3 7.5 3 8 3 7.5 3 7.5 3 7.5 3 7 3 7 3 7 3 6.5 3 5 3 4.5 3 4 3 3.5 3 3.5 3 3.5 3 2.5 3 3 3 3 3 3 3 3 3 2.5 3 2.5 3 1.5 3 1 3 1 3 1 3 0.5 3 1 3 1 3 1 3 1.5 3 1.5 3 2 3 1.5 3 2 3 1.5 3 1 3 1 3-0.5 3-0.5 3-1 3 0 3-0.5 3 0 3 0.5 3 0 3 0 3 0 3-0.5 3-0.5 3-0.5 3-1 3-1 3-0.5 3-1.5 3-2.5 3-2 3-2 3-2 3-1.5 3-2 3-1.5 3-1.5 3-2.5 3-2.5 3-3.5 3-3.5 3-4 3-3.5 3-2 3-1 3-0.5 3 0 3 0.5 3 0.5 3 0.5 3 0.5 3-0.5 3-0.5 3-1 3-0.5 3 0 3 0 3 0 3-0.5 3-1.5 3-2 3-2.5 3-2.5 3-2.5 3-2.5 3-2.5 3-2 3-2 3-1.5 3-1.5 3-2 3-1.5 3-2 3-2.5 3-2 3-2 3-1.5 3-1.5 3-1.5 3-1.5 3-2 3-1.5 3-2 3-2 3-2 3-2 3-2 3-1.5 3-1.5 3-1 3-1 3-1 3-1 3-1.5 3-1 3-1.5 3-1.5 3-1.5 3-1.5 3-1 3-1 3-1.5 3-1 3-1 3-1.5 3-1 3-1 3-1 3-1 3-1.5 3-1.5 3-2 3-1.5 3-2 3-1.5 3-1.5 3-2 3-1.5 3-1.5 3-2 3-1.5 3-1.5 3-1 3-1.5 3-1.5 3-2 3-2 3-2.5 3-2.5 3-2 3-1.5 3-1 3-1 3-1 3-0.5 3-1 3-0.5 3-0.5 1 0.5" stroke="#92625c"/>
<path d="M296 295l3-2.5 3-3 3-2.5 3-2 3-1.5 3-1.5 3-1 3-1.5 3-1 3-1 3-0.5 3-0.5 3 0 3 0.5 3 1 3 1.5 3 1.5 3 1 3 1 3 1 3 0.5 3 0.5 3 0 3 0.5 3 0 3 0.5 3 0.5 3 0 3-1.5 3-1.5 3-2 3-1 3-1 3-0.5 3-1 3-1.5 3-1.5 3-2 3-2 3-2 3-1.5 3-2.5 3-3 3-2.5 3-3 3-2.5 3-3 3-3 3-2 3-1.5 3-1.5 3-1.5 3-1.5 3-1.5 3-1.5 3-1.5 3-1.5 3-1.5 3-1.5 3-2 3-2 3-1 3-0.5 3 0 3 0 3 0 3 0 3 0.5 3 0.5 3 0.5 3 0.5 3 0.5 3 0 3 0.5 3 0.5 3 0.5 3 0 3 0.5 3 0 3 0 3 0.5 3 0 3 0.5 3 1 3 0.5 3 1 3 0.5 3 0.5 3 0.5 3 0.5 3 0 3 0.5 3 1 3 0.5 3 1 3 1 3 1 3 0.5 3 1 3 1 3 0.5 3 1 3 1 3 0.5 3 1 3 2 3 1.5 3 2 3 2.5 3 3 3 4.5 3 4.5 3 7 3 9 3 8.5 3 8 3 7.5 3 4.5 3 3.5 3 3.5 3 3.5 3 4.5 3 6 3 7 3 7 3 7.5 3 8 3 8 3 8 3 7.5 3 7 3 6.5 3 6 3 6.5 3 6 3 4.5 3 5 3 5.5 3 5 3 4.5 3 4 3 3 3 3 3 2.5 3 3 3 2.5 3 3 3 2.5 3 2 3 1.5 3 2.5 3 2.5 3 2 3 2 3 1.5 3 1 3 1 3 0.5 3 1 3 0.5 3 1 3 1 3 1 3 1 3 0.5 3 0 3 0.5 3 0.5 3 0 3-0.5 3-1 3-0.5 3-1 3 0 3-0.5 3 0 3-0.5 3-1.5 3-1.5 3-1.5 3-2.5 3-2.5 3-2 3-2 3-2.5 3-2 3-2.5 3-2 3-2 3-2 3-2 3-2.5 3-3 3-3.5 3-2.5 3-1.5 3-1.5 3-0.5 3 0 3 0.5 3 0.5 3 0.5 3 0.5 3 0.5 3 0.5 3 0.5 3 0.5 3 0 3-0.5 3-1 3-1.5 3-2.5 3-2.5 3-3 3-2.5 3-2.5 3-2.5 3-3 3-2 3-2 3-2 3-1.5 3-1.5 3-2 3-1.5 3-2 3-1.5 3-2 3-1.5 3-2.5 3-2 3-2.5 3-2 3-2 3-2 3-1.5 3-1.5 3-2 3-2 3-1.5 3-2 3-2 3-1 3-1.5 3-1 3-1 3-1.5 3-1 3-1 3-1 3-1 3-1 3-1.5 3-1 3-1 3-1.5 3-1 3-1.5 3-1 3-1.5 3-1.5 3-1 3-1.5 3-1.5 3-1 3-1 3-1 3-1 3-2 3-2 3-2.5 3-2 3-2 3-1.5 3-1.5 3-1 3-1.5 3-1.5 3-2 3-2.5 3-3 3-3.5 3-2 3-1.5 3-1.5 3-1 3-0.5 3-1 3-1 3-1 1-0.5" stroke="#92615b"/>
<path d="M296 291.5l3 0 3-0.5 3-1 3-1 3-1.5 3-1 3-1.5 3-1.5 3-1.5 3-1.5 3-1 3-1.5 3-1 3-1 3 0.5 3 1 3 1.5 3 1.5 3 1 3 1 3 1 3 0.5 3 0.5 3 0.5 3 0.5 3 0.5 3 0.5 3 0 3-1.5 3-1 3-1.5 3-1 3-1 3-1.5 3-1.5 3-2 3-2 3-2.5 3-2.5 3-3 3-2 3-3 3-3 3-2.5 3-2.5 3-2.5 3-2.5 3-2.5 3-2 3-1.5 3-1.5 3-1.5 3-1.5 3-1 3-1.5 3-1.5 3-1.5 3-1.5 3-1.5 3-1.5 3-1 3-0.5 3 0.5 3 0.5 3 0.5 3 0.5 3 0 3 0 3 0 3 0 3 0 3 0.5 3 0.5 3 0 3 0.5 3 1 3 0 3 0.5 3 0 3 0 3 0 3 0 3 0.5 3 1 3 1 3 1 3 1 3 1 3 0 3 0 3 0 3 0 3-0.5 3 0 3 0 3 0.5 3 0.5 3 1 3 1 3 1 3 1.5 3 1.5 3 1.5 3 1.5 3 2.5 3 2.5 3 2.5 3 2.5 3 2.5 3 2.5 3 4 3 3.5 3 6.5 3 8 3 8 3 8 3 6.5 3 4.5 3 2.5 3 3 3 3 3 3.5 3 5.5 3 6.5 3 7 3 7 3 8 3 8 3 7.5 3 8 3 7 3 7 3 7.5 3 7.5 3 7.5 3 6.5 3 5.5 3 5.5 3 4 3 3 3 3 3 2.5 3 2.5 3 2 3 2.5 3 3 3 3 3 2.5 3 2 3 2 3 2 3 2 3 2 3 1.5 3 1.5 3 1.5 3 1.5 3 2 3 2 3 1.5 3 1.5 3 2 3 1.5 3 1 3-0.5 3-0.5 3-0.5 3-0.5 3-0.5 3-1 3-1 3-1.5 3-1 3-1.5 3-1 3-0.5 3 0 3 0 3 0 3 0 3-1 3-2 3-2.5 3-2 3-3 3-2.5 3-3 3-2.5 3-2.5 3-2.5 3-2 3-2.5 3-2.5 3-3 3-2.5 3-1 3-1 3-0.5 3 0.5 3 0 3 0.5 3 0.5 3-0.5 3 0 3-1 3-0.5 3 0 3 0 3 0 3 0 3-0.5 3-1.5 3-2.5 3-2.5 3-2.5 3-3 3-2.5 3-2 3-2 3-2 3-2 3-2 3-2.5 3-2 3-2.5 3-2.5 3-2 3-2 3-2 3-2.5 3-2 3-2 3-2 3-2.5 3-2 3-1.5 3-1.5 3-1 3-1 3-1.5 3-1 3-1.5 3-1.5 3-1.5 3-1.5 3-1.5 3-1 3-1 3-0.5 3-1 3-1 3-0.5 3-1 3-1 3-1.5 3-1 3-1 3-1 3-1 3-1.5 3-1 3-1.5 3-1 3-1 3-1 3-1 3-1 3-1.5 3-2 3-2.5 3-2.5 3-2.5 3-2 3-2 3-1 3-1 3-1.5 3-1 3-1 3-1.5 3-2.5 3-2.5 3-1.5 3-1.5 3-1 3-1.5 3-2 3-2.5 3-3 3-3.5 1-1" stroke="#93615a"/>
<path d="M296 297.5l3-3.5 3-3 3-2.5 3-2 3-1 3-0.5 3-0.5 3-0.5 3-0.5 3-1 3-0.5 3-1 3-1 3-0.5 3-0.5 3 0.5 3 0.5 3 0.5 3-0.5 3 0 3 0.5 3 0.5 3 1 3 1 3 1 3 1 3 0.5 3-0.5 3-1 3-1.5 3-1.5 3-1 3-1 3-1.5 3-1.5 3-2 3-2 3-2 3-1.5 3-1.5 3-1.5 3-2.5 3-2.5 3-3.5 3-3 3-3.5 3-3 3-2.5 3-2 3-1.5 3-1.5 3-1 3-1.5 3-0.5 3-1 3-0.5 3-1 3-1.5 3-2 3-2 3-1.5 3-1 3 0 3 0.5 3 0 3 0.5 3 0 3 0.5 3 0 3 0 3 0.5 3 0.5 3 0.5 3 0.5 3 0.5 3 0 3-0.5 3 0 3-0.5 3 0 3 0 3 0 3 0.5 3 0 3 1 3 0.5 3 1 3 1 3 1 3 0.5 3 0 3 0 3 0.5 3 0.5 3 0.5 3 1 3 1 3 1 3 1.5 3 1 3 1.5 3 1 3 2 3 1.5 3 2 3 2.5 3 2 3 2 3 2 3 2 3 3 3 3.5 3 5.5 3 8 3 7.5 3 8.5 3 7 3 5 3 3.5 3 3.5 3 3.5 3 4 3 5 3 6 3 6 3 6.5 3 8 3 8 3 8.5 3 8.5 3 8 3 7.5 3 7 3 7 3 7 3 5.5 3 5 3 4.5 3 3.5 3 3 3 3.5 3 2.5 3 3.5 3 3 3 3 3 3.5 3 3 3 3 3 2 3 1.5 3 1.5 3 1.5 3 1.5 3 1.5 3 1 3 1.5 3 2 3 1.5 3 1.5 3 0.5 3 1 3 0.5 3 0.5 3 0.5 3 0 3 0 3-0.5 3-0.5 3-0.5 3-1 3-1 3-1 3-0.5 3-0.5 3-0.5 3 0 3 0 3 0 3-0.5 3-0.5 3-1.5 3-2.5 3-1.5 3-2 3-1.5 3-2 3-2 3-2.5 3-3 3-3 3-3 3-2.5 3-3 3-2.5 3-1.5 3-0.5 3-0.5 3 0 3 0.5 3 0 3 0 3 0.5 3 0 3-0.5 3-1 3-0.5 3-0.5 3 0 3-0.5 3-0.5 3-1 3-2 3-2 3-2 3-2.5 3-2 3-2 3-2 3-2.5 3-3 3-2.5 3-2.5 3-2.5 3-1.5 3-1.5 3-1.5 3-1 3-1.5 3-2 3-2 3-2 3-2.5 3-2 3-2 3-2 3-2 3-1.5 3-2 3-1.5 3-1.5 3-1.5 3-2 3-2 3-2 3-1.5 3-1.5 3-1 3-0.5 3-1 3-0.5 3-1 3-1 3-1 3-1 3-1 3-1.5 3-1 3-1.5 3-1.5 3-2 3-1 3-1.5 3-1 3-1 3-1 3-1.5 3-1 3-1 3-1.5 3-1.5 3-1.5 3-1.5 3-1 3-1.5 3-1 3-1.5 3-1.5 3-2 3-1.5 3-2.5 3-3 3-3 3-2 3-1.5 3-1 3-1 3-1.5 3-1.5 3-1.5 3-2 1-0.5" stroke="#94615a"/>
<path d="M296 299l3-2.5 3-2.5 3-2 3-2.5 3-1.5 3-1.5 3-1 3-1 3-0.5 3 0 3 0 3 0 3-0.5 3 0 3 0 3 1 3 0.5 3 1 3 0.5 3 0.5 3 1 3 1.5 3 1 3 1 3 1.5 3 0.5 3 0.5 3-0.5 3-1.5 3-2 3-1.5 3-2 3-2 3-1.5 3-1.5 3-2 3-1.5 3-2 3-2 3-1.5 3-2 3-2 3-2.5 3-2.5 3-2 3-2.5 3-2.5 3-2 3-2 3-2 3-1.5 3-2 3-2 3-1.5 3-1.5 3-1 3-1 3-1 3-1 3-1 3-0.5 3 0 3 0.5 3 0 3-0.5 3-0.5 3-1 3 0 3-0.5 3 0 3 0 3 0.5 3 0 3 0 3 0.5 3 0.5 3 0 3 0.5 3 0.5 3 0.5 3 1 3 0.5 3 1 3 0.5 3 0.5 3 0 3 0 3 0.5 3 0 3 0 3 0.5 3 0.5 3 1 3 0.5 3 0.5 3 0 3 0.5 3 0.5 3 0.5 3 0.5 3 1 3 0.5 3 1.5 3 1 3 1.5 3 2 3 2 3 2 3 1.5 3 2.5 3 3 3 3.5 3 5.5 3 7.5 3 7.5 3 8 3 6 3 4 3 2.5 3 3 3 3 3 4 3 5 3 6 3 6.5 3 6.5 3 7.5 3 8 3 8 3 8 3 7.5 3 7 3 7 3 7 3 6.5 3 5.5 3 5 3 4.5 3 3.5 3 3.5 3 3.5 3 3.5 3 3.5 3 4 3 4 3 3.5 3 3.5 3 3 3 2 3 2 3 2 3 2 3 2 3 1.5 3 1.5 3 1.5 3 1 3 1 3 1.5 3 0.5 3 1 3 1 3 1.5 3 0.5 3 0 3-0.5 3 0 3-0.5 3-1 3 0 3-0.5 3 0 3-0.5 3 0 3 0 3-0.5 3-1 3-1 3-1.5 3-1.5 3-1.5 3-2 3-2 3-2 3-2 3-2 3-2.5 3-2.5 3-3 3-2.5 3-3 3-2.5 3-3 3-3 3-2 3-1 3-0.5 3-0.5 3 0 3 0 3 0 3 0 3 0.5 3 0 3-0.5 3 0 3-0.5 3-0.5 3 0 3-1 3-1 3-1.5 3-2.5 3-2 3-1.5 3-2 3-1.5 3-2 3-1.5 3-2 3-1.5 3-2 3-2 3-2.5 3-2.5 3-3 3-3 3-3 3-2.5 3-2 3-2.5 3-2 3-2 3-2 3-2 3-1.5 3-1.5 3-1.5 3-1 3-1 3-1 3-1 3-1 3-1.5 3-1.5 3-1.5 3-1.5 3-1.5 3-1.5 3-1 3-1 3-1 3-0.5 3-0.5 3-0.5 3-0.5 3-0.5 3-1 3-1 3-2 3-2 3-2.5 3-2 3-2 3-1.5 3-1 3-1 3-1 3-1 3-1.5 3-1.5 3-2 3-1.5 3-1.5 3-1.5 3-1.5 3-1 3-1 3-0.5 3-1.5 3-2.5 3-3 3-1.5 3-1.5 3-1 3-1 3-1 3-1 3-0.5 3 0 1 0.5" stroke="#946159"/>
<path d="M296 304l3-2.5 3-3.5 3-3 3-3 3-2 3-1.5 3-1 3-1 3-1 3-0.5 3-0.5 3-0.5 3 0 3 0.5 3 1 3 1 3 1.5 3 0.5 3 0 3 0 3 0 3 0.5 3 0.5 3 1 3 0.5 3 1 3 0.5 3 0 3-1 3-1.5 3-1.5 3-1.5 3-1 3-1.5 3-1.5 3-1.5 3-2 3-2 3-2 3-2 3-1.5 3-2.5 3-3 3-2.5 3-3 3-3 3-2.5 3-2.5 3-2 3-2 3-2 3-2 3-2 3-1 3-1.5 3-1 3-1.5 3-1.5 3-1.5 3-1.5 3-1.5 3-0.5 3 0 3 0 3 0.5 3 0.5 3 0.5 3 0.5 3 0.5 3 1 3 0.5 3 0.5 3 0.5 3 0 3 0 3 0 3 0.5 3 0 3 0.5 3 0.5 3 0.5 3 0.5 3 0.5 3 0.5 3 0.5 3 0.5 3 0.5 3 0.5 3 0.5 3 1 3 0.5 3 0.5 3 0.5 3 0.5 3 0 3 0 3 1 3 1 3 1 3 1.5 3 1 3 1 3 1 3 1 3 1 3 1.5 3 1.5 3 2 3 1.5 3 2.5 3 3 3 3 3 5.5 3 7 3 7 3 7.5 3 6 3 4 3 2.5 3 2.5 3 2 3 3.5 3 4.5 3 5.5 3 6 3 6.5 3 8.5 3 8 3 8.5 3 8 3 7.5 3 6.5 3 7 3 6.5 3 7.5 3 6 3 5.5 3 5.5 3 4.5 3 3.5 3 3.5 3 3.5 3 3.5 3 3 3 3 3 2.5 3 2.5 3 2.5 3 2 3 2 3 2.5 3 2.5 3 2 3 1.5 3 1.5 3 1 3 1 3 1.5 3 1 3 1 3 1 3 1.5 3 1 3 0.5 3 0 3-0.5 3-0.5 3 0 3 0 3 0 3 0.5 3 0 3-0.5 3-0.5 3-0.5 3-1.5 3-1.5 3-1.5 3-2 3-1.5 3-1.5 3-1.5 3-1 3-1.5 3-1.5 3-1.5 3-2.5 3-2.5 3-2.5 3-2.5 3-2.5 3-3 3-3 3-3.5 3-2.5 3-1.5 3-1 3-1 3-1 3-0.5 3-0.5 3 0.5 3 0.5 3 0.5 3 1 3 1 3 0.5 3 1 3 0 3-1 3-1.5 3-3 3-3 3-3 3-2.5 3-1.5 3-1 3-1 3-1 3-1.5 3-1.5 3-2 3-2.5 3-2.5 3-2.5 3-2.5 3-2.5 3-2 3-2.5 3-3 3-3 3-3 3-3 3-2.5 3-2.5 3-1.5 3-2 3-1.5 3-1 3-1 3-1 3-0.5 3-1 3-1.5 3-1.5 3-2 3-2 3-1.5 3-1.5 3-1.5 3-1 3-0.5 3 0 3 0.5 3 1 3 0 3 0 3-1 3-1.5 3-2 3-1.5 3-2 3-1.5 3-1.5 3-1.5 3-1.5 3-1 3-1.5 3-2 3-1.5 3-2 3-2 3-2 3-2 3-1 3-1.5 3-1 3-1 3-1 3-1.5 3-2.5 3-3 3-2 3-0.5 3-1 3-1 3-1 3-1 3-0.5 3-0.5 1 0.5" stroke="#956158"/>
<path d="M296 295l3-1.5 3-1.5 3-2 3-2 3-1.5 3-0.5 3-0.5 3-0.5 3-0.5 3 0 3 0.5 3 0 3 0 3 0.5 3 1 3 1 3 1 3 0.5 3 0 3-0.5 3 0 3 0 3 0.5 3 0.5 3 1 3 1 3 1 3 0.5 3-0.5 3-1 3-1 3-1.5 3-2 3-2.5 3-2 3-2.5 3-2.5 3-2 3-1.5 3-1.5 3-1.5 3-2 3-3 3-2.5 3-3 3-3 3-3 3-2.5 3-2 3-1.5 3-1 3-1.5 3-1 3-1 3-1 3-1.5 3-2 3-2 3-1.5 3-1.5 3-1 3-0.5 3 0.5 3 0.5 3 1 3 0.5 3 0 3 0 3 0 3-0.5 3-0.5 3-0.5 3 0 3 0.5 3 0.5 3 0.5 3 0.5 3 0.5 3 0 3-0.5 3 0 3 0 3 0.5 3 0 3 0.5 3 0 3 0.5 3 0.5 3 0.5 3 0.5 3 1 3 1 3 0.5 3 0.5 3 0.5 3 0.5 3 1 3 1.5 3 1 3 1 3 1.5 3 1 3 1 3 1.5 3 2.5 3 2 3 2 3 1.5 3 1 3 1.5 3 2.5 3 3 3 5.5 3 7 3 6.5 3 7 3 5 3 2.5 3 2 3 2 3 2 3 4 3 5.5 3 6.5 3 6.5 3 7 3 8 3 8.5 3 8.5 3 8 3 8 3 7 3 7 3 7 3 7.5 3 6.5 3 5.5 3 5.5 3 4 3 3 3 3.5 3 3 3 3 3 3.5 3 2.5 3 3 3 3 3 2.5 3 2.5 3 2 3 2.5 3 2 3 2 3 1.5 3 1 3 1.5 3 1 3 1.5 3 1 3 1 3 0.5 3 1 3 1 3 0.5 3 0 3 0 3 0 3 0.5 3 0.5 3 0.5 3 0 3-0.5 3-1 3-1 3-1 3-0.5 3-1 3-1 3-1 3-1 3-1 3-2 3-2 3-2 3-2.5 3-2 3-3 3-2.5 3-2.5 3-2.5 3-2.5 3-2.5 3-2.5 3-3 3-2.5 3-2 3-1.5 3-1 3-0.5 3-1 3 0 3 0 3 0 3 0 3 0.5 3 1 3 0.5 3 1 3 0 3 0 3-1 3-2 3-2 3-2 3-2 3-2 3-2 3-2 3-2 3-2.5 3-2 3-2.5 3-2.5 3-2 3-2 3-2.5 3-1.5 3-2 3-2 3-2.5 3-3 3-2.5 3-3 3-3 3-2 3-2 3-1.5 3-1.5 3-1.5 3-1 3-1.5 3-1.5 3-1.5 3-1.5 3-2 3-1.5 3-1.5 3-1 3-0.5 3-1 3-0.5 3-1 3-0.5 3-1 3-0.5 3-0.5 3-1 3-0.5 3-0.5 3-1 3-1 3-0.5 3-1 3-1 3-1 3-1 3-1.5 3-2 3-2 3-2 3-2 3-2.5 3-2 3-1.5 3-1.5 3-1.5 3-1.5 3-1.5 3-2 3-2 3-4 3-3.5 3-2.5 3-1.5 3-1 3-1 3-1 3-0.5 3-1 3-0.5 1-0.5" stroke="#966157"/>
<path d="M296 301l3-2.5 3-3 3-2.5 3-2 3-1.5 3-1 3-1.5 3-1.5 3-1 3-1 3-1 3 0 3-0.5 3 0.5 3 1 3 1.5 3 1 3 1.5 3 0.5 3 0.5 3 0.5 3 1 3 0.5 3 0.5 3 0 3 0.5 3 0 3-0.5 3-1 3-0.5 3-0.5 3-0.5 3-0.5 3-1.5 3-1.5 3-2 3-2.5 3-3 3-2 3-2 3-1.5 3-2 3-1.5 3-2.5 3-2.5 3-2.5 3-3 3-3 3-2.5 3-2 3-2 3-2.5 3-2 3-2 3-1.5 3-1.5 3-1 3-1.5 3-1 3-1 3-1 3-0.5 3 0 3 0 3-0.5 3 0 3 0 3 0 3 0 3 0.5 3 1 3 0.5 3 0 3 0.5 3 0 3 0.5 3 0.5 3 0.5 3 0 3 0.5 3 0.5 3 0.5 3 1 3 1 3 0.5 3 0.5 3 0 3 0.5 3 0 3 0 3 0.5 3 0 3 0.5 3 0.5 3 0 3 0 3 0.5 3 0.5 3 0.5 3 0.5 3 1 3 1.5 3 1 3 1.5 3 2 3 2.5 3 3 3 2.5 3 2.5 3 3 3 3.5 3 3.5 3 5 3 6 3 6 3 5.5 3 4 3 2.5 3 1.5 3 1.5 3 2 3 3 3 5 3 5.5 3 6 3 6.5 3 8 3 8.5 3 8 3 8 3 7.5 3 7 3 6.5 3 7 3 7.5 3 6.5 3 6 3 6 3 4 3 3.5 3 3.5 3 3.5 3 3 3 3 3 2.5 3 2.5 3 2 3 3 3 2 3 2.5 3 3 3 3 3 3 3 2.5 3 2.5 3 2 3 2.5 3 1.5 3 1.5 3 1 3 0.5 3 0.5 3 1 3 0 3 0 3-1 3 0 3-0.5 3 0 3 0 3 0 3-0.5 3-0.5 3-0.5 3-0.5 3-0.5 3-0.5 3-1 3-1.5 3-2 3-2.5 3-2.5 3-2.5 3-2.5 3-2 3-2 3-2 3-1.5 3-1.5 3-2 3-2 3-2 3-2.5 3-2.5 3-2 3-1.5 3-1 3-0.5 3-1 3-0.5 3-0.5 3 0 3-0.5 3-0.5 3 0 3 0 3 0.5 3 0 3 0 3-1 3-1.5 3-2 3-2 3-2.5 3-1.5 3-2 3-2 3-2.5 3-2.5 3-2.5 3-2 3-2 3-2 3-1.5 3-1 3-1.5 3-1.5 3-2 3-1.5 3-2.5 3-2.5 3-2 3-2.5 3-2.5 3-2.5 3-2 3-2.5 3-2 3-2 3-2 3-2 3-2 3-2 3-1.5 3-1.5 3-1.5 3-1 3-1 3-1 3-1 3-1 3-0.5 3-0.5 3 0 3 0 3 0 3 0 3-0.5 3-0.5 3-1 3-2 3-2 3-2 3-2 3-1.5 3-1.5 3-0.5 3-1 3-1.5 3-1.5 3-2 3-2.5 3-2 3-2 3-1.5 3-1.5 3-1 3-1 3-1.5 3-2 3-3.5 3-3.5 3-2 3-1 3-1 3-1 3-1 3-0.5 3-1 3-1 1 0" stroke="#976156"/>
<path d="M296 306l3-3 3-3.5 3-3.5 3-3 3-2 3-1.5 3-1 3-1 3-0.5 3 0 3-0.5 3 0 3-0.5 3 0 3 1 3 1.5 3 1.5 3 2 3 1 3 0.5 3 0.5 3 0.5 3 0.5 3 0.5 3 0 3 0.5 3 0 3-0.5 3-1.5 3-1.5 3-1 3-1 3-1 3-0.5 3-1 3-1 3-1.5 3-1.5 3-2 3-2 3-2.5 3-3 3-3 3-3 3-2.5 3-2 3-1.5 3-2 3-1.5 3-2 3-2 3-2 3-2.5 3-2 3-2 3-1.5 3-2 3-1.5 3-1.5 3-1 3-1 3-0.5 3 0.5 3 0.5 3 0.5 3 0.5 3 0.5 3 0.5 3 0.5 3 1 3 0.5 3 0.5 3 0.5 3 0 3 0 3-0.5 3 0 3 0 3 0 3 0 3 0.5 3 1 3 1 3 0.5 3 1 3 1 3 0.5 3 0.5 3 0.5 3 0 3 0.5 3 0 3 0 3 0 3 0 3-0.5 3 0.5 3 0.5 3 0.5 3 1 3 1.5 3 1.5 3 2 3 1.5 3 2 3 1.5 3 2 3 1.5 3 1.5 3 2 3 2 3 2 3 3.5 3 5 3 5 3 5 3 4 3 2 3 1.5 3 2 3 2 3 3 3 5 3 6 3 6 3 7 3 9 3 9 3 9 3 9 3 7.5 3 6.5 3 6.5 3 7 3 7 3 6.5 3 5.5 3 5.5 3 3 3 2.5 3 2 3 2.5 3 3 3 3 3 3.5 3 4 3 4 3 3.5 3 3.5 3 3 3 2.5 3 3 3 2 3 2 3 1.5 3 1.5 3 2 3 1.5 3 1.5 3 0.5 3 1 3 0.5 3 0.5 3 0.5 3-1 3-0.5 3-1 3 0 3-0.5 3 0 3 0 3-0.5 3-0.5 3-0.5 3-1 3-0.5 3-1 3-1.5 3-1.5 3-1 3-2 3-2 3-1.5 3-2 3-1.5 3-2 3-2 3-2 3-2.5 3-2.5 3-2 3-2.5 3-2.5 3-2.5 3-2 3-1.5 3-1 3-0.5 3-1 3-0.5 3-0.5 3 0.5 3-0.5 3 0 3-0.5 3-0.5 3-0.5 3 0 3-0.5 3 0 3-1.5 3-1.5 3-1.5 3-1.5 3-2 3-1.5 3-2 3-2 3-2 3-1.5 3-2 3-1.5 3-2 3-1.5 3-2 3-2.5 3-2 3-2.5 3-2 3-2 3-2.5 3-2.5 3-2.5 3-2.5 3-3 3-2 3-2.5 3-2.5 3-1.5 3-1.5 3-2 3-2 3-1.5 3-1.5 3-1 3-1.5 3-0.5 3 0 3 0 3 0 3 0 3-0.5 3-1 3-1 3-1 3-1 3-1 3-1 3-1 3-1 3-1.5 3-1.5 3-1.5 3-1 3-1.5 3-1 3-1.5 3-1.5 3-2 3-1.5 3-1.5 3-1.5 3-1 3-1 3-1 3-1.5 3-2 3-1.5 3-2 3-2.5 3-4 3-4 3-1.5 3-1 3-1 3-0.5 3-0.5 3-0.5 3 0 3-0.5 1 0" stroke="#976155"/>
<path d="M296 304.5l3-1.5 3-2 3-2 3-2.5 3-2 3-1.5 3-1.5 3-1 3-1.5 3-0.5 3-1 3-0.5 3-1 3 0.5 3 0.5 3 1.5 3 2 3 1.5 3 1.5 3 1.5 3 1 3 0.5 3 1 3 0.5 3 1 3 0.5 3 0 3-0.5 3-1.5 3-1.5 3-1 3-1.5 3-1.5 3-1.5 3-1 3-2 3-1.5 3-1.5 3-1.5 3-1.5 3-1.5 3-2 3-3 3-3 3-3 3-3 3-3 3-2.5 3-2.5 3-2.5 3-2.5 3-2.5 3-2 3-2 3-1 3-1 3-1 3-1 3-1 3-1.5 3-1.5 3-1 3 0 3 0 3 0 3 0.5 3 1 3 0.5 3 0.5 3 0.5 3 0.5 3 0 3 0.5 3 0.5 3 0 3 0.5 3 0.5 3 0.5 3 0.5 3 0.5 3 0.5 3 0.5 3 0.5 3 0 3 0.5 3 0 3 0.5 3 0.5 3 0.5 3 0 3 0.5 3 0 3 0 3 0.5 3 0 3 1 3 1 3 1 3 1 3 1 3 0.5 3 0.5 3 1 3 1.5 3 2 3 2 3 2 3 2 3 1.5 3 2.5 3 3 3 3 3 4.5 3 5.5 3 4.5 3 5 3 2.5 3 1 3 0.5 3 0.5 3 1.5 3 2.5 3 4.5 3 5.5 3 6 3 6.5 3 8.5 3 9 3 8.5 3 9 3 8 3 7.5 3 6.5 3 7.5 3 8.5 3 7.5 3 6.5 3 6 3 4.5 3 3 3 2.5 3 2.5 3 2.5 3 2.5 3 2.5 3 2 3 2 3 2.5 3 2 3 2 3 2 3 2.5 3 2.5 3 2 3 2.5 3 2.5 3 2.5 3 2.5 3 2 3 1.5 3 1.5 3 2 3 1 3 1 3 0 3-1 3-0.5 3-0.5 3-0.5 3-0.5 3-0.5 3-0.5 3-0.5 3 0 3-0.5 3 0 3-0.5 3-1 3-1.5 3-1.5 3-2.5 3-2.5 3-3 3-2.5 3-3 3-2.5 3-2.5 3-3 3-2 3-2 3-1.5 3-1.5 3-2 3-2 3-2 3-1.5 3-1.5 3-1.5 3-1.5 3-1 3-0.5 3 0.5 3 0.5 3 0.5 3 0 3 0 3 0 3 0 3 0 3-0.5 3-1 3-1.5 3-2 3-2 3-2.5 3-2.5 3-2.5 3-2.5 3-2.5 3-2.5 3-2 3-2 3-2 3-2 3-2 3-2 3-2.5 3-2.5 3-2 3-2 3-2 3-2.5 3-2 3-2 3-2 3-2.5 3-2 3-2.5 3-2 3-1.5 3-2 3-1.5 3-1.5 3-1 3-1 3-1.5 3-1 3-1 3-1 3-1 3-0.5 3 0 3-0.5 3 0 3 0 3 0 3-0.5 3-0.5 3-1 3-1 3-1 3-1 3-1.5 3-1.5 3-1.5 3-1.5 3-1.5 3-1.5 3-2 3-2 3-1.5 3-2 3-1.5 3-1.5 3-1 3-1.5 3-1.5 3-2 3-1.5 3-3 3-4 3-3.5 3-1 3 0 3 0 3 0 3-1 3-1.5 3-1 3-1.5 1 0" stroke="#986154"/>
<path d="M296 299.5l3-1 3-1 3-1.5 3-2 3-1.5 3-1 3-1 3-1 3-1 3-0.5 3-1 3-0.5 3-1 3 0 3 0.5 3 1.5 3 2 3 1.5 3 1.5 3 1.5 3 1.5 3 1 3 1 3 0.5 3 0.5 3 1 3 0 3-0.5 3-1 3-1.5 3-1.5 3-1.5 3-1.5 3-2 3-2 3-2 3-2 3-1.5 3-2 3-1.5 3-2 3-2 3-2.5 3-3 3-2.5 3-3 3-2.5 3-2.5 3-2 3-2 3-2 3-1.5 3-2.5 3-1.5 3-1.5 3-1.5 3-1 3-1 3-1 3-0.5 3-1 3 0 3 0 3 0 3 0 3 0.5 3 0 3 0.5 3 0 3 1 3 0.5 3 0.5 3 0.5 3 0.5 3 0 3 0 3-0.5 3-0.5 3 0 3 0 3 0 3 0.5 3 0 3 0.5 3 1 3 0.5 3 0.5 3 1 3 0.5 3 0.5 3 0.5 3 0.5 3 0 3 0.5 3 0 3 0 3 0.5 3 1 3 0.5 3 1 3 1.5 3 1.5 3 1.5 3 1.5 3 1.5 3 2 3 1.5 3 1.5 3 1 3 2 3 2.5 3 3 3 4.5 3 5 3 5.5 3 5.5 3 3 3 1.5 3 0.5 3 0.5 3 0.5 3 2 3 4.5 3 4.5 3 5.5 3 5.5 3 8 3 8 3 8.5 3 8 3 7.5 3 7 3 6.5 3 8 3 9 3 8 3 7.5 3 7 3 4.5 3 3 3 3 3 3 3 3.5 3 3.5 3 3.5 3 3.5 3 3 3 2.5 3 1.5 3 1.5 3 1.5 3 1.5 3 2 3 2 3 2 3 2 3 2 3 2 3 1.5 3 1 3 1.5 3 1 3 1.5 3 1 3 0 3 0 3-0.5 3-1 3-0.5 3-0.5 3-1 3-0.5 3-0.5 3 0 3-0.5 3-0.5 3-0.5 3-1.5 3-1.5 3-1 3-1.5 3-2 3-2 3-2 3-2.5 3-2 3-2.5 3-2 3-2.5 3-2 3-2.5 3-2.5 3-3 3-3 3-2.5 3-1.5 3-1.5 3-1 3-0.5 3-0.5 3 0 3 0.5 3 0.5 3 0 3 0 3 0 3-0.5 3 0 3 0 3-1 3-1.5 3-2 3-2 3-2.5 3-2 3-1.5 3-2 3-1.5 3-1 3-1 3-1 3-1.5 3-1.5 3-2 3-2 3-2.5 3-2 3-2.5 3-2.5 3-2.5 3-2.5 3-3 3-3 3-2.5 3-3 3-2.5 3-3 3-2 3-2 3-1.5 3-1.5 3-1 3-1.5 3-1 3-1 3-1.5 3-1 3-0.5 3-1 3-1 3-0.5 3-0.5 3-1 3-0.5 3 0 3-0.5 3 0 3 0 3-0.5 3-0.5 3-1.5 3-1.5 3-1.5 3-1.5 3-1 3-1.5 3-0.5 3-1.5 3-2 3-1.5 3-2 3-2 3-2.5 3-1.5 3-1 3-1.5 3-1 3-1 3-1 3-2 3-4.5 3-4 3-2.5 3-1 3-1 3-0.5 3 0 3 0 3 0.5 3 0.5 1 0.5" stroke="#996153"/>
<path d="M296 298.5l3-1 3-1.5 3-1.5 3-2 3-1 3-0.5 3 0 3-0.5 3-0.5 3-0.5 3-0.5 3-1 3-0.5 3 0 3 1.5 3 2 3 2 3 1.5 3 0.5 3 0.5 3 0.5 3 0.5 3 1 3 0.5 3 1 3 0.5 3 0 3-0.5 3-1.5 3-1.5 3-1.5 3-1.5 3-1.5 3-1.5 3-1 3-1.5 3-1.5 3-2 3-2 3-2 3-2 3-2 3-2 3-2 3-2 3-2 3-1.5 3-2 3-2.5 3-2.5 3-2.5 3-3 3-2.5 3-1.5 3-1.5 3-1 3-1.5 3-1 3-1 3-1 3-1 3-0.5 3 0 3 0 3 0 3-0.5 3-0.5 3-0.5 3-0.5 3 0 3 0 3 0.5 3 0.5 3 0.5 3 0.5 3 0.5 3 0.5 3 0.5 3 0.5 3 0.5 3 1 3 0.5 3 1 3 0.5 3 1 3 0 3 0 3 0 3 0 3 0.5 3 0 3 0.5 3 0 3 0.5 3 0 3 0.5 3 0.5 3 1 3 1 3 1 3 1.5 3 1.5 3 1.5 3 2 3 1.5 3 2 3 2 3 1.5 3 2 3 2 3 3 3 2.5 3 3.5 3 3.5 3 3.5 3 4 3 2 3 0.5 3 0 3 1 3 1 3 2.5 3 4.5 3 5 3 5.5 3 6 3 8.5 3 9 3 9 3 9 3 8 3 7 3 6.5 3 7 3 8.5 3 7.5 3 7 3 6.5 3 4.5 3 2.5 3 3 3 2.5 3 3 3 3 3 3 3 2.5 3 2.5 3 2.5 3 2.5 3 2.5 3 2.5 3 3 3 3 3 2.5 3 2.5 3 2.5 3 2 3 2 3 1.5 3 1 3 0.5 3 1 3 1 3 0.5 3-0.5 3-0.5 3-0.5 3-0.5 3-0.5 3 0 3 0 3-0.5 3 0 3-0.5 3-1 3-0.5 3-0.5 3-1.5 3-1.5 3-1 3-1.5 3-2 3-2 3-1.5 3-2 3-2.5 3-2.5 3-3 3-2.5 3-2.5 3-2.5 3-2.5 3-2 3-2.5 3-1.5 3-0.5 3-1 3-0.5 3-1 3-1 3-1 3 0 3 0.5 3 0 3 0.5 3 0.5 3 0 3 0 3 0 3-1 3-2 3-2 3-1.5 3-2 3-1 3-1.5 3-1.5 3-2 3-2 3-2 3-2 3-2.5 3-2.5 3-2.5 3-2.5 3-2.5 3-2 3-2 3-2 3-2 3-2.5 3-3 3-3 3-2.5 3-3 3-2.5 3-2.5 3-2.5 3-2 3-2 3-2 3-1.5 3-2 3-1 3-1.5 3-1 3-0.5 3-0.5 3-0.5 3-0.5 3-1 3 0 3-0.5 3 0 3-0.5 3 0 3-0.5 3-0.5 3 0 3 0 3-0.5 3 0 3 0 3-1 3-1.5 3-2 3-2 3-2.5 3-3 3-2.5 3-2.5 3-2 3-2 3-1.5 3-1 3-1 3-1 3-1.5 3-1 3-2 3-4 3-4 3-2.5 3-1 3-1.5 3-1 3-1 3-0.5 3-0.5 3 0 1 0.5" stroke="#9a6152"/>
<path d="M296 312l3-4 3-3.5 3-3.5 3-2.5 3-1.5 3-1.5 3-1 3-1.5 3-1 3-0.5 3-0.5 3-0.5 3 0 3 0 3 1.5 3 1.5 3 1.5 3 2 3 1 3 0.5 3 1 3 0.5 3 1 3 0.5 3 1 3 0.5 3 0.5 3 0 3 0 3-0.5 3 0 3-0.5 3-1 3-2 3-2 3-2.5 3-2.5 3-2 3-2.5 3-2 3-2 3-2 3-2 3-1.5 3-2 3-2 3-2.5 3-2.5 3-2.5 3-3 3-2.5 3-3 3-3 3-2.5 3-2 3-1.5 3-1.5 3-1 3-0.5 3 0 3 0 3 1 3 0.5 3 0.5 3 0 3 0 3-0.5 3-0.5 3 0 3 0.5 3 0 3 0.5 3 0 3 0 3 0 3 0 3 0 3 0.5 3 0.5 3 1 3 1 3 1.5 3 1.5 3 1 3 1 3 1 3 0.5 3 0 3 0 3 0 3-0.5 3 0.5 3 0 3 0 3 0 3 0 3 0 3 1 3 0.5 3 1.5 3 1 3 1 3 1 3 1 3 1.5 3 1.5 3 1.5 3 1.5 3 1 3 1.5 3 1.5 3 1.5 3 2.5 3 3.5 3 4 3 4 3 2 3 0 3 0.5 3 0.5 3 0.5 3 2.5 3 4.5 3 5 3 5 3 6 3 8 3 8.5 3 9 3 9 3 8 3 7.5 3 7.5 3 8 3 9 3 8 3 7 3 6 3 4 3 2.5 3 2 3 2 3 2.5 3 2.5 3 3 3 3 3 3.5 3 3.5 3 3 3 3 3 2.5 3 2.5 3 2 3 2 3 2 3 2 3 2 3 1.5 3 1.5 3 0.5 3 1 3 1 3 1.5 3 1 3 0.5 3 0.5 3 0 3 0 3 0 3 0 3-0.5 3-1 3-0.5 3-0.5 3-0.5 3-0.5 3-0.5 3-1 3-1.5 3-2 3-2 3-2.5 3-2.5 3-2.5 3-2 3-2.5 3-2.5 3-2.5 3-3 3-2.5 3-2.5 3-3 3-3 3-3 3-2 3-1 3-0.5 3-0.5 3-0.5 3-1 3-0.5 3 0 3 0 3-0.5 3 0 3 0 3 0.5 3 0.5 3 0.5 3 0.5 3-1 3-1 3-2 3-2.5 3-2.5 3-2.5 3-2.5 3-2.5 3-1.5 3-1.5 3-1.5 3-1.5 3-2 3-2 3-2.5 3-2 3-2.5 3-2 3-2.5 3-2.5 3-3 3-3.5 3-3 3-3 3-3 3-2.5 3-2.5 3-2 3-0.5 3-0.5 3-1 3-0.5 3-1.5 3-1.5 3-1.5 3-2 3-1 3-0.5 3-0.5 3-0.5 3-0.5 3-0.5 3 0 3-0.5 3-0.5 3-0.5 3-0.5 3-1 3-0.5 3-0.5 3-1 3-0.5 3-0.5 3-1 3-1 3-1 3-1 3-2 3-2 3-2.5 3-2 3-2 3-2 3-1 3-1.5 3-1 3-1.5 3-1.5 3-1.5 3-2.5 3-4.5 3-5 3-2.5 3-1 3-0.5 3-0.5 3 0 3 0.5 3 0 3 0 1 0" stroke="#9a6051"/>
<path d="M296 311.5l3-3.5 3-4 3-3 3-3 3-1.5 3-0.5 3-0.5 3-1 3-1 3-0.5 3-0.5 3-1 3-0.5 3 0.5 3 1 3 2 3 1.5 3 2 3 1.5 3 1.5 3 1 3 1 3 0.5 3 0.5 3 0.5 3 0.5 3-0.5 3-0.5 3-1.5 3-1 3-1.5 3-1 3-1.5 3-1.5 3-2 3-1.5 3-2 3-1.5 3-1.5 3-1.5 3-2 3-2 3-2.5 3-2 3-2 3-2 3-2 3-2.5 3-2.5 3-2.5 3-3 3-3 3-3 3-2.5 3-1.5 3-1.5 3-1 3-1.5 3-0.5 3-1 3-0.5 3 0.5 3 0.5 3 0.5 3 0.5 3 0 3-0.5 3-0.5 3-1 3 0 3 0.5 3 0.5 3 0.5 3 0.5 3 1 3 0 3 0.5 3 0.5 3 0.5 3 1 3 0.5 3 1 3 0.5 3 1 3 0.5 3 1 3 0.5 3 1 3 0.5 3 0.5 3 0 3 0 3 0 3 0 3 0 3-0.5 3 0.5 3 1 3 1 3 1 3 0.5 3 1 3 0.5 3 1 3 1 3 1.5 3 2 3 1.5 3 1.5 3 2 3 2.5 3 2.5 3 3 3 3.5 3 4 3 3.5 3 2 3-0.5 3-1 3-1 3-1 3 1 3 3.5 3 4.5 3 5 3 6 3 9.5 3 9.5 3 10 3 9.5 3 8.5 3 7 3 7 3 7.5 3 8.5 3 8 3 7 3 6.5 3 4 3 3 3 2.5 3 2.5 3 3 3 2.5 3 2.5 3 2.5 3 2.5 3 2.5 3 2.5 3 3 3 3 3 2.5 3 2.5 3 2.5 3 2.5 3 2.5 3 2.5 3 2.5 3 2 3 1.5 3 1 3 1.5 3 1 3 1 3-1 3-1 3-1 3-0.5 3-0.5 3-0.5 3 0 3 0 3-0.5 3 0 3 0 3-0.5 3 0 3-1 3-1.5 3-1 3-1.5 3-2 3-2.5 3-2 3-2.5 3-3 3-3 3-3 3-3 3-2.5 3-2.5 3-2.5 3-2 3-2 3-2 3-1.5 3-1.5 3-2 3-1.5 3-1.5 3-0.5 3 0 3-0.5 3 0 3 0 3 0 3 0 3 0 3 0.5 3-0.5 3-0.5 3-1.5 3-1 3-1 3-1.5 3-1 3-1.5 3-2 3-2 3-2.5 3-2 3-2.5 3-2.5 3-2.5 3-2 3-1.5 3-1.5 3-1 3-1.5 3-2.5 3-3 3-3.5 3-4 3-3.5 3-3.5 3-3 3-3 3-2 3-1.5 3-1 3-1.5 3-1 3-1.5 3-1.5 3-2 3-1.5 3-1 3-1 3 0 3 0 3-0.5 3 0 3 0 3-0.5 3-0.5 3 0 3-0.5 3-0.5 3-0.5 3-1 3-1 3-0.5 3-0.5 3-0.5 3-0.5 3-0.5 3-1 3-2 3-2.5 3-2.5 3-2.5 3-2.5 3-2.5 3-1.5 3-1.5 3-1 3-1.5 3-1 3-0.5 3-2 3-4 3-4 3-1.5 3-0.5 3 0 3-1 3-0.5 3-1.5 3-2 3-2 1-0.5" stroke="#9b6050"/>
<path d="M296 313.5l3-3 3-4 3-3.5 3-3.5 3-2 3-2 3-1.5 3-1.5 3-0.5 3 0 3 0 3 0 3 0 3 0 3 1 3 1.5 3 1 3 1.5 3 0.5 3 1 3 0.5 3 1 3 1 3 0.5 3 1 3 1 3 1 3-0.5 3-1 3-0.5 3-1 3-1.5 3-1 3-1.5 3-1.5 3-2 3-2.5 3-2.5 3-2 3-2.5 3-2 3-2 3-2.5 3-2 3-2.5 3-1.5 3-2 3-2 3-2 3-2 3-2.5 3-2 3-2 3-1.5 3-1 3-1 3-1 3-1 3-1 3-1 3-1 3-1 3-1 3-0.5 3-1 3-0.5 3-0.5 3 0 3 0 3 0.5 3 0.5 3 0.5 3 0.5 3 0.5 3 1 3 0.5 3 1 3 1 3 0.5 3 0.5 3 0 3-0.5 3 0 3 0 3 1 3 1 3 1 3 1 3 1.5 3 0.5 3 1 3 0.5 3 0 3 0.5 3 0 3 0 3 1 3 0.5 3 0.5 3 0.5 3 0.5 3 0.5 3 0.5 3 0.5 3 0.5 3 1.5 3 1 3 1 3 1.5 3 1.5 3 2.5 3 2 3 3.5 3 3 3 3.5 3 3.5 3 1 3-1 3-1.5 3-1.5 3-0.5 3 1.5 3 4 3 5.5 3 5.5 3 6 3 8.5 3 9 3 9.5 3 8.5 3 8.5 3 7 3 7.5 3 8 3 9.5 3 9.5 3 8 3 7.5 3 4 3 2 3 2.5 3 2.5 3 3 3 3 3 2.5 3 3 3 3 3 3.5 3 3 3 3 3 3.5 3 2.5 3 2.5 3 2.5 3 2 3 2 3 2.5 3 2 3 2 3 0.5 3 1 3 0.5 3 0.5 3 0.5 3-0.5 3-0.5 3-1 3-0.5 3-0.5 3-0.5 3-0.5 3 0 3-0.5 3 0 3-0.5 3 0 3-0.5 3-1.5 3-1.5 3-2 3-2 3-2 3-2 3-2 3-2 3-2 3-2.5 3-2 3-2 3-2 3-2 3-2.5 3-2.5 3-2.5 3-2.5 3-1 3-1 3-0.5 3-1 3-1 3-1 3 0 3-0.5 3 0 3-0.5 3 0 3 0 3 0 3 0 3-1 3-2 3-2 3-2 3-1.5 3-2 3-1 3-1.5 3-1.5 3-2 3-1.5 3-1.5 3-2 3-2 3-2 3-2.5 3-2 3-2.5 3-3 3-2.5 3-3 3-3 3-3 3-2.5 3-2.5 3-2 3-2 3-2.5 3-2 3-1 3-1.5 3-2 3-1.5 3-2 3-1.5 3-2 3-1.5 3-1 3-0.5 3 0 3-0.5 3 0 3 0 3 0 3 0 3-0.5 3-1 3-1 3-1 3-0.5 3-1 3-1 3-0.5 3-1 3-1 3-1 3-1 3-1.5 3-2 3-2 3-2 3-2 3-1.5 3-1 3-0.5 3-0.5 3-1 3-1 3-1.5 3-1 3-3 3-5 3-5 3-2 3-0.5 3 0 3-0.5 3-1 3-1 3-1.5 3-2 1-0.5" stroke="#9c604f"/>
<path d="M296 315l3-3.5 3-4 3-4.5 3-3.5 3-2.5 3-1.5 3-1.5 3-1 3-1 3-0.5 3 0 3-0.5 3 0 3 0.5 3 1.5 3 2 3 2 3 1.5 3 1 3 0.5 3 0.5 3 0.5 3 0.5 3 0.5 3 0.5 3 1 3 0.5 3-0.5 3-1 3-0.5 3-0.5 3-0.5 3-0.5 3-0.5 3-1 3-1 3-2.5 3-2.5 3-2.5 3-2.5 3-3 3-3 3-3 3-2.5 3-2.5 3-1.5 3-2 3-2 3-2.5 3-2.5 3-2.5 3-2 3-2.5 3-1 3-1 3-1 3-1.5 3-1 3-1 3-1 3-1.5 3-0.5 3 0 3-0.5 3-0.5 3-0.5 3 0 3-0.5 3 0.5 3 0.5 3 1.5 3 1 3 1.5 3 1 3 1 3 0.5 3 0 3 0.5 3 0 3-0.5 3 0 3-0.5 3 0 3 0 3 1 3 0.5 3 1.5 3 1 3 1 3 1 3 1 3 1 3 0.5 3 0.5 3 0 3 0.5 3 0 3 0.5 3 0.5 3 0 3 0.5 3 0.5 3 1 3 0.5 3 1.5 3 2 3 1.5 3 2 3 2 3 2 3 2.5 3 2.5 3 3 3 3.5 3 2.5 3 2.5 3 0 3-2 3-2.5 3-2 3-1.5 3 0 3 3.5 3 4.5 3 5 3 5.5 3 9 3 10.5 3 9.5 3 9.5 3 8.5 3 7 3 6.5 3 7.5 3 8.5 3 8 3 7.5 3 7 3 4.5 3 3 3 3 3 3 3 3.5 3 3.5 3 3 3 3 3 2.5 3 3 3 3 3 3.5 3 3.5 3 3.5 3 3 3 2.5 3 2.5 3 2 3 1.5 3 1.5 3 1 3 0.5 3 0.5 3 1 3 1.5 3 1 3 0 3-0.5 3-0.5 3-0.5 3-0.5 3-0.5 3 0 3-0.5 3-0.5 3-0.5 3-0.5 3 0 3-0.5 3-1 3-1.5 3-1.5 3-2.5 3-2.5 3-3 3-3 3-2.5 3-2 3-2 3-2.5 3-2 3-2.5 3-2.5 3-2.5 3-3 3-2.5 3-2 3-1.5 3-1 3-1 3-0.5 3-1 3-0.5 3 0.5 3 0 3 0.5 3 0.5 3 0.5 3 0.5 3 0 3 0 3-1 3-1.5 3-2 3-1.5 3-1.5 3-1.5 3-1.5 3-2 3-2.5 3-2.5 3-2 3-2 3-1.5 3-2 3-1.5 3-2 3-2 3-2 3-2.5 3-2 3-2.5 3-3 3-4 3-4 3-3.5 3-3 3-2.5 3-2.5 3-2 3-1 3-1 3-1 3-1.5 3-1.5 3-1.5 3-1.5 3-1.5 3-1 3 0 3-0.5 3-0.5 3 0 3 0.5 3 0 3 0.5 3 0 3 0 3-0.5 3-0.5 3-1 3-1 3-1 3-1 3-1 3-1 3-1 3-1 3-1.5 3-2 3-2 3-2 3-2 3-2 3-1.5 3-1 3-1.5 3-1.5 3-2 3-2 3-2 3-3 3-5.5 3-5 3-2 3-0.5 3 0 3 0 3 0.5 3 0 3 0.5 3 0.5 1 0.5" stroke="#9d604e"/>
<path d="M296 309.5l3-1.5 3-2 3-2 3-2.5 3-1.5 3-1 3-1 3-1 3-1 3 0 3 0 3-0.5 3 0 3 0.5 3 1.5 3 2 3 1.5 3 1 3 0.5 3 0 3 0.5 3 0.5 3 1 3 1.5 3 1 3 1.5 3 0.5 3-0.5 3-1.5 3-1 3-1.5 3-1 3-1.5 3-1 3-1 3-1.5 3-2.5 3-2 3-2.5 3-2.5 3-2 3-2.5 3-2 3-2 3-2 3-2 3-1.5 3-1.5 3-2 3-2 3-2.5 3-2 3-2.5 3-1.5 3-1 3-0.5 3-1 3-0.5 3-1.5 3-1.5 3-1.5 3-1 3-0.5 3-0.5 3 0.5 3 0 3 0.5 3 0 3 0 3 0.5 3 0.5 3 0 3 0.5 3 1 3 0.5 3 0.5 3 0.5 3 0.5 3 0 3 0 3 0.5 3 0 3 0 3 0.5 3 0.5 3 0.5 3 0.5 3 0.5 3 0.5 3 1 3 0.5 3 1 3 1 3 1 3 0.5 3 0 3 0.5 3 0.5 3 0.5 3 0.5 3 0 3 0.5 3 0.5 3 1 3 1 3 1.5 3 1.5 3 1.5 3 1 3 1.5 3 1.5 3 1.5 3 2 3 2 3 2.5 3 2 3-0.5 3-2.5 3-2 3-1 3-1 3 1.5 3 4.5 3 5 3 5.5 3 5.5 3 8.5 3 9 3 8.5 3 9 3 8 3 7 3 7 3 8.5 3 9.5 3 10 3 8 3 7.5 3 4.5 3 2 3 2 3 2 3 2.5 3 3 3 2.5 3 3 3 2.5 3 3 3 3 3 3.5 3 3.5 3 4 3 3 3 3 3 3 3 2.5 3 2.5 3 2 3 1.5 3 0 3 0.5 3 0 3 0 3 0.5 3 0 3 0 3 0 3 0 3 0 3 0 3-0.5 3-0.5 3-0.5 3-0.5 3 0 3-0.5 3-1 3-2 3-2.5 3-2.5 3-2 3-2 3-2 3-1.5 3-1.5 3-2 3-3 3-2.5 3-3 3-3 3-3 3-2.5 3-2.5 3-3 3-2 3-1.5 3-1.5 3-1 3-1 3 0 3 0 3 1 3 1 3 0 3 0 3 0 3 0 3 0 3 0 3 0 3-1.5 3-1 3-1.5 3-1.5 3-2 3-2 3-2.5 3-2 3-2.5 3-2.5 3-2 3-2.5 3-2.5 3-2 3-2.5 3-2 3-2 3-1.5 3-2 3-2.5 3-3 3-3 3-3 3-3 3-3.5 3-2.5 3-3 3-2.5 3-1 3-1 3-1.5 3-1 3-1.5 3-1.5 3-1 3-1.5 3 0 3 0 3 0 3-0.5 3-0.5 3-0.5 3-1 3-1 3-1 3-1 3-1.5 3-1 3-1 3-0.5 3 0 3 0 3 0.5 3 0 3-0.5 3-0.5 3-1 3-2 3-3 3-3 3-3 3-2 3-2 3-1 3-1 3-0.5 3-1 3-1 3-1 3-3 3-5.5 3-5.5 3-2.5 3 0 3 0 3 0.5 3 0.5 3 1 3 1 3 1 1 0" stroke="#9d604d"/>
<path d="M296 316l3-2 3-3.5 3-3.5 3-3.5 3-2.5 3-1.5 3-1 3-1 3-0.5 3 0 3 0 3 0 3 0 3 0.5 3 1.5 3 1.5 3 2 3 1.5 3 1.5 3 0.5 3 1 3 0.5 3 1 3 0.5 3 0.5 3 1 3 0 3-0.5 3-1 3-0.5 3-1 3-1 3-1.5 3-2 3-1.5 3-2 3-2 3-2 3-1.5 3-1.5 3-2 3-1.5 3-2 3-2.5 3-2.5 3-2.5 3-2 3-2.5 3-2.5 3-3 3-2.5 3-2.5 3-2.5 3-2 3-1 3-0.5 3-1 3-0.5 3-1 3-1 3-1 3-0.5 3-0.5 3-0.5 3-0.5 3-0.5 3-0.5 3 0 3 0 3 1 3 1 3 1 3 1.5 3 1 3 1 3 0.5 3 0.5 3 0.5 3 0 3-0.5 3 0 3 0.5 3 0 3 0.5 3 0.5 3 0.5 3 0 3 0 3 0 3 0.5 3 0 3 0.5 3 0.5 3 0 3 0 3 0.5 3 1 3 1 3 1.5 3 1 3 1.5 3 1.5 3 1 3 1 3 1 3 1 3 0.5 3 1 3 0.5 3 1 3 2 3 1.5 3 2 3 2 3 2 3 2 3-1 3-3 3-2.5 3-2.5 3-2 3 0.5 3 4 3 5 3 5 3 6.5 3 9 3 9.5 3 9.5 3 9 3 8 3 7 3 7 3 8.5 3 10 3 10 3 8 3 8 3 4 3 2 3 2 3 1.5 3 2.5 3 2.5 3 2.5 3 3 3 3 3 3 3 3 3 3.5 3 3 3 3 3 3 3 2.5 3 3 3 2.5 3 2.5 3 2.5 3 2 3 0.5 3 0.5 3 0.5 3 0.5 3 0.5 3-0.5 3-0.5 3-0.5 3 0 3 0 3 0 3-0.5 3-0.5 3-1 3-1 3-0.5 3-1 3-1 3-2 3-2 3-2 3-2 3-1.5 3-1.5 3-1.5 3-1 3-1.5 3-2 3-2 3-2.5 3-2.5 3-2.5 3-2.5 3-2 3-2.5 3-1.5 3-1 3-1 3-1 3-1 3-1 3-0.5 3 0.5 3 0.5 3 0 3 0 3-0.5 3-1 3-1.5 3-1 3-1 3-2 3-1 3-1.5 3-1 3-0.5 3-1 3-1.5 3-1 3-1.5 3-1.5 3-1.5 3-2.5 3-3 3-3 3-2.5 3-2.5 3-2 3-2 3-2 3-2 3-2.5 3-2.5 3-3 3-2.5 3-3 3-3 3-3 3-2.5 3-2 3-2 3-2 3-1.5 3-1.5 3-1 3-1.5 3-1.5 3-0.5 3-0.5 3-0.5 3 0 3 0 3-0.5 3 0 3-0.5 3-1 3-1 3-1 3-0.5 3 0 3 0 3-0.5 3 0 3-0.5 3-0.5 3-0.5 3-0.5 3-0.5 3-1.5 3-2.5 3-2.5 3-2.5 3-2.5 3-2.5 3-1.5 3-1 3-1 3-0.5 3-1 3-1.5 3-3 3-6 3-6 3-3 3 0 3 0 3 0.5 3 0.5 3 0.5 3 0.5 3 1 1 0" stroke="#9e604c"/><path d="M612 273.5l3 2.5 3 1.5 3 1 3 1.5 3 2.5 3 3 3 4 3 7 3 7 3 9.5 3 10 3 12 3 14 3 9 3 6 3 4 3 6 3 8 3 12 3 15 3 17 3 21.5 3 25 3 32 3 41 3 28 3 20 3 20 3 19.5 3 13 3 9 3 9 3 9 3 9 3 9 3 8.5 3 6.5 3 6 3 6 3 6 3 6 3 6 2 3.5" stroke="#9a2cc8"/><path d="M922 703.5l3-9 3-11 3-11 3-10.5 3-11 3-11 3-11 3-11 3-11 3-11 3-11 3-9 3-9 3-9 3-9 3-9 3-8 3-8 3-8 3-8 3-8 3-7 3-7 3-7.5 2-3.5" stroke="#f0069a" stroke-width="2.6"/></g></g>
<g><path d="M1482.0,236.0 C1483.3,237.3 1487.6,239.4 1489.6,244.0 C1491.5,248.6 1492.6,256.1 1493.7,263.7 C1494.8,271.3 1495.1,288.9 1496.3,289.6 C1497.5,290.3 1499.5,270.8 1501.0,268.0 C1502.5,265.2 1503.2,274.0 1505.0,273.0 C1506.8,272.0 1509.9,261.7 1512.0,261.9 C1514.1,262.1 1516.1,271.6 1517.4,274.4 C1518.7,277.2 1518.5,277.3 1520.0,278.9 C1521.5,280.5 1522.9,285.2 1526.3,284.2 C1529.7,283.1 1536.0,274.7 1540.6,272.6 C1545.2,270.5 1549.5,271.2 1554.0,271.7 C1558.5,272.1 1563.0,274.2 1567.4,275.3 C1571.8,276.4 1575.4,277.7 1580.2,278.5 C1585.0,279.3 1587.7,282.1 1596.3,280.3 C1604.9,278.5 1624.0,271.3 1632.0,267.7 C1640.0,264.1 1640.1,264.8 1644.6,258.8 C1649.1,252.9 1652.7,243.0 1658.9,232.0 C1665.2,221.0 1674.6,203.0 1682.1,192.6 C1689.5,182.2 1697.6,174.5 1703.6,169.4 C1709.6,164.3 1713.4,163.7 1717.9,162.2 C1722.4,160.7 1726.2,161.2 1730.4,160.4 C1734.6,159.7 1738.5,157.4 1743.0,157.7 C1747.5,158.0 1752.8,159.7 1757.3,162.2 C1761.8,164.7 1765.3,168.7 1769.8,172.9 C1774.3,177.1 1779.0,184.2 1784.1,187.2 C1789.2,190.2 1796.6,189.9 1800.2,190.8 C1803.8,191.7 1802.9,189.6 1805.6,192.6 C1808.3,195.6 1813.0,203.0 1816.3,208.7 C1819.5,214.4 1822.4,221.1 1825.1,226.8 C1827.8,232.5 1830.4,237.5 1832.6,242.9 C1834.8,248.3 1836.6,253.6 1838.0,259.0 C1839.4,264.4 1840.1,270.1 1841.2,275.1 C1842.3,280.1 1843.3,285.0 1844.4,289.1 C1845.5,293.2 1845.8,297.1 1847.6,299.8 C1849.4,302.5 1853.3,303.9 1855.1,305.2 C1856.9,306.4 1856.9,302.6 1858.4,307.3 C1860.0,312.1 1862.1,323.5 1864.4,333.7 C1866.7,343.9 1870.2,355.1 1872.4,368.5 C1874.6,381.9 1876.5,399.9 1877.8,414.2 C1879.1,428.5 1879.2,441.9 1880.5,454.4 C1881.8,466.9 1883.8,475.0 1885.9,489.3 C1888.0,503.6 1891.1,527.1 1892.9,540.0 C1894.8,552.9 1895.7,557.8 1897.0,566.8 C1898.3,575.8 1899.2,585.7 1901.0,593.7 C1902.8,601.8 1905.0,608.4 1907.7,615.1 C1910.4,621.8 1914.2,627.6 1917.1,633.9 C1920.0,640.2 1922.0,648.7 1925.1,652.7 C1928.2,656.7 1933.0,656.3 1935.9,658.1 C1938.8,659.9 1940.6,659.8 1942.6,663.4 C1944.6,667.0 1945.9,673.2 1947.9,679.5 C1949.9,685.8 1952.8,696.1 1954.6,701.0 C1956.4,705.9 1956.5,708.8 1958.7,709.0 C1961.0,709.2 1965.6,700.9 1968.1,702.3 C1970.5,703.6 1971.6,710.2 1973.4,717.1 C1975.2,724.0 1977.2,738.1 1978.8,743.9 C1980.4,749.7 1981.5,752.0 1982.8,752.0 C1984.1,752.0 1985.2,749.0 1986.8,743.9 C1988.4,738.8 1990.6,724.2 1992.2,721.1 C1993.8,718.0 1994.4,720.9 1996.2,725.1 C1998.0,729.4 2000.4,740.8 2002.9,746.6 C2005.4,752.4 2007.9,756.0 2011.0,760.0 C2014.1,764.0 2018.6,767.6 2021.7,770.7 C2024.8,773.8 2026.9,778.1 2029.8,778.8 C2032.7,779.5 2036.8,773.9 2039.2,774.8 C2041.7,775.7 2042.7,780.0 2044.5,784.2 C2046.3,788.5 2047.9,796.0 2049.9,800.3 C2051.9,804.5 2054.6,808.8 2056.6,809.7 C2058.6,810.6 2060.2,809.4 2062.0,805.6 C2063.8,801.8 2065.5,795.3 2067.3,786.8 C2069.1,778.3 2070.0,764.5 2072.7,754.7 C2075.4,744.9 2079.4,738.5 2083.4,727.8 C2087.4,717.1 2093.2,701.5 2096.8,690.3 C2100.4,679.1 2102.2,671.0 2104.9,660.7 C2107.6,650.4 2110.6,640.4 2112.9,628.5 C2115.2,616.6 2116.8,600.0 2118.7,589.1 C2120.6,578.2 2121.5,573.3 2124.4,563.3 C2127.3,553.3 2132.1,539.5 2135.9,529.0 C2139.7,518.5 2143.5,508.4 2147.3,500.3 C2151.1,492.2 2155.0,486.0 2158.8,480.3 C2162.6,474.6 2166.4,468.4 2170.2,466.0 C2174.0,463.6 2177.9,468.1 2181.7,466.0 C2185.5,463.9 2188.3,457.9 2193.1,453.1 C2197.9,448.3 2204.6,442.4 2210.3,437.4 C2216.0,432.4 2222.6,426.0 2227.4,423.1 C2232.2,420.2 2235.1,421.6 2238.9,420.2 C2242.7,418.8 2246.5,417.8 2250.3,414.5 C2254.1,411.2 2257.5,405.9 2261.8,400.2 C2266.1,394.5 2271.8,384.9 2276.1,380.1 C2280.4,375.3 2283.7,373.7 2287.5,371.6 C2291.3,369.5 2295.7,369.2 2299.0,367.3 C2302.3,365.4 2304.3,363.9 2307.6,360.1 C2310.9,356.3 2315.4,348.4 2319.0,344.4 C2322.6,340.3 2326.1,337.9 2329.0,335.8 C2331.9,333.7 2333.5,333.0 2336.2,331.5 C2338.9,330.0 2343.5,327.8 2345.0,327.0" fill="none" stroke="#000" stroke-width="3.2" stroke-linejoin="round"/>
<path d="M1482.0,236.0 C1482.7,237.9 1484.6,241.5 1486.0,247.6 C1487.4,253.7 1488.8,269.5 1490.5,272.6 C1492.2,275.7 1494.0,268.1 1496.0,266.0 C1498.0,263.9 1500.3,259.3 1502.2,260.1 C1504.1,260.9 1504.8,267.5 1507.5,270.8 C1510.2,274.1 1514.9,277.6 1518.3,279.8 C1521.7,282.0 1524.4,285.6 1528.1,284.2 C1531.8,282.8 1537.2,274.4 1540.6,271.7 C1544.0,269.0 1546.5,268.4 1548.7,268.1 C1550.9,267.8 1549.1,268.5 1554.0,270.0 C1558.9,271.5 1571.0,276.6 1578.0,277.1 C1585.0,277.6 1588.8,275.9 1596.3,273.1 C1603.8,270.4 1615.6,266.0 1623.1,260.6 C1630.5,255.2 1635.0,247.8 1641.0,240.9 C1647.0,234.0 1653.5,226.0 1658.9,219.4 C1664.3,212.8 1669.0,205.8 1673.2,201.6 C1677.4,197.4 1680.3,195.6 1683.9,194.4 C1687.5,193.2 1687.0,192.3 1694.7,194.4 C1702.5,196.5 1720.0,203.3 1730.4,206.9 C1740.8,210.5 1748.3,212.5 1757.3,215.9 C1766.2,219.3 1775.8,223.3 1784.1,227.5 C1792.4,231.7 1801.4,236.3 1807.4,240.9 C1813.4,245.5 1816.6,251.3 1819.9,255.2 C1823.2,259.1 1824.2,259.6 1827.0,264.2 C1829.8,268.8 1834.6,275.8 1836.9,282.6 C1839.2,289.4 1839.5,297.4 1841.0,305.0 C1842.5,312.6 1843.0,323.5 1845.6,328.3 C1848.1,333.1 1853.6,330.6 1856.3,333.7 C1859.0,336.8 1859.0,338.2 1861.7,347.1 C1864.4,356.0 1869.7,376.1 1872.4,387.3 C1875.1,398.5 1875.5,403.0 1877.8,414.2 C1880.0,425.4 1883.2,441.9 1885.9,454.4 C1888.6,466.9 1891.2,475.9 1893.9,489.3 C1896.6,502.7 1899.9,522.0 1902.0,534.9 C1904.1,547.8 1904.2,557.0 1906.3,566.8 C1908.4,576.6 1911.3,584.3 1914.4,593.7 C1917.5,603.1 1921.5,614.3 1925.1,623.2 C1928.7,632.1 1932.3,640.1 1935.9,647.3 C1939.5,654.4 1943.0,662.1 1946.6,666.1 C1950.2,670.1 1953.3,670.6 1957.3,671.5 C1961.3,672.4 1966.7,670.8 1970.7,671.5 C1974.7,672.2 1978.4,678.2 1981.5,675.5 C1984.6,672.8 1987.3,661.0 1989.5,655.4 C1991.7,649.8 1993.1,642.9 1994.9,642.0 C1996.7,641.1 1996.7,649.1 2000.3,650.0 C2003.9,650.9 2011.9,649.5 2016.4,647.3 C2020.9,645.1 2023.5,641.5 2027.1,636.6 C2030.7,631.7 2034.7,621.8 2037.8,617.8 C2040.9,613.8 2042.8,612.8 2045.9,612.4 C2049.0,612.0 2053.5,616.4 2056.6,615.1 C2059.7,613.8 2061.9,609.3 2064.6,604.4 C2067.3,599.5 2070.0,589.9 2072.7,585.6 C2075.4,581.4 2077.6,579.8 2080.7,578.9 C2083.8,578.0 2087.9,579.5 2091.5,580.2 C2095.1,580.9 2098.6,582.0 2102.2,582.9 C2105.8,583.8 2109.3,586.5 2112.9,585.6 C2116.5,584.7 2119.9,582.3 2123.7,577.6 C2127.5,572.9 2132.0,564.3 2135.9,557.6 C2139.8,550.9 2143.5,544.8 2147.3,537.6 C2151.1,530.5 2154.5,522.3 2158.8,514.7 C2163.1,507.1 2168.3,499.4 2173.1,491.8 C2177.9,484.2 2183.1,474.9 2187.4,468.9 C2191.7,462.9 2194.0,460.3 2198.8,456.0 C2203.6,451.7 2210.8,446.7 2216.0,443.1 C2221.2,439.5 2225.5,436.9 2230.3,434.5 C2235.1,432.1 2240.3,431.2 2244.6,428.8 C2248.9,426.4 2251.3,424.0 2256.1,420.2 C2260.9,416.4 2267.5,410.2 2273.2,405.9 C2278.9,401.6 2285.6,398.2 2290.4,394.4 C2295.2,390.6 2298.1,387.3 2301.9,383.0 C2305.7,378.7 2309.0,373.2 2313.3,368.7 C2317.6,364.2 2323.8,359.1 2327.6,355.8 C2331.4,352.5 2332.6,351.7 2336.2,348.7 C2339.8,345.7 2346.9,339.8 2349.0,338.0" fill="none" stroke="#f00" stroke-width="3.6" stroke-dasharray="17.5 17.5" stroke-linejoin="round"/>
<path d="M1487.4,234.2 C1488.1,237.6 1490.2,247.7 1491.4,254.7 C1492.6,261.7 1492.8,274.2 1494.5,276.2 C1496.2,278.1 1499.1,266.1 1501.3,266.4 C1503.5,266.7 1505.4,275.8 1507.5,278.0 C1509.6,280.2 1512.0,278.6 1513.8,279.8 C1515.6,281.0 1515.8,283.3 1518.3,285.1 C1520.8,286.9 1525.7,290.8 1529.0,290.5 C1532.3,290.2 1535.2,285.7 1537.8,283.2 C1540.5,280.7 1541.7,276.2 1545.1,275.3 C1548.5,274.4 1553.0,276.4 1558.5,278.0 C1564.0,279.6 1573.0,284.0 1578.0,285.1 C1583.0,286.2 1585.2,285.2 1588.3,284.7 C1591.3,284.2 1589.0,284.8 1596.3,282.0 C1603.6,279.2 1624.9,270.7 1632.0,267.7 C1639.1,264.7 1635.7,266.3 1638.7,264.2 C1641.7,262.1 1643.1,260.6 1650.0,255.2 C1656.9,249.8 1673.9,236.5 1680.4,232.0 C1686.9,227.5 1686.2,229.2 1689.2,228.4 C1692.1,227.7 1694.3,227.3 1698.2,227.5 C1702.1,227.7 1707.2,227.8 1712.6,229.3 C1718.0,230.8 1725.9,234.9 1730.4,236.4 C1734.9,237.9 1736.3,237.3 1739.6,238.2 C1742.9,239.1 1743.3,240.8 1750.1,241.8 C1756.9,242.9 1773.8,243.9 1780.5,244.5 C1787.2,245.1 1787.1,244.6 1790.0,245.2 C1793.0,245.8 1795.4,247.1 1798.2,248.3 C1801.0,249.5 1803.6,250.6 1806.8,252.6 C1810.0,254.6 1813.8,258.1 1817.6,260.1 C1821.4,262.1 1826.7,263.0 1829.4,264.4 C1832.1,265.8 1832.5,266.0 1833.7,268.7 C1835.0,271.4 1835.8,275.1 1836.9,280.5 C1838.0,285.9 1839.2,294.1 1840.5,301.0 C1841.7,307.9 1843.4,317.7 1844.5,322.0 C1845.6,326.3 1845.0,329.3 1847.0,327.0 C1849.0,324.7 1853.5,309.0 1856.3,308.2 C1859.1,307.4 1861.3,316.0 1864.0,322.0 C1866.7,328.0 1869.7,335.8 1872.4,344.4 C1875.2,353.0 1877.4,363.4 1880.5,373.9 C1883.6,384.4 1887.3,396.3 1890.9,407.5 C1894.5,418.7 1898.4,432.7 1902.0,441.0 C1905.6,449.3 1906.1,445.7 1912.7,457.1 C1919.3,468.5 1932.9,496.0 1941.4,509.4 C1949.9,522.8 1956.8,531.8 1963.7,537.6 C1970.6,543.4 1977.8,543.2 1982.5,544.3 C1987.2,545.4 1986.5,545.9 1991.8,544.3 C1997.2,542.7 2007.2,540.5 2014.6,534.9 C2022.0,529.3 2031.5,515.4 2036.1,510.7 C2040.7,506.0 2039.1,509.8 2042.2,506.7 C2045.4,503.6 2050.6,496.7 2054.9,492.0 C2059.2,487.3 2063.4,482.4 2068.3,478.6 C2073.2,474.8 2080.3,470.4 2084.4,469.2 C2088.5,468.0 2088.9,470.3 2092.7,471.7 C2096.5,473.1 2102.4,476.2 2107.2,477.4 C2112.0,478.6 2116.8,480.3 2121.6,478.9 C2126.4,477.5 2132.3,472.0 2135.9,468.9 C2139.5,465.8 2139.3,465.1 2143.1,460.3 C2146.9,455.5 2153.8,446.9 2158.8,440.2 C2163.8,433.5 2167.3,426.4 2173.1,420.2 C2178.9,414.0 2186.4,407.8 2193.6,403.0 C2200.7,398.2 2207.6,395.7 2216.0,391.6 C2224.4,387.6 2234.5,382.3 2244.0,378.7 C2253.5,375.1 2264.8,373.7 2273.2,370.1 C2281.6,366.5 2287.8,360.8 2294.4,357.2 C2301.1,353.6 2307.3,352.5 2313.3,348.7 C2319.3,344.9 2325.2,337.4 2330.5,334.3 C2335.8,331.2 2342.5,330.7 2344.9,330.0" fill="none" stroke="#0000ff" stroke-width="3.4" stroke-linejoin="round"/>
<circle cx="1487.4" cy="234.2" r="8.4" fill="#fff" stroke="#7c7cff" stroke-width="1.5"/>
<circle cx="1537.8" cy="283.2" r="8.4" fill="#fff" stroke="#7c7cff" stroke-width="1.5"/>
<circle cx="1588.3" cy="284.7" r="8.4" fill="#fff" stroke="#7c7cff" stroke-width="1.5"/>
<circle cx="1638.7" cy="264.2" r="8.4" fill="#fff" stroke="#7c7cff" stroke-width="1.5"/>
<circle cx="1689.2" cy="228.4" r="8.4" fill="#fff" stroke="#7c7cff" stroke-width="1.5"/>
<circle cx="1739.6" cy="238.2" r="8.4" fill="#fff" stroke="#7c7cff" stroke-width="1.5"/>
<circle cx="1790.0" cy="245.2" r="8.4" fill="#fff" stroke="#7c7cff" stroke-width="1.5"/>
<circle cx="1840.5" cy="301.0" r="8.4" fill="#fff" stroke="#7c7cff" stroke-width="1.5"/>
<circle cx="1890.9" cy="407.5" r="8.4" fill="#fff" stroke="#7c7cff" stroke-width="1.5"/>
<circle cx="1941.4" cy="509.4" r="8.4" fill="#fff" stroke="#7c7cff" stroke-width="1.5"/>
<circle cx="1991.8" cy="544.3" r="8.4" fill="#fff" stroke="#7c7cff" stroke-width="1.5"/>
<circle cx="2042.2" cy="506.7" r="8.4" fill="#fff" stroke="#7c7cff" stroke-width="1.5"/>
<circle cx="2092.7" cy="471.7" r="8.4" fill="#fff" stroke="#7c7cff" stroke-width="1.5"/>
<circle cx="2143.1" cy="460.3" r="8.4" fill="#fff" stroke="#7c7cff" stroke-width="1.5"/>
<circle cx="2193.6" cy="403.0" r="8.4" fill="#fff" stroke="#7c7cff" stroke-width="1.5"/>
<circle cx="2244.0" cy="378.7" r="8.4" fill="#fff" stroke="#7c7cff" stroke-width="1.5"/>
<circle cx="2294.4" cy="357.2" r="8.4" fill="#fff" stroke="#7c7cff" stroke-width="1.5"/>
<circle cx="2344.9" cy="330.0" r="8.4" fill="#fff" stroke="#7c7cff" stroke-width="1.5"/></g>
<rect x="295.8" y="52.8" width="870.7" height="869.8000000000001" fill="none" stroke="#1c1c1c" stroke-width="3.0"/>
<path d="M366.2,922.6v13.5 M366.2,52.8v13 M601.7,922.6v13.5 M601.7,52.8v13 M837.1,922.6v13.5 M837.1,52.8v13 M1072.6,922.6v13.5 M1072.6,52.8v13 M483.9,922.6v7 M483.9,52.8v6 M719.4,922.6v7 M719.4,52.8v6 M954.9,922.6v7 M954.9,52.8v6 M295.8,52.8h-14 M1166.5,52.8h-13 M295.8,284.7h-14 M1166.5,284.7h-13 M295.8,516.6h-14 M1166.5,516.6h-13 M295.8,748.5h-14 M1166.5,748.5h-13 M295.8,168.8h-7.5 M1166.5,168.8h-6 M295.8,400.6h-7.5 M1166.5,400.6h-6 M295.8,632.5h-7.5 M1166.5,632.5h-6 M295.8,864.5h-7.5 M1166.5,864.5h-6" stroke="#1c1c1c" stroke-width="3.0" fill="none"/>
<rect x="1480.6" y="52.9" width="869.9000000000001" height="869.7" fill="none" stroke="#1c1c1c" stroke-width="3.0"/>
<path d="M1580.7,922.6v13.5 M1580.7,52.9v13 M1804.3,922.6v13.5 M1804.3,52.9v13 M2027.9,922.6v13.5 M2027.9,52.9v13 M2251.5,922.6v13.5 M2251.5,52.9v13 M1692.5,922.6v7 M1692.5,52.9v6 M1916.1,922.6v7 M1916.1,52.9v6 M2139.7,922.6v7 M2139.7,52.9v6 M1480.6,53.4h-14 M2350.5,53.4h-13 M1480.6,295.0h-14 M2350.5,295.0h-13 M1480.6,536.6h-14 M2350.5,536.6h-13 M1480.6,778.2h-14 M2350.5,778.2h-13 M1480.6,174.2h-7.5 M2350.5,174.2h-6 M1480.6,415.8h-7.5 M2350.5,415.8h-6 M1480.6,657.4h-7.5 M2350.5,657.4h-6 M1480.6,899.0h-7.5 M2350.5,899.0h-6" stroke="#1c1c1c" stroke-width="3.0" fill="none"/>
<rect x="462.6" y="440.9" width="55.2" height="353" fill="url(#cb)"/>
<text transform="translate(131.59,95.87) scale(0.9911,1)" style="font-size:73.36px;" fill="#000" >0.04</text>
<text transform="translate(132.80,310.15) scale(0.9635,1)" style="font-size:75.19px;" fill="#000" >0.00</text>
<text transform="translate(94.00,547.27) scale(0.9835,1)" style="font-size:72.51px;" fill="#000" >–0.04</text>
<text transform="translate(94.00,768.28) scale(0.9981,1)" style="font-size:72.08px;" fill="#000" >–0.08</text>
<text transform="translate(307.89,1001.29) scale(0.9795,1)" style="font-size:70.81px;" fill="#000" >400</text>
<text transform="translate(543.54,1001.29) scale(0.9903,1)" style="font-size:70.81px;" fill="#000" >500</text>
<text transform="translate(778.12,1001.29) scale(0.9966,1)" style="font-size:70.81px;" fill="#000" >600</text>
<text transform="translate(1013.82,1001.29) scale(0.9966,1)" style="font-size:70.81px;" fill="#000" >700</text>
<text transform="translate(431.63,1078.70) scale(0.9626,1)" style="font-size:76.07px;">Wavelength / nm</text>
<text transform="translate(329.47,170.79) scale(0.9365,1)" style="font-size:101.19px;" fill="#000" >a</text>
<text transform="translate(414.45,428.00) scale(1.0437,1)" style="font-size:58.18px;">1.5 ns</text>
<text transform="translate(414.37,855.00) scale(1.0992,1)" style="font-size:55.27px;">0.1 ps</text>
<text transform="translate(1317.10,96.55) scale(0.9663,1)" style="font-size:74.91px;" fill="#000" >0.05</text>
<text transform="translate(1317.11,305.65) scale(0.9650,1)" style="font-size:74.91px;" fill="#000" >0.00</text>
<text transform="translate(1279.30,562.97) scale(0.9764,1)" style="font-size:73.07px;" fill="#000" >–0.05</text>
<text transform="translate(1279.30,799.27) scale(0.9773,1)" style="font-size:72.93px;" fill="#000" >–0.10</text>
<text transform="translate(1522.63,1001.29) scale(0.9839,1)" style="font-size:70.81px;" fill="#000" >400</text>
<text transform="translate(1744.98,1001.29) scale(0.9947,1)" style="font-size:70.81px;" fill="#000" >500</text>
<text transform="translate(1967.86,1001.29) scale(1.0010,1)" style="font-size:70.81px;" fill="#000" >600</text>
<text transform="translate(2191.46,1001.29) scale(1.0010,1)" style="font-size:70.81px;" fill="#000" >700</text>
<text transform="translate(1650.83,1081.10) scale(0.9582,1)" style="font-size:76.22px;">Wavelength / nm</text>
<text transform="translate(1507.95,156.58) scale(1.0157,1)" style="font-size:102.18px;" fill="#000" >b</text>
<text transform="translate(1664.20,679.00) scale(0.9315,1)" style="font-size:65.89px;">1.8 ps</text>
<text transform="translate(1663.37,755.00) scale(0.9637,1)" style="font-size:64.00px;">179 ps</text>
<text transform="translate(1660.90,839.00) scale(0.9678,1)" style="font-size:64.00px;">&gt;1.5 ns</text>
<path d="M1505,657.6H1646.7" stroke="#000" stroke-width="3.2"/>
<path d="M1505,733.8H1630" stroke="#f00" stroke-width="3.6" stroke-dasharray="17.5 17.5"/>
<path d="M1505,817H1646.7" stroke="#0000ff" stroke-width="3.4"/>
<circle cx="1575.5" cy="817" r="8.4" fill="#fff" stroke="#7c7cff" stroke-width="1.5"/>
<text transform="translate(78.50,586.05) rotate(-90)" style="font-size:88.00px;font-family:'Liberation Serif',serif;">Δ</text>
<text transform="translate(78.50,507.70) rotate(-90)" style="font-size:72.40px;font-style:italic;">O</text>
<text transform="translate(78.50,452.75) rotate(-90)" style="font-size:72.40px;font-style:italic;">.</text>
<text transform="translate(78.50,412.75) rotate(-90)" style="font-size:72.40px;font-style:italic;">D</text>
<text transform="translate(78.50,359.75) rotate(-90)" style="font-size:72.40px;font-style:italic;">.</text>
<text transform="translate(1277.60,614.85) rotate(-90)" style="font-size:74.80px;font-family:'Liberation Serif',serif;">Δ</text>
<text transform="translate(1277.60,546.40) rotate(-90)" style="font-size:72.40px;font-style:italic;">O</text>
<text transform="translate(1277.60,492.15) rotate(-90)" style="font-size:72.40px;font-style:italic;">.</text>
<text transform="translate(1277.60,451.75) rotate(-90)" style="font-size:72.40px;font-style:italic;">D</text>
<text transform="translate(1277.60,398.55) rotate(-90)" style="font-size:72.40px;font-style:italic;">.</text>
</svg></body></html>
